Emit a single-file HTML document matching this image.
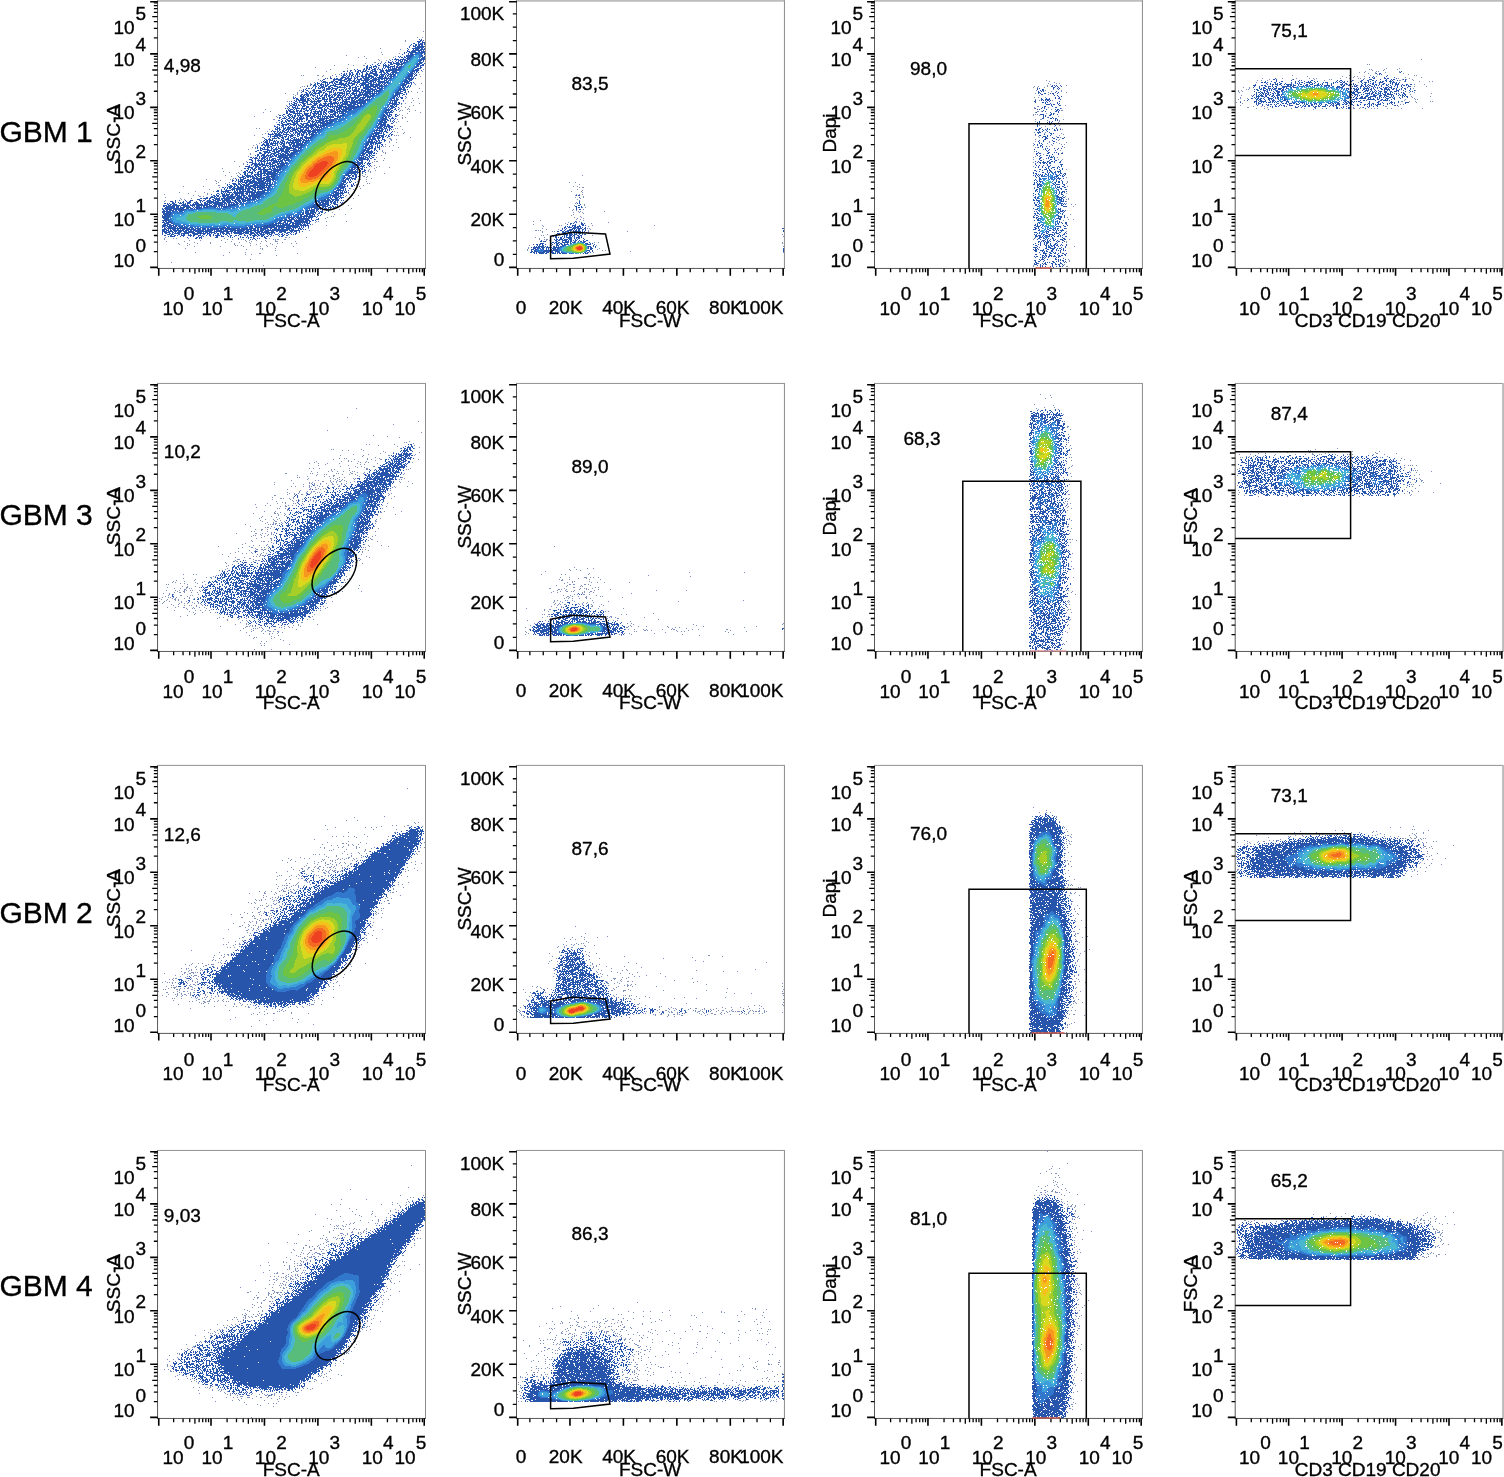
<!DOCTYPE html>
<html lang="en"><head><meta charset="utf-8"><title>GBM flow cytometry gating</title>
<style>html,body{margin:0;padding:0;background:#fff}body{width:1504px;height:1477px;overflow:hidden}svg{display:block}text{font-family:"Liberation Sans",sans-serif;font-size:19px;fill:#000;stroke:#000;stroke-width:0.35px}.row{font-size:30px}.d path{fill:none;stroke-width:1;shape-rendering:crispEdges}</style></head><body>
<svg width="1504" height="1477" viewBox="0 0 1504 1477">
<rect width="1504" height="1477" fill="#fff"/>
<g id="p00">
<g class="d" transform="translate(0 0.5)"><path stroke="#7f90bb" d="M423 31h1M417 37h1m4 0h1M405 40h1M405 41h1M380 48h1M400 49h1M381 52h1M399 53h1M382 54h1M346 55h1M364 56h1m30 0h1M358 57h1m34 0h1M366 58h1M378 59h1m10 0h1M379 60h1m6 0h1M381 61h1M374 62h2m5 0h1M365 63h1M348 64h1M334 65h1m18 0h1m9 0h2M315 67h1M347 68h1M330 69h1m92 0h1M347 70h1M326 71h1m95 0h1M335 74h1m3 0h1m79 0h1M301 75h1m1 0h1m13 0h2m4 0h1m8 0h1M322 76h1m7 0h1m89 0h1M318 79h1M314 82h1M310 83h1m103 0h1m6 0h1M310 84h1m104 0h1M307 85h1M302 86h1m1 0h1M300 87h1M419 88h1M299 90h1m1 0h1M411 91h1m10 0h1M297 92h1m110 0h1m8 0h1M285 93h1m11 0h1M293 94h1m3 0h1M295 95h1M293 96h1M406 97h1M405 98h1m6 0h1m5 0h1M413 100h1M287 101h1m1 0h1m113 0h1M411 102h1M405 103h1m13 0h1M401 104h1M286 105h1m126 0h1M401 106h1m7 0h1M405 107h1M399 108h1m8 0h1M265 109h1m141 0h1m1 0h1M400 110h1m1 0h1m12 0h1M270 111h1m128 0h1m9 0h1M263 112h1m156 0h1M407 113h1M278 114h1m120 0h1M398 115h1m3 0h1M254 116h1m21 0h1M277 117h1m124 0h1m2 0h1M402 118h1M273 119h2m122 0h1M398 121h1m8 0h1M276 122h1m119 0h1M274 125h1m119 0h1M400 126h1M256 128h1m2 0h1m135 0h1m1 0h1M269 129h1m123 0h1m8 0h1M267 131h1m126 0h1M397 132h1m6 0h1M265 133h1m137 0h1M262 134h1M254 135h1m139 0h1m1 0h1m1 0h1M262 137h2m146 0h1M389 138h2M390 139h2m4 0h1M391 140h1M389 141h1M389 142h1m6 0h1M259 143h1M256 144h1m128 0h1M253 145h1m3 0h1m135 0h1M383 146h1m1 0h1m3 0h1M252 147h1m2 0h1m142 0h1M255 148h1M248 149h1M382 150h1m9 0h1M382 151h1M383 152h1m1 0h1M250 153h1m134 0h1M250 154h1M381 155h1M248 156h1M376 157h1M384 158h1M375 159h1M383 160h1M234 161h1m11 0h1m127 0h1m1 0h2M372 162h1M243 163h1M243 164h1M374 165h1M239 166h1m131 0h1m7 0h1M376 167h1m12 0h1M222 168h1m151 0h1M369 169h1M241 170h1m126 0h1m6 0h1M223 171h1m144 0h1m1 0h1M229 172h1m8 0h1m131 0h1M236 173h1m2 0h1m144 0h1M365 174h1M225 175h1m11 0h1m124 0h1M231 176h1m131 0h2m2 0h1M366 177h1M233 178h1m137 0h1M206 179h1m23 0h1m1 0h1m127 0h1m5 0h1M215 180h1m4 0h1M216 181h1m140 0h1m8 0h1M218 182h1m10 0h1M216 183h1m8 0h1m141 0h1m1 0h1M356 184h1M218 185h2m136 0h1m6 0h1M183 186h1m19 0h1m153 0h1m1 0h1M219 187h1M350 188h1m9 0h1M209 189h1m143 0h1M195 191h1m17 0h1M179 192h1m24 0h1M188 193h1m18 0h1m140 0h1M164 194h1m42 0h1m141 0h1M193 195h1m4 0h1m147 0h1m5 0h1m5 0h1M199 196h2m2 0h1m141 0h1m5 0h1M165 197h1M180 198h1m10 0h1m161 0h1M181 199h1m2 0h1M165 200h1M164 201h1M344 202h1M340 205h1m7 0h1M351 208h1M339 209h1M332 212h1M324 213h1M334 214h1m10 0h1M331 216h1m1 0h1M327 217h1M325 218h1M316 221h1m1 0h1m7 0h1m19 0h1M315 222h1M312 224h1M326 225h1M308 228h1M309 230h1M165 237h1m119 0h2m2 0h1m16 0h1M164 238h1m8 0h1m2 0h1m11 0h1m35 0h1m44 0h1M164 239h1m62 0h1m4 0h1m5 0h1m2 0h1m1 0h1m29 0h1m1 0h1m1 0h2m5 0h2M189 240h1m10 0h1m20 0h1m23 0h1m3 0h1m6 0h1m8 0h1m9 0h1M166 241h1m17 0h1m46 0h1m14 0h1m4 0h1m9 0h1m4 0h1m8 0h3m17 0h1M194 242h1m15 0h1m14 0h1m13 0h1m9 0h1m32 0h1M178 243h1m8 0h1m9 0h1m12 0h1m23 0h1m15 0h1m9 0h1m9 0h1m6 0h1m13 0h1m4 0h1M179 244h1m9 0h1m44 0h1m21 0h1m15 0h1M187 245h1m47 0h1m1 0h1m3 0h1m8 0h1m15 0h1M194 246h1m25 0h1m22 0h1m16 0h1m6 0h1m8 0h1m16 0h1M185 248h1m74 0h1m1 0h1m12 0h1M246 249h1m15 0h1M275 250h1M195 252h1m33 0h1m15 0h1M259 253h2m36 0h1M245 254h1m5 0h1M223 255h1m52 0h1M250 259h1M171 262h1M263 265h1"/><path stroke="#2755ab" d="M419 39h1m1 0h1M420 40h2m1 0h1M417 41h4m1 0h1M418 42h2m2 0h3M413 43h2m3 0h1m1 0h3m1 0h1M411 44h1m3 0h2m1 0h5m1 0h1M410 45h1m2 0h1m1 0h2m1 0h2m1 0h2M409 46h1m3 0h3m1 0h8M409 47h1m5 0h9M407 48h1m4 0h8m1 0h2m1 0h1M408 49h1m4 0h1m1 0h4m1 0h5M407 50h1m4 0h10m1 0h1M407 51h3m1 0h5m2 0h2m1 0h4M404 52h1m1 0h1m2 0h16M404 53h1m3 0h1m1 0h3m2 0h8m1 0h1M402 54h1m5 0h1m1 0h12m2 0h1M406 55h17M398 56h1m1 0h1m3 0h1m1 0h17m1 0h1M399 57h1m1 0h2m1 0h2m1 0h14m1 0h3M395 58h1m7 0h1m2 0h14m1 0h4M392 59h1m1 0h5m1 0h6m1 0h18M390 60h1m5 0h1m1 0h3m1 0h1m1 0h18m1 0h1M388 61h1m3 0h1m2 0h1m2 0h1m1 0h3m1 0h1m1 0h15m2 0h1M385 62h1m2 0h4m1 0h1m2 0h3m1 0h2m1 0h15m1 0h4M378 63h1m1 0h1m3 0h1m5 0h2m1 0h7m1 0h21m2 0h1M372 64h1m4 0h1m5 0h1m1 0h1m2 0h1m1 0h3m3 0h7m1 0h16m2 0h2M367 65h1m2 0h1m4 0h1m2 0h2m3 0h4m1 0h2m4 0h1m2 0h2m2 0h1m1 0h16m1 0h4M366 66h2m3 0h1m1 0h4m6 0h1m1 0h4m1 0h5m1 0h2m1 0h20m1 0h1M366 67h2m1 0h3m1 0h1m2 0h1m1 0h1m4 0h1m1 0h1m1 0h4m1 0h1m1 0h1m1 0h21m3 0h2M364 68h1m1 0h2m1 0h1m1 0h1m2 0h2m2 0h1m3 0h1m1 0h1m3 0h1m1 0h1m1 0h5m1 0h17m2 0h4M354 69h1m2 0h1m5 0h2m1 0h1m1 0h2m2 0h4m1 0h1m1 0h2m1 0h1m3 0h1m1 0h26m1 0h4M350 70h2m3 0h1m2 0h3m2 0h1m1 0h2m4 0h2m1 0h2m4 0h4m1 0h34m2 0h1M343 71h2m2 0h1m2 0h1m4 0h1m1 0h2m1 0h1m1 0h4m1 0h2m1 0h1m1 0h5m3 0h4m2 0h4m2 0h5m1 0h17m1 0h2M349 72h1m1 0h2m4 0h2m2 0h2m3 0h1m3 0h3m2 0h2m2 0h3m1 0h2m1 0h2m3 0h22m1 0h1m1 0h1m1 0h1M341 73h1m2 0h1m1 0h1m2 0h2m1 0h1m3 0h2m1 0h1m2 0h1m3 0h2m1 0h8m4 0h1m2 0h2m1 0h2m1 0h1m1 0h2m1 0h19m1 0h1M343 74h2m1 0h1m2 0h2m1 0h2m2 0h2m1 0h1m2 0h1m2 0h5m3 0h5m2 0h5m1 0h1m1 0h25m1 0h1m1 0h1M341 75h1m1 0h3m1 0h1m1 0h1m1 0h2m2 0h1m1 0h1m3 0h2m2 0h2m1 0h4m2 0h4m1 0h1m1 0h3m1 0h1m1 0h2m1 0h2m1 0h20m2 0h2M336 76h1m5 0h2m2 0h1m1 0h2m1 0h1m1 0h1m1 0h1m1 0h3m1 0h6m1 0h6m2 0h1m2 0h5m1 0h1m1 0h1m1 0h24m1 0h1M330 77h1m10 0h5m1 0h2m2 0h1m2 0h1m1 0h2m4 0h2m1 0h5m1 0h3m1 0h1m1 0h6m1 0h3m1 0h1m1 0h20m1 0h1m1 0h1M325 78h1m1 0h1m2 0h2m2 0h1m1 0h2m2 0h3m2 0h7m2 0h2m1 0h1m2 0h2m1 0h6m1 0h2m1 0h4m1 0h36m1 0h1M323 79h2m8 0h9m2 0h3m1 0h3m3 0h1m2 0h5m2 0h6m2 0h8m1 0h2m1 0h1m1 0h2m1 0h18m1 0h5M320 80h1m1 0h1m10 0h2m3 0h7m2 0h5m1 0h2m1 0h1m1 0h2m1 0h8m1 0h7m1 0h2m4 0h3m1 0h20m1 0h3M321 81h1m1 0h3m5 0h3m1 0h3m2 0h2m2 0h4m1 0h1m2 0h4m1 0h3m3 0h1m1 0h3m1 0h5m1 0h1m1 0h8m1 0h24M317 82h1m4 0h6m1 0h4m1 0h1m1 0h2m1 0h3m4 0h1m1 0h2m1 0h1m2 0h6m2 0h7m1 0h2m1 0h3m2 0h25m1 0h5m1 0h2m1 0h1M315 83h1m1 0h3m1 0h1m3 0h1m1 0h1m1 0h1m2 0h1m1 0h2m3 0h5m1 0h2m1 0h7m2 0h1m2 0h6m2 0h4m1 0h1m2 0h1m1 0h3m1 0h1m1 0h2m1 0h18m1 0h4m1 0h1M311 84h1m2 0h2m1 0h1m2 0h4m1 0h1m1 0h2m4 0h1m1 0h11m1 0h2m3 0h3m1 0h1m2 0h1m1 0h8m1 0h10m1 0h1m1 0h2m1 0h21m4 0h1M310 85h1m2 0h3m2 0h1m1 0h2m1 0h1m1 0h3m2 0h6m5 0h1m1 0h4m1 0h2m1 0h2m3 0h1m3 0h4m1 0h4m1 0h4m1 0h8m1 0h22m2 0h1m1 0h1M307 86h1m5 0h1m1 0h2m2 0h1m1 0h3m1 0h2m1 0h3m3 0h4m1 0h2m3 0h1m1 0h2m1 0h2m4 0h1m1 0h2m1 0h1m2 0h1m1 0h13m1 0h22m1 0h2m1 0h1m1 0h2m1 0h1M312 87h1m2 0h1m2 0h1m1 0h5m3 0h2m1 0h2m4 0h9m3 0h2m1 0h5m3 0h1m2 0h8m2 0h3m1 0h3m1 0h20m1 0h3m1 0h2m1 0h1M306 88h1m1 0h2m1 0h1m3 0h1m2 0h3m1 0h1m1 0h1m1 0h5m1 0h6m6 0h1m1 0h1m1 0h3m1 0h1m2 0h2m1 0h2m3 0h6m1 0h3m2 0h1m1 0h25m1 0h2M303 89h1m1 0h1m7 0h2m8 0h2m1 0h4m1 0h2m2 0h2m2 0h1m1 0h3m1 0h2m2 0h1m2 0h1m1 0h3m1 0h2m1 0h2m2 0h12m2 0h27m1 0h1M303 90h1m2 0h2m4 0h3m1 0h5m1 0h3m1 0h1m4 0h1m1 0h2m1 0h1m2 0h3m1 0h1m1 0h1m1 0h2m1 0h1m1 0h7m2 0h5m1 0h4m1 0h3m1 0h25m2 0h3M302 91h2m4 0h1m1 0h1m2 0h2m1 0h1m2 0h3m3 0h1m1 0h5m1 0h1m9 0h2m1 0h5m2 0h7m1 0h1m1 0h10m1 0h25m1 0h3m2 0h1m2 0h1M301 92h1m3 0h2m2 0h2m1 0h1m1 0h2m2 0h4m1 0h2m4 0h3m1 0h1m1 0h1m1 0h6m1 0h1m1 0h1m2 0h1m2 0h2m2 0h1m2 0h5m1 0h6m1 0h1m1 0h1m1 0h1m1 0h23m3 0h2M306 93h2m1 0h1m1 0h1m1 0h7m3 0h1m1 0h2m2 0h1m4 0h2m1 0h1m1 0h6m1 0h4m1 0h6m2 0h2m1 0h1m1 0h39m3 0h1M301 94h2m1 0h5m1 0h3m2 0h1m3 0h1m2 0h1m2 0h3m1 0h1m1 0h1m1 0h4m1 0h2m2 0h1m1 0h1m1 0h2m2 0h1m1 0h3m1 0h1m1 0h10m1 0h2m1 0h22m1 0h5m3 0h2m1 0h1M300 95h2m1 0h2m1 0h3m1 0h1m1 0h3m2 0h1m1 0h1m1 0h2m1 0h3m1 0h3m1 0h1m1 0h2m1 0h5m1 0h2m1 0h1m1 0h1m1 0h2m2 0h8m1 0h6m1 0h28m1 0h1m2 0h1M300 96h4m1 0h1m1 0h2m4 0h1m1 0h1m1 0h1m2 0h2m2 0h1m1 0h1m1 0h2m1 0h2m1 0h1m2 0h2m1 0h1m1 0h2m1 0h1m3 0h2m3 0h2m1 0h3m3 0h1m1 0h31m1 0h1m1 0h1m5 0h1M293 97h1m1 0h1m5 0h4m1 0h1m4 0h1m4 0h2m1 0h1m2 0h3m1 0h1m2 0h5m2 0h7m1 0h2m1 0h12m1 0h6m1 0h4m1 0h23m1 0h1m1 0h1m1 0h3M293 98h2m1 0h2m2 0h4m1 0h1m1 0h3m2 0h2m1 0h1m1 0h4m1 0h3m2 0h1m1 0h2m3 0h3m2 0h1m1 0h2m3 0h1m1 0h2m1 0h3m1 0h3m1 0h2m1 0h3m2 0h1m1 0h1m1 0h24m1 0h2m3 0h2M296 99h3m1 0h6m1 0h2m1 0h1m2 0h1m1 0h2m1 0h1m3 0h6m1 0h3m1 0h5m1 0h2m1 0h1m1 0h6m1 0h2m1 0h2m2 0h6m1 0h27m2 0h1m1 0h3M294 100h1m1 0h1m1 0h8m1 0h3m1 0h1m2 0h1m2 0h5m2 0h1m1 0h1m2 0h2m2 0h3m2 0h2m2 0h2m1 0h2m4 0h4m1 0h42m5 0h1M291 101h1m3 0h2m2 0h1m2 0h6m2 0h11m3 0h4m1 0h3m3 0h1m1 0h1m4 0h8m1 0h7m1 0h7m1 0h24m1 0h1m1 0h3M293 102h2m2 0h1m1 0h5m2 0h2m3 0h2m1 0h1m1 0h1m1 0h2m5 0h1m4 0h2m1 0h4m1 0h1m1 0h3m1 0h4m1 0h42m1 0h1m1 0h3m1 0h2M289 103h1m1 0h1m2 0h3m5 0h4m1 0h1m2 0h1m2 0h5m2 0h1m2 0h4m1 0h11m1 0h1m1 0h6m2 0h6m1 0h40m2 0h1m1 0h1M289 104h1m2 0h3m1 0h1m1 0h1m1 0h1m2 0h2m2 0h5m2 0h3m2 0h3m2 0h2m1 0h2m1 0h3m1 0h1m2 0h1m1 0h1m1 0h11m1 0h5m2 0h2m1 0h27m2 0h7M290 105h2m1 0h4m1 0h2m1 0h1m1 0h3m6 0h4m1 0h1m1 0h10m1 0h1m1 0h1m2 0h1m1 0h6m2 0h1m1 0h8m2 0h2m1 0h29m1 0h3m1 0h1m1 0h1M287 106h1m1 0h1m2 0h1m2 0h1m1 0h1m4 0h3m1 0h3m2 0h3m3 0h1m1 0h1m2 0h3m1 0h1m1 0h10m1 0h8m1 0h41m1 0h4m1 0h2M288 107h1m3 0h4m1 0h1m4 0h1m3 0h3m2 0h5m1 0h6m2 0h1m1 0h1m2 0h1m1 0h1m1 0h1m1 0h6m1 0h45m1 0h1m1 0h4m3 0h1M285 108h1m1 0h1m1 0h1m3 0h1m1 0h5m1 0h6m2 0h2m1 0h1m1 0h1m3 0h4m2 0h1m2 0h2m4 0h2m1 0h1m1 0h4m1 0h1m1 0h42m1 0h1m1 0h3m2 0h1M288 109h1m1 0h3m1 0h1m1 0h1m4 0h1m1 0h2m1 0h1m2 0h1m1 0h4m1 0h1m4 0h2m1 0h3m2 0h4m1 0h1m1 0h4m1 0h11m1 0h38m3 0h2m2 0h1M286 110h1m1 0h3m2 0h1m2 0h3m1 0h2m3 0h4m1 0h2m3 0h1m3 0h1m1 0h2m1 0h3m3 0h5m1 0h2m1 0h2m1 0h5m1 0h42m1 0h2m3 0h1M286 111h2m1 0h6m1 0h2m1 0h3m1 0h2m2 0h1m3 0h1m1 0h9m1 0h2m1 0h1m1 0h8m1 0h50m1 0h1m1 0h2m1 0h1M286 112h2m2 0h5m2 0h1m1 0h1m4 0h1m5 0h2m2 0h2m1 0h2m1 0h2m1 0h3m2 0h1m1 0h3m1 0h4m1 0h1m1 0h3m1 0h48M286 113h2m1 0h1m3 0h9m2 0h5m1 0h1m1 0h7m1 0h2m1 0h1m1 0h2m2 0h1m3 0h3m1 0h1m1 0h45m1 0h3m1 0h1M283 114h2m3 0h4m3 0h1m1 0h1m1 0h1m2 0h1m1 0h4m2 0h1m2 0h2m1 0h1m1 0h4m1 0h2m1 0h1m3 0h6m2 0h1m3 0h43m1 0h2m1 0h3m3 0h2M279 115h2m1 0h1m4 0h2m1 0h1m1 0h1m1 0h2m1 0h4m1 0h2m1 0h6m2 0h3m2 0h1m1 0h1m1 0h1m2 0h1m2 0h1m1 0h1m1 0h1m1 0h2m1 0h2m1 0h46m1 0h3m1 0h1m3 0h1m1 0h1M283 116h1m1 0h1m2 0h2m1 0h2m1 0h2m2 0h1m1 0h3m3 0h4m1 0h4m1 0h5m1 0h12m1 0h52m1 0h3m4 0h2M279 117h2m3 0h1m1 0h1m2 0h2m1 0h3m2 0h1m1 0h3m1 0h1m2 0h2m2 0h3m1 0h2m1 0h2m1 0h1m1 0h1m1 0h1m1 0h2m1 0h5m3 0h47m1 0h2m1 0h1m3 0h1M279 118h1m2 0h4m2 0h2m1 0h1m1 0h2m1 0h2m1 0h6m1 0h2m2 0h3m4 0h12m1 0h1m3 0h53m2 0h1m1 0h3m1 0h1M281 119h1m4 0h2m2 0h1m2 0h1m1 0h1m1 0h6m3 0h2m3 0h1m1 0h1m1 0h1m3 0h6m1 0h1m2 0h59m2 0h1m3 0h1M278 120h2m2 0h1m2 0h1m1 0h6m1 0h1m1 0h2m1 0h1m1 0h1m4 0h1m1 0h3m1 0h1m2 0h9m1 0h61m1 0h2m1 0h1m2 0h1M281 121h2m2 0h2m1 0h2m1 0h2m1 0h6m1 0h2m1 0h1m3 0h2m1 0h4m1 0h1m1 0h3m1 0h6m1 0h54m1 0h3m3 0h1m1 0h1m1 0h1M279 122h1m1 0h1m1 0h2m1 0h1m5 0h3m1 0h2m9 0h3m2 0h2m1 0h10m1 0h61m6 0h1M281 123h2m4 0h4m2 0h5m2 0h2m1 0h5m2 0h1m1 0h1m1 0h2m1 0h1m2 0h62m1 0h3m5 0h2M277 124h3m2 0h7m1 0h6m1 0h2m2 0h3m2 0h3m1 0h7m1 0h1m1 0h1m1 0h64m1 0h2M279 125h1m1 0h3m1 0h2m2 0h1m3 0h2m1 0h1m1 0h3m1 0h2m1 0h12m1 0h61m1 0h6m1 0h3M274 126h2m1 0h1m4 0h2m4 0h1m1 0h1m5 0h1m2 0h4m1 0h3m1 0h6m1 0h4m1 0h5m1 0h52m1 0h4m1 0h9M276 127h2m1 0h1m1 0h1m1 0h1m1 0h1m1 0h6m1 0h1m1 0h1m1 0h1m1 0h9m1 0h3m1 0h1m1 0h6m1 0h59m1 0h2m1 0h1m1 0h2m1 0h2M275 128h1m1 0h3m3 0h3m1 0h4m1 0h3m1 0h5m2 0h1m2 0h3m2 0h3m1 0h1m1 0h1m1 0h1m1 0h55m1 0h6m1 0h3m2 0h2M275 129h3m1 0h2m2 0h2m1 0h4m1 0h7m2 0h4m1 0h2m1 0h1m2 0h1m1 0h65m1 0h1m1 0h3m1 0h1m1 0h1m1 0h1m1 0h1M272 130h1m4 0h1m1 0h1m2 0h2m1 0h2m1 0h1m1 0h1m1 0h4m1 0h2m1 0h3m1 0h7m1 0h71m2 0h1m1 0h1m1 0h1M271 131h1m1 0h3m1 0h2m1 0h1m1 0h3m2 0h2m1 0h3m2 0h2m1 0h8m1 0h9m1 0h58m1 0h1m2 0h4m1 0h3m5 0h1M274 132h1m2 0h1m1 0h4m1 0h4m1 0h1m3 0h1m1 0h3m1 0h2m1 0h5m1 0h3m1 0h68m1 0h1m1 0h1m2 0h2m3 0h1M268 133h1m3 0h1m1 0h3m1 0h2m1 0h1m1 0h1m2 0h1m3 0h1m2 0h1m1 0h1m1 0h3m1 0h1m1 0h2m1 0h1m1 0h2m1 0h3m1 0h67m1 0h1m6 0h1M268 134h6m1 0h6m2 0h6m2 0h2m1 0h1m2 0h3m1 0h3m2 0h2m1 0h65m1 0h4m4 0h2m4 0h1m1 0h2M270 135h1m3 0h9m3 0h1m2 0h5m1 0h1m1 0h1m1 0h1m1 0h3m2 0h1m2 0h1m1 0h61m1 0h4m1 0h6m2 0h1m1 0h1m2 0h1M268 136h1m1 0h1m1 0h6m1 0h2m1 0h1m1 0h3m1 0h1m1 0h3m4 0h2m3 0h1m1 0h3m3 0h70m1 0h3m1 0h1m2 0h2M270 137h1m3 0h1m2 0h2m2 0h3m1 0h1m2 0h1m1 0h1m2 0h3m4 0h3m1 0h67m1 0h3m2 0h4m1 0h2m3 0h1M264 138h1m4 0h1m2 0h5m1 0h2m2 0h2m3 0h2m2 0h2m1 0h1m1 0h1m1 0h1m1 0h3m2 0h66m1 0h4m1 0h3m2 0h1M265 139h2m1 0h3m1 0h1m8 0h1m1 0h1m1 0h4m1 0h1m2 0h8m1 0h3m1 0h1m1 0h1m1 0h66m2 0h1m3 0h3M264 140h1m1 0h2m1 0h4m1 0h1m1 0h1m4 0h3m4 0h14m1 0h67m1 0h2m2 0h2m1 0h2m1 0h1m2 0h2M263 141h1m1 0h3m1 0h1m3 0h3m1 0h2m1 0h1m1 0h3m2 0h1m2 0h1m1 0h2m1 0h6m1 0h2m1 0h68m1 0h1m1 0h2m1 0h1m4 0h1M261 142h1m2 0h4m1 0h1m1 0h1m1 0h1m1 0h1m1 0h2m1 0h3m1 0h1m1 0h13m1 0h1m1 0h75m1 0h4M263 143h1m2 0h3m1 0h8m1 0h1m1 0h4m1 0h1m1 0h2m1 0h4m1 0h7m1 0h65m1 0h4m1 0h6M262 144h3m1 0h3m1 0h3m2 0h1m1 0h1m2 0h2m1 0h2m4 0h3m1 0h2m1 0h73m1 0h2m1 0h1m1 0h1m1 0h1m3 0h2M261 145h2m1 0h6m2 0h4m1 0h1m4 0h3m4 0h2m1 0h76m1 0h1m1 0h2m4 0h1m1 0h1m2 0h1M257 146h1m7 0h1m1 0h2m1 0h2m6 0h1m1 0h1m1 0h6m2 0h1m1 0h7m1 0h67m2 0h4m2 0h1m1 0h1m1 0h1m1 0h1M257 147h1m2 0h1m2 0h2m2 0h3m1 0h1m1 0h1m2 0h1m1 0h1m2 0h1m1 0h9m1 0h1m1 0h72m1 0h2m1 0h2m2 0h1m1 0h3M257 148h1m2 0h3m1 0h1m2 0h1m3 0h2m2 0h2m1 0h7m1 0h10m2 0h66m1 0h8m1 0h2m3 0h1M260 149h1m1 0h7m2 0h1m1 0h5m2 0h4m1 0h5m3 0h4m1 0h1m1 0h66m1 0h3m4 0h2m3 0h1M257 150h2m1 0h2m5 0h5m1 0h2m1 0h1m1 0h6m1 0h4m1 0h79m2 0h1m2 0h1m1 0h1M255 151h2m6 0h5m1 0h1m2 0h3m1 0h4m1 0h9m3 0h72m1 0h7m4 0h1M259 152h2m3 0h7m3 0h5m2 0h1m2 0h4m1 0h1m1 0h73m1 0h8m1 0h1M259 153h3m2 0h2m2 0h1m2 0h5m2 0h3m1 0h2m1 0h4m1 0h76m2 0h4m1 0h2m1 0h1M257 154h2m3 0h3m2 0h1m2 0h2m1 0h2m1 0h3m1 0h6m1 0h74m1 0h3m1 0h2m1 0h1m1 0h1M255 155h1m1 0h2m2 0h4m1 0h5m1 0h1m1 0h3m1 0h86m2 0h2m1 0h2m1 0h3M257 156h1m1 0h1m1 0h1m1 0h4m1 0h1m1 0h4m1 0h2m1 0h10m1 0h71m1 0h1m1 0h3m2 0h2m1 0h1M250 157h2m1 0h1m1 0h2m2 0h1m2 0h4m1 0h1m1 0h3m5 0h87m1 0h3m1 0h1m2 0h2M252 158h1m1 0h4m1 0h1m1 0h4m1 0h2m1 0h1m2 0h4m3 0h3m1 0h6m1 0h76m1 0h2m1 0h2M249 159h3m3 0h1m2 0h1m2 0h2m1 0h2m1 0h1m1 0h1m1 0h3m1 0h1m1 0h4m1 0h3m1 0h83m5 0h1M251 160h2m2 0h1m1 0h5m1 0h2m1 0h11m1 0h1m1 0h3m1 0h74m1 0h4m4 0h1m1 0h1M252 161h1m2 0h1m2 0h1m1 0h6m1 0h1m3 0h1m1 0h10m2 0h1m2 0h71m2 0h2m6 0h1M247 162h1m1 0h4m2 0h1m3 0h1m1 0h1m2 0h1m2 0h1m1 0h2m1 0h6m1 0h1m1 0h3m1 0h78m2 0h1m2 0h1M252 163h5m1 0h2m1 0h2m1 0h1m1 0h5m1 0h3m2 0h78m2 0h6m1 0h1m2 0h4M247 164h1m3 0h2m1 0h11m1 0h1m2 0h4m2 0h1m1 0h2m1 0h5m1 0h75m1 0h1m4 0h1m1 0h1M249 165h1m1 0h1m2 0h4m1 0h2m1 0h7m1 0h1m1 0h5m1 0h82m1 0h1m1 0h2m3 0h1m1 0h1M245 166h5m3 0h1m1 0h4m2 0h2m2 0h1m1 0h1m1 0h6m1 0h80m1 0h2m1 0h4m5 0h1M248 167h5m2 0h2m1 0h3m2 0h3m2 0h1m1 0h1m1 0h1m1 0h1m1 0h84m2 0h1m1 0h1m1 0h1M244 168h2m1 0h2m2 0h2m1 0h2m2 0h3m2 0h2m4 0h2m1 0h4m1 0h1m1 0h74m1 0h2m1 0h1m2 0h3M248 169h1m1 0h1m1 0h3m1 0h1m1 0h14m1 0h82m1 0h2m1 0h1m1 0h2m1 0h1M246 170h2m2 0h1m2 0h3m4 0h2m1 0h5m3 0h82m2 0h1m1 0h1m1 0h2m3 0h2M244 171h2m1 0h1m1 0h1m2 0h1m1 0h1m3 0h4m1 0h9m1 0h85m2 0h1m1 0h3M243 172h3m2 0h5m2 0h1m1 0h2m1 0h2m1 0h3m1 0h9m1 0h82m3 0h1m2 0h1M244 173h2m1 0h1m3 0h2m4 0h2m1 0h96m1 0h1m4 0h1M240 174h1m3 0h2m1 0h1m3 0h1m2 0h8m2 0h1m1 0h83m2 0h1m2 0h3m2 0h1M242 175h1m2 0h6m1 0h1m1 0h2m1 0h2m1 0h2m1 0h3m1 0h2m2 0h80m1 0h2m1 0h2M238 176h1m3 0h3m1 0h8m1 0h2m1 0h4m4 0h79m3 0h2m2 0h2m1 0h2m1 0h1M239 177h5m1 0h1m1 0h2m1 0h1m1 0h3m1 0h2m2 0h2m1 0h7m1 0h75m1 0h1m1 0h3m3 0h2m2 0h1M235 178h1m4 0h1m2 0h3m6 0h13m1 0h5m1 0h73m1 0h4m1 0h5M236 179h1m1 0h1m1 0h4m3 0h2m1 0h2m1 0h2m1 0h6m1 0h81m1 0h4m1 0h1m1 0h1m1 0h2M232 180h2m2 0h1m1 0h1m1 0h3m1 0h7m1 0h3m2 0h8m1 0h5m1 0h74m2 0h1m1 0h1M232 181h1m2 0h1m2 0h5m1 0h1m1 0h11m1 0h6m1 0h6m2 0h73m3 0h1m1 0h1M238 182h1m1 0h1m1 0h6m1 0h17m1 0h1m1 0h2m1 0h1m1 0h68m1 0h3m1 0h1m1 0h2m4 0h1M232 183h4m2 0h2m1 0h1m3 0h2m1 0h5m1 0h17m1 0h72m2 0h1m6 0h1M227 184h1m1 0h1m3 0h4m1 0h3m1 0h3m1 0h4m3 0h5m1 0h6m1 0h2m1 0h77m5 0h1m1 0h1M227 185h1m2 0h2m2 0h1m1 0h2m2 0h2m1 0h6m1 0h93m1 0h1m2 0h1m3 0h2m1 0h1M228 186h5m1 0h2m1 0h2m1 0h4m1 0h11m1 0h8m1 0h1m1 0h78m1 0h1m3 0h2M222 187h2m1 0h1m1 0h1m1 0h3m1 0h2m2 0h7m1 0h2m1 0h3m2 0h92M224 188h1m2 0h1m1 0h2m1 0h12m1 0h8m1 0h2m1 0h1m1 0h6m2 0h72m1 0h4m1 0h1m3 0h1M221 189h1m2 0h1m1 0h1m4 0h4m1 0h10m1 0h3m1 0h3m1 0h1m1 0h6m1 0h2m1 0h69m1 0h4m2 0h1m1 0h1M217 190h2m2 0h1m3 0h6m1 0h1m1 0h1m1 0h2m1 0h2m1 0h2m1 0h1m1 0h3m2 0h4m2 0h1m3 0h73m1 0h8m1 0h1m2 0h1M216 191h3m2 0h8m5 0h2m1 0h1m1 0h14m1 0h2m1 0h8m2 0h70m1 0h1m1 0h1m1 0h1m1 0h1m1 0h1M221 192h1m1 0h1m1 0h1m1 0h5m1 0h11m2 0h93m1 0h3m1 0h3m1 0h1M217 193h2m2 0h2m1 0h1m1 0h1m2 0h1m2 0h1m1 0h10m1 0h3m1 0h1m1 0h4m1 0h78m1 0h9M211 194h1m4 0h1m2 0h1m2 0h3m1 0h4m1 0h3m1 0h3m1 0h1m1 0h3m2 0h2m1 0h1m1 0h81m1 0h6m1 0h1m1 0h1M213 195h2m1 0h3m3 0h7m1 0h3m2 0h5m1 0h5m2 0h91m1 0h2m1 0h1M211 196h2m1 0h2m1 0h2m1 0h1m1 0h4m1 0h9m1 0h5m1 0h2m1 0h1m1 0h81m1 0h1m1 0h5m1 0h3M206 197h2m2 0h5m1 0h1m2 0h1m3 0h2m1 0h9m1 0h6m1 0h5m1 0h2m1 0h79m1 0h1m1 0h5m1 0h4M200 198h2m1 0h5m1 0h2m3 0h6m1 0h14m1 0h8m1 0h6m1 0h4m1 0h72m1 0h2m3 0h3m1 0h1m1 0h1M197 199h3m5 0h1m3 0h1m2 0h2m1 0h5m1 0h2m1 0h6m1 0h2m2 0h5m1 0h5m1 0h79m1 0h3m1 0h8M175 200h1m3 0h1m5 0h1m4 0h3m6 0h3m1 0h2m2 0h4m2 0h3m1 0h4m1 0h9m1 0h4m1 0h4m1 0h89m1 0h2m1 0h4m2 0h1m1 0h1M170 201h3m2 0h1m7 0h1m2 0h1m2 0h2m5 0h1m3 0h1m1 0h1m3 0h8m1 0h4m3 0h3m1 0h5m3 0h3m1 0h3m1 0h4m1 0h73m1 0h8m1 0h3m1 0h2m1 0h1M172 202h2m1 0h1m2 0h1m1 0h1m1 0h2m3 0h4m3 0h4m2 0h1m3 0h2m1 0h19m1 0h7m1 0h3m1 0h3m1 0h74m1 0h6m1 0h4m1 0h2m1 0h3m1 0h1m2 0h1m1 0h1M164 203h2m1 0h1m1 0h1m2 0h3m4 0h3m1 0h1m1 0h1m1 0h3m3 0h1m1 0h4m2 0h1m2 0h4m1 0h3m1 0h10m1 0h3m1 0h2m1 0h1m1 0h2m1 0h3m1 0h78m1 0h2m1 0h7m2 0h1m1 0h3m5 0h1M167 204h2m1 0h2m1 0h4m5 0h4m1 0h1m2 0h1m1 0h11m1 0h6m2 0h1m1 0h11m1 0h1m1 0h10m1 0h90m1 0h1m3 0h4M163 205h4m1 0h3m1 0h8m1 0h8m1 0h5m1 0h12m1 0h3m1 0h4m1 0h5m1 0h1m1 0h1m1 0h98m1 0h3m2 0h1m4 0h1M163 206h2m1 0h9m1 0h3m1 0h1m2 0h7m2 0h1m1 0h1m1 0h4m1 0h1m1 0h2m1 0h11m1 0h2m1 0h99m2 0h6m2 0h1m1 0h2m1 0h1m1 0h2M165 207h10m1 0h3m1 0h5m1 0h5m2 0h1m1 0h7m1 0h13m1 0h1m1 0h1m1 0h1m1 0h95m1 0h2m1 0h2m1 0h1m2 0h4m1 0h2m2 0h1M162 208h1m1 0h20m2 0h3m1 0h3m1 0h1m1 0h114m1 0h1m2 0h7m1 0h1m1 0h3m1 0h1m1 0h1M162 209h2m1 0h7m1 0h135m1 0h1m1 0h4m1 0h3m1 0h1m1 0h1m1 0h4M163 210h2m1 0h2m1 0h5m1 0h2m1 0h137m1 0h2m4 0h1m3 0h1m1 0h1M162 211h9m1 0h6m1 0h125m1 0h4m1 0h5m1 0h1m1 0h1m1 0h3m5 0h1M162 212h3m1 0h138m1 0h4m1 0h6m3 0h1m1 0h2m2 0h1M163 213h138m1 0h2m1 0h9m1 0h1m2 0h2M163 214h141m2 0h5m1 0h3m2 0h1m3 0h1M162 215h1m1 0h135m1 0h2m2 0h4m1 0h4m1 0h1m3 0h1m1 0h1M162 216h128m1 0h1m1 0h6m1 0h16m1 0h1M162 217h133m1 0h6m1 0h2m1 0h1m1 0h5m3 0h1M163 218h124m1 0h2m1 0h3m1 0h1m1 0h13m1 0h1m6 0h1M164 219h123m2 0h6m1 0h1m1 0h11m2 0h1m4 0h3M162 220h130m2 0h10m1 0h5m2 0h2m1 0h1M163 221h1m1 0h2m1 0h114m2 0h2m1 0h5m2 0h14m1 0h2M162 222h3m1 0h111m1 0h3m2 0h3m1 0h1m2 0h4m1 0h13m1 0h1M164 223h5m2 0h103m1 0h9m1 0h3m1 0h2m1 0h9m1 0h1m1 0h1m1 0h4M163 224h3m1 0h4m2 0h104m1 0h1m1 0h1m1 0h8m2 0h2m1 0h7m1 0h3m1 0h1m2 0h1M162 225h6m1 0h5m1 0h124m1 0h9M162 226h4m1 0h5m1 0h4m1 0h5m1 0h69m1 0h21m1 0h9m1 0h14m1 0h1m1 0h1m1 0h1m2 0h1M162 227h1m1 0h1m1 0h1m1 0h8m1 0h1m1 0h47m1 0h3m1 0h17m1 0h4m2 0h7m1 0h14m1 0h13m1 0h6m1 0h1m1 0h1m1 0h1m4 0h1M164 228h2m1 0h23m1 0h3m1 0h6m1 0h4m1 0h2m1 0h30m1 0h7m1 0h7m1 0h2m1 0h8m2 0h2m2 0h3m1 0h2m1 0h3m2 0h6m1 0h1m1 0h1m2 0h3m1 0h1M162 229h5m1 0h1m1 0h1m1 0h4m1 0h2m1 0h1m1 0h3m1 0h10m1 0h4m1 0h4m1 0h12m1 0h4m1 0h11m1 0h15m1 0h3m1 0h2m1 0h6m1 0h2m1 0h1m1 0h18m1 0h3m4 0h1m1 0h2m1 0h1m1 0h1M162 230h3m1 0h3m1 0h2m1 0h11m1 0h4m1 0h2m1 0h11m1 0h8m1 0h1m1 0h6m1 0h5m2 0h15m1 0h3m1 0h9m1 0h4m1 0h23m1 0h11M162 231h5m1 0h5m1 0h3m1 0h4m1 0h4m1 0h6m1 0h17m2 0h19m1 0h2m1 0h7m1 0h7m2 0h2m1 0h6m1 0h5m2 0h3m2 0h2m1 0h7m4 0h3m1 0h3m2 0h1m2 0h1M162 232h1m1 0h6m2 0h2m1 0h1m1 0h4m3 0h11m2 0h5m1 0h1m1 0h3m1 0h6m1 0h1m3 0h4m2 0h3m2 0h1m1 0h9m1 0h6m1 0h4m1 0h5m1 0h14m4 0h3m2 0h2m1 0h3m1 0h1m1 0h1m2 0h1m2 0h1M162 233h1m2 0h2m2 0h2m1 0h1m1 0h6m1 0h8m3 0h14m1 0h3m1 0h1m2 0h2m1 0h2m1 0h1m1 0h3m1 0h4m1 0h1m2 0h10m1 0h4m1 0h5m1 0h2m1 0h3m1 0h1m1 0h5m1 0h2m1 0h1m3 0h1m3 0h1m3 0h2m2 0h1m4 0h2M162 234h1m4 0h3m1 0h3m4 0h2m1 0h1m1 0h2m3 0h1m1 0h1m2 0h5m2 0h1m2 0h2m2 0h1m1 0h2m2 0h1m3 0h2m1 0h1m2 0h1m1 0h2m2 0h1m9 0h3m2 0h1m4 0h3m2 0h2m1 0h2m1 0h5m2 0h1m1 0h3m3 0h3m1 0h1m1 0h2m1 0h1m3 0h1m2 0h1m1 0h1m1 0h1M164 235h2m4 0h2m2 0h2m1 0h1m3 0h4m3 0h4m1 0h2m3 0h3m1 0h1m3 0h1m2 0h2m2 0h1m1 0h5m1 0h1m5 0h1m2 0h2m3 0h2m1 0h1m5 0h2m1 0h1m2 0h1m1 0h5m1 0h2m1 0h3m4 0h1m2 0h1m1 0h1m4 0h1m3 0h2m2 0h2M168 236h1m1 0h5m5 0h1m2 0h1m6 0h1m2 0h1m4 0h1m2 0h1m1 0h1m6 0h1m5 0h2m3 0h3m4 0h1m1 0h1m3 0h1m5 0h1m6 0h1m5 0h2m2 0h1m3 0h2m1 0h1m1 0h2m2 0h1m8 0h1m1 0h2M187 237h1m8 0h2m1 0h3m13 0h3m12 0h1m1 0h1m7 0h1m1 0h2m2 0h1m1 0h1m1 0h2m1 0h1m10 0h2M195 238h2m2 0h1m1 0h1m36 0h1m9 0h1m4 0h2m2 0h1m1 0h1m5 0h2M250 239h1m1 0h1m2 0h1"/><path stroke="#3178cc" d="M417 52h2M415 53h6M414 54h7M413 55h8M412 56h9M411 57h10M410 58h10M409 59h11M408 60h12M407 61h12M406 62h12M404 63h14M404 64h13M403 65h14M402 66h14M401 67h14M401 68h13M400 69h13M399 70h13M398 71h14M397 72h14M396 73h14M395 74h14M395 75h13M394 76h14M392 77h15M391 78h15M389 79h16M389 80h16M388 81h16M388 82h15M388 83h15M387 84h15M386 85h15M384 86h17M383 87h17M382 88h17M382 89h17M381 90h17M380 91h17M379 92h17M377 93h18M375 94h19M374 95h20M373 96h20M372 97h21M371 98h21M370 99h21M368 100h23M367 101h23M366 102h24M365 103h24M364 104h25M362 105h27M361 106h27M359 107h29M356 108h31M354 109h32M351 110h34M348 111h37M346 112h38M345 113h39M344 114h39M344 115h39M342 116h41M341 117h41M338 118h44M335 119h46M334 120h47M333 121h47M332 122h47M331 123h48M328 124h50M327 125h51M326 126h51M323 127h54M322 128h54M321 129h55M320 130h55M318 131h56M317 132h57M316 133h57M315 134h57M314 135h57M313 136h57M312 137h57M311 138h58M310 139h59M309 140h59M307 141h61M306 142h61M305 143h61M304 144h62M303 145h62M302 146h63M302 147h63M301 148h63M301 149h63M300 150h63M298 151h65M296 152h66M295 153h66M294 154h67M293 155h67M292 156h68M291 157h68M290 158h69M289 159h69M289 160h69M288 161h69M287 162h69M287 163h68M286 164h68M285 165h68M283 166h70M282 167h70M281 168h70M281 169h70M280 170h70M279 171h70M278 172h70M277 173h70M276 174h70M276 175h69M275 176h69M275 177h69M275 178h68M275 179h68M274 180h69M274 181h68M274 182h68M273 183h68M272 184h68M271 185h68M270 186h69M270 187h68M269 188h68M269 189h67M268 190h67M267 191h67M265 192h69M264 193h69M262 194h70M261 195h69M260 196h69M260 197h68M258 198h69M255 199h69M250 200h70M247 201h71M244 202h73M241 203h74M239 204h75M235 205h78M231 206h81M208 207h6m13 0h83M201 208h108M186 209h122M184 210h122M174 211h3m5 0h122M172 212h131M171 213h130M171 214h129M170 215h128M170 216h119m4 0h4M169 217h119M169 218h118M169 219h116M169 220h111M171 221h108M172 222h105M173 223h99M174 224h95M177 225h87M180 226h1m4 0h65m7 0h4M187 227h3m3 0h30m8 0h15"/><path stroke="#3c9fdc" d="M415 55h4M414 56h5M413 57h6M412 58h7M411 59h8M410 60h8M409 61h9M408 62h9M406 63h10M405 64h11M404 65h11M404 66h10M403 67h11M402 68h11M402 69h10M401 70h10M400 71h10M399 72h10M398 73h10M397 74h10M397 75h10M396 76h10M395 77h10M394 78h10M392 79h12M391 80h12M391 81h11M390 82h12M390 83h11M389 84h11M388 85h12M387 86h12M386 87h12M385 88h13M384 89h12M383 90h12M382 91h13M381 92h13M380 93h13M379 94h14M377 95h15M375 96h17M374 97h17M373 98h17M372 99h18M371 100h18M370 101h19M368 102h21M367 103h21M366 104h22M365 105h22M364 106h22M363 107h22M361 108h23M360 109h24M358 110h25M357 111h26M356 112h26M355 113h27M351 114h30M349 115h32M348 116h32M347 117h33M346 118h33M345 119h34M343 120h35M341 121h37M337 122h40M335 123h42M334 124h42M333 125h43M330 126h46M328 127h47M326 128h48M324 129h50M323 130h50M322 131h50M321 132h51M320 133h51M318 134h52M317 135h52M316 136h52M315 137h52M314 138h53M313 139h54M312 140h54M311 141h55M309 142h56M308 143h56M307 144h57M306 145h58M305 146h58M304 147h59M303 148h60M303 149h59M302 150h60M301 151h60M300 152h61M299 153h61M298 154h61M296 155h63M295 156h63M294 157h64M293 158h64M292 159h64M292 160h64M291 161h64M290 162h64M289 163h64M289 164h63M288 165h64M288 166h63M287 167h63M286 168h64M285 169h64M284 170h64M283 171h64M282 172h64M281 173h64M280 174h64M280 175h63M279 176h64M279 177h63M279 178h63M278 179h64M277 180h64M276 181h65M276 182h64M276 183h64M275 184h64M275 185h63M274 186h63M273 187h63M273 188h62M272 189h62M271 190h62M271 191h62M270 192h62M269 193h61M267 194h61M266 195h60M265 196h59M264 197h57M262 198h57M261 199h56M259 200h57M256 201h59M253 202h61M250 203h62M247 204h64M244 205h65M241 206h66M238 207h67M235 208h68M202 209h15m9 0h76M187 210h2m5 0h106M185 211h114M184 212h113M183 213h112M175 214h112M173 215h112M173 216h111M172 217h107M172 218h104M172 219h103M173 220h101M173 221h99M175 222h94M179 223h85M186 224h65M194 225h29m8 0h14"/><path stroke="#48b7cf" d="M414 58h3M413 59h4M412 60h4M411 61h5M410 62h5M408 63h7M407 64h7M406 65h8M405 66h8M405 67h7M404 68h7M404 69h6M403 70h6M402 71h6M401 72h6M400 73h6M399 74h7M399 75h6M398 76h6M397 77h6M396 78h7M395 79h7M394 80h7M393 81h7M392 82h8M392 83h7M391 84h8M390 85h8M389 86h8M388 87h8M387 88h8M386 89h8M385 90h8M384 91h8M383 92h9M382 93h9M381 94h10M380 95h11M378 96h12M376 97h14M375 98h14M374 99h15M373 100h15M372 101h16M371 102h16M369 103h18M368 104h18M367 105h18M366 106h18M365 107h18M364 108h19M363 109h19M361 110h21M360 111h21M359 112h22M358 113h22M357 114h23M355 115h24M353 116h26M351 117h27M350 118h28M349 119h28M347 120h30M346 121h30M345 122h31M343 123h32M340 124h35M337 125h37M336 126h38M334 127h39M331 128h41M328 129h44M326 130h45M325 131h45M325 132h44M324 133h45M324 134h44M323 135h44M319 136h47M317 137h49M317 138h48M316 139h49M315 140h49M314 141h49M313 142h50M311 143h51M310 144h52M309 145h53M308 146h54M307 147h54M305 148h56M304 149h57M304 150h56M303 151h57M302 152h57M301 153h57M300 154h58M299 155h58M298 156h59M297 157h59M296 158h59M295 159h59M295 160h59M294 161h59M293 162h59M292 163h60M291 164h60M290 165h60M290 166h60M289 167h60M289 168h59M288 169h59M287 170h59M286 171h59M286 172h58M285 173h58M284 174h59M284 175h58M283 176h58M282 177h59M282 178h59M281 179h60M281 180h59M280 181h60M279 182h60M278 183h60M278 184h59M277 185h60M277 186h59M276 187h59M276 188h58M275 189h58M275 190h57M274 191h57M273 192h56M272 193h54M271 194h52M270 195h51M268 196h51M267 197h51M265 198h51M264 199h51M263 200h51M261 201h51M260 202h51M256 203h53M253 204h54M252 205h52M250 206h52M245 207h56M242 208h58M240 209h58M203 210h12m22 0h60M195 211h35m4 0h60M187 212h101M186 213h99M185 214h96M184 215h94M182 216h94M177 217h97M176 218h97M176 219h96M180 220h90M182 221h85M186 222h67M189 223h34m6 0h5m4 0h7M200 224h9m6 0h4"/><path stroke="#58bd7a" d="M409 65h2M408 66h2M408 67h2M395 83h1M388 90h1M386 91h3M385 92h4M384 93h5M383 94h6M382 95h7M381 96h7M379 97h9M377 98h11M376 99h11M375 100h12M374 101h12M373 102h12M372 103h13M370 104h14M369 105h14M368 106h14M367 107h14M365 108h16M364 109h17M363 110h17M362 111h18M361 112h18M360 113h19M359 114h19M358 115h20M357 116h20M355 117h22M354 118h22M352 119h24M351 120h24M350 121h25M348 122h26M347 123h26M346 124h27M344 125h28M343 126h29M341 127h30M339 128h31M337 129h32M334 130h34M329 131h39M327 132h40M327 133h40M326 134h40M326 135h39M325 136h39M325 137h39M323 138h40M320 139h42M318 140h44M317 141h44M316 142h45M315 143h46M313 144h47M312 145h48M311 146h48M310 147h49M309 148h50M308 149h50M306 150h52M305 151h52M305 152h52M304 153h52M302 154h54M301 155h54M300 156h54M300 157h54M299 158h54M298 159h55M297 160h55M297 161h54M296 162h55M295 163h55M294 164h55M292 165h56M292 166h56M291 167h56M290 168h56M290 169h55M289 170h55M289 171h54M288 172h55M287 173h55M286 174h55M286 175h55M285 176h55M285 177h55M284 178h56M284 179h55M283 180h56M282 181h56M282 182h56M281 183h56M280 184h56M280 185h55M279 186h56M279 187h55M278 188h55M278 189h54M277 190h53M277 191h51M277 192h47M276 193h44M275 194h44M274 195h43M273 196h43M271 197h43M269 198h44M267 199h44M266 200h44M264 201h44M263 202h43M263 203h41M261 204h42M257 205h44M254 206h45M252 207h46M250 208h46M246 209h47M243 210h46M241 211h44M196 212h20m23 0h42M193 213h35m10 0h40M188 214h42m7 0h39M187 215h45m4 0h38M187 216h46m3 0h37M186 217h84M186 218h83M187 219h80M188 220h46m3 0h17M190 221h30m8 0h5m13 0h3M198 222h15m1 0h4"/><path stroke="#6cc344" d="M376 105h1M373 106h4M371 107h6M370 108h7M369 109h8M367 110h10M366 111h10M365 112h11M363 113h13M362 114h13M361 115h14M360 116h15M360 117h14M359 118h14M358 119h15M357 120h15M356 121h15M356 122h15M355 123h15M354 124h16M353 125h16M352 126h16M350 127h17M348 128h18M347 129h19M346 130h19M344 131h20M342 132h22M340 133h23M338 134h24M330 135h31M329 136h31M328 137h31M328 138h31M327 139h31M326 140h32M324 141h33M322 142h35M321 143h36M319 144h37M318 145h38M316 146h39M315 147h40M314 148h40M313 149h41M312 150h41M311 151h42M310 152h43M309 153h43M308 154h44M307 155h44M305 156h46M304 157h46M303 158h47M302 159h47M301 160h47M300 161h47M299 162h48M299 163h47M298 164h47M297 165h47M296 166h48M295 167h48M294 168h48M293 169h48M293 170h48M292 171h48M291 172h49M291 173h48M290 174h48M289 175h49M289 176h49M288 177h50M288 178h49M288 179h49M287 180h50M287 181h49M286 182h49M285 183h49M285 184h49M285 185h48M285 186h47M285 187h46M284 188h45M284 189h41M283 190h34M283 191h32M282 192h32M282 193h31M282 194h30M281 195h29M280 196h29M279 197h28M279 198h25M278 199h25M278 200h24M278 201h22M277 202h19M275 203h20M272 204h21M270 205h18M268 206h6m3 0h9M267 207h7m4 0h5M264 208h9M262 209h10M261 210h11M260 211h12M258 212h13M257 213h9M259 214h6M201 215h8M198 216h14M198 217h14M200 218h11"/><path stroke="#a5cf28" d="M367 114h3M365 115h6M364 116h7M363 117h8M363 118h7M362 119h8M361 120h8M361 121h7M360 122h8M359 123h8M358 124h8M357 125h9M357 126h8M356 127h8M356 128h8M355 129h8M354 130h8M354 131h7M353 132h7M352 133h6M351 134h7M350 135h7M348 136h8M345 137h10M339 138h15M337 139h17M333 140h20M330 141h23M328 142h25M326 143h27M325 144h27M324 145h28M322 146h30M320 147h31M319 148h32M317 149h33M316 150h34M315 151h34M314 152h35M313 153h36M312 154h37M311 155h37M309 156h39M308 157h39M307 158h39M306 159h40M305 160h40M304 161h40M302 162h42M301 163h42M301 164h41M300 165h41M299 166h41M299 167h41M298 168h41M297 169h42M296 170h42M295 171h42M294 172h43M294 173h42M293 174h43M293 175h43M292 176h44M292 177h44M291 178h44M291 179h44M291 180h43M290 181h44M290 182h43M290 183h42M289 184h42M289 185h41M289 186h38M289 187h27M289 188h25M289 189h24M289 190h23M289 191h21M289 192h19M290 193h16M292 194h11M293 195h8M295 196h2"/><path stroke="#d8d81f" d="M343 143h4M332 144h15M329 145h18M327 146h20M326 147h21M325 148h22M324 149h22M322 150h24M319 151h27M318 152h28M317 153h29M316 154h30M314 155h31M313 156h32M312 157h32M310 158h33M309 159h34M308 160h34M307 161h34M306 162h35M305 163h35M304 164h35M303 165h36M302 166h36M301 167h36M301 168h35M300 169h36M299 170h36M298 171h36M297 172h37M297 173h37M296 174h38M296 175h38M296 176h38M295 177h38M295 178h38M294 179h38M294 180h38M294 181h37M294 182h36M293 183h36M293 184h25M293 185h22M293 186h20M293 187h18M294 188h15M295 189h12M299 190h6"/><path stroke="#f6c01c" d="M332 148h8M329 149h13M327 150h15M325 151h17M324 152h18M322 153h20M320 154h22M319 155h22M317 156h24M315 157h26M314 158h26M313 159h27M312 160h27M311 161h28M310 162h28M309 163h29M307 164h30M306 165h30M305 166h30M304 167h30M303 168h31M303 169h30M302 170h30M301 171h31M301 172h30M300 173h31M299 174h32M299 175h32M299 176h32M298 177h33M298 178h32M298 179h31M298 180h30M298 181h21M298 182h18M298 183h16M299 184h13M299 185h9M300 186h6"/><path stroke="#f7981e" d="M333 151h4M330 152h8M327 153h11M325 154h13M323 155h15M322 156h16M319 157h19M317 158h21M316 159h21M315 160h22M313 161h23M312 162h24M312 163h23M311 164h23M309 165h25M308 166h25M307 167h25M306 168h25M305 169h25M305 170h24M304 171h25M304 172h25M303 173h25M302 174h26M302 175h25M301 176h25M301 177h24M300 178h21M300 179h18M300 180h16M301 181h13M301 182h7"/><path stroke="#f46a22" d="M327 156h5M324 157h10M322 158h12M320 159h14M318 160h16M317 161h16M316 162h17M314 163h18M313 164h19M313 165h18M312 166h18M310 167h19M309 168h19M308 169h19M307 170h19M307 171h18M306 172h18M306 173h17M306 174h16M305 175h16M305 176h14M305 177h13M305 178h11M307 179h5"/><path stroke="#ee4122" d="M322 161h5M320 162h8M318 163h10M316 164h11M315 165h12M314 166h12M314 167h11M313 168h11M312 169h11M311 170h11M310 171h11M309 172h11M309 173h10M308 174h10M308 175h9M309 176h5"/><path stroke="#fff" d="M414 55h1M418 58h1M408 60h1M415 65h1M398 71h1m9 0h1M409 72h1M396 74h1M396 75h1M392 77h1M404 78h1M389 81h1m1 0h1M391 82h1M399 83h1M387 84h1M383 87h1M383 89h1M394 93h1M375 94h1M374 97h1M389 101h1M366 102h1M388 103h1M384 106h1m1 0h1M381 109h1M346 113h1M351 115h1M341 117h1m2 0h1M338 118h1m39 0h2M346 119h1M337 120h1M342 121h1M333 122h1m44 0h1M377 124h1M332 126h1M328 127h2M374 128h1M375 129h1M373 132h1M317 133h1m2 0h1M368 138h1M367 139h1M367 140h1M310 141h1M364 142h1M307 144h1M364 145h1M306 146h1M306 147h1M302 148h1M298 152h1M295 155h1M290 159h1m66 0h1M355 160h1M356 161h1M288 162h1M289 164h1M288 165h1M350 168h1M281 170h1M279 171h1m5 0h1M278 173h1M343 174h2M278 175h1M274 180h1M276 181h1M273 183h1M276 184h1M272 185h2M337 186h1M271 187h1m1 0h1M334 190h1M269 191h1M330 193h1M264 195h1M260 198h1M257 199h1m59 0h1M255 200h1M251 201h1m1 0h1M244 202h2m10 0h1M314 203h1M244 204h1M239 205h2m3 0h1M239 206h1M235 207h1M231 208h1m6 0h1m64 0h1M221 209h1m17 0h1m63 0h2M197 210h1m106 0h1M183 211h1m118 0h1M293 212h1M295 213h2M173 214h1m120 0h1M180 215h1m104 0h1m6 0h1M281 216h1m3 0h1M171 217h1m106 0h1M169 218h1m104 0h1M283 219h1M278 221h1M234 223h1m27 0h1M181 224h2m6 0h1m29 0h1m31 0h1m3 0h1M185 225h1m41 0h1m25 0h1M189 226h1m11 0h1m10 0h1m12 0h1m21 0h1M188 227h1m4 0h1m2 0h1m2 0h1m18 0h1"/></g>
<rect x="157.55" y="0" width="268.45" height="1.75" fill="#bdbdbd"/>
<path d="M425.5 0.44V268.44" stroke="#858585" stroke-width="0.95" fill="none"/>
<path d="M157.55 0.44V268.84M157.15 268.44H425.9" stroke="#3a3a3a" stroke-width="0.85" fill="none"/>
<path d="M150.15 267.34H157.85M158.75 268.24V275.64M150.15 214.24H157.85M211 268.24V275.64M150.15 160.79H157.85M264.45 268.24V275.64M150.15 107.34H157.85M317.9 268.24V275.64M150.15 53.89H157.85M371.35 268.24V275.64M150.15 1.74H157.85M424.2 268.24V275.64" stroke="#000" stroke-width="1.6" fill="none"/>
<path d="M152.25 230.33H157.55M194.91 268.44V273.74M152.25 176.88H157.55M248.36 268.44V273.74M152.25 123.43H157.55M301.81 268.44V273.74M152.25 69.98H157.55M355.26 268.44V273.74M152.25 16.53H157.55M408.71 268.44V273.74" stroke="#000" stroke-width="1.3" fill="none"/>
<path d="M153.85 251.6H157.55M173.64 268.44V272.14M153.85 242.19H157.55M183.05 268.44V272.14M153.85 235.51H157.55M189.73 268.44V272.14M153.85 226.1H157.55M199.14 268.44V272.14M153.85 222.52H157.55M202.72 268.44V272.14M153.85 219.42H157.55M205.82 268.44V272.14M153.85 216.69H157.55M208.55 268.44V272.14M153.85 198.15H157.55M227.09 268.44V272.14M153.85 188.74H157.55M236.5 268.44V272.14M153.85 182.06H157.55M243.18 268.44V272.14M153.85 172.65H157.55M252.59 268.44V272.14M153.85 169.07H157.55M256.17 268.44V272.14M153.85 165.97H157.55M259.27 268.44V272.14M153.85 163.24H157.55M262 268.44V272.14M153.85 144.7H157.55M280.54 268.44V272.14M153.85 135.29H157.55M289.95 268.44V272.14M153.85 128.61H157.55M296.63 268.44V272.14M153.85 119.2H157.55M306.04 268.44V272.14M153.85 115.62H157.55M309.62 268.44V272.14M153.85 112.52H157.55M312.72 268.44V272.14M153.85 109.79H157.55M315.45 268.44V272.14M153.85 91.25H157.55M333.99 268.44V272.14M153.85 81.84H157.55M343.4 268.44V272.14M153.85 75.16H157.55M350.08 268.44V272.14M153.85 65.75H157.55M359.49 268.44V272.14M153.85 62.17H157.55M363.07 268.44V272.14M153.85 59.07H157.55M366.17 268.44V272.14M153.85 56.34H157.55M368.9 268.44V272.14M153.85 37.8H157.55M387.44 268.44V272.14M153.85 28.39H157.55M396.85 268.44V272.14M153.85 21.71H157.55M403.53 268.44V272.14M153.85 12.3H157.55M412.94 268.44V272.14M153.85 8.72H157.55M416.52 268.44V272.14M153.85 5.62H157.55M419.62 268.44V272.14M153.85 2.89H157.55M422.35 268.44V272.14" stroke="#000" stroke-width="1.3" fill="none"/>
<g><text x="134.65" y="266.54" text-anchor="end">10</text><text x="135.45" y="252.04">0</text><text x="162.55" y="314.74">10</text><text x="183.85" y="300.14">0</text><text x="134.65" y="226.34" text-anchor="end">10</text><text x="135.45" y="211.74">1</text><text x="201.4" y="314.74">10</text><text x="222.7" y="300.14">1</text><text x="134.65" y="172.89" text-anchor="end">10</text><text x="135.45" y="158.29">2</text><text x="254.85" y="314.74">10</text><text x="276.15" y="300.14">2</text><text x="134.65" y="119.44" text-anchor="end">10</text><text x="135.45" y="104.84">3</text><text x="308.3" y="314.74">10</text><text x="329.6" y="300.14">3</text><text x="134.65" y="65.99" text-anchor="end">10</text><text x="135.45" y="51.39">4</text><text x="361.75" y="314.74">10</text><text x="383.05" y="300.14">4</text><text x="134.65" y="34.44" text-anchor="end">10</text><text x="135.45" y="20.04">5</text><text x="394.55" y="314.74">10</text><text x="415.85" y="300.14">5</text></g>
<text x="291.18" y="326.64" text-anchor="middle">FSC-A</text>
<text transform="translate(119.85 133.14) rotate(-90)" text-anchor="middle">SSC-A</text>
<ellipse cx="0" cy="0" rx="28.1" ry="17.0" transform="translate(337.6 185.8) rotate(-50)" fill="none" stroke="#000" stroke-width="1.5"/>
<text x="163.85" y="71.64">4,98</text>
</g>
<g id="p01">
<g class="d" transform="translate(0 0.5)"><path stroke="#7f90bb" d="M582 175h1M569 182h1m5 0h1M579 184h1M573 186h1m3 0h1M579 187h1m2 0h2M577 189h1M582 190h1M571 191h1m9 0h1M582 192h1M576 194h1m2 0h1m2 0h1M575 195h1M583 196h1M575 197h1m7 0h1M580 198h1M577 199h1M579 200h1M576 202h1M575 203h1M584 204h1M574 205h1m9 0h1M569 207h1m12 0h1m2 0h1M573 209h1m9 0h1M572 210h1m3 0h1M578 211h1m1 0h1m23 0h1M573 212h1m5 0h1m2 0h1M583 213h1M573 214h1M571 215h1M580 216h1M574 217h1m6 0h1M577 218h1m5 0h1M576 219h1m3 0h1M540 220h1m42 0h1M533 221h1m42 0h1m2 0h1M568 222h1m39 0h1M565 223h1m25 0h1M533 224h1M542 225h1m16 0h1m1 0h1m30 0h1m61 0h1M543 226h1m44 0h1M542 228h1m44 0h1m1 0h1M546 229h1m11 0h1m31 0h1M535 230h2m1 0h1m1 0h1m47 0h1M542 231h1m9 0h1m1 0h1m33 0h1m38 0h1M542 232h1m45 0h1M588 233h1M547 234h1m234 0h1M541 235h1m1 0h1m8 0h1m39 0h1M783 236h1M535 237h1m8 0h1M539 238h1M539 239h1m4 0h1m1 0h2M546 240h1m2 0h1M594 242h1m3 0h1m183 0h1M782 243h1M529 245h1m66 0h1M783 246h1M528 247h1M528 248h1m70 0h1M527 249h1m69 0h1M527 250h1m74 0h1m2 0h1M630 251h1M593 252h1m189 0h1"/><path stroke="#2755ab" d="M576 195h1m1 0h2M579 197h1M579 201h1M579 202h1M577 203h1m1 0h1M580 204h1M578 205h2M575 206h2m4 0h1M576 207h1m1 0h2m1 0h1M576 208h1M576 209h1m2 0h2M575 221h1M574 222h1m1 0h1m4 0h1M570 223h2m1 0h1m7 0h2m1 0h1M567 224h1m2 0h1m4 0h1m5 0h3M572 225h4m3 0h1m2 0h2m1 0h1M565 226h1m1 0h1m1 0h1m2 0h1m1 0h2m1 0h4M564 227h2m2 0h4m1 0h6m1 0h1m1 0h1m2 0h1M562 228h1m1 0h1m1 0h1m5 0h4m1 0h5m2 0h2m196 0h2M562 229h1m2 0h1m3 0h4m1 0h1m1 0h1m1 0h2m2 0h2m1 0h1M560 230h2m2 0h1m2 0h5m1 0h1m1 0h2m1 0h2m2 0h1m2 0h1m197 0h1M557 231h2m3 0h2m1 0h4m1 0h1m2 0h8m1 0h1m1 0h1m198 0h1M562 232h4m2 0h7m2 0h2m2 0h2m3 0h1M557 233h3m3 0h1m2 0h1m2 0h3m2 0h1m1 0h1m1 0h3m1 0h1M556 234h1m4 0h7m1 0h4m1 0h3m2 0h1m2 0h1m1 0h2M554 235h1m9 0h1m1 0h2m1 0h3m1 0h2m2 0h2m1 0h2M553 236h1m1 0h2m5 0h1m1 0h1m1 0h1m2 0h2m1 0h1m1 0h1m3 0h2m1 0h1M555 237h2m1 0h1m1 0h2m2 0h1m1 0h6m2 0h1m1 0h4m1 0h1M556 238h1m3 0h2m1 0h1m4 0h4m2 0h1m1 0h1m1 0h2m3 0h1M554 239h1m1 0h2m1 0h4m1 0h4m1 0h3m3 0h1m1 0h1m6 0h1M541 240h1m8 0h1m4 0h2m1 0h2m2 0h5m1 0h1m1 0h2m1 0h1m1 0h2m2 0h1m3 0h1m2 0h2M540 241h2m1 0h3m10 0h2m4 0h1m2 0h4m1 0h2m2 0h2m2 0h1m1 0h2m1 0h3M552 242h2m1 0h2m1 0h2m2 0h7m1 0h1m1 0h13m4 0h1M540 243h4m7 0h1m2 0h1m1 0h3m1 0h2m2 0h1m2 0h1m2 0h18m2 0h1m1 0h1M533 244h1m2 0h2m1 0h2m1 0h1m2 0h1m6 0h1m3 0h2m1 0h1m1 0h2m1 0h27m3 0h1M537 245h1m1 0h1m2 0h2m7 0h1m4 0h3m3 0h26m5 0h1M534 246h1m1 0h1m1 0h6m1 0h1m1 0h1m2 0h1m2 0h2m1 0h1m1 0h1m1 0h31m2 0h1m1 0h1M531 247h1m1 0h7m1 0h4m1 0h6m1 0h36m1 0h2m3 0h1M533 248h3m1 0h4m1 0h2m2 0h1m1 0h1m3 0h4m1 0h32m1 0h3m190 0h1M531 249h3m1 0h9m2 0h1m1 0h1m2 0h1m1 0h35m2 0h2m191 0h1M531 250h1m2 0h56m2 0h1m190 0h1M531 251h2m1 0h16m1 0h2m2 0h32m2 0h1m2 0h1m190 0h1M530 252h2m1 0h2m1 0h1m1 0h7m1 0h3m1 0h4m1 0h1m1 0h3m1 0h25m1 0h2m1 0h1M534 253h1m1 0h1m2 0h5m1 0h2m5 0h4m1 0h1m1 0h2m1 0h5m2 0h13m1 0h1m1 0h3"/><path stroke="#3178cc" d="M575 242h8M571 243h14M568 244h19M565 245h23M562 246h26M560 247h28M538 248h3m18 0h29M537 249h6m15 0h30M536 250h8m14 0h29M537 251h6m16 0h27M562 252h23M570 253h12"/><path stroke="#3c9fdc" d="M577 242h5M573 243h11M570 244h16M567 245h20M564 246h24M562 247h26M561 248h27M560 249h27M561 250h26M562 251h24M565 252h19M574 253h8"/><path stroke="#48b7cf" d="M578 242h3M575 243h9M571 244h14M568 245h18M566 246h21M563 247h24M562 248h25M562 249h25M562 250h24M564 251h21M569 252h14M577 253h3"/><path stroke="#58bd7a" d="M576 243h7M573 244h12M570 245h16M567 246h20M565 247h22M564 248h23M563 249h23M564 250h22M566 251h19M572 252h11"/><path stroke="#6cc344" d="M578 243h3M575 244h9M573 245h12M571 246h15M568 247h18M567 248h19M567 249h19M568 250h17M572 251h12M576 252h5"/><path stroke="#a5cf28" d="M577 244h6M574 245h10M573 246h12M572 247h13M571 248h14M571 249h14M572 250h12M574 251h9"/><path stroke="#d8d81f" d="M578 244h3M576 245h7M574 246h10M573 247h11M573 248h11M573 249h11M574 250h9M577 251h4"/><path stroke="#f6c01c" d="M577 245h5M575 246h8M574 247h10M574 248h10M574 249h9M576 250h6"/><path stroke="#f7981e" d="M579 245h2M576 246h7M575 247h8M575 248h8M576 249h7M577 250h4"/><path stroke="#f46a22" d="M578 246h4M576 247h6M576 248h7M577 249h5"/><path stroke="#ee4122" d="M579 246h1M577 247h5M577 248h5M578 249h3"/><path stroke="#fff" d="M576 242h1M572 243h1m11 0h1M569 244h1M566 245h2m19 0h1M539 249h1m47 0h1M560 251h1M583 252h1M574 253h1m4 0h1m1 0h1"/></g>
<rect x="516.5" y="0" width="268.45" height="1.75" fill="#bdbdbd"/>
<path d="M784.45 0.44V268.44" stroke="#858585" stroke-width="0.95" fill="none"/>
<path d="M516.5 0.44V268.84M516.1 268.44H784.85" stroke="#3a3a3a" stroke-width="0.85" fill="none"/>
<path d="M509.1 267.34H516.8M517.7 268.24V275.64M509.1 214.24H516.8M569.95 268.24V275.64M509.1 160.79H516.8M623.4 268.24V275.64M509.1 107.34H516.8M676.85 268.24V275.64M509.1 53.89H516.8M730.3 268.24V275.64M509.1 1.74H516.8M783.15 268.24V275.64" stroke="#000" stroke-width="1.6" fill="none"/>
<path d="M512.8 254.33H516.5M529.86 268.44V272.14M512.8 240.97H516.5M543.23 268.44V272.14M512.8 227.6H516.5M556.59 268.44V272.14M512.8 200.88H516.5M583.31 268.44V272.14M512.8 187.51H516.5M596.67 268.44V272.14M512.8 174.15H516.5M610.04 268.44V272.14M512.8 147.43H516.5M636.76 268.44V272.14M512.8 134.06H516.5M650.12 268.44V272.14M512.8 120.7H516.5M663.49 268.44V272.14M512.8 93.98H516.5M690.21 268.44V272.14M512.8 80.61H516.5M703.58 268.44V272.14M512.8 67.25H516.5M716.94 268.44V272.14M512.8 40.53H516.5M743.66 268.44V272.14M512.8 27.16H516.5M757.02 268.44V272.14M512.8 13.8H516.5M770.39 268.44V272.14" stroke="#000" stroke-width="1.3" fill="none"/>
<g><text x="504.3" y="266.44" text-anchor="end">0</text><text x="515.7" y="314.34">0</text><text x="504.3" y="226.24" text-anchor="end">20K</text><text x="548.75" y="314.34">20K</text><text x="504.3" y="172.79" text-anchor="end">40K</text><text x="602.2" y="314.34">40K</text><text x="504.3" y="119.34" text-anchor="end">60K</text><text x="655.65" y="314.34">60K</text><text x="504.3" y="65.89" text-anchor="end">80K</text><text x="709.1" y="314.34">80K</text><text x="504.3" y="19.64" text-anchor="end">100K</text><text x="783.55" y="314.34" text-anchor="end">100K</text></g>
<text x="650.12" y="326.64" text-anchor="middle">FSC-W</text>
<text transform="translate(470.8 133.94) rotate(-90)" text-anchor="middle">SSC-W</text>
<path d="M550.6 236.14L572.4 232.24L605.5 234.04L610 254.04L573.3 258.34L550.6 258.64Z" fill="none" stroke="#000" stroke-width="1.5"/>
<text x="571.5" y="89.84">83,5</text>
</g>
<g id="p02">
<g class="d" transform="translate(0 0.5)"><path stroke="#7f90bb" d="M1046 80h1M1049 81h1M1054 82h1M1048 83h1m7 0h1m2 0h1M1050 84h1M1047 85h1m18 0h1M1034 86h1m3 0h1m8 0h1M1033 87h1m3 0h1m6 0h1M1053 89h1M1036 90h1m8 0h1m15 0h1M1051 91h1m9 0h1M1048 92h1m17 0h1M1035 93h1M1048 94h1M1039 95h1M1034 97h1m3 0h1m6 0h1M1035 99h1M1039 100h1m12 0h1M1065 105h1M1037 106h2M1034 107h1m13 0h1M1034 108h1m26 0h1M1051 109h1M1061 110h2M1037 111h2m2 0h1M1035 112h1M1046 113h1m7 0h1M1033 114h1m1 0h1m1 0h1M1033 115h1m5 0h1M1058 116h1M1047 117h1M1035 119h1m4 0h2m21 0h1M1047 120h1m11 0h1M1035 121h1m23 0h1M1058 122h1M1043 123h1m14 0h1M1039 125h1m19 0h1M1045 126h1m8 0h1M1041 127h1m14 0h1M1052 128h1m7 0h1M1062 129h1M1034 132h1m10 0h1M1044 133h1m16 0h1M1063 134h1M1035 135h1m23 0h1M1038 136h1m17 0h1M1039 137h1m20 0h1M1035 139h1m23 0h1M1058 140h1M1035 141h1m13 0h1M1049 142h1m6 0h1m9 0h1M1033 143h1m13 0h1m11 0h1M1051 144h1m9 0h1m2 0h1M1033 145h1m18 0h1M1049 146h1M1035 147h1m1 0h1m26 0h1M1043 149h1M1060 150h1M1034 151h1M1062 152h1M1043 154h1M1035 156h1M1033 157h1m23 0h1M1033 159h1m9 0h1m14 0h1m3 0h1M1061 160h1M1033 162h1M1033 166h1M1066 169h1M1066 177h1M1067 181h1M1067 182h1M1066 183h1M1067 186h1M1034 187h1M1066 193h1M1065 196h1M1068 198h1M1066 199h1m1 0h1M1066 201h1M1066 203h1M1071 204h1m3 0h1M1073 206h1M1070 214h1M1067 217h1M1068 219h1m4 0h1M1063 220h1M1066 228h1M1066 231h1M1033 239h1m35 0h1M1066 241h1M1066 242h1M1074 246h1M1068 259h1M1069 260h1M1069 261h1M1066 262h1M1064 264h1M1033 265h1M1033 266h1m32 0h2M1036 267h1"/><path stroke="#2755ab" d="M1052 85h1m1 0h1m1 0h1m3 0h1M1051 86h2m2 0h1m1 0h1m3 0h1M1053 87h2m3 0h1M1037 88h1m1 0h1m13 0h1m3 0h1m1 0h1M1037 89h1m4 0h2m14 0h1M1040 90h1m1 0h2M1038 91h1m2 0h1m1 0h1m12 0h1M1038 92h2m15 0h1m2 0h1M1038 93h1m1 0h1m3 0h2m4 0h1m1 0h2m3 0h1M1041 94h2m10 0h1M1054 95h1m2 0h1M1058 96h1m2 0h1M1055 97h1m3 0h1M1041 98h1m4 0h1m2 0h1m5 0h1m2 0h2M1041 99h2m2 0h5m10 0h1M1035 100h1m5 0h1m1 0h1m1 0h1m1 0h2m1 0h1M1034 101h2m10 0h1m2 0h1m9 0h1M1035 102h1m6 0h2m1 0h1m1 0h1m9 0h1M1045 103h1m4 0h1m6 0h1m1 0h1M1046 104h4m1 0h1m1 0h2m3 0h1M1051 105h1m7 0h2M1044 106h2m6 0h1M1042 107h1m1 0h1m10 0h2M1035 108h1m5 0h1m2 0h1m15 0h1M1037 109h1m1 0h1m6 0h1m8 0h1m1 0h2M1043 110h1m12 0h2m1 0h1M1042 111h1m2 0h1m9 0h2m1 0h1M1036 112h1m13 0h1m7 0h1M1051 113h1m1 0h1M1040 114h4m6 0h2m1 0h1m3 0h1M1043 115h1m1 0h1m3 0h2M1043 116h1m1 0h1M1043 117h1m4 0h1m3 0h1M1042 118h2m6 0h2m1 0h1m1 0h2M1055 119h1m1 0h1M1055 120h1m1 0h1M1039 121h1m9 0h1m2 0h1M1037 122h1m1 0h1m7 0h1m1 0h1m1 0h1M1047 123h2m4 0h2M1037 124h1m11 0h2m3 0h1M1037 125h1m17 0h1M1037 126h1M1039 128h2m6 0h1m8 0h1M1035 129h2m1 0h2m2 0h1m2 0h1m1 0h1m1 0h1m4 0h1m2 0h1m2 0h1M1036 130h1m1 0h1m4 0h1m2 0h1m7 0h2m1 0h1M1039 131h1m2 0h1m4 0h1M1037 132h4m8 0h1M1038 133h1m11 0h2m1 0h1M1035 134h1m8 0h1m6 0h1M1039 135h2m6 0h1m2 0h1M1043 136h3m1 0h1M1042 137h1m2 0h2m5 0h1m4 0h2m5 0h1M1045 138h3m5 0h2m7 0h2M1044 139h2m10 0h1M1039 140h1m3 0h1m8 0h1M1038 141h1m4 0h1m9 0h2M1039 142h1M1039 143h1m1 0h1m11 0h1M1034 144h1m2 0h1m4 0h1M1037 145h1m2 0h2M1040 146h1m1 0h1m3 0h1m15 0h1M1038 147h1m3 0h1M1045 148h1m1 0h1m6 0h1m3 0h1m2 0h1M1034 149h1m10 0h1m3 0h1m7 0h1M1046 150h1m1 0h1m6 0h1M1036 151h1m10 0h1M1038 152h1m9 0h2m4 0h1m1 0h1M1036 153h2m1 0h2m6 0h2m9 0h1m2 0h2M1036 154h1m15 0h1m5 0h1M1037 155h1m2 0h1m5 0h2m1 0h1M1039 156h1m9 0h1m1 0h1m1 0h1M1040 157h2m6 0h1m1 0h3m1 0h1M1039 158h2m5 0h1m1 0h1m5 0h1M1039 159h1m10 0h2m2 0h1M1040 160h2m7 0h1m5 0h2M1035 161h1m2 0h1m4 0h1m3 0h2m2 0h2m1 0h1m5 0h1M1037 162h1m1 0h2m1 0h4m1 0h1m1 0h2m3 0h1m4 0h2M1035 163h1m4 0h1m2 0h2m1 0h1m2 0h2M1035 164h1m11 0h1m12 0h3M1036 165h1m2 0h1m3 0h1m3 0h1m2 0h1m10 0h1M1038 166h1m3 0h1m5 0h2m8 0h1m2 0h1M1035 167h1m2 0h1m3 0h1m2 0h1m2 0h1m3 0h3m2 0h1m1 0h1M1046 168h1m1 0h1m2 0h1m5 0h1m4 0h1M1039 169h2m3 0h3m2 0h1m4 0h1m4 0h1m2 0h1M1034 170h2m6 0h1m4 0h1m1 0h2m9 0h1M1036 171h1m2 0h1m7 0h1m2 0h2m3 0h1m1 0h4M1033 172h1m8 0h2m3 0h1m1 0h1m1 0h2m1 0h2m2 0h1m1 0h1M1033 173h1m1 0h2m8 0h1m2 0h1m1 0h6m4 0h2m2 0h2M1036 174h1m1 0h1m1 0h1m1 0h1m2 0h2m1 0h9m2 0h1m3 0h1m1 0h1M1033 175h1m1 0h1m1 0h1m1 0h1m1 0h18m1 0h1m1 0h1m1 0h1M1035 176h1m2 0h1m2 0h17m4 0h2M1036 177h1m2 0h1m1 0h16m1 0h1M1039 178h17m1 0h4m2 0h1M1035 179h1m3 0h18m2 0h1M1034 180h1m1 0h1m2 0h1m1 0h14m1 0h1m4 0h1M1037 181h1m1 0h16m1 0h1m1 0h2m2 0h1M1034 182h1m1 0h1m3 0h1m1 0h14m2 0h2m2 0h1M1034 183h1m2 0h1m1 0h1m2 0h14m6 0h1M1033 184h2m2 0h18m1 0h4m3 0h2M1037 185h2m1 0h13m2 0h1m8 0h1M1037 186h1m1 0h15m1 0h1m1 0h1m1 0h1m2 0h2M1037 187h2m2 0h15m1 0h3m4 0h2M1034 188h1m4 0h18m3 0h2M1036 189h20m1 0h2m2 0h1m3 0h2M1035 190h2m1 0h19m1 0h1M1035 191h1m1 0h1m1 0h18m2 0h1m2 0h3m1 0h1M1039 192h18m2 0h1m1 0h2m1 0h1M1033 193h1m4 0h19m2 0h1m1 0h1M1035 194h1m2 0h18m2 0h1m2 0h2M1033 195h1m4 0h20m5 0h1M1035 196h1m2 0h21m3 0h1M1034 197h2m1 0h25m1 0h2M1035 198h1m1 0h21m1 0h1m1 0h2M1033 199h1m2 0h1m1 0h24m1 0h1M1033 200h2m1 0h22m1 0h3m1 0h1M1038 201h26m1 0h1M1034 202h1m2 0h1m1 0h22M1034 203h1m4 0h24m1 0h1M1035 204h2m1 0h21m2 0h1m1 0h1m1 0h1M1035 205h2m2 0h18m4 0h2M1037 206h20m6 0h4M1038 207h19M1033 208h1m3 0h22m1 0h1M1035 209h26M1038 210h20m2 0h1m1 0h2m1 0h1M1034 211h1m1 0h1m2 0h20m1 0h3m1 0h1M1037 212h1m1 0h21m3 0h1M1034 213h2m1 0h22m1 0h1m1 0h1M1035 214h1m3 0h19m4 0h1M1034 215h1m1 0h2m2 0h19m5 0h1M1033 216h1m4 0h1m1 0h22m2 0h1M1033 217h2m1 0h2m2 0h17m1 0h1m1 0h2m2 0h1M1036 218h1m1 0h23M1037 219h20m2 0h2M1034 220h1m2 0h21M1039 221h21M1038 222h22m1 0h1m3 0h2M1037 223h1m1 0h20m3 0h1m2 0h2M1035 224h1m1 0h1m3 0h18m7 0h1M1034 225h2m1 0h1m2 0h18m5 0h1m3 0h1M1036 226h4m2 0h19m3 0h2M1034 227h2m2 0h1m2 0h15m4 0h1M1035 228h2m1 0h1m2 0h15m1 0h2m5 0h2M1033 229h3m3 0h10m2 0h3m1 0h1m1 0h1m4 0h1M1038 230h10m1 0h2m2 0h2m1 0h1m1 0h1m1 0h4M1040 231h9m7 0h1m4 0h1M1034 232h3m2 0h6m1 0h1m1 0h1m3 0h2m1 0h2m2 0h2m4 0h1M1037 233h1m1 0h1m1 0h3m2 0h2m6 0h1m1 0h3m5 0h1m1 0h1M1034 234h1m1 0h1m4 0h1m1 0h2m3 0h5m1 0h1m4 0h1m3 0h2M1035 235h2m1 0h3m2 0h1m1 0h3m1 0h1m2 0h2m4 0h1m1 0h1m1 0h1M1035 236h3m1 0h2m1 0h1m1 0h6m1 0h1m2 0h1m2 0h2m1 0h1m4 0h2M1035 237h1m3 0h3m1 0h5m4 0h1m9 0h1M1034 238h1m3 0h2m3 0h4m1 0h1m3 0h2m9 0h2M1037 239h1m2 0h1m4 0h1m1 0h1m2 0h1m2 0h1m1 0h1m4 0h3m1 0h2M1042 240h3m2 0h1m1 0h1m3 0h2m2 0h1m4 0h2M1038 241h2m1 0h1m1 0h1m1 0h1m1 0h2m1 0h1m5 0h1m1 0h2m4 0h1M1038 242h1m1 0h1m3 0h1m1 0h3m8 0h1m4 0h1M1035 243h1m4 0h1m3 0h1m1 0h2m2 0h1m4 0h2M1033 244h1m4 0h1m1 0h1m3 0h1m1 0h1m3 0h1m3 0h2m1 0h1m3 0h1m4 0h1M1035 245h2m3 0h1m4 0h2m1 0h1m1 0h2m1 0h2m1 0h2m2 0h1m1 0h1m3 0h1M1037 246h1m8 0h1m1 0h5m1 0h1m3 0h1m6 0h1M1033 247h4m2 0h1m6 0h1m1 0h3m3 0h2m5 0h1m3 0h1M1035 248h1m1 0h1m7 0h2m3 0h5m2 0h1m1 0h2m2 0h1M1033 249h1m1 0h2m1 0h1m4 0h1m3 0h2m3 0h2m2 0h1m4 0h1m1 0h1M1034 250h3m3 0h4m2 0h1m4 0h2m3 0h1m1 0h1m1 0h1m2 0h1m1 0h1M1035 251h2m5 0h1m1 0h1m1 0h2m3 0h2m7 0h1M1039 252h1m3 0h2m4 0h2m2 0h1m1 0h1m4 0h1M1043 253h4m3 0h2m2 0h2m2 0h1m3 0h2m2 0h1M1035 254h2m3 0h1m4 0h1m3 0h1m7 0h1m6 0h2M1042 255h2m1 0h2m2 0h3m2 0h1m3 0h2m1 0h2m2 0h1M1034 256h1m1 0h2m4 0h1m1 0h1m1 0h1m1 0h2m1 0h1m1 0h3m2 0h3M1035 257h1m4 0h1m1 0h2m1 0h1m2 0h1m7 0h1m1 0h1M1042 258h1m1 0h1m10 0h1m7 0h1M1039 259h1m1 0h3m3 0h1m7 0h2m1 0h1m1 0h1m4 0h1M1034 260h2m4 0h1m3 0h1m13 0h1m1 0h1m1 0h2M1035 261h1m2 0h2m3 0h1m8 0h2m2 0h1m1 0h1m4 0h1m1 0h1M1035 262h2m8 0h1m1 0h1m1 0h1m3 0h2m5 0h1m3 0h1M1034 263h1m1 0h3m3 0h1m1 0h2m5 0h2m2 0h1m4 0h2M1034 264h3m3 0h1m2 0h1m1 0h2m5 0h1m2 0h2m1 0h2m2 0h1M1037 265h1m2 0h1m1 0h1m9 0h1m6 0h1m3 0h1M1040 266h1m1 0h1m2 0h1m4 0h1m1 0h1m3 0h1m2 0h2m1 0h1M1040 267h1m12 0h1"/><path stroke="#3178cc" d="M1051 172h2M1050 173h6M1045 174h1m3 0h8M1043 175h14M1042 176h14M1041 177h15M1040 178h16M1041 179h15M1041 180h14M1041 181h14M1042 182h13M1042 183h13M1041 184h13M1041 185h12M1041 186h13m1 0h1M1041 187h15M1040 188h16M1038 189h18M1038 190h19M1039 191h18M1039 192h18M1039 193h17M1038 194h18M1038 195h19M1038 196h19M1038 197h20M1038 198h20M1038 199h20M1039 200h19m1 0h2M1039 201h22M1039 202h22M1040 203h21M1039 204h19M1039 205h18M1039 206h18M1038 207h19M1038 208h20M1038 209h20M1039 210h19M1039 211h20M1039 212h20M1039 213h19M1039 214h19M1040 215h18M1041 216h17M1040 217h17M1039 218h18M1039 219h18M1039 220h19M1039 221h20M1039 222h20M1040 223h18M1041 224h17M1041 225h17M1042 226h15M1042 227h14M1041 228h14M1040 229h8m3 0h3M1040 230h8M1040 231h7M1040 232h5M1041 233h3M1044 236h4M1044 237h4M1045 238h2M1050 245h1M1048 246h4"/><path stroke="#3c9fdc" d="M1050 175h2M1049 176h3M1044 179h5M1043 180h7M1043 181h8M1043 182h9M1043 183h9M1043 184h9M1042 185h10M1042 186h11M1042 187h12M1041 188h14M1040 189h15M1039 190h17M1040 191h16M1040 192h16M1040 193h16M1039 194h17M1038 195h18M1039 196h17M1039 197h18M1039 198h18M1039 199h18M1040 200h17M1040 201h17M1040 202h17M1040 203h17M1040 204h17M1040 205h17M1039 206h17M1039 207h17M1039 208h18M1039 209h18M1040 210h17M1040 211h18M1040 212h18M1040 213h17M1041 214h16M1042 215h14M1042 216h14M1042 217h14M1041 218h14M1040 219h14M1040 220h14M1040 221h15M1040 222h2m1 0h12M1043 223h12M1043 224h12M1044 225h11M1045 226h10M1045 227h2m3 0h3M1043 228h4M1042 229h4M1041 230h4M1041 231h3M1042 232h1"/><path stroke="#48b7cf" d="M1045 180h4M1045 181h5M1045 182h6M1044 183h7M1044 184h7M1043 185h9M1042 186h10M1042 187h10M1042 188h12M1041 189h13M1041 190h14M1041 191h14M1041 192h14M1041 193h14M1040 194h15M1039 195h16M1040 196h16M1040 197h16M1040 198h16M1040 199h16M1040 200h16M1040 201h16M1040 202h16M1041 203h16M1041 204h15M1041 205h15M1040 206h16M1040 207h16M1039 208h17M1040 209h16M1040 210h17M1040 211h17M1041 212h16M1041 213h15M1042 214h14M1042 215h13M1043 216h12M1043 217h12M1043 218h11M1044 219h9M1044 220h9M1044 221h9M1044 222h10M1044 223h10M1044 224h10M1046 225h8M1049 226h4"/><path stroke="#58bd7a" d="M1046 180h1M1046 181h3M1046 182h4M1045 183h5M1045 184h6M1044 185h7M1043 186h8M1043 187h8M1043 188h9M1042 189h11M1042 190h12M1042 191h12M1042 192h12M1042 193h11M1042 194h12M1041 195h13M1041 196h14M1041 197h14M1041 198h14M1041 199h14M1041 200h14M1041 201h14M1041 202h14M1041 203h15M1041 204h15M1041 205h14M1041 206h14M1041 207h14M1040 208h15M1041 209h15M1041 210h15M1041 211h15M1041 212h15M1042 213h14M1042 214h13M1043 215h11M1044 216h10M1044 217h10M1045 218h7M1045 219h7M1045 220h7M1045 221h7M1045 222h7M1045 223h7M1046 224h7M1049 225h3"/><path stroke="#6cc344" d="M1047 182h1M1047 183h2M1047 184h2M1046 185h4M1045 186h5M1044 187h6M1044 188h7M1043 189h8M1043 190h9M1043 191h9M1043 192h9M1043 193h9M1043 194h9M1042 195h11M1042 196h12M1042 197h12M1042 198h12M1042 199h12M1042 200h11M1042 201h11M1042 202h11M1042 203h12M1042 204h12M1043 205h11M1042 206h12M1042 207h12M1042 208h12M1042 209h12M1043 210h11M1042 211h12M1042 212h13M1043 213h11M1043 214h10M1044 215h9M1045 216h7M1046 217h5M1047 218h2M1047 219h3M1047 220h3M1046 221h5M1046 222h5M1048 223h2"/><path stroke="#a5cf28" d="M1047 188h2M1046 189h4M1046 190h4M1046 191h5M1045 192h6M1044 193h7M1044 194h7M1043 195h9M1043 196h9M1043 197h10M1043 198h10M1043 199h9M1043 200h9M1043 201h8M1043 202h9M1043 203h10M1043 204h10M1043 205h10M1043 206h10M1043 207h9M1044 208h8M1044 209h8M1044 210h8M1044 211h8M1043 212h7M1044 213h4"/><path stroke="#d8d81f" d="M1048 191h1M1047 192h2M1047 193h3M1046 194h4M1045 195h6M1044 196h7M1044 197h8M1044 198h7M1044 199h7M1044 200h6M1044 201h6M1044 202h7M1044 203h7M1044 204h8M1044 205h8M1044 206h7M1044 207h7M1045 208h6M1045 209h6M1045 210h5M1045 211h4"/><path stroke="#f6c01c" d="M1048 196h2M1045 197h5M1045 198h5M1045 199h4M1045 200h4M1045 201h5M1045 202h5M1045 203h5M1045 204h6M1045 205h5M1045 206h5M1045 207h5M1046 208h4M1046 209h3M1047 210h1"/><path stroke="#f7981e" d="M1046 198h1M1046 199h2M1046 200h2M1046 201h3M1046 202h3M1046 203h3M1045 204h4M1045 205h4M1046 206h3"/><path stroke="#fff" d="M1050 173h2m2 0h1M1049 174h1m1 0h2m1 0h1M1043 175h1m1 0h2m2 0h1m3 0h3M1047 176h1m5 0h1M1041 177h7m1 0h1m5 0h1M1041 178h1m5 0h1m1 0h1m3 0h1M1042 179h1m3 0h2m2 0h1m4 0h1M1041 180h2m2 0h1m3 0h4m1 0h1M1043 181h2m1 0h2m3 0h1m1 0h2M1044 182h2m6 0h2M1050 183h2m2 0h1M1042 184h1m5 0h1m1 0h3M1043 185h1m1 0h1m1 0h2m1 0h1M1042 186h1m1 0h1m5 0h1m1 0h2M1041 187h1m10 0h1m1 0h1M1041 188h1m5 0h1m2 0h1m4 0h1M1038 189h1m3 0h1m11 0h2M1038 190h1m1 0h1m10 0h1M1040 191h1m4 0h2m5 0h1m2 0h1M1040 192h1m4 0h1m3 0h1M1039 193h2m1 0h1m2 0h1m6 0h1m2 0h1M1040 194h1m1 0h1m4 0h1m2 0h1m3 0h1M1038 195h1m3 0h1m6 0h1M1051 196h1M1039 197h3m13 0h1M1040 198h1m9 0h1M1038 199h2m7 0h1m7 0h1M1040 200h2m7 0h1m7 0h1M1040 201h2m17 0h1M1040 202h1m1 0h1m9 0h2m2 0h1M1042 203h2m10 0h1m3 0h1M1039 204h2m15 0h1M1042 205h1m7 0h1m4 0h1M1043 206h1M1038 207h1m1 0h1m2 0h1m7 0h1m4 0h1M1049 208h1m7 0h1M1038 209h1m3 0h2m10 0h1m2 0h1M1043 210h1m6 0h1m3 0h1M1040 211h1m4 0h1m5 0h1m1 0h2M1039 212h2m4 0h1M1039 213h1m7 0h1m8 0h2M1040 214h1m3 0h1m4 0h1m2 0h1m1 0h2M1040 215h3m3 0h2M1042 216h1m4 0h2m7 0h2M1040 217h1m2 0h1m5 0h1m5 0h2M1045 218h1m2 0h2m3 0h1m1 0h1M1039 219h1m5 0h2m5 0h1m1 0h1m1 0h1M1041 220h1m2 0h1m1 0h1m2 0h2m3 0h3M1039 221h1m2 0h3m2 0h1m6 0h1m3 0h1M1048 222h1m2 0h1m2 0h1m1 0h1m1 0h1M1040 223h3m8 0h2m1 0h1m1 0h1M1044 224h2m3 0h1m1 0h4m2 0h1M1041 225h1m2 0h1m2 0h1m6 0h1m1 0h2M1043 226h1m5 0h1m5 0h1M1042 227h3m1 0h1m2 0h1m1 0h1m2 0h1M1041 228h1m2 0h1m1 0h1m1 0h1m3 0h1M1040 229h4m2 0h1m4 0h1M1040 230h1m4 0h1m1 0h1M1044 231h1M1040 232h2M1043 233h1M1044 237h1M1045 238h1M1050 246h1"/></g>
<rect x="874.5" y="0" width="268.45" height="1.75" fill="#bdbdbd"/>
<path d="M1142.45 0.44V268.44" stroke="#858585" stroke-width="0.95" fill="none"/>
<path d="M874.5 0.44V268.84M874.1 268.44H1142.85" stroke="#3a3a3a" stroke-width="0.85" fill="none"/>
<path d="M867.1 267.34H874.8M875.7 268.24V275.64M867.1 214.24H874.8M927.95 268.24V275.64M867.1 160.79H874.8M981.4 268.24V275.64M867.1 107.34H874.8M1034.85 268.24V275.64M867.1 53.89H874.8M1088.3 268.24V275.64M867.1 1.74H874.8M1141.15 268.24V275.64" stroke="#000" stroke-width="1.6" fill="none"/>
<path d="M869.2 230.33H874.5M911.86 268.44V273.74M869.2 176.88H874.5M965.31 268.44V273.74M869.2 123.43H874.5M1018.76 268.44V273.74M869.2 69.98H874.5M1072.21 268.44V273.74M869.2 16.53H874.5M1125.66 268.44V273.74" stroke="#000" stroke-width="1.3" fill="none"/>
<path d="M870.8 251.6H874.5M890.59 268.44V272.14M870.8 242.19H874.5M900 268.44V272.14M870.8 235.51H874.5M906.68 268.44V272.14M870.8 226.1H874.5M916.09 268.44V272.14M870.8 222.52H874.5M919.67 268.44V272.14M870.8 219.42H874.5M922.77 268.44V272.14M870.8 216.69H874.5M925.5 268.44V272.14M870.8 198.15H874.5M944.04 268.44V272.14M870.8 188.74H874.5M953.45 268.44V272.14M870.8 182.06H874.5M960.13 268.44V272.14M870.8 172.65H874.5M969.54 268.44V272.14M870.8 169.07H874.5M973.12 268.44V272.14M870.8 165.97H874.5M976.22 268.44V272.14M870.8 163.24H874.5M978.95 268.44V272.14M870.8 144.7H874.5M997.49 268.44V272.14M870.8 135.29H874.5M1006.9 268.44V272.14M870.8 128.61H874.5M1013.58 268.44V272.14M870.8 119.2H874.5M1022.99 268.44V272.14M870.8 115.62H874.5M1026.57 268.44V272.14M870.8 112.52H874.5M1029.67 268.44V272.14M870.8 109.79H874.5M1032.4 268.44V272.14M870.8 91.25H874.5M1050.94 268.44V272.14M870.8 81.84H874.5M1060.35 268.44V272.14M870.8 75.16H874.5M1067.03 268.44V272.14M870.8 65.75H874.5M1076.44 268.44V272.14M870.8 62.17H874.5M1080.02 268.44V272.14M870.8 59.07H874.5M1083.12 268.44V272.14M870.8 56.34H874.5M1085.85 268.44V272.14M870.8 37.8H874.5M1104.39 268.44V272.14M870.8 28.39H874.5M1113.8 268.44V272.14M870.8 21.71H874.5M1120.48 268.44V272.14M870.8 12.3H874.5M1129.89 268.44V272.14M870.8 8.72H874.5M1133.47 268.44V272.14M870.8 5.62H874.5M1136.57 268.44V272.14M870.8 2.89H874.5M1139.3 268.44V272.14" stroke="#000" stroke-width="1.3" fill="none"/>
<g><text x="851.6" y="266.54" text-anchor="end">10</text><text x="852.4" y="252.04">0</text><text x="879.5" y="314.74">10</text><text x="900.8" y="300.14">0</text><text x="851.6" y="226.34" text-anchor="end">10</text><text x="852.4" y="211.74">1</text><text x="918.35" y="314.74">10</text><text x="939.65" y="300.14">1</text><text x="851.6" y="172.89" text-anchor="end">10</text><text x="852.4" y="158.29">2</text><text x="971.8" y="314.74">10</text><text x="993.1" y="300.14">2</text><text x="851.6" y="119.44" text-anchor="end">10</text><text x="852.4" y="104.84">3</text><text x="1025.25" y="314.74">10</text><text x="1046.55" y="300.14">3</text><text x="851.6" y="65.99" text-anchor="end">10</text><text x="852.4" y="51.39">4</text><text x="1078.7" y="314.74">10</text><text x="1100" y="300.14">4</text><text x="851.6" y="34.44" text-anchor="end">10</text><text x="852.4" y="20.04">5</text><text x="1111.5" y="314.74">10</text><text x="1132.8" y="300.14">5</text></g>
<text x="1008.12" y="326.64" text-anchor="middle">FSC-A</text>
<text transform="translate(836 133.04) rotate(-90)" text-anchor="middle">Dapi</text>
<path d="M969 268.44V123.84H1086.3V268.44" fill="none" stroke="#000" stroke-width="1.5"/>
<path d="M1035.5 267.94H1051.5" stroke="#d8564a" stroke-width="1.3" fill="none"/>
<text x="910" y="75.44">98,0</text>
</g>
<g id="p03">
<g class="d" transform="translate(0 0.5)"><path stroke="#7f90bb" d="M1421 59h1M1367 64h1m1 0h1M1341 68h1m44 0h1m12 0h1M1369 69h1m1 0h1m12 0h1m12 0h1M1372 70h1m10 0h1M1365 71h1m10 0h1m1 0h1m20 0h1M1359 72h1m4 0h1m10 0h1m9 0h1m13 0h1M1368 73h1m6 0h1m27 0h1M1377 74h1m30 0h1M1292 75h1m56 0h1m20 0h1m43 0h1m1 0h1M1307 76h1m34 0h1m11 0h1m2 0h1m6 0h1m11 0h1M1346 77h1m6 0h1m51 0h1m15 0h1M1262 78h1m19 0h1m13 0h1m12 0h1m3 0h1m2 0h1m23 0h1m8 0h1m8 0h1m1 0h1m3 0h1m33 0h1m10 0h1M1269 79h1m22 0h1m21 0h1m14 0h1m1 0h1m70 0h1m3 0h1m5 0h1M1257 80h1m3 0h1m5 0h1m56 0h1m28 0h1m45 0h2m12 0h1M1404 81h1m14 0h1m9 0h1m2 0h1M1256 82h1m101 0h1M1414 84h1m9 0h1M1414 86h1m11 0h1M1243 87h1m5 0h1M1249 88h1m163 0h1M1246 89h1m1 0h1M1238 90h1m2 0h1m173 0h1M1238 91h1m3 0h1M1239 92h1m169 0h1m4 0h1M1431 93h1M1410 94h1M1241 95h1m9 0h1M1411 96h1m18 0h1M1240 97h1m171 0h1M1240 98h1m6 0h1m166 0h1M1238 99h1m166 0h1m9 0h1m1 0h1M1244 100h1m159 0h1M1240 101h1m160 0h2m6 0h1m5 0h1m14 0h1m1 0h1M1236 102h1m179 0h1M1242 103h1M1400 104h1m2 0h1M1240 105h1M1253 106h1m7 0h1m2 0h1m120 0h2m11 0h1M1247 107h2m18 0h1m85 0h1m6 0h1m1 0h1M1256 108h1m7 0h1m26 0h1m12 0h1m17 0h1m16 0h1m2 0h1m10 0h2m4 0h1m11 0h1m2 0h1m2 0h1m9 0h1m3 0h1m9 0h1m20 0h1M1268 109h1m44 0h1"/><path stroke="#2755ab" d="M1401 71h1M1400 72h1M1376 73h1m2 0h2M1379 74h1m1 0h1M1387 75h1M1373 76h1m12 0h1M1369 77h1m2 0h1m1 0h1m9 0h1m9 0h1M1275 78h1m97 0h2m9 0h2m1 0h2m7 0h1M1273 79h2m1 0h1m16 0h1m69 0h1m5 0h3m8 0h1m5 0h1m4 0h1m1 0h2m8 0h1m1 0h1M1276 80h1m14 0h1m7 0h1m1 0h1m9 0h2m24 0h1m2 0h2m10 0h1m8 0h2m4 0h2m3 0h2m2 0h1m8 0h2m3 0h1m1 0h1m4 0h1m7 0h1M1265 81h1m5 0h1m4 0h1m4 0h2m12 0h1m2 0h1m5 0h1m3 0h1m1 0h1m3 0h1m2 0h1m18 0h1m2 0h1m2 0h1m1 0h1m2 0h1m3 0h1m8 0h2m6 0h1m1 0h1m4 0h1m4 0h1m1 0h2m2 0h1m2 0h3m1 0h1m11 0h1M1261 82h2m1 0h2m1 0h1m6 0h2m3 0h1m11 0h1m3 0h1m3 0h1m1 0h2m3 0h6m3 0h1m7 0h1m1 0h3m5 0h1m1 0h1m1 0h1m2 0h2m1 0h2m16 0h1m2 0h3m1 0h1m4 0h1m1 0h1m3 0h4m7 0h1m1 0h3m1 0h1m2 0h1M1266 83h1m3 0h1m4 0h1m1 0h1m2 0h2m3 0h1m5 0h1m3 0h1m1 0h1m1 0h1m4 0h1m4 0h1m2 0h1m1 0h1m3 0h1m3 0h1m4 0h1m3 0h1m1 0h1m8 0h1m2 0h2m6 0h1m8 0h1m2 0h1m4 0h1m1 0h2m5 0h1m3 0h2m5 0h1m1 0h1m2 0h2m1 0h1M1255 84h1m11 0h1m2 0h1m1 0h2m1 0h3m1 0h2m3 0h1m1 0h6m1 0h1m4 0h1m1 0h2m4 0h2m2 0h3m4 0h2m1 0h1m1 0h1m4 0h1m3 0h1m8 0h3m1 0h1m1 0h2m1 0h3m1 0h1m1 0h1m5 0h1m2 0h2m2 0h1m3 0h2m1 0h2m2 0h1m2 0h2m2 0h1m1 0h1m3 0h1m2 0h4m3 0h1m3 0h2m2 0h2M1253 85h3m5 0h2m1 0h2m6 0h1m4 0h1m3 0h1m5 0h2m1 0h2m1 0h3m2 0h1m4 0h1m1 0h3m1 0h1m4 0h8m2 0h6m1 0h1m9 0h1m1 0h2m3 0h3m3 0h1m1 0h2m3 0h2m2 0h1m1 0h1m1 0h2m3 0h1m1 0h1m1 0h1m2 0h1m4 0h2m2 0h1m4 0h1m1 0h1m3 0h1m1 0h2m1 0h1m1 0h1M1254 86h1m4 0h1m5 0h2m1 0h3m1 0h1m2 0h2m5 0h9m1 0h2m3 0h16m1 0h16m1 0h3m3 0h3m2 0h2m8 0h1m1 0h3m3 0h2m1 0h1m1 0h2m1 0h1m2 0h2m1 0h1m6 0h1m6 0h1m2 0h1m2 0h1m2 0h1m3 0h1m6 0h3M1253 87h1m5 0h1m3 0h2m3 0h1m4 0h1m2 0h1m5 0h3m1 0h1m1 0h4m1 0h42m1 0h7m7 0h1m6 0h1m2 0h1m3 0h1m2 0h1m1 0h1m3 0h1m1 0h1m1 0h1m1 0h1m3 0h1m1 0h3m1 0h3m5 0h1m4 0h1m4 0h1M1259 88h1m1 0h1m1 0h3m2 0h3m1 0h1m1 0h3m1 0h4m1 0h1m2 0h6m3 0h54m2 0h1m1 0h2m1 0h1m1 0h1m1 0h1m2 0h6m2 0h1m1 0h1m3 0h1m2 0h2m2 0h3m1 0h1m2 0h1m1 0h2m1 0h1m4 0h1m2 0h2m4 0h1M1254 89h1m1 0h2m2 0h2m1 0h1m2 0h2m1 0h1m1 0h1m1 0h3m2 0h3m1 0h2m1 0h1m1 0h60m1 0h1m5 0h5m4 0h2m1 0h1m1 0h1m1 0h2m2 0h1m6 0h2m1 0h6m2 0h2m2 0h1m2 0h1m1 0h1m3 0h1m4 0h1M1257 90h2m4 0h3m1 0h1m1 0h1m1 0h1m3 0h3m3 0h3m2 0h63m5 0h1m1 0h2m4 0h1m2 0h4m2 0h1m3 0h1m2 0h1m5 0h1m2 0h1m1 0h1m6 0h3m4 0h1m5 0h1m4 0h1M1254 91h1m5 0h1m3 0h1m1 0h2m5 0h1m1 0h5m1 0h71m1 0h1m1 0h3m6 0h2m1 0h1m2 0h1m1 0h1m1 0h1m1 0h1m2 0h3m2 0h3m3 0h2m2 0h3m1 0h1m6 0h1m4 0h1m1 0h1M1256 92h1m1 0h2m1 0h2m1 0h1m2 0h2m1 0h1m3 0h1m2 0h3m2 0h68m1 0h4m2 0h4m2 0h1m5 0h1m2 0h2m1 0h1m1 0h2m1 0h1m3 0h3m3 0h1m1 0h1m8 0h1m1 0h1M1256 93h1m3 0h1m1 0h2m1 0h2m1 0h1m3 0h2m1 0h1m1 0h2m3 0h69m1 0h3m3 0h1m6 0h5m1 0h2m2 0h6m1 0h1m2 0h1m1 0h2m1 0h1m3 0h1m1 0h1m1 0h1m4 0h2M1254 94h1m1 0h1m2 0h1m1 0h1m1 0h1m1 0h1m1 0h2m1 0h1m2 0h1m3 0h3m1 0h67m1 0h3m2 0h4m3 0h1m1 0h1m3 0h3m1 0h1m1 0h2m2 0h4m2 0h3m1 0h6m3 0h1m2 0h1m2 0h1m1 0h2M1253 95h1m2 0h1m1 0h1m1 0h3m2 0h2m2 0h1m2 0h2m2 0h4m1 0h67m1 0h1m2 0h1m2 0h1m1 0h1m1 0h1m6 0h4m3 0h4m2 0h3m2 0h3m4 0h1m1 0h1m4 0h1m1 0h1m1 0h2m1 0h1M1252 96h1m3 0h4m1 0h3m1 0h2m4 0h2m1 0h1m2 0h1m2 0h71m3 0h1m2 0h1m3 0h2m2 0h11m3 0h2m3 0h1m1 0h3m2 0h1m1 0h1m8 0h1m1 0h1m1 0h2M1254 97h1m1 0h1m1 0h1m5 0h1m2 0h2m4 0h1m1 0h1m1 0h2m1 0h70m1 0h1m1 0h1m2 0h1m3 0h3m1 0h2m2 0h3m4 0h1m1 0h1m1 0h1m1 0h1m1 0h1m1 0h1m3 0h2m1 0h1m1 0h1m4 0h1m2 0h1m4 0h1M1251 98h2m2 0h1m1 0h2m1 0h2m1 0h1m4 0h5m2 0h1m1 0h72m1 0h1m4 0h3m1 0h7m2 0h1m1 0h1m2 0h1m3 0h1m1 0h1m6 0h3m4 0h2m5 0h1M1248 99h1m7 0h2m1 0h2m3 0h1m3 0h2m1 0h1m1 0h1m4 0h5m1 0h63m3 0h1m1 0h3m1 0h1m10 0h8m2 0h2m2 0h2m2 0h1m1 0h1m3 0h1m2 0h1M1247 100h1m8 0h1m1 0h1m1 0h2m3 0h1m3 0h1m2 0h3m4 0h7m1 0h4m1 0h55m4 0h1m8 0h1m2 0h2m1 0h1m8 0h1m4 0h2m1 0h5m1 0h1M1254 101h3m2 0h7m4 0h1m1 0h2m1 0h1m1 0h2m1 0h3m3 0h3m3 0h48m3 0h3m1 0h2m2 0h2m1 0h1m1 0h1m1 0h2m9 0h1m8 0h2m11 0h1m6 0h1M1240 102h1m13 0h1m1 0h1m1 0h1m2 0h1m1 0h1m2 0h1m1 0h3m1 0h1m1 0h1m1 0h1m4 0h1m4 0h1m1 0h1m3 0h4m2 0h41m4 0h1m1 0h2m1 0h4m1 0h1m6 0h2m7 0h1m7 0h2m3 0h1m7 0h3m1 0h1m3 0h1m6 0h4M1256 103h1m1 0h3m16 0h2m3 0h2m1 0h2m2 0h3m1 0h2m1 0h1m2 0h1m2 0h1m1 0h8m2 0h3m2 0h3m6 0h3m1 0h2m1 0h1m1 0h3m4 0h1m1 0h2m1 0h1m1 0h1m16 0h2m2 0h2m4 0h1m1 0h1m2 0h1m3 0h1m1 0h1m1 0h1m2 0h1m10 0h1M1256 104h1m1 0h1m3 0h1m3 0h1m1 0h1m1 0h2m2 0h1m1 0h1m3 0h1m6 0h1m1 0h1m6 0h3m5 0h1m1 0h2m3 0h2m1 0h1m1 0h1m2 0h1m1 0h1m3 0h2m4 0h1m1 0h1m2 0h4m2 0h2m1 0h2m3 0h3m4 0h1m2 0h1m3 0h2m1 0h1m1 0h1m1 0h1m1 0h1m1 0h1m1 0h4m6 0h1m4 0h1M1257 105h1m4 0h1m4 0h2m6 0h1m3 0h1m1 0h1m1 0h2m4 0h4m7 0h1m2 0h1m1 0h1m2 0h2m1 0h2m5 0h1m1 0h1m4 0h1m1 0h1m2 0h1m1 0h2m1 0h2m2 0h1m8 0h1m1 0h1m2 0h1m3 0h2m5 0h1m4 0h1m1 0h1m4 0h2m5 0h1m10 0h2m1 0h1M1270 106h1m1 0h1m2 0h2m1 0h1m5 0h1m1 0h1m8 0h1m2 0h1m3 0h1m1 0h2m2 0h2m3 0h1m1 0h2m1 0h2m2 0h4m3 0h1m3 0h1m2 0h1m6 0h1m2 0h1m20 0h1m1 0h1m3 0h1m3 0h1M1272 107h1m22 0h3m3 0h1m12 0h2m20 0h2m3 0h1m1 0h1m4 0h2m13 0h1m4 0h1M1315 108h1m10 0h1m9 0h2m8 0h1m1 0h2m15 0h1"/><path stroke="#3178cc" d="M1298 85h1m20 0h2M1289 86h1m7 0h15m3 0h14m2 0h2M1288 87h3m5 0h39m3 0h2M1287 88h5m3 0h51m18 0h1M1275 89h1m11 0h60M1275 90h1m10 0h63M1275 91h1m6 0h68M1282 92h68m27 0h2M1282 93h67m28 0h3M1282 94h66m19 0h2m8 0h3M1282 95h66m19 0h3M1281 96h68m19 0h2M1280 97h69M1278 98h6m1 0h64M1279 99h4m3 0h61M1279 100h4m5 0h3m1 0h54M1280 101h2m10 0h47m4 0h2M1293 102h3m2 0h3m3 0h33M1305 103h7m7 0h3"/><path stroke="#3c9fdc" d="M1309 86h1m6 0h8M1297 87h3m1 0h24m2 0h1m4 0h2M1289 88h2m5 0h34m1 0h4M1288 89h50m6 0h2M1287 90h53m3 0h4M1285 91h56m2 0h5M1283 92h59m1 0h5M1283 93h59m1 0h4M1283 94h59m1 0h3M1284 95h58m1 0h3M1285 96h57m1 0h4M1286 97h61M1286 98h60M1280 99h2m6 0h3m2 0h51M1280 100h2m11 0h4m1 0h41M1294 101h2m3 0h38M1306 102h7m1 0h13"/><path stroke="#48b7cf" d="M1305 87h7m3 0h9M1297 88h2m2 0h25m6 0h2M1289 89h2m5 0h40M1288 90h50M1287 91h53M1285 92h56M1284 93h57M1284 94h57M1285 95h56M1286 96h55M1287 97h54M1287 98h4m3 0h47M1295 99h43M1299 100h37M1306 101h22"/><path stroke="#58bd7a" d="M1321 87h1M1305 88h20M1301 89h26M1294 90h41M1289 91h49M1288 92h51M1289 93h51M1288 94h52M1288 95h52M1287 96h53M1288 97h2m4 0h41m2 0h2M1296 98h39M1300 99h34M1301 100h2m2 0h22M1308 101h4m3 0h5m3 0h2"/><path stroke="#6cc344" d="M1316 88h1M1309 89h16M1302 90h25M1299 91h35M1293 92h43M1292 93h47M1292 94h44m1 0h2M1293 95h42m2 0h2M1296 96h38M1300 97h32M1300 98h31M1301 99h3m1 0h20M1308 100h4m4 0h4"/><path stroke="#a5cf28" d="M1315 89h3M1310 90h15M1302 91h3m3 0h18M1301 92h32M1298 93h36M1298 94h36M1298 95h34M1300 96h31M1301 97h26m1 0h2M1302 98h1m2 0h18M1308 99h4m4 0h4"/><path stroke="#d8d81f" d="M1313 90h4M1310 91h14M1309 92h17M1302 93h3m3 0h19M1302 94h25M1302 95h25M1302 96h23M1306 97h17M1310 98h1m6 0h3"/><path stroke="#f6c01c" d="M1312 91h5M1310 92h9M1309 93h10M1309 94h11m3 0h2M1309 95h11M1312 96h8"/><path stroke="#f7981e" d="M1313 93h5M1313 94h5"/><path stroke="#fff" d="M1320 85h1M1298 86h1m6 0h1m5 0h1m3 0h2m1 0h2m3 0h1m3 0h1m3 0h1M1288 87h2m9 0h2m2 0h1m3 0h1m1 0h1m5 0h1m1 0h1m1 0h1m2 0h1m2 0h1m3 0h1m4 0h1M1289 88h1m5 0h1m3 0h1m2 0h4m7 0h1m14 0h1m1 0h1m4 0h1m2 0h1m1 0h1m2 0h1m1 0h1M1287 89h1m5 0h3m12 0h1m19 0h4m7 0h2m1 0h1m2 0h1M1287 90h1m8 0h1m3 0h1m35 0h1m2 0h1m1 0h2m1 0h1m3 0h1M1275 91h1m7 0h1m9 0h1m4 0h1m44 0h2m1 0h1M1285 92h1m10 0h1m1 0h2m1 0h1m11 0h1m3 0h1m9 0h1m3 0h2m1 0h1m6 0h1m4 0h1m30 0h1M1284 93h1m1 0h2m1 0h1m1 0h1m5 0h1m31 0h1m4 0h1m1 0h2m1 0h1m1 0h1m5 0h2m28 0h1M1286 94h1m2 0h2m48 0h1m1 0h1m5 0h1m20 0h1m10 0h1M1282 95h2m1 0h1m1 0h1m13 0h1m27 0h1m11 0h2m1 0h1m24 0h1M1281 96h1m5 0h1m1 0h1m2 0h1m13 0h1m8 0h1m12 0h1m4 0h1m4 0h2m1 0h1m4 0h1m21 0h2M1289 97h2m8 0h1m37 0h1m3 0h3M1279 98h1m1 0h1m1 0h1m8 0h3m33 0h1m7 0h1m2 0h1m3 0h1M1279 99h1m10 0h1m1 0h1m1 0h1m2 0h3m2 0h1m10 0h1m6 0h1m3 0h1m1 0h1m1 0h1m11 0h2m1 0h1m2 0h1M1281 100h2m5 0h3m1 0h2m1 0h1m1 0h2m1 0h1m4 0h1m27 0h1m1 0h2m2 0h2m1 0h1M1293 101h1m13 0h1m5 0h1m2 0h2m6 0h1m6 0h1m5 0h2m4 0h1M1299 102h1m5 0h1m1 0h1m1 0h1m2 0h1m3 0h1m8 0h1m3 0h1m3 0h1M1305 103h1m1 0h1m1 0h1"/></g>
<rect x="1235.2" y="0" width="268.05" height="1.75" fill="#bdbdbd"/>
<rect x="1502.1" y="0.04" width="1.9" height="268.8" fill="#bbbbbb"/>
<path d="M1235.2 0.44V268.84M1234.8 268.44H1503.15" stroke="#3a3a3a" stroke-width="0.85" fill="none"/>
<path d="M1227.8 267.34H1235.5M1236.4 268.24V275.64M1227.8 214.24H1235.5M1288.65 268.24V275.64M1227.8 160.79H1235.5M1342.1 268.24V275.64M1227.8 107.34H1235.5M1395.55 268.24V275.64M1227.8 53.89H1235.5M1449 268.24V275.64M1227.8 1.74H1235.5M1501.85 268.24V275.64" stroke="#000" stroke-width="1.6" fill="none"/>
<path d="M1229.9 230.33H1235.2M1272.56 268.44V273.74M1229.9 176.88H1235.2M1326.01 268.44V273.74M1229.9 123.43H1235.2M1379.46 268.44V273.74M1229.9 69.98H1235.2M1432.91 268.44V273.74M1229.9 16.53H1235.2M1486.36 268.44V273.74" stroke="#000" stroke-width="1.3" fill="none"/>
<path d="M1231.5 251.6H1235.2M1251.29 268.44V272.14M1231.5 242.19H1235.2M1260.7 268.44V272.14M1231.5 235.51H1235.2M1267.38 268.44V272.14M1231.5 226.1H1235.2M1276.79 268.44V272.14M1231.5 222.52H1235.2M1280.37 268.44V272.14M1231.5 219.42H1235.2M1283.47 268.44V272.14M1231.5 216.69H1235.2M1286.2 268.44V272.14M1231.5 198.15H1235.2M1304.74 268.44V272.14M1231.5 188.74H1235.2M1314.15 268.44V272.14M1231.5 182.06H1235.2M1320.83 268.44V272.14M1231.5 172.65H1235.2M1330.24 268.44V272.14M1231.5 169.07H1235.2M1333.82 268.44V272.14M1231.5 165.97H1235.2M1336.92 268.44V272.14M1231.5 163.24H1235.2M1339.65 268.44V272.14M1231.5 144.7H1235.2M1358.19 268.44V272.14M1231.5 135.29H1235.2M1367.6 268.44V272.14M1231.5 128.61H1235.2M1374.28 268.44V272.14M1231.5 119.2H1235.2M1383.69 268.44V272.14M1231.5 115.62H1235.2M1387.27 268.44V272.14M1231.5 112.52H1235.2M1390.37 268.44V272.14M1231.5 109.79H1235.2M1393.1 268.44V272.14M1231.5 91.25H1235.2M1411.64 268.44V272.14M1231.5 81.84H1235.2M1421.05 268.44V272.14M1231.5 75.16H1235.2M1427.73 268.44V272.14M1231.5 65.75H1235.2M1437.14 268.44V272.14M1231.5 62.17H1235.2M1440.72 268.44V272.14M1231.5 59.07H1235.2M1443.82 268.44V272.14M1231.5 56.34H1235.2M1446.55 268.44V272.14M1231.5 37.8H1235.2M1465.09 268.44V272.14M1231.5 28.39H1235.2M1474.5 268.44V272.14M1231.5 21.71H1235.2M1481.18 268.44V272.14M1231.5 12.3H1235.2M1490.59 268.44V272.14M1231.5 8.72H1235.2M1494.17 268.44V272.14M1231.5 5.62H1235.2M1497.27 268.44V272.14M1231.5 2.89H1235.2M1500 268.44V272.14" stroke="#000" stroke-width="1.3" fill="none"/>
<g><text x="1212.3" y="266.54" text-anchor="end">10</text><text x="1213.1" y="252.04">0</text><text x="1239" y="314.74">10</text><text x="1260.3" y="300.14">0</text><text x="1212.3" y="226.34" text-anchor="end">10</text><text x="1213.1" y="211.74">1</text><text x="1277.85" y="314.74">10</text><text x="1299.15" y="300.14">1</text><text x="1212.3" y="172.89" text-anchor="end">10</text><text x="1213.1" y="158.29">2</text><text x="1331.3" y="314.74">10</text><text x="1352.6" y="300.14">2</text><text x="1212.3" y="119.44" text-anchor="end">10</text><text x="1213.1" y="104.84">3</text><text x="1384.75" y="314.74">10</text><text x="1406.05" y="300.14">3</text><text x="1212.3" y="65.99" text-anchor="end">10</text><text x="1213.1" y="51.39">4</text><text x="1438.2" y="314.74">10</text><text x="1459.5" y="300.14">4</text><text x="1212.3" y="34.44" text-anchor="end">10</text><text x="1213.1" y="20.04">5</text><text x="1471" y="314.74">10</text><text x="1492.3" y="300.14">5</text></g>
<text x="1367.62" y="326.64" text-anchor="middle">CD3 CD19 CD20</text>
<path d="M1235.2 68.84H1350.6V155.44H1235.2" fill="none" stroke="#000" stroke-width="1.5"/>
<text x="1270.8" y="36.84">75,1</text>
</g>
<text class="row" x="-0.6" y="142">GBM 1</text>
<g id="p10">
<g class="d" transform="translate(0 0.5)"><path stroke="#7f90bb" d="M356 408h1M347 417h1M418 421h1M393 424h1M327 430h1M421 432h1M373 435h1M387 436h1M399 437h1M409 441h1M404 442h1m1 0h1M413 443h1M366 444h1m2 0h1m24 0h1M378 445h1m35 0h1M397 446h1M419 447h1M400 448h1m13 0h1M331 449h1m1 0h1m27 0h1M342 450h1m5 0h1m14 0h1M383 451h1M385 452h1m7 0h1m25 0h1M380 453h1M353 454h1m14 0h1m46 0h1M340 455h1m22 0h1m24 0h2m24 0h1M362 456h1M375 457h1M339 458h1m4 0h1m1 0h1m20 0h1m11 0h1M333 459h1m20 0h1m12 0h1m3 0h1m8 0h2m36 0h1M348 460h1m26 0h1M316 461h1m24 0h1m6 0h1m2 0h1m6 0h1m7 0h1M314 462h1m45 0h1m4 0h1m2 0h1m43 0h1M309 463h1m8 0h1m8 0h1m11 0h1m17 0h1m19 0h1M325 464h1m34 0h1m3 0h1M318 465h1m29 0h1M340 466h1m14 0h1m5 0h1m11 0h2M357 467h1m6 0h1M309 468h1m3 0h1m5 0h1m29 0h1m16 0h2m42 0h1M331 469h1m2 0h1m31 0h2m38 0h1m1 0h1M331 470h1m17 0h1M311 471h1m16 0h1m3 0h1m4 0h1m5 0h1m8 0h1m1 0h1M317 472h1m32 0h1m6 0h1m6 0h1M285 473h2m23 0h1m1 0h1m23 0h1m1 0h1m12 0h2m10 0h1m40 0h1M317 474h1m6 0h1m1 0h1m15 0h1m6 0h1m5 0h1m47 0h1M297 475h1m18 0h1m16 0h2m22 0h1M307 476h1m16 0h1m4 0h1m3 0h1m25 0h1M297 477h1m1 0h1m39 0h1m4 0h1m56 0h2M308 478h1m21 0h1m2 0h1m3 0h1m15 0h1m1 0h1m48 0h1M307 479h1m27 0h1m3 0h1m2 0h1m11 0h1m44 0h1m1 0h1M291 480h1m23 0h1m2 0h1m11 0h1m6 0h1m3 0h1m2 0h1M322 481h2m6 0h1m2 0h1m2 0h1m2 0h2m5 0h1m7 0h1m44 0h1m8 0h1M274 482h1m34 0h1m2 0h1m18 0h1m4 0h1m13 0h1m49 0h1M293 483h1m15 0h1m1 0h1m2 0h1m5 0h1m5 0h1m5 0h1m8 0h1m4 0h1m65 0h1M274 484h1m28 0h1m10 0h1m5 0h1m11 0h2m3 0h1m3 0h1m2 0h1M309 485h1m4 0h1m2 0h1m10 0h1m10 0h1M291 486h1m3 0h1m7 0h1m5 0h1m1 0h1m7 0h1m2 0h1m4 0h1m6 0h1m3 0h2m54 0h1m12 0h1M309 487h1m5 0h1m76 0h1m2 0h1M310 488h1m7 0h1m4 0h1m1 0h1m12 0h1m1 0h1M287 489h1m21 0h2m4 0h2m3 0h1M300 490h1m89 0h1M299 491h1m7 0h1m3 0h1m1 0h2m9 0h1M287 492h1m11 0h1m6 0h1m4 0h1m5 0h1m1 0h1M289 493h1m4 0h1m3 0h1m7 0h1m3 0h1m4 0h1m5 0h1m66 0h1m2 0h1M287 494h1m6 0h1m6 0h2m86 0h1M274 495h2m112 0h1M313 496h1m80 0h1M272 497h1m20 0h1m16 0h1m1 0h1M280 498h2m1 0h1m5 0h1m3 0h1m97 0h1M272 499h1m17 0h1m7 0h1m3 0h1m7 0h1M292 500h1m3 0h1m2 0h1m10 0h1m2 0h1M276 501h1m16 0h1m8 0h1m10 0h1m2 0h1M282 502h1m2 0h1M267 503h1m9 0h1m7 0h1m7 0h1m1 0h1m6 0h1m84 0h1M255 504h1m47 0h1M265 505h1m4 0h1m14 0h1m2 0h1m3 0h1m3 0h1m85 0h1M280 506h1m4 0h2m99 0h1M256 507h1m32 0h1m103 0h1M277 508h1m1 0h1m5 0h1m96 0h1M287 509h1M287 510h1M264 511h1m10 0h1m108 0h1m16 0h1M274 512h1m5 0h1m99 0h2M253 513h1m20 0h2m1 0h1m6 0h1M278 514h1m6 0h1m109 0h1M278 515h1m5 0h1m92 0h1M262 516h1m8 0h1m14 0h1M261 517h1m14 0h1M259 518h1m19 0h1m100 0h1M265 519h1m7 0h1m3 0h1m98 0h1M260 520h1m13 0h1m5 0h1m94 0h1M262 521h1m12 0h2m7 0h1m90 0h2M267 522h1m5 0h1m7 0h1M265 523h1m7 0h1m1 0h2m2 0h1m2 0h1m92 0h1M245 524h1m22 0h1m1 0h1m1 0h2m1 0h1M277 525h1M250 526h1m20 0h1m102 0h1M265 527h1m1 0h2m5 0h1M270 528h1m107 0h1M255 529h1m5 0h2m4 0h1M261 530h1M251 531h1m2 0h1m12 0h1m107 0h1M271 532h1M236 533h1m18 0h2m5 0h1m2 0h1m5 0h1M260 534h1m7 0h1m2 0h1m1 0h1M253 535h1m1 0h1m5 0h1m5 0h1m107 0h1M251 536h1m12 0h1m107 0h1M261 537h1m106 0h1M256 538h1m13 0h2m98 0h1M271 539h1m99 0h2M251 540h1m19 0h1m96 0h1M252 541h1m8 0h1m1 0h2m3 0h1m108 0h1M271 542h1M245 543h1m27 0h1M242 544h1m24 0h1m96 0h1M253 545h1m5 0h1m6 0h1m101 0h1m12 0h1M218 546h1m30 0h1m18 0h1m100 0h1m18 0h1M242 547h1m8 0h2m8 0h1m2 0h1m98 0h1m1 0h1M238 548h1m16 0h1m12 0h1M256 549h2m3 0h2m1 0h2m96 0h1m2 0h1M249 550h1m5 0h1m7 0h1m104 0h1M238 551h1m15 0h1m2 0h1m104 0h1M235 552h1m15 0h1m11 0h1m98 0h1M230 553h1m11 0h1m3 0h1m5 0h1m8 0h1m4 0h1M222 554h1m34 0h1m2 0h1m100 0h1M260 555h1m1 0h2M228 556h1m24 0h1m2 0h1m2 0h1m106 0h1M235 557h1m8 0h1m124 0h1M249 558h2m11 0h1m95 0h2M237 559h3m13 0h1m106 0h1M235 560h1m9 0h1m9 0h2m1 0h2m97 0h1m1 0h1M233 561h2m1 0h2m15 0h1M225 562h1m25 0h1m103 0h1M226 563h1m135 0h1M232 564h1M228 565h1m126 0h1M226 566h1m125 0h1M227 568h1M225 569h1M219 570h1m2 0h1m5 0h1m120 0h1M183 574h1m9 0h1m2 0h1M216 575h1M213 576h1m1 0h1m130 0h1M206 577h1m3 0h2M183 578h1m27 0h1m137 0h1M195 579h1m148 0h1m2 0h1M176 580h1m17 0h1m149 0h1M173 581h1m10 0h1m19 0h1M172 582h1m2 0h1m19 0h1m6 0h1m140 0h1m1 0h1M180 583h1m3 0h1m12 0h1m149 0h1M166 584h1m1 0h1m18 0h1m17 0h1m139 0h1M202 585h1m136 0h1m19 0h1M182 586h1m4 0h1m7 0h1m145 0h1m1 0h1M167 587h1m18 0h2m11 0h1M174 588h1m5 0h1m5 0h1m2 0h1m1 0h1m166 0h1M184 589h2M166 590h1m8 0h1m3 0h1m4 0h1m1 0h1m3 0h1m1 0h1m6 0h1M177 591h1m5 0h2m15 0h1m141 0h1m18 0h1M174 592h1m4 0h2m3 0h1m6 0h1m5 0h1m137 0h1m2 0h1M163 593h1m5 0h1m163 0h1m2 0h1M169 594h1m3 0h1m24 0h1m132 0h1m4 0h1M168 595h1m11 0h2m8 0h1m1 0h1M165 596h1m21 0h1m141 0h1M162 597h1m5 0h1m1 0h1m2 0h1m2 0h1m12 0h1m7 0h1m133 0h1M159 598h1m12 0h1m2 0h1m8 0h1m4 0h1m4 0h1M161 599h1m5 0h1m6 0h2m2 0h1m14 0h1M166 600h1m8 0h1m2 0h1M159 601h1m4 0h1m4 0h1m11 0h1m4 0h1m145 0h1M163 602h1m17 0h1m10 0h1m5 0h1M162 603h1m16 0h1m4 0h1m2 0h1m6 0h1m3 0h1m1 0h1m125 0h1M171 604h1m6 0h1m22 0h1M173 605h1m10 0h1m4 0h1m1 0h1m4 0h1m5 0h1M178 606h1m17 0h1m126 0h1M167 607h1m7 0h1m7 0h2m8 0h1m5 0h1m4 0h1m122 0h1M186 608h1m5 0h1m1 0h1m11 0h1m113 0h1m4 0h1M187 609h1m23 0h1M174 610h1m20 0h1m4 0h1m4 0h1m3 0h1m110 0h1M189 611h1M193 612h1m8 0h1m7 0h1m4 0h1M195 613h1M194 614h1m25 0h1m93 0h1M187 615h1M180 616h1m131 0h1M219 617h1m3 0h1m85 0h2M217 618h1m21 0h1m6 0h1M227 619h1m10 0h1m68 0h1m5 0h1M227 620h1m14 0h1m3 0h1M247 621h1M240 622h1m60 0h2M246 623h1M235 624h1m10 0h1m1 0h1m49 0h1m18 0h1M250 625h1m1 0h1m40 0h1m4 0h1M220 626h1m25 0h2m1 0h1m2 0h1m2 0h1m28 0h1m3 0h1m11 0h1M245 627h1m13 0h1m1 0h1m17 0h1m1 0h1m7 0h1m2 0h1M243 628h1m9 0h1m1 0h1m1 0h1m4 0h1m6 0h1m14 0h1M251 629h1m11 0h1m10 0h2m20 0h1M240 630h1m12 0h1m8 0h1m4 0h2M251 631h1m9 0h1m3 0h1m3 0h2m2 0h1m3 0h2M246 632h1m31 0h1m3 0h1M263 633h1m5 0h1m2 0h1m4 0h1M269 634h1M249 635h1m28 0h1M271 636h1M254 637h1m1 0h1m17 0h1M253 638h1m17 0h1M280 639h1M283 640h1M261 641h1m4 0h1M260 643h1m3 0h1M289 644h1M261 645h1m2 0h1M254 649h1m16 0h1"/><path stroke="#2755ab" d="M408 444h1m1 0h2M411 445h1M405 446h1m2 0h1m2 0h2M403 447h1m3 0h4m1 0h1M401 448h1m2 0h2m1 0h1m1 0h2m2 0h1M404 449h1m1 0h2m1 0h2M401 450h1m1 0h5m2 0h2M400 451h1m2 0h3m1 0h2m3 0h1M402 452h1m1 0h1m1 0h1M393 453h1m2 0h1m1 0h1m2 0h1m1 0h5m1 0h3M396 454h1m1 0h4m1 0h8M391 455h1m1 0h1m1 0h1m3 0h5m1 0h5m1 0h2M392 456h2m1 0h2m1 0h4m2 0h4m1 0h1M389 457h1m4 0h2m1 0h2m2 0h3m1 0h2m1 0h1m1 0h2M390 458h1m2 0h1m1 0h3m1 0h3m1 0h3m1 0h4m2 0h1M385 459h2m1 0h1m2 0h1m1 0h9m1 0h3m4 0h1M385 460h1m5 0h2m1 0h1m1 0h1m1 0h2m1 0h3m1 0h2M385 461h1m2 0h2m2 0h1m1 0h7m2 0h3m2 0h2M386 462h2m1 0h2m1 0h1m1 0h1m1 0h1m1 0h2m1 0h3m4 0h2M385 463h2m1 0h1m1 0h4m1 0h7m3 0h1m1 0h1M383 464h2m3 0h5m1 0h2m1 0h5m1 0h2m1 0h1M380 465h1m1 0h1m3 0h2m1 0h2m1 0h7m2 0h2m1 0h2M381 466h7m1 0h3m1 0h5m1 0h6m1 0h1M378 467h3m3 0h1m2 0h3m1 0h4m1 0h9M379 468h3m1 0h8m1 0h2m1 0h5m3 0h1M369 469h1m5 0h1m3 0h9m1 0h2m1 0h2m3 0h4M370 470h1m3 0h1m1 0h1m1 0h1m1 0h4m1 0h6m1 0h3m1 0h1m1 0h1m1 0h1m2 0h1M369 471h1m6 0h2m1 0h1m2 0h2m1 0h6m1 0h2m1 0h4M369 472h1m3 0h4m1 0h2m1 0h7m2 0h2m1 0h7m1 0h1M367 473h1m4 0h3m1 0h13m1 0h3m1 0h2m5 0h1M364 474h2m2 0h2m1 0h1m1 0h3m1 0h14m1 0h2m2 0h1m3 0h1M365 475h2m1 0h2m1 0h1m2 0h1m1 0h2m2 0h15m1 0h1m1 0h1M367 476h3m1 0h3m1 0h8m2 0h14M365 477h1m1 0h1m1 0h2m1 0h1m1 0h6m1 0h2m1 0h4m1 0h1m2 0h2m1 0h1m4 0h1M357 478h3m4 0h1m1 0h6m1 0h12m1 0h1m2 0h4m2 0h1M359 479h1m6 0h2m1 0h7m1 0h8m1 0h8m1 0h2M364 480h5m4 0h5m1 0h12M357 481h4m2 0h4m1 0h7m1 0h7m1 0h2m1 0h5m1 0h1M357 482h1m2 0h3m1 0h22m3 0h3m1 0h1M358 483h1m1 0h1m1 0h3m1 0h6m1 0h5m1 0h3m1 0h4m1 0h3m1 0h1M312 484h1m38 0h2m4 0h3m1 0h8m1 0h3m1 0h17M313 485h1m31 0h1m5 0h1m3 0h1m1 0h6m1 0h1m1 0h11m1 0h1m1 0h1m1 0h2m1 0h2m2 0h2M343 486h2m1 0h1m3 0h2m4 0h14m1 0h6m1 0h2m1 0h4m1 0h3m1 0h1M327 487h2m3 0h2m13 0h1m2 0h1m1 0h1m1 0h3m3 0h5m2 0h4m1 0h2m1 0h1m1 0h1m1 0h2m1 0h5M328 488h2m3 0h1m2 0h1m9 0h4m1 0h4m4 0h7m1 0h6m2 0h6m1 0h1m1 0h1m1 0h3m1 0h1M312 489h1m13 0h1m8 0h1m6 0h2m2 0h1m2 0h1m3 0h1m1 0h4m1 0h9m1 0h4m1 0h10m1 0h2M327 490h1m5 0h1m5 0h1m7 0h1m3 0h1m1 0h4m1 0h5m1 0h1m1 0h15m2 0h1m1 0h1m1 0h1M327 491h1m5 0h1m3 0h1m2 0h1m5 0h1m3 0h1m3 0h7m1 0h13m1 0h10M326 492h3m1 0h1m1 0h1m1 0h2m3 0h1m4 0h5m1 0h1m3 0h6m1 0h14m2 0h4m1 0h1m2 0h1M307 493h1m27 0h1m6 0h1m5 0h4m1 0h8m1 0h11m1 0h4m1 0h3m1 0h1M296 494h1m10 0h3m10 0h1m4 0h2m4 0h2m2 0h1m1 0h2m2 0h1m2 0h7m1 0h4m1 0h19m1 0h2m1 0h2M295 495h1m1 0h1m8 0h1m13 0h1m1 0h1m9 0h2m1 0h2m1 0h1m3 0h2m1 0h1m2 0h5m2 0h15m1 0h2m1 0h9M294 496h1m2 0h1m17 0h1m1 0h3m1 0h1m2 0h1m3 0h1m2 0h1m1 0h2m2 0h1m1 0h2m1 0h3m2 0h1m1 0h7m2 0h18m1 0h7m1 0h1M297 497h1m7 0h1m2 0h1m4 0h1m3 0h2m2 0h1m9 0h4m5 0h1m1 0h7m1 0h25m1 0h4m2 0h3M304 498h1m1 0h1m7 0h2m12 0h1m4 0h1m2 0h2m1 0h1m4 0h11m1 0h13m1 0h2m1 0h7m3 0h2M305 499h1m13 0h1m3 0h1m2 0h1m2 0h2m2 0h1m2 0h10m1 0h1m1 0h1m1 0h18m1 0h2m1 0h7m1 0h3M298 500h1m6 0h2m9 0h1m1 0h1m7 0h2m2 0h2m2 0h2m1 0h1m1 0h2m1 0h6m1 0h25m2 0h3m1 0h1m2 0h1M298 501h1m5 0h1m3 0h1m11 0h1m3 0h2m1 0h1m1 0h1m1 0h1m4 0h2m1 0h4m2 0h1m1 0h1m1 0h29m1 0h1m3 0h1M297 502h1m17 0h1m4 0h1m1 0h2m3 0h2m1 0h2m2 0h3m2 0h3m1 0h30m1 0h2m1 0h1m1 0h1m2 0h1M298 503h1m23 0h1m1 0h2m3 0h4m1 0h1m1 0h3m1 0h28m1 0h1m1 0h1m1 0h4M299 504h1m9 0h1m2 0h2m1 0h2m4 0h1m1 0h2m1 0h3m2 0h1m1 0h1m1 0h4m1 0h1m1 0h2m1 0h28m1 0h2m1 0h3m1 0h1M301 505h1m10 0h1m2 0h2m2 0h1m4 0h7m1 0h37m1 0h6m1 0h2M298 506h1m9 0h3m1 0h2m6 0h3m1 0h2m2 0h2m1 0h11m1 0h23m1 0h10m2 0h1M302 507h1m1 0h1m1 0h1m5 0h1m7 0h5m2 0h1m1 0h1m1 0h7m1 0h27m1 0h1m2 0h1m1 0h3m1 0h2M288 508h2m3 0h2m1 0h1m3 0h2m1 0h1m8 0h2m3 0h5m2 0h1m1 0h8m1 0h1m2 0h29m1 0h3m1 0h2m3 0h1m2 0h1M288 509h1m13 0h1m1 0h5m1 0h1m1 0h3m1 0h1m4 0h5m1 0h1m1 0h3m1 0h4m2 0h28m1 0h2m2 0h3m1 0h2M289 510h1m1 0h1m11 0h2m1 0h1m1 0h1m1 0h2m4 0h1m1 0h2m1 0h15m1 0h27m1 0h3m1 0h2m1 0h2M296 511h1m1 0h1m4 0h1m4 0h4m1 0h1m1 0h3m3 0h1m1 0h6m1 0h46m2 0h1m1 0h1M290 512h1m4 0h3m1 0h3m9 0h2m1 0h1m2 0h6m2 0h2m1 0h1m2 0h31m1 0h7m1 0h1m2 0h2m2 0h1M290 513h1m3 0h1m3 0h1m1 0h1m6 0h2m2 0h1m2 0h1m1 0h2m1 0h4m2 0h5m2 0h31m1 0h8m2 0h1M289 514h1m2 0h1m3 0h1m6 0h2m1 0h1m2 0h2m3 0h1m1 0h1m1 0h1m1 0h3m1 0h37m1 0h2m2 0h3m1 0h3m2 0h3M293 515h3m7 0h1m3 0h1m3 0h1m1 0h3m1 0h12m1 0h32m1 0h5m1 0h5M291 516h1m6 0h2m1 0h1m5 0h5m1 0h1m1 0h3m1 0h8m1 0h35m1 0h1m1 0h4m2 0h1M287 517h2m3 0h1m4 0h1m1 0h1m6 0h2m1 0h56m1 0h4m2 0h1M287 518h1m1 0h1m5 0h1m6 0h1m7 0h5m1 0h8m1 0h34m1 0h2m1 0h3m1 0h1m1 0h2M289 519h1m1 0h5m2 0h1m3 0h4m1 0h1m1 0h2m2 0h5m1 0h41m1 0h7m1 0h1M286 520h1m2 0h1m1 0h1m1 0h1m3 0h2m3 0h1m4 0h1m1 0h1m1 0h3m1 0h45m1 0h2m1 0h2m1 0h3M288 521h1m4 0h2m1 0h3m3 0h1m2 0h1m1 0h3m2 0h1m3 0h41m1 0h1m1 0h4m1 0h6M285 522h1m1 0h1m4 0h2m2 0h1m1 0h2m1 0h3m3 0h5m2 0h1m1 0h2m1 0h50m1 0h1M286 523h1m1 0h1m8 0h1m1 0h1m2 0h1m3 0h10m1 0h51m1 0h1m2 0h1M281 524h1m6 0h1m1 0h1m4 0h1m1 0h1m5 0h2m2 0h1m2 0h3m1 0h5m1 0h41m1 0h6m1 0h1m1 0h2M279 525h1m2 0h1m3 0h4m2 0h1m2 0h1m4 0h2m2 0h2m1 0h1m1 0h3m2 0h3m1 0h42m1 0h3m1 0h1m2 0h3m2 0h1M280 526h1m1 0h1m4 0h2m2 0h1m7 0h10m1 0h5m1 0h49m1 0h1m1 0h1m4 0h1M289 527h1m5 0h1m1 0h1m2 0h1m2 0h2m1 0h56m1 0h1m1 0h3m1 0h2m1 0h1M276 528h1m1 0h1m3 0h2m1 0h2m2 0h1m5 0h1m1 0h5m2 0h6m1 0h2m1 0h45m1 0h1m1 0h7m1 0h1m1 0h1M275 529h3m4 0h1m1 0h1m1 0h1m1 0h1m1 0h3m1 0h2m1 0h1m2 0h5m2 0h4m1 0h47m1 0h4m2 0h2m1 0h1M277 530h1m7 0h4m3 0h2m3 0h2m1 0h2m1 0h2m1 0h58m1 0h3M281 531h2m2 0h2m12 0h1m2 0h3m1 0h57m1 0h1M274 532h1m11 0h1m1 0h3m1 0h2m2 0h2m2 0h8m1 0h47m1 0h7m1 0h3M276 533h1m8 0h3m1 0h1m4 0h1m2 0h2m1 0h60m2 0h3m1 0h1M279 534h3m4 0h1m1 0h1m1 0h3m1 0h3m1 0h1m1 0h2m1 0h3m1 0h2m1 0h46m1 0h1m1 0h1m1 0h1m1 0h1m3 0h1M275 535h1m4 0h1m3 0h1m1 0h2m1 0h1m2 0h5m2 0h3m2 0h1m3 0h47m1 0h4m1 0h1M276 536h1m3 0h1m3 0h2m1 0h1m3 0h1m2 0h2m4 0h4m1 0h55m1 0h1m1 0h1m1 0h2M274 537h1m1 0h1m3 0h1m8 0h1m4 0h7m1 0h3m1 0h47m1 0h7m2 0h2M276 538h1m4 0h1m4 0h2m5 0h4m3 0h57m1 0h4M277 539h1m1 0h1m1 0h1m3 0h2m5 0h3m1 0h5m1 0h1m1 0h57m2 0h1m2 0h1M274 540h1m1 0h1m1 0h2m1 0h3m7 0h1m1 0h1m1 0h5m1 0h51m1 0h10m2 0h1M276 541h3m4 0h1m1 0h3m2 0h3m1 0h1m1 0h62m1 0h2m4 0h1M276 542h1m3 0h1m3 0h1m2 0h3m1 0h2m1 0h1m1 0h7m1 0h49m1 0h7m2 0h1M276 543h1m3 0h1m2 0h1m2 0h2m3 0h62m1 0h7M278 544h1m1 0h1m3 0h3m1 0h3m1 0h1m1 0h6m1 0h58m4 0h1M272 545h1m7 0h1m1 0h1m1 0h2m1 0h62m1 0h8m1 0h2M272 546h2m5 0h1m2 0h1m3 0h1m1 0h1m1 0h1m1 0h1m1 0h57m1 0h7m1 0h1M269 547h1m2 0h2m3 0h2m1 0h2m1 0h1m4 0h72m1 0h1M270 548h1m5 0h1m3 0h3m2 0h67m1 0h4m1 0h1M270 549h1m3 0h1m4 0h6m1 0h3m1 0h2m1 0h59m1 0h3m1 0h1m2 0h1M268 550h1m2 0h3m6 0h3m1 0h2m1 0h66m1 0h1m1 0h2M255 551h2m12 0h1m3 0h1m2 0h4m3 0h4m1 0h61m1 0h2m1 0h1m5 0h1M255 552h1m14 0h1m4 0h1m1 0h2m4 0h1m1 0h4m1 0h65m3 0h1M273 553h1m3 0h75m1 0h1M268 554h3m1 0h1m5 0h1m1 0h71m1 0h2m1 0h2M265 555h1m1 0h1m6 0h13m1 0h1m1 0h64m2 0h1M264 556h1m3 0h3m1 0h2m1 0h2m1 0h6m2 0h62m1 0h5M268 557h1m2 0h2m1 0h3m1 0h1m1 0h3m1 0h6m1 0h58m1 0h2m3 0h1M264 558h1m3 0h7m1 0h9m1 0h2m1 0h59m1 0h1M262 559h1m2 0h1m2 0h3m1 0h6m1 0h4m2 0h2m1 0h1m2 0h59m1 0h1m3 0h1M243 560h1m19 0h1m2 0h1m1 0h4m1 0h4m1 0h1m3 0h1m1 0h1m1 0h1m1 0h3m1 0h57m2 0h2M240 561h1m20 0h2m1 0h1m1 0h1m1 0h2m1 0h4m1 0h10m1 0h59m1 0h3m1 0h1m1 0h1M242 562h1m1 0h3m7 0h2m11 0h1m1 0h10m1 0h5m1 0h63m1 0h1m1 0h1M238 563h1m4 0h1m13 0h1m4 0h2m1 0h1m1 0h1m3 0h5m1 0h1m3 0h70M240 564h3m2 0h1m3 0h1m1 0h2m7 0h2m2 0h1m1 0h3m1 0h76m3 0h1M234 565h1m3 0h2m1 0h2m1 0h2m4 0h1m9 0h2m2 0h2m2 0h7m1 0h1m2 0h1m1 0h2m2 0h59m1 0h2m3 0h1m1 0h1M233 566h2m2 0h2m1 0h1m2 0h1m2 0h2m2 0h4m3 0h1m2 0h1m2 0h1m1 0h6m1 0h5m1 0h3m1 0h2m1 0h61m1 0h2M232 567h2m1 0h2m1 0h1m2 0h5m3 0h1m4 0h2m3 0h3m1 0h1m1 0h7m1 0h74m1 0h3M232 568h1m2 0h2m2 0h1m1 0h1m2 0h2m1 0h3m1 0h1m2 0h1m1 0h1m2 0h7m2 0h1m1 0h74m1 0h1m1 0h1m1 0h1M232 569h1m4 0h1m1 0h1m1 0h1m1 0h1m1 0h1m1 0h1m5 0h1m4 0h3m1 0h1m1 0h3m1 0h2m2 0h1m1 0h1m1 0h2m1 0h63m1 0h2m1 0h1M229 570h1m2 0h2m1 0h1m5 0h2m2 0h1m1 0h3m1 0h1m3 0h1m1 0h2m1 0h3m1 0h2m1 0h13m1 0h67M222 571h1m1 0h1m2 0h1m3 0h2m1 0h1m1 0h1m4 0h2m1 0h1m3 0h1m4 0h1m1 0h1m2 0h1m2 0h2m1 0h1m1 0h2m1 0h3m1 0h68m1 0h2M223 572h2m6 0h1m2 0h1m1 0h2m1 0h1m1 0h3m1 0h1m1 0h3m1 0h2m2 0h14m1 0h10m1 0h63M221 573h1m1 0h2m1 0h1m1 0h1m2 0h3m2 0h3m2 0h5m1 0h6m2 0h4m1 0h2m2 0h75m1 0h2m1 0h2M220 574h1m1 0h1m1 0h2m1 0h1m2 0h1m1 0h1m2 0h1m1 0h2m1 0h1m1 0h1m1 0h1m1 0h1m4 0h1m4 0h2m1 0h80m1 0h2m2 0h1M218 575h1m1 0h1m1 0h1m1 0h2m3 0h2m1 0h1m2 0h1m2 0h10m1 0h1m1 0h1m1 0h2m1 0h10m1 0h2m1 0h70m1 0h2m1 0h1M221 576h1m2 0h3m1 0h2m3 0h3m3 0h2m1 0h7m1 0h1m2 0h4m1 0h4m1 0h1m1 0h1m1 0h2m2 0h1m1 0h69M215 577h1m1 0h1m2 0h1m1 0h3m3 0h1m2 0h2m1 0h5m5 0h1m1 0h1m3 0h1m1 0h2m1 0h5m2 0h18m1 0h55m1 0h1m1 0h2M217 578h4m1 0h1m4 0h2m1 0h2m4 0h4m1 0h2m4 0h2m2 0h1m2 0h1m1 0h7m2 0h7m1 0h5m1 0h56m1 0h1m2 0h2M217 579h1m3 0h1m4 0h2m1 0h2m1 0h2m1 0h1m1 0h1m1 0h1m4 0h1m1 0h2m3 0h3m1 0h8m1 0h3m1 0h4m1 0h3m4 0h59M215 580h1m2 0h2m3 0h2m1 0h2m1 0h1m4 0h1m3 0h6m5 0h2m3 0h2m1 0h1m1 0h5m1 0h9m2 0h1m1 0h54m1 0h4m3 0h1M209 581h1m2 0h1m1 0h3m4 0h1m1 0h1m1 0h1m1 0h1m3 0h1m4 0h1m1 0h1m1 0h2m1 0h1m1 0h1m4 0h6m1 0h2m1 0h1m1 0h3m1 0h4m1 0h2m2 0h63M208 582h3m2 0h1m2 0h2m3 0h1m2 0h1m1 0h3m1 0h2m1 0h5m1 0h4m3 0h2m1 0h1m1 0h1m2 0h2m1 0h4m1 0h1m1 0h1m2 0h5m1 0h63m1 0h2m2 0h2M208 583h1m2 0h1m7 0h1m5 0h4m3 0h2m1 0h2m1 0h2m2 0h4m1 0h6m1 0h3m2 0h11m1 0h2m1 0h2m1 0h59M210 584h3m1 0h1m2 0h1m1 0h1m2 0h1m2 0h1m2 0h1m1 0h1m2 0h1m1 0h2m4 0h3m1 0h1m1 0h1m1 0h11m2 0h70m1 0h1M208 585h3m2 0h1m8 0h1m6 0h2m1 0h2m1 0h3m2 0h1m5 0h3m1 0h1m1 0h12m2 0h3m1 0h2m1 0h56m1 0h1m1 0h1M202 586h1m4 0h1m1 0h2m1 0h3m4 0h2m3 0h1m1 0h1m2 0h1m4 0h7m2 0h1m3 0h1m1 0h12m1 0h1m1 0h69m1 0h3M201 587h1m1 0h1m1 0h3m7 0h1m1 0h1m1 0h1m5 0h2m3 0h1m1 0h1m2 0h2m2 0h6m1 0h4m3 0h1m1 0h9m1 0h1m1 0h2m1 0h2m2 0h55m1 0h1m1 0h1M204 588h1m5 0h1m2 0h1m1 0h1m1 0h3m1 0h2m2 0h1m2 0h2m2 0h1m1 0h1m2 0h5m2 0h1m2 0h6m1 0h9m1 0h5m1 0h2m1 0h52m1 0h2m2 0h2m2 0h2M203 589h1m1 0h3m7 0h1m3 0h4m4 0h6m1 0h5m7 0h3m1 0h4m1 0h1m1 0h5m1 0h2m1 0h62m1 0h1m1 0h2m2 0h1M202 590h1m1 0h3m6 0h3m1 0h1m1 0h1m1 0h1m1 0h1m1 0h1m1 0h1m1 0h2m5 0h4m1 0h6m3 0h2m1 0h3m1 0h3m1 0h67m1 0h2M205 591h1m3 0h1m2 0h1m1 0h1m1 0h2m1 0h2m3 0h7m1 0h1m3 0h1m3 0h2m1 0h10m1 0h5m2 0h60m1 0h6m4 0h1m1 0h1M203 592h3m1 0h3m2 0h1m1 0h1m2 0h4m1 0h1m1 0h1m1 0h2m1 0h2m1 0h2m1 0h1m1 0h2m1 0h2m1 0h1m1 0h1m3 0h7m1 0h65m1 0h5m4 0h1m1 0h1M205 593h5m1 0h1m1 0h1m1 0h4m1 0h1m1 0h3m2 0h1m3 0h1m5 0h3m1 0h1m1 0h4m1 0h1m1 0h5m1 0h1m2 0h8m1 0h50m1 0h1m2 0h4m2 0h1M172 594h1m32 0h1m3 0h1m1 0h2m3 0h1m1 0h3m1 0h1m3 0h2m2 0h2m1 0h2m1 0h3m1 0h3m1 0h2m2 0h1m1 0h8m1 0h2m1 0h58m1 0h2m1 0h3M172 595h1m29 0h1m2 0h2m1 0h3m2 0h2m2 0h2m3 0h1m1 0h2m2 0h1m2 0h1m1 0h2m5 0h2m1 0h1m1 0h1m1 0h1m1 0h4m1 0h10m1 0h52m1 0h1m1 0h5m1 0h2M172 596h2m28 0h3m1 0h1m8 0h3m3 0h1m3 0h4m2 0h1m2 0h1m3 0h1m2 0h1m1 0h4m1 0h3m2 0h3m1 0h2m1 0h2m1 0h53m1 0h4m1 0h1M200 597h1m2 0h1m1 0h1m4 0h2m3 0h2m6 0h1m2 0h1m1 0h4m1 0h1m3 0h1m1 0h1m7 0h2m1 0h3m1 0h60m1 0h10m1 0h1M198 598h1m1 0h1m6 0h6m2 0h4m1 0h1m1 0h2m1 0h3m2 0h6m6 0h1m1 0h1m1 0h2m2 0h1m1 0h3m1 0h60m1 0h6m1 0h2M194 599h1m2 0h2m3 0h2m1 0h1m1 0h5m2 0h1m3 0h1m1 0h1m1 0h1m1 0h6m1 0h1m4 0h2m2 0h3m1 0h1m2 0h1m1 0h1m2 0h1m1 0h58m1 0h7m1 0h1M188 600h2m13 0h1m1 0h1m1 0h1m1 0h1m1 0h2m2 0h2m1 0h1m1 0h1m1 0h1m1 0h1m1 0h1m1 0h1m3 0h2m2 0h1m3 0h2m1 0h4m1 0h3m2 0h2m1 0h4m1 0h52m1 0h6m1 0h2m1 0h2M189 601h1m7 0h1m4 0h1m1 0h1m1 0h1m6 0h5m1 0h6m1 0h1m1 0h7m2 0h4m1 0h1m1 0h1m3 0h1m1 0h70m4 0h1M188 602h1m12 0h1m2 0h1m2 0h4m3 0h2m1 0h1m1 0h3m3 0h2m4 0h4m3 0h4m1 0h3m1 0h2m1 0h3m1 0h4m2 0h2m1 0h55m3 0h2m1 0h1M205 603h1m2 0h2m1 0h1m1 0h1m5 0h3m2 0h3m5 0h2m3 0h1m1 0h2m1 0h4m2 0h1m1 0h1m1 0h2m1 0h56m1 0h2m1 0h4m1 0h1m1 0h2M204 604h1m5 0h4m1 0h3m4 0h2m1 0h3m1 0h1m1 0h1m5 0h3m1 0h4m1 0h2m1 0h1m2 0h2m1 0h61m4 0h3M205 605h1m1 0h1m2 0h1m2 0h1m3 0h3m2 0h1m1 0h1m2 0h1m1 0h3m1 0h1m1 0h1m1 0h1m3 0h2m1 0h1m1 0h3m2 0h4m1 0h50m2 0h1m1 0h6M210 606h1m1 0h2m1 0h2m2 0h4m2 0h1m5 0h1m1 0h1m2 0h2m1 0h1m1 0h1m1 0h1m1 0h4m1 0h1m1 0h2m1 0h2m1 0h2m2 0h40m2 0h3m2 0h5m1 0h2m3 0h1M210 607h1m2 0h1m1 0h1m1 0h1m4 0h1m2 0h1m2 0h3m2 0h3m1 0h2m1 0h2m1 0h1m2 0h3m1 0h2m1 0h53m1 0h1m1 0h3m1 0h1m1 0h1m1 0h1M217 608h1m3 0h1m1 0h1m1 0h2m5 0h1m1 0h3m1 0h2m2 0h2m2 0h1m1 0h4m1 0h1m1 0h5m2 0h46m1 0h1m1 0h3m1 0h2m1 0h1M213 609h1m2 0h1m1 0h1m2 0h1m1 0h1m1 0h2m1 0h1m2 0h1m1 0h2m1 0h1m2 0h1m5 0h1m1 0h1m1 0h7m1 0h2m1 0h1m1 0h34m1 0h2m1 0h1m1 0h5m2 0h2m1 0h2M220 610h1m2 0h1m1 0h1m1 0h1m1 0h1m1 0h1m1 0h1m3 0h2m4 0h6m1 0h4m6 0h41m1 0h1m1 0h6m1 0h1m1 0h2m1 0h1M220 611h1m1 0h3m5 0h1m2 0h1m2 0h2m1 0h2m2 0h2m3 0h2m1 0h1m1 0h8m1 0h1m1 0h1m2 0h2m1 0h28m1 0h2m2 0h7M217 612h1m2 0h3m1 0h2m1 0h1m1 0h5m1 0h1m1 0h2m3 0h1m2 0h1m1 0h6m1 0h2m1 0h6m1 0h2m1 0h22m1 0h3m1 0h4m1 0h10m1 0h1m1 0h1M219 613h1m1 0h1m2 0h1m2 0h1m3 0h2m2 0h1m2 0h2m8 0h2m2 0h1m5 0h5m1 0h25m1 0h13m1 0h4m1 0h2M224 614h1m1 0h2m1 0h2m3 0h1m1 0h1m6 0h1m1 0h1m1 0h1m1 0h1m1 0h2m2 0h1m1 0h3m1 0h2m1 0h1m1 0h1m1 0h1m1 0h7m1 0h28M230 615h3m5 0h1m4 0h2m1 0h2m2 0h1m1 0h2m1 0h7m1 0h1m2 0h1m1 0h1m1 0h5m1 0h5m1 0h19m1 0h4M228 616h1m1 0h1m1 0h1m5 0h4m4 0h1m1 0h1m2 0h1m2 0h1m1 0h2m1 0h1m1 0h2m1 0h4m1 0h6m1 0h1m1 0h1m1 0h3m1 0h14m2 0h3m1 0h2m2 0h2M231 617h2m4 0h2m2 0h1m2 0h1m3 0h1m3 0h2m2 0h2m1 0h3m1 0h2m2 0h7m1 0h1m1 0h4m1 0h8m1 0h2m2 0h2m1 0h1m2 0h2M254 618h1m4 0h2m1 0h1m2 0h1m2 0h1m1 0h21m1 0h2m1 0h1m1 0h1m2 0h1m1 0h2M258 619h1m1 0h3m3 0h3m3 0h1m1 0h1m2 0h2m1 0h4m2 0h4m1 0h2m1 0h2m6 0h1M249 620h1m4 0h1m4 0h1m6 0h3m2 0h1m1 0h1m2 0h8m1 0h1m2 0h3m2 0h1m3 0h1m1 0h1m2 0h1M250 621h1m2 0h1m1 0h1m2 0h1m1 0h1m1 0h1m1 0h1m2 0h7m2 0h1m1 0h1m2 0h1m4 0h1m2 0h6m1 0h1M248 622h1m2 0h1m3 0h1m3 0h2m5 0h1m1 0h1m4 0h4m3 0h1m2 0h4m3 0h2m1 0h1m3 0h1M249 623h2m5 0h1m7 0h4m1 0h3m2 0h1m7 0h1m5 0h1m3 0h1M258 624h2m4 0h1m1 0h1m4 0h1m1 0h1m4 0h1m3 0h1m1 0h2m1 0h1M255 625h1m4 0h2m2 0h1m7 0h1m8 0h1M265 626h1m1 0h1m3 0h1m1 0h3M269 627h1"/><path stroke="#3178cc" d="M362 493h4M360 494h7M359 495h9M358 496h10M357 497h11M356 498h12M356 499h12M353 500h15M350 501h17M348 502h19M347 503h19M346 504h20M345 505h21M344 506h21M343 507h22M341 508h24M340 509h24M338 510h26M336 511h27M334 512h28M332 513h30M331 514h30M330 515h30M328 516h32M326 517h33M325 518h33M324 519h34M323 520h34M322 521h35M321 522h36M321 523h36M320 524h37M319 525h38M317 526h40M315 527h42M314 528h43M313 529h43M312 530h44M311 531h44M311 532h44M310 533h44M310 534h44M309 535h45M308 536h46M307 537h46M306 538h46M305 539h46M305 540h46M304 541h46M304 542h46M303 543h47M303 544h47M302 545h47M301 546h48M300 547h49M299 548h49M298 549h50M298 550h50M297 551h51M296 552h51M295 553h52M294 554h53M294 555h53M294 556h53M294 557h53M293 558h53M293 559h53M292 560h54M291 561h55M290 562h56M290 563h55M290 564h55M289 565h55M288 566h55M288 567h55M287 568h55M286 569h55M285 570h55M284 571h56M283 572h56M282 573h56M282 574h56M282 575h55M282 576h54M282 577h53M281 578h53M281 579h52M280 580h52M280 581h51M279 582h51M279 583h50M278 584h50M277 585h51M276 586h51M275 587h51M273 588h51M272 589h50M271 590h50M270 591h49M269 592h49M268 593h49M267 594h49M267 595h48M266 596h48M266 597h48M266 598h47M265 599h47M265 600h46M265 601h44M264 602h44M263 603h44M263 604h43M263 605h41M263 606h39M264 607h36M265 608h33M266 609h30M268 610h25M270 611h20M271 612h16M273 613h6"/><path stroke="#3c9fdc" d="M360 497h3M359 498h5M358 499h6M358 500h6M357 501h7M353 502h10M350 503h13M348 504h15M348 505h14M347 506h15M346 507h16M345 508h17M343 509h19M342 510h19M341 511h20M340 512h20M338 513h22M336 514h23M334 515h24M332 516h26M331 517h26M329 518h27M327 519h28M326 520h29M325 521h30M324 522h31M323 523h31M323 524h31M322 525h32M321 526h33M320 527h34M318 528h36M317 529h37M316 530h37M315 531h38M314 532h38M313 533h39M312 534h40M312 535h39M311 536h40M310 537h40M309 538h40M308 539h41M307 540h41M306 541h42M306 542h42M306 543h41M305 544h42M304 545h42M304 546h42M303 547h42M302 548h43M301 549h44M300 550h45M300 551h45M299 552h45M298 553h46M297 554h47M296 555h48M296 556h49M296 557h49M295 558h50M295 559h50M294 560h51M294 561h51M293 562h52M292 563h52M292 564h52M292 565h51M291 566h51M291 567h50M290 568h51M289 569h51M289 570h50M288 571h50M287 572h51M286 573h51M285 574h51M285 575h50M285 576h49M284 577h49M284 578h49M283 579h49M283 580h48M282 581h47M282 582h46M281 583h46M281 584h45M280 585h45M279 586h45M278 587h44M277 588h42M276 589h42M275 590h41M274 591h41M273 592h42M272 593h42M271 594h43M270 595h43M269 596h43M269 597h42M268 598h42M268 599h40M268 600h38M268 601h37M267 602h38M267 603h36M267 604h35M267 605h32M268 606h29M270 607h25M272 608h20M273 609h16M275 610h11"/><path stroke="#48b7cf" d="M357 503h2M352 504h8M350 505h10M349 506h11M348 507h12M347 508h13M346 509h14M344 510h15M343 511h16M342 512h17M341 513h17M340 514h17M338 515h18M337 516h18M335 517h19M334 518h20M332 519h21M330 520h23M329 521h24M328 522h25M326 523h26M325 524h27M324 525h28M323 526h28M323 527h28M321 528h30M319 529h32M318 530h33M317 531h33M316 532h33M315 533h34M314 534h35M314 535h35M313 536h36M313 537h35M312 538h35M310 539h37M309 540h37M308 541h38M308 542h38M307 543h38M307 544h38M306 545h38M306 546h38M305 547h38M304 548h39M304 549h39M303 550h39M302 551h40M301 552h41M300 553h41M299 554h42M298 555h44M298 556h44M297 557h46M297 558h46M296 559h47M296 560h47M295 561h48M295 562h48M294 563h49M294 564h48M293 565h48M293 566h48M293 567h47M292 568h47M291 569h47M291 570h47M290 571h47M290 572h47M289 573h47M288 574h47M288 575h46M287 576h46M287 577h45M286 578h45M286 579h44M285 580h43M284 581h43M284 582h42M283 583h42M283 584h40M282 585h39M282 586h37M281 587h36M280 588h36M279 589h36M278 590h36M277 591h36M275 592h38M274 593h38M273 594h39M273 595h38M272 596h38M271 597h37M271 598h35M270 599h35M270 600h34M270 601h33M270 602h32M271 603h28M271 604h26M272 605h23M273 606h20M275 607h14M277 608h10M281 609h2"/><path stroke="#58bd7a" d="M353 506h4M351 507h6M350 508h7M349 509h8M347 510h10M346 511h11M345 512h11M344 513h11M343 514h12M341 515h12M340 516h12M339 517h13M337 518h14M336 519h15M335 520h15M333 521h17M331 522h19M330 523h19M329 524h20M327 525h21M326 526h22M325 527h23M324 528h24M322 529h26M321 530h26M320 531h27M319 532h27M318 533h28M317 534h29M316 535h30M315 536h31M314 537h32M314 538h31M313 539h32M311 540h34M310 541h34M309 542h35M309 543h35M308 544h35M308 545h34M307 546h35M307 547h35M306 548h35M305 549h36M305 550h35M304 551h35M303 552h36M302 553h37M301 554h38M300 555h39M300 556h39M299 557h40M298 558h41M298 559h42M297 560h43M297 561h42M296 562h43M296 563h42M295 564h43M295 565h43M295 566h43M294 567h44M294 568h43M293 569h44M293 570h43M292 571h44M292 572h43M291 573h43M291 574h42M290 575h42M289 576h42M289 577h41M288 578h39M288 579h36M287 580h35M287 581h34M286 582h34M285 583h34M285 584h33M284 585h33M284 586h31M283 587h31M283 588h31M282 589h31M280 590h32M279 591h32M278 592h33M277 593h33M276 594h33M275 595h32M274 596h32M274 597h31M273 598h31M273 599h30M273 600h29M273 601h27M274 602h23M275 603h21M275 604h19M276 605h15M278 606h9M281 607h2"/><path stroke="#6cc344" d="M333 525h9M332 526h11M330 527h13M329 528h14M328 529h15M326 530h17M324 531h19M323 532h19M322 533h20M321 534h21M320 535h22M319 536h23M318 537h24M317 538h25M316 539h26M315 540h26M314 541h27M313 542h28M312 543h28M311 544h29M310 545h29M310 546h29M309 547h29M308 548h30M308 549h29M307 550h29M306 551h30M306 552h29M305 553h30M304 554h30M303 555h31M303 556h30M302 557h31M302 558h30M301 559h31M300 560h31M299 561h32M299 562h31M298 563h32M298 564h31M298 565h30M297 566h30M297 567h30M297 568h29M296 569h29M296 570h28M295 571h28M295 572h28M294 573h28M294 574h28M293 575h28M293 576h27M292 577h27M292 578h26M291 579h26M291 580h26M291 581h25M290 582h25M290 583h24M289 584h24M288 585h24M288 586h23M287 587h24M287 588h23M287 589h22M286 590h21M285 591h21M283 592h22M282 593h22M281 594h22M280 595h22M280 596h21M280 597h21M280 598h19M280 599h17M281 600h12M282 601h10M283 602h7"/><path stroke="#a5cf28" d="M330 531h4M328 532h7M327 533h9M325 534h12M324 535h13M322 536h16M321 537h17M320 538h18M319 539h19M318 540h20M317 541h21M316 542h21M315 543h22M314 544h23M313 545h23M312 546h24M311 547h24M310 548h25M310 549h24M309 550h25M308 551h25M308 552h25M307 553h25M306 554h26M306 555h25M305 556h26M304 557h26M304 558h26M303 559h26M303 560h26M302 561h26M301 562h26M301 563h25M300 564h26M300 565h25M300 566h24M299 567h25M299 568h24M298 569h24M298 570h23M298 571h23M297 572h23M297 573h22M297 574h21M296 575h22M296 576h21M296 577h20M295 578h20M294 579h20M294 580h19M294 581h18M294 582h17M293 583h17M293 584h16M293 585h15M293 586h14M292 587h14M292 588h13M292 589h12M291 590h12M291 591h11M291 592h10M289 593h11M288 594h10M287 595h10"/><path stroke="#d8d81f" d="M328 536h5M325 537h8M323 538h11M322 539h12M321 540h13M319 541h15M318 542h16M317 543h17M316 544h18M315 545h19M314 546h19M313 547h20M312 548h21M312 549h20M311 550h21M310 551h21M309 552h22M309 553h21M308 554h22M307 555h22M307 556h22M306 557h22M306 558h22M305 559h22M305 560h22M304 561h22M303 562h22M303 563h21M302 564h21M302 565h21M301 566h21M301 567h21M301 568h20M300 569h20M300 570h19M299 571h20M299 572h19M299 573h18M299 574h17M299 575h16M299 576h15M299 577h14M299 578h13M298 579h13M298 580h12M298 581h11M298 582h10M298 583h8M298 584h7M298 585h5M298 586h4"/><path stroke="#f6c01c" d="M324 540h5M322 541h8M321 542h10M320 543h11M319 544h12M318 545h13M316 546h15M315 547h16M314 548h16M314 549h16M313 550h17M312 551h17M311 552h18M311 553h17M310 554h18M309 555h18M309 556h18M308 557h18M308 558h18M307 559h18M306 560h19M306 561h18M305 562h18M305 563h17M304 564h18M304 565h17M303 566h17M303 567h17M303 568h16M302 569h16M302 570h15M302 571h14M301 572h14M301 573h13M301 574h12M301 575h11M301 576h10M301 577h9M301 578h8M302 579h6M303 580h3"/><path stroke="#f7981e" d="M325 543h1M322 544h5M321 545h7M319 546h9M317 547h11M316 548h12M315 549h12M315 550h12M314 551h13M313 552h14M312 553h14M312 554h14M311 555h14M310 556h15M310 557h15M309 558h15M309 559h15M308 560h15M308 561h14M307 562h14M306 563h15M306 564h14M305 565h14M305 566h14M305 567h13M304 568h13M304 569h12M304 570h11M304 571h10M304 572h9M304 573h8M304 574h7M304 575h5M304 576h4"/><path stroke="#f46a22" d="M321 547h2M319 548h5M318 549h7M317 550h8M316 551h9M315 552h9M314 553h10M314 554h10M313 555h10M312 556h11M312 557h11M311 558h11M310 559h12M310 560h11M309 561h11M309 562h11M308 563h11M308 564h10M308 565h10M307 566h10M307 567h9M307 568h8M307 569h7M307 570h6M307 571h4"/><path stroke="#ee4122" d="M319 551h2M318 552h3M317 553h4M316 554h5M315 555h6M314 556h7M314 557h7M313 558h7M312 559h8M312 560h7M311 561h7M311 562h7M311 563h6M310 564h6M310 565h5M310 566h4M311 567h2"/><path stroke="#fff" d="M367 497h1M356 499h1M366 500h1M364 503h1M338 510h1m1 0h1M334 512h1m4 0h1M337 513h1M336 514h1M333 518h1M330 519h1M323 522h1M354 523h1M320 524h1M319 525h1m1 0h1m31 0h1M355 526h1M315 527h1M315 529h1M354 531h1M352 534h2M312 535h1M310 538h1M349 539h1M349 544h1M347 548h1M297 551h1M291 562h1M342 566h1M288 567h1m1 0h1M288 568h2m51 0h1M287 569h1M336 574h1M279 582h1M281 584h1M277 586h2M320 589h1M274 590h1M273 591h1M316 592h1M269 593h1M315 594h1M270 595h1M311 596h1M266 601h1m41 0h1M265 604h1M263 605h1m33 0h1M300 606h1M267 609h1m7 0h1m10 0h1m6 0h1M278 610h1m9 0h1M271 611h1m6 0h1M279 612h1m3 0h1"/></g>
<path d="M157.55 383.44H425.9" stroke="#858585" stroke-width="0.9" fill="none"/>
<path d="M425.5 383.44V651.44" stroke="#858585" stroke-width="0.95" fill="none"/>
<path d="M157.55 383.44V651.84M157.15 651.44H425.9" stroke="#3a3a3a" stroke-width="0.85" fill="none"/>
<path d="M150.15 650.34H157.85M158.75 651.24V658.64M150.15 597.24H157.85M211 651.24V658.64M150.15 543.79H157.85M264.45 651.24V658.64M150.15 490.34H157.85M317.9 651.24V658.64M150.15 436.89H157.85M371.35 651.24V658.64M150.15 384.74H157.85M424.2 651.24V658.64" stroke="#000" stroke-width="1.6" fill="none"/>
<path d="M152.25 613.33H157.55M194.91 651.44V656.74M152.25 559.88H157.55M248.36 651.44V656.74M152.25 506.43H157.55M301.81 651.44V656.74M152.25 452.98H157.55M355.26 651.44V656.74M152.25 399.53H157.55M408.71 651.44V656.74" stroke="#000" stroke-width="1.3" fill="none"/>
<path d="M153.85 634.6H157.55M173.64 651.44V655.14M153.85 625.19H157.55M183.05 651.44V655.14M153.85 618.51H157.55M189.73 651.44V655.14M153.85 609.1H157.55M199.14 651.44V655.14M153.85 605.52H157.55M202.72 651.44V655.14M153.85 602.42H157.55M205.82 651.44V655.14M153.85 599.69H157.55M208.55 651.44V655.14M153.85 581.15H157.55M227.09 651.44V655.14M153.85 571.74H157.55M236.5 651.44V655.14M153.85 565.06H157.55M243.18 651.44V655.14M153.85 555.65H157.55M252.59 651.44V655.14M153.85 552.07H157.55M256.17 651.44V655.14M153.85 548.97H157.55M259.27 651.44V655.14M153.85 546.24H157.55M262 651.44V655.14M153.85 527.7H157.55M280.54 651.44V655.14M153.85 518.29H157.55M289.95 651.44V655.14M153.85 511.61H157.55M296.63 651.44V655.14M153.85 502.2H157.55M306.04 651.44V655.14M153.85 498.62H157.55M309.62 651.44V655.14M153.85 495.52H157.55M312.72 651.44V655.14M153.85 492.79H157.55M315.45 651.44V655.14M153.85 474.25H157.55M333.99 651.44V655.14M153.85 464.84H157.55M343.4 651.44V655.14M153.85 458.16H157.55M350.08 651.44V655.14M153.85 448.75H157.55M359.49 651.44V655.14M153.85 445.17H157.55M363.07 651.44V655.14M153.85 442.07H157.55M366.17 651.44V655.14M153.85 439.34H157.55M368.9 651.44V655.14M153.85 420.8H157.55M387.44 651.44V655.14M153.85 411.39H157.55M396.85 651.44V655.14M153.85 404.71H157.55M403.53 651.44V655.14M153.85 395.3H157.55M412.94 651.44V655.14M153.85 391.72H157.55M416.52 651.44V655.14M153.85 388.62H157.55M419.62 651.44V655.14M153.85 385.89H157.55M422.35 651.44V655.14" stroke="#000" stroke-width="1.3" fill="none"/>
<g><text x="134.65" y="649.54" text-anchor="end">10</text><text x="135.45" y="635.04">0</text><text x="162.55" y="697.74">10</text><text x="183.85" y="683.14">0</text><text x="134.65" y="609.34" text-anchor="end">10</text><text x="135.45" y="594.74">1</text><text x="201.4" y="697.74">10</text><text x="222.7" y="683.14">1</text><text x="134.65" y="555.89" text-anchor="end">10</text><text x="135.45" y="541.29">2</text><text x="254.85" y="697.74">10</text><text x="276.15" y="683.14">2</text><text x="134.65" y="502.44" text-anchor="end">10</text><text x="135.45" y="487.84">3</text><text x="308.3" y="697.74">10</text><text x="329.6" y="683.14">3</text><text x="134.65" y="448.99" text-anchor="end">10</text><text x="135.45" y="434.39">4</text><text x="361.75" y="697.74">10</text><text x="383.05" y="683.14">4</text><text x="134.65" y="417.44" text-anchor="end">10</text><text x="135.45" y="403.04">5</text><text x="394.55" y="697.74">10</text><text x="415.85" y="683.14">5</text></g>
<text x="291.18" y="708.84" text-anchor="middle">FSC-A</text>
<text transform="translate(119.85 516.14) rotate(-90)" text-anchor="middle">SSC-A</text>
<ellipse cx="0" cy="0" rx="28.1" ry="17.0" transform="translate(334.3 572.5) rotate(-50)" fill="none" stroke="#000" stroke-width="1.5"/>
<text x="163.85" y="458.04">10,2</text>
</g>
<g id="p11">
<g class="d" transform="translate(0 0.5)"><path stroke="#7f90bb" d="M554 546h1M574 567h1M587 568h1m5 0h1M569 569h1m6 0h1M570 570h1m9 0h1M545 571h1M689 572h1m54 0h1M589 573h1M541 574h1m19 0h1m3 0h1m22 0h1M648 575h1M690 576h1M560 577h1m8 0h1m14 0h3m3 0h1m2 0h1m4 0h1M578 578h1m7 0h1M559 579h1m2 0h1m6 0h1m19 0h1m10 0h1M561 580h2M572 581h1m1 0h1m14 0h1M567 582h1m4 0h1m18 0h1m5 0h1m6 0h1m24 0h1M564 583h1M569 584h2m2 0h2m9 0h2m2 0h1M556 585h1m10 0h1m13 0h1m8 0h1M566 586h1m13 0h1m1 0h1M573 587h2m20 0h1m2 0h1M549 588h2m13 0h1m15 0h1m3 0h1m1 0h1m5 0h1M558 589h2m1 0h1m4 0h1m12 0h1m6 0h1m1 0h1m9 0h1m11 0h1M557 590h1m7 0h1m8 0h1m19 0h1m61 0h1m29 0h1M553 591h1m6 0h1m5 0h2m3 0h1m1 0h1m10 0h1m5 0h2M551 592h1m5 0h1m24 0h1m1 0h1m4 0h1m3 0h1M582 593h1m48 0h1M574 594h1m2 0h1m5 0h2m4 0h1M563 595h1m6 0h1m25 0h1M567 596h2m3 0h1m5 0h1m7 0h1m13 0h1m1 0h1M566 597h1m2 0h1m15 0h2m35 0h1M564 598h1m3 0h1m3 0h1m6 0h1m6 0h1m3 0h1M554 600h1m2 0h1m7 0h1m1 0h1m4 0h1m19 0h1m150 0h1M554 601h1m5 0h1m13 0h1m33 0h1m69 0h1M553 602h1m8 0h1m20 0h1m3 0h1m5 0h1M555 603h1m3 0h1m18 0h1m3 0h1m3 0h1M554 604h1m3 0h1m1 0h1m3 0h2m13 0h1m2 0h1m8 0h1m9 0h1M557 605h1m34 0h1m10 0h1M551 606h1m9 0h1m29 0h2m6 0h1M556 607h1m4 0h1M526 608h1m71 0h1m24 0h1M544 609h1m4 0h2M544 610h1m57 0h1M548 611h1m56 0h1m2 0h1M653 613h1M542 614h1m1 0h1m3 0h2m71 0h1m4 0h1M547 616h1m1 0h1m57 0h1m2 0h2M542 617h1m66 0h1m1 0h1m3 0h1m28 0h1M607 618h1m9 0h2M549 619h1m108 0h1M527 620h1m17 0h1m67 0h1m3 0h1M630 621h1M534 623h1m92 0h1m3 0h1m151 0h1M633 624h1m59 0h1m88 0h1M530 625h1m99 0h1m65 0h1M628 626h1m2 0h1m6 0h1m7 0h1m20 0h1m35 0h1m52 0h1M525 627h1m100 0h2m40 0h1m6 0h1m3 0h1m64 0h1M672 628h1m13 0h1M529 629h1m95 0h1m2 0h1m5 0h1m8 0h1m2 0h1m15 0h1m8 0h1m1 0h2m17 0h1m5 0h1m27 0h2M644 630h2m1 0h1m3 0h1m24 0h1m11 0h1m41 0h1M525 631h1m108 0h1m1 0h1m40 0h1m3 0h1m2 0h1m40 0h1m20 0h1M526 632h1m138 0h1m62 0h1M528 633h1m95 0h1m4 0h1m24 0h1M525 634h1m93 0h1m11 0h1m50 0h1m50 0h1M621 635h1m77 0h1"/><path stroke="#2755ab" d="M578 593h1M579 594h1m1 0h1M567 602h3M569 603h1M572 604h1m2 0h2m11 0h1M566 605h1m1 0h1m6 0h1m7 0h1m3 0h2M565 606h2m11 0h1m1 0h1m5 0h1m1 0h1M563 607h1m3 0h2m2 0h7m4 0h2m4 0h1M566 608h2m2 0h2m2 0h1m5 0h1m2 0h2m3 0h1m1 0h1M558 609h1m1 0h1m3 0h1m3 0h1m1 0h1m4 0h1m1 0h1m1 0h4m2 0h2M553 610h4m3 0h1m3 0h8m2 0h4m1 0h4m1 0h1m1 0h1m2 0h1m5 0h1m5 0h1M554 611h1m5 0h1m2 0h4m3 0h3m2 0h2m1 0h5m2 0h4m1 0h1m2 0h3m4 0h1m2 0h1M556 612h4m3 0h1m1 0h3m1 0h4m2 0h1m1 0h5m2 0h4m5 0h1m4 0h1m1 0h2m1 0h1M553 613h1m3 0h2m1 0h1m8 0h1m1 0h1m1 0h3m2 0h1m1 0h1m1 0h2m3 0h1m1 0h1m2 0h1m1 0h1m7 0h1M551 614h2m1 0h4m2 0h2m1 0h1m1 0h2m1 0h4m1 0h2m1 0h2m1 0h3m1 0h1m1 0h2m2 0h1m1 0h1m4 0h2m1 0h3m1 0h1M554 615h2m1 0h2m3 0h3m1 0h1m1 0h7m2 0h1m1 0h4m2 0h1m1 0h1m1 0h1m4 0h1m2 0h2m1 0h1m2 0h1M551 616h2m2 0h2m2 0h2m1 0h5m1 0h4m2 0h1m1 0h2m1 0h1m1 0h2m1 0h2m1 0h4m2 0h2m3 0h1m1 0h1M557 617h1m3 0h1m1 0h2m1 0h4m3 0h2m1 0h2m1 0h2m2 0h1m1 0h4m1 0h2m1 0h1m3 0h1M555 618h1m2 0h3m1 0h2m1 0h3m3 0h8m2 0h4m3 0h1m1 0h1m1 0h2m1 0h2m1 0h2m3 0h1M552 619h1m2 0h1m2 0h2m3 0h3m4 0h1m1 0h6m1 0h5m2 0h1m1 0h1m2 0h2m1 0h1m5 0h2m1 0h1M551 620h1m1 0h1m2 0h1m4 0h2m2 0h3m1 0h1m2 0h1m1 0h1m1 0h2m1 0h1m3 0h1m2 0h1m1 0h4m2 0h2m10 0h1m1 0h1M539 621h2m1 0h1m5 0h1m1 0h1m2 0h1m2 0h3m2 0h4m3 0h2m1 0h2m1 0h1m2 0h4m1 0h4m3 0h1m1 0h1m1 0h3m1 0h3m2 0h3m10 0h1M538 622h1m11 0h1m2 0h1m2 0h7m1 0h5m1 0h1m1 0h1m3 0h11m1 0h2m1 0h8m1 0h1m6 0h2m3 0h1m1 0h1m6 0h1M537 623h1m1 0h1m1 0h1m1 0h2m2 0h3m3 0h2m1 0h1m1 0h2m1 0h2m1 0h4m1 0h27m3 0h6m1 0h1m1 0h4m2 0h1m1 0h2m2 0h1M535 624h3m2 0h4m2 0h2m1 0h3m3 0h4m1 0h1m1 0h40m1 0h6m2 0h8M536 625h5m1 0h3m1 0h8m1 0h1m1 0h46m1 0h3m2 0h1m2 0h1m1 0h1m2 0h2m3 0h1M533 626h2m2 0h4m2 0h6m1 0h4m1 0h50m1 0h4m1 0h1m1 0h1m2 0h1m1 0h1m4 0h2M532 627h1m1 0h5m1 0h7m1 0h60m1 0h2m2 0h1m1 0h3m2 0h2m2 0h1M533 628h1m2 0h1m1 0h5m1 0h1m1 0h4m1 0h1m1 0h3m1 0h50m1 0h1m1 0h1m1 0h4m1 0h1m1 0h4m159 0h2M530 629h1m2 0h2m2 0h3m2 0h11m1 0h56m2 0h5m2 0h1m4 0h1m157 0h1M530 630h1m1 0h2m1 0h14m2 0h2m1 0h51m1 0h2m1 0h3m1 0h3m1 0h1m2 0h2M533 631h6m1 0h7m1 0h58m1 0h2m1 0h4m1 0h1m1 0h3m2 0h2M534 632h1m1 0h1m3 0h4m2 0h3m1 0h1m1 0h5m1 0h42m2 0h1m1 0h1m1 0h8m4 0h1m2 0h2M534 633h1m2 0h3m1 0h1m1 0h6m1 0h3m1 0h39m2 0h1m1 0h13m1 0h1m2 0h3m5 0h1M533 634h1m1 0h1m3 0h2m1 0h3m1 0h1m1 0h3m1 0h3m1 0h6m1 0h23m1 0h3m1 0h3m1 0h8m2 0h2m1 0h1m2 0h2m1 0h1m6 0h1m1 0h1M539 635h4m1 0h1m1 0h3m4 0h4m1 0h1m1 0h2m1 0h1m2 0h12m1 0h5m1 0h2m1 0h1m1 0h2m5 0h3m1 0h1m3 0h1m3 0h1"/><path stroke="#3178cc" d="M577 622h5M570 623h17M564 624h35M562 625h40M560 626h43M559 627h44M558 628h45M557 629h46M557 630h46M557 631h45M558 632h42M560 633h32M564 634h21M567 635h11"/><path stroke="#3c9fdc" d="M571 623h14M566 624h23M563 625h37M562 626h39M560 627h42M559 628h43M559 629h43M559 630h42M559 631h41M560 632h38M562 633h26M565 634h18M570 635h4"/><path stroke="#48b7cf" d="M573 623h9M568 624h18M564 625h26M563 626h37M561 627h40M560 628h41M560 629h41M560 630h40M560 631h39M561 632h28M564 633h21M566 634h15"/><path stroke="#58bd7a" d="M570 624h14M566 625h21M564 626h26m5 0h1M562 627h37M562 628h38M561 629h39M561 630h38M562 631h28M563 632h23M565 633h18M568 634h10"/><path stroke="#6cc344" d="M572 624h7M569 625h15M566 626h20M564 627h23M563 628h25M563 629h25M563 630h24M564 631h21M565 632h18M567 633h13"/><path stroke="#a5cf28" d="M571 625h10M568 626h15M566 627h18M565 628h20M565 629h20M565 630h19M565 631h17M567 632h13M569 633h8"/><path stroke="#d8d81f" d="M573 625h3M570 626h11M568 627h14M566 628h17M566 629h16M566 630h16M567 631h13M568 632h10"/><path stroke="#f6c01c" d="M571 626h7M569 627h11M568 628h13M567 629h14M567 630h13M568 631h11M570 632h6"/><path stroke="#f7981e" d="M573 626h3M570 627h9M569 628h11M568 629h12M569 630h10M570 631h7"/><path stroke="#f46a22" d="M572 627h5M570 628h8M570 629h8M570 630h8M571 631h4"/><path stroke="#ee4122" d="M572 628h5M571 629h6M571 630h5"/><path stroke="#fff" d="M596 625h1m2 0h1M557 631h1M589 632h1m6 0h1m1 0h2M584 634h1"/></g>
<path d="M516.5 383.44H784.85" stroke="#858585" stroke-width="0.9" fill="none"/>
<path d="M784.45 383.44V651.44" stroke="#858585" stroke-width="0.95" fill="none"/>
<path d="M516.5 383.44V651.84M516.1 651.44H784.85" stroke="#3a3a3a" stroke-width="0.85" fill="none"/>
<path d="M509.1 650.34H516.8M517.7 651.24V658.64M509.1 597.24H516.8M569.95 651.24V658.64M509.1 543.79H516.8M623.4 651.24V658.64M509.1 490.34H516.8M676.85 651.24V658.64M509.1 436.89H516.8M730.3 651.24V658.64M509.1 384.74H516.8M783.15 651.24V658.64" stroke="#000" stroke-width="1.6" fill="none"/>
<path d="M512.8 637.33H516.5M529.86 651.44V655.14M512.8 623.97H516.5M543.23 651.44V655.14M512.8 610.6H516.5M556.59 651.44V655.14M512.8 583.88H516.5M583.31 651.44V655.14M512.8 570.52H516.5M596.67 651.44V655.14M512.8 557.15H516.5M610.04 651.44V655.14M512.8 530.43H516.5M636.76 651.44V655.14M512.8 517.07H516.5M650.12 651.44V655.14M512.8 503.7H516.5M663.49 651.44V655.14M512.8 476.98H516.5M690.21 651.44V655.14M512.8 463.62H516.5M703.58 651.44V655.14M512.8 450.25H516.5M716.94 651.44V655.14M512.8 423.53H516.5M743.66 651.44V655.14M512.8 410.17H516.5M757.02 651.44V655.14M512.8 396.8H516.5M770.39 651.44V655.14" stroke="#000" stroke-width="1.3" fill="none"/>
<g><text x="504.3" y="649.44" text-anchor="end">0</text><text x="515.7" y="697.34">0</text><text x="504.3" y="609.24" text-anchor="end">20K</text><text x="548.75" y="697.34">20K</text><text x="504.3" y="555.79" text-anchor="end">40K</text><text x="602.2" y="697.34">40K</text><text x="504.3" y="502.34" text-anchor="end">60K</text><text x="655.65" y="697.34">60K</text><text x="504.3" y="448.89" text-anchor="end">80K</text><text x="709.1" y="697.34">80K</text><text x="504.3" y="402.64" text-anchor="end">100K</text><text x="783.55" y="697.34" text-anchor="end">100K</text></g>
<text x="650.12" y="708.84" text-anchor="middle">FSC-W</text>
<text transform="translate(470.8 516.94) rotate(-90)" text-anchor="middle">SSC-W</text>
<path d="M550.6 619.14L572.4 615.24L605.5 617.04L610 637.04L573.3 641.34L550.6 641.64Z" fill="none" stroke="#000" stroke-width="1.5"/>
<text x="571.5" y="472.84">89,0</text>
</g>
<g id="p12">
<g class="d" transform="translate(0 0.5)"><path stroke="#7f90bb" d="M1040 394h1M1050 395h1M1051 397h1M1045 398h1M1034 404h1M1053 405h1M1044 407h1m9 0h1M1036 408h1M1038 409h1m19 0h1M1063 414h1M1064 421h1M1067 426h2M1067 427h1M1070 429h1M1068 434h1M1069 436h1M1066 442h1m1 0h1M1070 445h1M1071 448h1M1070 454h1M1069 457h1m1 0h1M1071 460h1M1066 463h1M1072 465h1M1071 466h1M1069 467h1M1068 468h1M1070 473h1M1071 476h1M1063 477h1M1068 479h1M1069 484h1M1067 486h1M1068 490h1M1068 494h2M1069 498h1M1068 499h1M1065 501h1m1 0h1M1064 503h1m2 0h1m2 0h1M1067 504h1M1065 506h1m2 0h1M1067 507h1M1071 508h1M1067 510h1M1069 518h1M1069 519h1M1071 520h1M1068 526h1M1067 527h1M1071 528h1M1070 531h1M1069 533h1M1069 539h2m1 0h1M1076 540h1M1070 542h1M1072 553h1M1070 557h1M1071 561h1M1071 566h1M1073 568h1M1073 577h1M1068 590h1M1072 591h1M1071 592h1M1075 594h1M1068 600h1M1067 601h1m1 0h1M1068 602h1M1069 604h1M1067 607h1M1068 609h1m1 0h1M1067 610h1M1066 612h1m4 0h1M1066 616h1m1 0h1M1070 619h1M1069 620h1M1067 621h1M1068 624h1M1069 628h1M1065 631h1M1067 632h1M1066 641h1M1063 643h1M1064 644h1"/><path stroke="#2755ab" d="M1045 409h1m9 0h1M1037 410h1m3 0h2m2 0h1m3 0h2m4 0h1m3 0h1M1030 411h2m8 0h1m6 0h1m3 0h1m7 0h1M1033 412h2m2 0h1m5 0h1m3 0h1m2 0h1m1 0h1m4 0h1M1031 413h2m2 0h4m2 0h2m6 0h1m3 0h1m2 0h2m1 0h1m1 0h1M1033 414h2m1 0h1m1 0h1m1 0h5m1 0h4m1 0h1m1 0h4m1 0h2M1031 415h6m1 0h1m1 0h3m1 0h2m1 0h1m5 0h1m1 0h8M1031 416h8m1 0h3m2 0h1m1 0h1m2 0h1m1 0h1m1 0h1m1 0h1m3 0h1M1030 417h1m1 0h2m4 0h2m1 0h2m1 0h2m1 0h1m1 0h2m1 0h4m1 0h1M1031 418h6m1 0h8m5 0h3m1 0h1m3 0h3M1031 419h2m1 0h1m3 0h5m1 0h1m1 0h2m2 0h4m2 0h3M1030 420h1m1 0h3m1 0h7m1 0h3m2 0h2m2 0h1m1 0h6M1033 421h3m1 0h9m1 0h2m4 0h3m1 0h3m2 0h1M1030 422h1m1 0h1m3 0h12m2 0h1m1 0h4m1 0h3M1030 423h3m2 0h1m1 0h9m3 0h1m1 0h9m3 0h2M1029 424h3m1 0h4m1 0h11m1 0h9m4 0h2M1031 425h1m1 0h1m4 0h24m1 0h1M1029 426h1m1 0h1m1 0h2m2 0h21m2 0h3M1030 427h2m1 0h3m1 0h23m2 0h3M1031 428h1m1 0h27m2 0h2M1032 429h27m2 0h2M1031 430h27m4 0h1M1031 431h1m1 0h25m6 0h2M1030 432h28m1 0h1m1 0h2M1029 433h3m1 0h26m4 0h1M1029 434h1m1 0h1m1 0h25m1 0h1m1 0h1M1029 435h2m2 0h28m1 0h3M1033 436h25m5 0h2M1030 437h1m1 0h27m2 0h1m6 0h1M1030 438h32m1 0h1m1 0h1m2 0h1M1029 439h2m1 0h24m2 0h1m1 0h2m2 0h3M1031 440h25m3 0h2m5 0h1m1 0h1M1030 441h30m1 0h1m1 0h1M1031 442h28M1029 443h2m1 0h26m2 0h2M1031 444h28m1 0h2m4 0h1M1029 445h1m1 0h30M1029 446h31m1 0h2m2 0h1M1031 447h29m3 0h1M1030 448h32m1 0h1m2 0h1M1031 449h27m1 0h1m1 0h1m7 0h1M1030 450h30m1 0h1m5 0h3M1029 451h29m2 0h2m4 0h2M1030 452h31m2 0h1m3 0h1M1030 453h29m1 0h2m1 0h2m1 0h1M1031 454h27m2 0h2m1 0h1m1 0h1m1 0h1M1032 455h25m1 0h2m5 0h2M1030 456h27m2 0h1M1029 457h1m1 0h28m1 0h2m1 0h1M1031 458h26m1 0h2m6 0h1M1029 459h1m1 0h27M1031 460h27m5 0h1m1 0h1M1030 461h29m2 0h1m4 0h1M1031 462h27m1 0h1m1 0h1m1 0h1M1033 463h22m1 0h1m2 0h2M1030 464h26m1 0h4m1 0h1m1 0h1M1032 465h23m2 0h2m1 0h2m1 0h2M1030 466h1m1 0h24m5 0h1M1031 467h1m1 0h26m1 0h2m1 0h1M1031 468h26m5 0h1m2 0h1M1030 469h1m2 0h24m1 0h1m1 0h2m1 0h1m1 0h1M1030 470h1m1 0h23m3 0h1m4 0h1m1 0h1M1030 471h2m1 0h21m2 0h1m1 0h1m4 0h2M1031 472h25m1 0h1m1 0h1m1 0h1m1 0h1m1 0h3M1030 473h1m2 0h1m1 0h18m3 0h1m1 0h1m1 0h1m1 0h2m2 0h1M1030 474h4m1 0h15m1 0h3m1 0h1m1 0h1m2 0h1m6 0h1M1030 475h2m1 0h1m1 0h14m1 0h1m4 0h2m1 0h1m2 0h1m5 0h1M1029 476h1m4 0h14m2 0h1m2 0h1m1 0h4M1032 477h16m1 0h1m1 0h1m1 0h3m1 0h3M1031 478h15m1 0h1m3 0h4m1 0h3M1029 479h2m3 0h9m1 0h1m1 0h3m3 0h2m1 0h1m1 0h3m4 0h1m1 0h1M1030 480h9m1 0h8m1 0h1m1 0h2m2 0h1m2 0h1m1 0h3m1 0h1M1032 481h8m1 0h3m1 0h2m1 0h2m3 0h2m7 0h2M1031 482h7m1 0h1m1 0h3m1 0h4m2 0h4m1 0h5m2 0h1M1029 483h1m2 0h6m3 0h4m1 0h7m2 0h1m1 0h2m1 0h2m2 0h1M1029 484h1m1 0h1m1 0h2m2 0h2m1 0h14m1 0h3m1 0h1m1 0h2m1 0h1M1030 485h1m1 0h2m4 0h7m3 0h14m5 0h1M1030 486h1m1 0h1m2 0h3m1 0h6m2 0h1m1 0h1m1 0h3m1 0h1m1 0h2m2 0h2m2 0h1M1033 487h6m3 0h7m1 0h1m3 0h2m2 0h4m1 0h1M1030 488h2m1 0h5m3 0h3m3 0h1m1 0h1m1 0h2m3 0h2m1 0h1m1 0h1m1 0h1M1032 489h1m5 0h1m1 0h3m1 0h1m4 0h2m1 0h3m1 0h2m1 0h1m1 0h2m2 0h1M1029 490h7m1 0h1m1 0h3m3 0h1m1 0h5m2 0h1m2 0h2m1 0h3M1033 491h2m4 0h1m1 0h2m1 0h2m3 0h1m1 0h1m3 0h1m2 0h1m1 0h1m4 0h1m1 0h1M1030 492h1m4 0h2m2 0h1m1 0h3m4 0h3m2 0h1m1 0h2m2 0h1m1 0h1m1 0h1m2 0h1M1030 493h1m1 0h1m3 0h2m1 0h1m1 0h6m1 0h2m1 0h2m1 0h5m3 0h2m1 0h1M1034 494h3m1 0h2m1 0h3m1 0h1m2 0h6m2 0h1m2 0h1m2 0h1m1 0h2M1030 495h1m1 0h1m1 0h2m1 0h1m2 0h4m1 0h3m1 0h6m1 0h5M1030 496h1m1 0h5m2 0h2m1 0h2m1 0h1m1 0h7m2 0h2m3 0h1M1031 497h5m1 0h8m3 0h5m1 0h1m1 0h1m1 0h1m2 0h1M1030 498h12m6 0h1m2 0h1m1 0h2m2 0h1m5 0h1m2 0h1M1030 499h1m1 0h3m3 0h3m1 0h1m1 0h4m1 0h1m1 0h1m1 0h2m6 0h2m2 0h1M1029 500h1m2 0h3m2 0h6m1 0h2m1 0h3m1 0h1m2 0h1m2 0h1m1 0h1m1 0h2M1032 501h2m4 0h3m2 0h9m2 0h2M1030 502h2m5 0h7m1 0h1m1 0h1m3 0h1m1 0h2m2 0h1m1 0h2m2 0h1M1030 503h2m4 0h7m2 0h2m3 0h6m2 0h1m2 0h1M1030 504h1m1 0h1m2 0h6m1 0h2m3 0h1m2 0h1m1 0h2m1 0h2m1 0h1m2 0h2M1032 505h2m2 0h6m2 0h1m1 0h2m1 0h2m1 0h1m2 0h1m1 0h2m1 0h3m3 0h1M1030 506h2m1 0h1m3 0h4m4 0h2m2 0h4m1 0h1m1 0h3m1 0h1M1031 507h3m1 0h6m5 0h8m3 0h2m4 0h1M1030 508h1m1 0h3m1 0h5m1 0h1m4 0h11m1 0h2m2 0h1M1029 509h4m1 0h1m1 0h2m1 0h4m2 0h1m1 0h12m3 0h1m1 0h1M1030 510h1m9 0h1m2 0h1m1 0h3m2 0h6m3 0h3m1 0h2M1031 511h1m2 0h2m2 0h1m1 0h6m2 0h3m1 0h2m1 0h4m1 0h1m2 0h1m1 0h1M1034 512h1m2 0h1m1 0h2m1 0h4m2 0h1m3 0h2m1 0h4m1 0h1m1 0h1m2 0h1M1039 513h5m2 0h2m2 0h2m1 0h3m1 0h1m1 0h1m1 0h1M1030 514h3m1 0h4m1 0h1m2 0h2m3 0h1m3 0h1m3 0h2m3 0h1M1031 515h2m2 0h1m2 0h1m5 0h1m1 0h1m1 0h1m2 0h2m1 0h1m1 0h3m1 0h1m1 0h4M1030 516h10m1 0h6m1 0h1m7 0h3m3 0h2M1032 517h2m2 0h1m2 0h3m1 0h1m1 0h3m2 0h2m2 0h1m1 0h1m1 0h2m2 0h1m1 0h1M1030 518h3m2 0h3m1 0h4m1 0h4m4 0h1m2 0h1m4 0h1m1 0h1m1 0h1M1031 519h1m1 0h1m1 0h1m2 0h1m1 0h1m1 0h1m1 0h3m3 0h2m1 0h3m1 0h1m2 0h5m2 0h1M1032 520h2m2 0h1m1 0h3m1 0h7m2 0h7m1 0h2m1 0h3M1030 521h5m1 0h1m2 0h7m2 0h4m2 0h5m1 0h1m5 0h1M1030 522h1m1 0h2m1 0h4m1 0h12m1 0h5m1 0h1m2 0h3m1 0h1M1031 523h1m10 0h5m2 0h8m2 0h2m1 0h5M1036 524h4m2 0h2m1 0h6m1 0h5m1 0h2m2 0h2m2 0h1m1 0h1M1029 525h1m2 0h2m3 0h1m1 0h1m2 0h8m2 0h5m1 0h1m1 0h1m2 0h1M1031 526h2m1 0h1m3 0h1m1 0h4m1 0h6m1 0h5m4 0h3m3 0h1M1032 527h1m1 0h1m3 0h13m1 0h6m2 0h1M1029 528h2m1 0h1m1 0h3m1 0h1m1 0h18m2 0h1m1 0h2M1032 529h26m1 0h2m1 0h1M1030 530h1m3 0h25m1 0h2m5 0h2M1030 531h3m1 0h2m1 0h1m1 0h20m1 0h4m1 0h1M1029 532h2m3 0h1m1 0h1m1 0h1m1 0h17m2 0h1m3 0h2M1031 533h2m2 0h2m2 0h2m1 0h16m1 0h4m3 0h1M1032 534h1m1 0h1m2 0h3m2 0h20m1 0h6M1032 535h3m1 0h3m2 0h19m1 0h2m1 0h1M1030 536h7m3 0h22m1 0h1m1 0h1M1030 537h1m1 0h5m2 0h22m1 0h2m1 0h1M1032 538h5m1 0h1m1 0h20m4 0h1M1029 539h2m1 0h29m1 0h3m2 0h1M1031 540h27m1 0h1m2 0h1m1 0h1m1 0h1M1031 541h30m4 0h2M1030 542h2m1 0h27m1 0h1m2 0h1m2 0h1M1031 543h1m1 0h28m1 0h3m1 0h1M1030 544h1m1 0h30m3 0h1M1031 545h33m2 0h1m1 0h1M1033 546h28m1 0h4M1031 547h34M1032 548h31M1031 549h30m1 0h1m1 0h1m1 0h1M1030 550h32m1 0h2m1 0h1m1 0h1M1032 551h32m1 0h3m1 0h1M1030 552h1m2 0h33m2 0h1M1029 553h34m6 0h1M1030 554h2m1 0h29m1 0h2m4 0h2M1030 555h2m1 0h29m6 0h1M1030 556h2m2 0h28m1 0h1m2 0h1m1 0h1M1030 557h1m1 0h34m1 0h2M1033 558h30m2 0h1M1029 559h4m1 0h27m1 0h1m1 0h3M1029 560h1m1 0h30m2 0h1m2 0h1M1030 561h1m2 0h28m1 0h3M1030 562h33m1 0h1m1 0h1M1029 563h1m3 0h29m1 0h2m3 0h1M1031 564h1m1 0h29m1 0h1m2 0h1m1 0h1M1031 565h1m1 0h31m2 0h1m1 0h1M1032 566h30m1 0h3m2 0h1M1032 567h29m2 0h1M1031 568h31m1 0h1m1 0h1m1 0h2M1030 569h2m3 0h27m6 0h3M1029 570h1m2 0h2m1 0h26m2 0h1m1 0h1M1030 571h2m1 0h1m1 0h26m6 0h1M1029 572h1m1 0h30m2 0h3M1030 573h2m1 0h28m1 0h1m3 0h1M1030 574h3m1 0h27m1 0h3M1030 575h2m1 0h29m1 0h1M1031 576h2m3 0h25m4 0h1M1029 577h1m1 0h2m2 0h32m1 0h1M1032 578h1m1 0h28m3 0h1m1 0h1M1030 579h1m1 0h29m2 0h1m3 0h1M1030 580h1m1 0h29m1 0h2M1030 581h1m1 0h29m3 0h1m1 0h1M1032 582h28m2 0h1m1 0h2M1033 583h26m1 0h1m1 0h1m1 0h1m5 0h1M1031 584h30m9 0h1M1032 585h29m6 0h1M1030 586h1m1 0h1m1 0h26m6 0h1M1030 587h2m1 0h30M1034 588h26m1 0h2m2 0h1m1 0h2M1030 589h1m1 0h28m1 0h1m5 0h1M1031 590h2m1 0h25m1 0h2m4 0h1M1030 591h4m3 0h22m4 0h2M1029 592h2m1 0h1m1 0h1m2 0h22m4 0h1M1031 593h2m1 0h23m1 0h4m5 0h1M1030 594h1m3 0h2m1 0h21m2 0h2m3 0h1M1029 595h1m2 0h1m1 0h4m1 0h16m2 0h2m1 0h1m2 0h2M1031 596h1m1 0h1m2 0h3m1 0h16m4 0h8M1032 597h1m2 0h1m3 0h1m1 0h1m1 0h3m1 0h1m1 0h13m1 0h1M1030 598h1m1 0h7m1 0h1m2 0h3m1 0h10m1 0h4M1032 599h1m1 0h1m1 0h5m2 0h2m1 0h12m3 0h2M1030 600h5m1 0h7m4 0h9m1 0h6M1029 601h2m1 0h1m1 0h1m1 0h8m1 0h1m1 0h7m3 0h2m2 0h1m1 0h1m1 0h1M1030 602h3m1 0h1m2 0h12m1 0h3m2 0h4m1 0h1m2 0h2M1029 603h2m2 0h1m1 0h10m2 0h3m3 0h3m2 0h2m5 0h1M1029 604h1m2 0h4m1 0h7m1 0h1m2 0h2m2 0h1m1 0h3m1 0h1m1 0h1m2 0h1m2 0h1M1031 605h2m1 0h3m1 0h6m1 0h2m3 0h2m2 0h2m3 0h1m5 0h1M1030 606h2m2 0h2m3 0h6m2 0h1m3 0h2m1 0h3m2 0h1m1 0h1m4 0h1M1029 607h2m2 0h1m3 0h2m3 0h3m1 0h2m2 0h3m1 0h1m3 0h3m1 0h1M1033 608h1m2 0h5m1 0h2m2 0h1m1 0h3m2 0h2m1 0h1m1 0h2m3 0h2M1033 609h7m3 0h5m1 0h1m1 0h4m2 0h3m1 0h2M1030 610h2m1 0h10m1 0h1m3 0h2m1 0h5m1 0h2m1 0h2m1 0h2M1031 611h1m2 0h9m2 0h2m2 0h7m2 0h1m2 0h2M1032 612h4m2 0h4m1 0h1m1 0h1m1 0h1m1 0h9m1 0h3M1033 613h1m1 0h10m1 0h2m1 0h7m1 0h1m1 0h3m1 0h3M1033 614h2m1 0h1m3 0h2m1 0h4m1 0h2m1 0h7m1 0h1m2 0h1M1031 615h2m3 0h1m2 0h1m1 0h5m1 0h3m2 0h3m1 0h2m1 0h1m4 0h1M1033 616h1m2 0h5m1 0h1m1 0h1m1 0h1m1 0h2m1 0h1m1 0h3m4 0h2m1 0h2M1029 617h1m1 0h1m4 0h2m1 0h3m2 0h1m1 0h6m1 0h1m1 0h2m1 0h1m2 0h1m6 0h2M1030 618h1m2 0h2m2 0h1m2 0h2m1 0h2m2 0h3m2 0h1m1 0h1m1 0h4m8 0h1M1031 619h1m1 0h2m1 0h1m3 0h1m1 0h4m2 0h1m2 0h5m1 0h1m4 0h1m3 0h3M1029 620h3m1 0h1m2 0h4m1 0h4m1 0h1m1 0h1m3 0h4m1 0h2m1 0h1m1 0h3M1033 621h2m2 0h2m1 0h7m2 0h1m1 0h5m3 0h1m4 0h1M1029 622h1m1 0h2m1 0h2m1 0h2m1 0h1m1 0h2m2 0h1m1 0h2m1 0h1m3 0h2m1 0h2m2 0h1m2 0h2M1031 623h1m3 0h4m1 0h1m3 0h5m1 0h6m3 0h2m1 0h1M1029 624h1m3 0h1m1 0h1m1 0h4m2 0h2m1 0h1m2 0h2m6 0h1m1 0h2m4 0h1M1031 625h3m2 0h3m3 0h2m2 0h3m2 0h2m2 0h1m1 0h2m4 0h2m2 0h1M1031 626h1m1 0h1m1 0h1m1 0h2m1 0h3m1 0h3m2 0h1m2 0h1m1 0h1m2 0h2m1 0h2m1 0h2M1030 627h1m3 0h2m2 0h2m1 0h1m1 0h8m1 0h5m1 0h1m1 0h1m2 0h2M1029 628h1m1 0h1m1 0h2m1 0h1m1 0h4m1 0h2m2 0h2m1 0h1m1 0h2m1 0h1m2 0h1m2 0h1m1 0h1M1035 629h1m3 0h1m1 0h1m1 0h1m1 0h4m1 0h2m2 0h6m2 0h1M1034 630h2m1 0h1m5 0h1m1 0h3m2 0h5m5 0h3M1031 631h2m1 0h2m6 0h2m1 0h2m1 0h1m1 0h1m1 0h1m3 0h1m1 0h2m1 0h1M1033 632h2m1 0h1m4 0h3m1 0h2m7 0h3m3 0h1m1 0h1M1029 633h1m1 0h1m1 0h2m1 0h1m1 0h5m2 0h3m2 0h5m1 0h4M1031 634h4m5 0h3m2 0h1m1 0h4m1 0h1m1 0h2m1 0h1m1 0h2m1 0h1M1031 635h5m5 0h2m2 0h1m1 0h4m6 0h3M1029 636h2m4 0h2m1 0h1m4 0h1m2 0h5m2 0h1m1 0h1M1029 637h3m3 0h2m3 0h2m2 0h1m2 0h3m1 0h1m2 0h1m3 0h1m2 0h1M1031 638h1m1 0h2m1 0h3m6 0h1m2 0h2m3 0h1m1 0h1m4 0h1M1030 639h2m1 0h3m3 0h1m1 0h1m1 0h1m1 0h8m3 0h5M1032 640h2m1 0h1m1 0h7m1 0h1m1 0h1m3 0h3m1 0h2m2 0h1m1 0h1M1030 641h1m1 0h1m1 0h5m1 0h5m2 0h2m1 0h1m5 0h1M1029 642h1m1 0h2m1 0h1m1 0h1m5 0h2m1 0h5m1 0h2m4 0h3M1030 643h1m3 0h1m1 0h3m3 0h1m2 0h1m5 0h4m1 0h1m2 0h1M1034 644h2m3 0h2m1 0h1m2 0h2m5 0h1m1 0h1m4 0h2m1 0h1M1029 645h2m2 0h1m3 0h5m1 0h3m2 0h1m2 0h1m1 0h1m1 0h1m2 0h3M1029 646h2m1 0h1m2 0h1m1 0h1m1 0h2m1 0h1m4 0h1m1 0h1m2 0h1m3 0h3M1032 647h1m2 0h2m1 0h1m2 0h4m2 0h4m1 0h1m1 0h2m1 0h3M1030 648h1m1 0h2m1 0h2m5 0h1m1 0h5m5 0h1m6 0h1M1035 649h2m9 0h2m1 0h2m5 0h2m2 0h1M1030 650h1m4 0h1m2 0h1m5 0h2m1 0h1m3 0h2"/><path stroke="#3178cc" d="M1041 417h1M1038 418h4M1038 419h4M1038 420h5M1037 421h7m9 0h2M1036 422h8m8 0h4M1037 423h8m6 0h6M1038 424h10m3 0h6M1038 425h19M1038 426h20M1038 427h21M1034 428h2m1 0h22M1033 429h26M1033 430h25M1033 431h25M1033 432h25M1033 433h25M1033 434h25M1033 435h25M1033 436h25M1033 437h25M1032 438h25M1032 439h24M1031 440h25M1031 441h27M1031 442h27M1032 443h26M1031 444h27M1031 445h29M1031 446h29M1031 447h29M1031 448h28M1032 449h26M1031 450h27M1032 451h26M1032 452h27M1032 453h27M1032 454h26M1032 455h25M1031 456h26M1031 457h25M1031 458h26M1031 459h27M1031 460h27M1032 461h26M1032 462h25M1033 463h22M1033 464h22M1033 465h22M1033 466h22M1033 467h22M1033 468h23M1033 469h23M1033 470h22M1033 471h21M1034 472h20M1035 473h18M1035 474h15M1035 475h14M1034 476h14M1034 477h13m10 0h1M1034 478h11m7 0h2m3 0h2M1034 479h9m9 0h1M1034 480h4m3 0h2M1033 481h4M1032 482h5M1032 483h4m6 0h3m5 0h3M1040 484h5m5 0h4m1 0h3M1040 485h5m5 0h8M1036 486h1m4 0h4m6 0h2M1035 487h3m4 0h3M1035 488h2m6 0h1M1041 493h3M1041 494h3m6 0h2M1042 495h2m5 0h4M1049 496h4M1039 497h3m8 0h3M1039 498h2M1039 499h2m3 0h2M1038 500h2m4 0h2M1038 501h2m4 0h3M1038 502h2M1037 503h3M1037 504h3M1037 505h3M1037 506h3m10 0h2M1038 507h2m9 0h5M1049 508h9M1050 509h8M1050 510h2M1050 511h1M1039 517h2M1039 518h2m3 0h2M1044 519h2M1043 520h3M1039 521h7m8 0h3M1042 522h4m5 0h1m1 0h4M1043 523h2m7 0h5M1046 524h3m3 0h5M1042 525h1m2 0h5m2 0h5M1041 526h3m1 0h5m2 0h5M1041 527h10m1 0h5M1034 528h3m3 0h17M1034 529h3m3 0h17M1034 530h3m3 0h17M1040 531h17M1041 532h16M1042 533h16M1043 534h16M1037 535h1m5 0h17M1032 536h5m5 0h18M1032 537h5m4 0h19M1033 538h4m3 0h20M1033 539h26M1034 540h24M1033 541h25M1033 542h27M1033 543h27M1033 544h28M1033 545h28M1033 546h28M1033 547h28M1033 548h28M1033 549h28M1034 550h28M1033 551h29M1033 552h29M1033 553h29M1033 554h29M1033 555h29M1034 556h28M1034 557h28M1034 558h28M1034 559h27M1034 560h27M1033 561h28M1032 562h30M1033 563h29M1033 564h29M1033 565h29M1033 566h29M1033 567h28M1033 568h28M1035 569h27M1035 570h26M1035 571h26M1034 572h26M1034 573h27M1034 574h27M1035 575h26M1036 576h24M1036 577h24M1034 578h26M1033 579h28M1032 580h29M1032 581h28M1032 582h28M1033 583h26M1033 584h26M1033 585h26M1034 586h25M1035 587h24M1036 588h23M1037 589h22M1037 590h22M1037 591h22M1037 592h21M1037 593h20M1037 594h18M1039 595h16M1041 596h15M1043 597h3m3 0h7M1036 598h3m9 0h9M1036 599h4m8 0h9M1036 600h5m7 0h7m2 0h1M1037 601h7m4 0h6M1037 602h7m6 0h3M1037 603h7M1037 604h7M1038 605h6M1041 606h4M1042 607h2M1036 608h3m14 0h2M1035 609h5m13 0h2M1035 610h5m12 0h3M1037 611h4m4 0h2m2 0h7M1038 612h3m4 0h1m4 0h6M1039 613h2m10 0h5M1040 614h2m10 0h4M1049 615h1m3 0h1M1038 620h1m2 0h3M1037 621h2m2 0h3M1038 626h1m5 0h2M1038 627h1m4 0h2M1044 628h1M1045 629h1M1045 630h2M1045 631h2M1034 633h1m6 0h2M1034 634h1m6 0h2m5 0h3M1041 635h2m5 0h3M1048 636h3M1042 642h2"/><path stroke="#3c9fdc" d="M1053 423h2M1053 424h2M1045 425h3M1044 426h4M1043 427h6M1043 428h6M1043 429h6M1042 430h8M1035 431h2m4 0h10M1034 432h4m1 0h13M1034 433h19M1035 434h18M1035 435h18M1034 436h19M1034 437h19M1033 438h21M1033 439h21M1032 440h23M1033 441h22M1034 442h21M1034 443h21M1033 444h22M1032 445h23M1032 446h24M1033 447h24M1033 448h24M1033 449h23M1033 450h22M1033 451h22M1033 452h22M1033 453h23M1033 454h23M1033 455h22M1032 456h22M1032 457h21M1031 458h22M1031 459h22M1032 460h21M1033 461h21M1034 462h20M1034 463h20M1033 464h21M1033 465h21M1034 466h20M1034 467h16M1034 468h15M1034 469h16M1034 470h16M1035 471h15M1036 472h7m2 0h4M1036 473h6m4 0h2M1037 474h5m5 0h1M1038 475h5M1040 476h4M1041 477h2M1042 529h4M1042 530h4m4 0h3M1042 531h4m4 0h4M1043 532h4m2 0h5M1044 533h11M1045 534h11M1045 535h12M1045 536h13M1044 537h15M1043 538h15M1043 539h14M1044 540h12M1036 541h2m6 0h12M1035 542h6m2 0h14M1035 543h23M1035 544h24M1036 545h24M1039 546h21M1039 547h21M1039 548h21M1039 549h21M1039 550h21M1035 551h1m2 0h23M1035 552h26M1035 553h26M1035 554h26M1035 555h26M1035 556h26M1035 557h26M1035 558h26M1035 559h25M1035 560h25M1035 561h25M1035 562h26M1034 563h27M1034 564h27M1034 565h27M1034 566h27M1034 567h26M1036 568h24M1037 569h23M1037 570h23M1037 571h22M1037 572h22M1036 573h23M1036 574h23M1037 575h22M1038 576h21M1039 577h19M1039 578h19M1038 579h19M1038 580h17M1037 581h18M1037 582h18M1037 583h19M1038 584h19M1039 585h19M1039 586h16M1040 587h13M1041 588h12M1041 589h11M1039 590h13m4 0h1M1038 591h15M1038 592h15M1038 593h9m1 0h5M1039 594h8m2 0h4M1042 595h4m3 0h4M1050 596h4M1050 597h4M1051 598h3M1051 599h2M1051 600h2M1039 602h3M1039 603h3M1040 604h1"/><path stroke="#48b7cf" d="M1045 427h2M1045 428h2M1046 429h1M1044 430h4M1042 431h6M1041 432h9M1040 433h11M1039 434h12M1037 435h14M1037 436h14M1037 437h14M1038 438h15M1038 439h16M1037 440h17M1036 441h18M1036 442h18M1035 443h19M1035 444h19M1035 445h19M1035 446h19M1035 447h20M1034 448h21M1034 449h21M1034 450h20M1034 451h20M1034 452h20M1034 453h20M1034 454h20M1034 455h19M1033 456h20M1033 457h19M1032 458h20M1032 459h20M1033 460h19M1034 461h19M1035 462h18M1035 463h18M1034 464h19M1034 465h19M1034 466h15M1035 467h13M1036 468h2m2 0h7M1041 469h6M1043 470h3M1051 533h1M1050 534h2M1046 535h8M1046 536h8M1046 537h9M1045 538h10M1045 539h10M1045 540h9M1045 541h9M1044 542h11M1043 543h14M1042 544h15M1041 545h17M1041 546h17M1040 547h19M1040 548h18M1040 549h18M1040 550h19M1039 551h21M1039 552h21M1039 553h21M1039 554h21M1037 555h1m1 0h21M1037 556h1m1 0h21M1039 557h21M1038 558h22M1037 559h22M1036 560h23M1036 561h23M1036 562h24M1036 563h24M1037 564h23M1037 565h23M1037 566h23M1037 567h22M1038 568h21M1038 569h21M1039 570h19M1039 571h19M1039 572h19M1039 573h19M1039 574h19M1039 575h19M1039 576h19M1040 577h17M1043 578h13M1043 579h10M1042 580h10M1039 581h15M1039 582h15M1039 583h16M1040 584h6m2 0h7M1041 585h4m4 0h5M1041 586h4m5 0h3M1041 587h3M1042 588h2m3 0h3M1043 589h1m2 0h4M1042 590h8M1041 591h4M1039 592h6m5 0h1M1040 593h5"/><path stroke="#58bd7a" d="M1045 431h1M1043 432h4M1042 433h8M1041 434h9M1040 435h10M1039 436h10M1039 437h11M1039 438h12M1039 439h14M1038 440h15M1038 441h15M1037 442h16M1036 443h17M1036 444h17M1036 445h17M1037 446h16M1037 447h16M1035 448h18M1035 449h18M1035 450h18M1035 451h18M1035 452h18M1035 453h18M1035 454h17M1035 455h17M1035 456h17M1035 457h17M1036 458h15M1033 459h1m3 0h14M1037 460h14M1037 461h12m1 0h1M1036 462h13m1 0h2M1036 463h16M1035 464h14M1035 465h13M1035 466h12M1041 467h5M1042 468h4M1044 469h1M1047 537h1M1048 541h3M1046 542h7M1044 543h11M1043 544h12M1042 545h14M1042 546h14M1042 547h14M1041 548h14M1041 549h15M1040 550h16M1040 551h17M1040 552h19M1040 553h19M1040 554h19M1040 555h19M1040 556h19M1040 557h19M1040 558h18M1039 559h18M1038 560h20M1037 561h22M1037 562h22M1038 563h21M1042 564h15M1042 565h14M1039 566h16M1039 567h16M1039 568h17M1040 569h16M1040 570h17M1040 571h17M1040 572h16M1041 573h14M1041 574h13M1041 575h3m2 0h9M1041 576h1m5 0h9M1049 577h7M1045 580h2M1045 581h2M1045 582h2m3 0h3M1043 583h1m5 0h5M1042 584h2m6 0h4M1042 585h2m7 0h2"/><path stroke="#6cc344" d="M1041 437h6M1040 438h9M1040 439h11M1039 440h13M1039 441h14M1038 442h14M1038 443h14M1038 444h14M1038 445h13M1038 446h13M1038 447h13M1038 448h13M1036 449h16M1036 450h16M1037 451h15M1037 452h15M1036 453h15M1036 454h15M1036 455h15M1036 456h15M1037 457h14M1038 458h13M1038 459h10M1039 460h8M1039 461h8M1038 462h7M1038 463h6M1037 464h7M1041 465h3M1049 543h4M1046 544h8M1045 545h9M1044 546h10M1044 547h10M1044 548h10M1045 549h9M1046 550h9M1041 551h2m3 0h9M1041 552h2m3 0h9M1041 553h15M1041 554h16M1041 555h16M1041 556h16M1041 557h15M1041 558h11M1040 559h14M1039 560h16M1038 561h18M1043 562h13M1044 563h12M1044 564h11M1044 565h11M1043 566h11M1042 567h12M1042 568h12M1042 569h13M1041 570h14M1041 571h14M1041 572h13M1042 573h11M1047 574h6M1049 575h4M1051 576h2M1051 583h2M1051 584h2"/><path stroke="#a5cf28" d="M1041 439h3M1040 440h9M1040 441h11M1040 442h11M1039 443h11M1039 444h11M1039 445h11M1039 446h10M1039 447h10M1039 448h11M1038 449h12M1038 450h13M1039 451h12M1039 452h11M1038 453h12M1037 454h13M1037 455h13M1037 456h13M1038 457h12M1039 458h8M1040 459h6M1041 460h4M1041 461h3M1041 462h2M1051 544h2M1050 545h3M1049 546h4M1049 547h4M1049 548h3M1048 551h2m1 0h3M1047 552h7M1047 553h7M1043 554h2m1 0h8M1043 555h10M1042 556h3m1 0h5M1042 557h3m1 0h4M1042 558h8M1042 559h8M1042 560h10M1044 561h1m3 0h5M1049 562h5M1049 563h5M1046 564h2m2 0h4M1045 565h9M1045 566h8M1044 567h6M1043 568h6M1043 569h10M1043 570h11M1042 571h12M1043 572h10M1049 573h3M1050 574h2"/><path stroke="#d8d81f" d="M1042 441h1M1041 442h3M1042 443h3M1041 447h3m1 0h1M1040 448h7M1040 449h8M1039 450h9M1040 451h9M1041 452h8M1043 453h6M1044 454h4M1039 455h9M1039 456h8M1040 457h6M1041 458h4M1051 546h1M1048 553h2M1047 554h3M1048 555h2M1048 556h1M1046 567h1M1045 568h2M1045 569h1M1049 571h2M1050 572h1"/><path stroke="#f6c01c" d="M1041 448h2M1040 449h4M1040 450h4M1041 451h3"/><path stroke="#fff" d="M1039 418h1M1038 419h2M1042 420h1M1040 421h1m12 0h1M1039 422h1m2 0h1M1039 423h1m3 0h1m11 0h2M1038 424h2m3 0h4m9 0h1M1039 425h1m2 0h1m4 0h1m4 0h1m1 0h1M1038 426h1m2 0h1m1 0h1m3 0h1m1 0h1m2 0h5M1038 427h1m1 0h1M1035 428h1m4 0h2m1 0h2m5 0h1M1033 429h2m1 0h1m2 0h2m2 0h1m5 0h1m4 0h2m1 0h1M1034 430h4m4 0h3m4 0h1m1 0h1m3 0h1M1033 431h2m5 0h1m7 0h3m6 0h1M1034 432h1m2 0h2m1 0h1m2 0h1m9 0h1m1 0h1m1 0h1M1034 433h1m5 0h1m11 0h2m1 0h1M1033 434h2m1 0h2m1 0h1m8 0h1m5 0h1M1034 435h3m2 0h1m8 0h1m2 0h1m1 0h2m2 0h1M1034 436h1m14 0h1m1 0h1M1035 437h1m1 0h1m2 0h1m3 0h1m4 0h1m4 0h1M1032 438h1m2 0h1m1 0h3m10 0h1M1032 439h1m14 0h1m3 0h1M1031 440h1m3 0h1m18 0h2M1041 441h1m1 0h1m8 0h1M1036 442h1m14 0h1m3 0h2M1034 443h1m18 0h1m3 0h1M1032 444h1m11 0h1m1 0h1m4 0h1m2 0h1M1031 445h1m2 0h1m6 0h1m11 0h1m2 0h1M1031 446h4m5 0h1m3 0h1m2 0h1m9 0h2M1031 447h1m3 0h1m2 0h1m4 0h1m15 0h1M1032 448h2m13 0h2m8 0h1M1032 449h1m1 0h1m14 0h1m7 0h1M1033 450h1m3 0h1m11 0h3m2 0h1m2 0h1M1032 451h1m1 0h1m8 0h1m3 0h3m4 0h1M1032 452h1m3 0h1m7 0h1m1 0h1m3 0h2m4 0h1M1034 453h1m16 0h3M1033 454h2m2 0h2m13 0h1m1 0h1m1 0h2M1032 455h2m15 0h1m4 0h1M1047 456h1m7 0h2M1031 457h1m1 0h1m15 0h1m1 0h1m1 0h1m1 0h1M1034 458h1m7 0h1m9 0h2M1033 459h1m2 0h1m2 0h1m8 0h1m3 0h2m2 0h1M1040 460h2m7 0h1m2 0h1M1040 461h1m5 0h4m2 0h2m3 0h1M1033 462h1m3 0h1m6 0h1m3 0h2m3 0h2M1033 463h1m2 0h1m2 0h1m6 0h1m1 0h1m3 0h1M1033 464h1m13 0h1m3 0h2M1033 465h1m6 0h1m1 0h1m4 0h1m1 0h2m3 0h1M1038 466h1m1 0h1m6 0h1m2 0h1m2 0h1M1034 467h1m2 0h1m4 0h1m3 0h1m3 0h1m3 0h1M1033 468h1m3 0h1m8 0h1m2 0h1m1 0h4M1043 469h1m9 0h1m1 0h1M1033 470h1m3 0h3m1 0h5m3 0h3m2 0h1M1035 471h2m5 0h1m3 0h1m4 0h1m1 0h1M1038 472h1m5 0h1m3 0h1m1 0h2M1035 473h1m1 0h1m3 0h1m1 0h1m2 0h1m2 0h1M1039 474h2m3 0h3m2 0h1M1036 475h1m1 0h2m2 0h1m4 0h2M1035 476h1m2 0h1m2 0h1m1 0h1M1035 477h1m2 0h1m4 0h1m1 0h1M1034 478h1m7 0h2M1035 479h1m3 0h4M1037 480h1M1033 481h1m1 0h1M1032 482h1m2 0h2M1035 483h1m7 0h1m8 0h1M1044 484h1m8 0h1m3 0h1M1042 485h1m1 0h1m5 0h1m3 0h1m2 0h1M1052 486h1M1035 487h1m8 0h1M1036 488h1M1042 495h1m7 0h1M1049 496h1M1052 497h1M1039 500h1M1038 503h1M1037 505h1m1 0h1M1037 506h1M1049 507h1M1057 508h1M1050 509h3m1 0h1m2 0h1M1050 511h1M1044 518h1M1044 519h1M1042 521h1m13 0h1M1042 522h1m10 0h2M1043 523h2m8 0h1M1046 524h1m6 0h1M1045 525h5M1043 526h1m1 0h1m8 0h2M1043 527h3m1 0h1m1 0h1m6 0h1M1045 528h2m3 0h1m3 0h1m1 0h1M1034 529h2m5 0h1m2 0h1m1 0h2m5 0h1m2 0h1M1034 530h1m7 0h2m2 0h1m4 0h1m3 0h1M1042 531h1m3 0h1m1 0h2m1 0h1m2 0h1m1 0h1M1041 532h1m7 0h1M1042 533h1m1 0h1m1 0h1m4 0h1m1 0h2m1 0h1M1046 534h1m3 0h1m3 0h2m2 0h1M1043 535h1m1 0h2m2 0h2m2 0h6M1032 536h1m2 0h1m6 0h1m1 0h1m4 0h1m1 0h1m2 0h2m1 0h1m1 0h1M1034 537h1m14 0h2m5 0h2m1 0h1M1040 538h1m16 0h1M1037 539h1m17 0h1m2 0h1M1035 540h1m4 0h1m1 0h1m1 0h1M1033 541h1m2 0h1m9 0h1m5 0h1m2 0h1m1 0h1M1042 542h1m2 0h1m6 0h1m3 0h1m1 0h2M1036 543h1m5 0h1m5 0h1m5 0h1m3 0h1M1034 544h1m6 0h1m4 0h1m3 0h2m4 0h1M1038 545h2m2 0h2m16 0h1M1037 546h2m2 0h1m3 0h1m10 0h2M1034 547h3m10 0h2m3 0h1m2 0h2m3 0h1M1034 548h2m2 0h1m1 0h1m2 0h1m11 0h1m2 0h1m1 0h1M1034 549h4m1 0h1m5 0h1m7 0h1m5 0h2M1034 550h1m2 0h2m3 0h1m2 0h1m4 0h1m3 0h2M1055 551h1m5 0h1M1035 552h1m1 0h2m4 0h1m1 0h1m4 0h1m7 0h1M1036 553h1m8 0h1m6 0h1m2 0h1M1035 554h1m1 0h1m6 0h1m2 0h1m4 0h1m3 0h1M1034 555h1m2 0h1m4 0h1m1 0h1m13 0h1m1 0h1M1050 556h1m8 0h2M1034 557h1m1 0h1m4 0h1m5 0h1M1035 558h1m16 0h1m8 0h1M1038 559h1m15 0h1M1039 560h3m3 0h1m1 0h1m11 0h2M1034 561h1m4 0h1m2 0h1m2 0h1m2 0h1m2 0h1m8 0h1M1034 562h1m3 0h1m18 0h2m2 0h1M1033 563h1m3 0h1m1 0h2m1 0h1m1 0h1m1 0h1m14 0h1M1037 564h1m1 0h1m2 0h2m7 0h1m5 0h2m2 0h1M1034 565h2m7 0h1m11 0h2M1036 566h1m11 0h1M1038 567h2m9 0h1m4 0h1m4 0h1M1033 568h2m24 0h1M1035 569h3m8 0h1m5 0h1m2 0h1m1 0h1m3 0h1M1035 570h3m13 0h1m2 0h1m1 0h1m1 0h2M1037 571h1m19 0h2M1039 572h2m5 0h1m2 0h1m4 0h1m4 0h1M1034 573h3m2 0h1m4 0h1m1 0h1m6 0h1m5 0h1M1035 574h1m1 0h2m4 0h1m6 0h2m4 0h1m1 0h1M1045 575h1m3 0h2m2 0h1m6 0h1M1042 576h1m1 0h2m1 0h1m2 0h1m3 0h1m2 0h1M1036 577h2m2 0h1m14 0h1m1 0h1M1037 578h1m2 0h4m8 0h1m1 0h1m3 0h1M1034 579h1m2 0h2m1 0h1m5 0h1m1 0h1m4 0h6M1032 580h2m5 0h1m1 0h1m7 0h1m1 0h3m3 0h1M1041 581h2m3 0h3m5 0h3M1040 582h1m10 0h1m4 0h1m2 0h1M1036 583h3m17 0h1M1035 584h3m3 0h2m9 0h1m1 0h1M1033 585h3m4 0h2m3 0h3m5 0h1M1034 586h1m2 0h1m10 0h2m1 0h1m3 0h2M1036 587h1m2 0h1m6 0h1m1 0h1m2 0h2M1038 588h2m2 0h4m7 0h1m1 0h1M1039 589h2m1 0h1m3 0h1m2 0h1m2 0h1m2 0h1m1 0h2M1038 590h1m1 0h3m1 0h1m2 0h2m1 0h1M1037 591h1m2 0h3m1 0h1m4 0h1m2 0h1m1 0h3M1046 592h1m7 0h1M1038 593h2m2 0h1m6 0h1m3 0h1M1037 594h1m2 0h1m2 0h1m3 0h1m2 0h1m1 0h1M1039 595h1m5 0h2m6 0h1M1044 596h1m10 0h1M1049 597h1m2 0h1M1038 598h1m9 0h1m1 0h1m1 0h1m2 0h1M1036 599h1m1 0h1m9 0h1m2 0h2m1 0h1M1039 600h2m8 0h1M1041 601h1m9 0h1M1039 602h1m3 0h1m7 0h1M1039 603h1m1 0h2M1038 604h1m1 0h1m2 0h1M1038 605h2m1 0h1m1 0h1M1053 608h1M1036 609h1M1039 610h1m12 0h1m1 0h1M1037 611h2m11 0h1m1 0h2M1039 612h1m11 0h1m2 0h1M1054 613h1M1041 614h1m10 0h1m1 0h1M1042 620h2M1037 621h1m4 0h1M1038 626h1M1044 628h1M1045 629h1M1045 630h1M1045 631h1M1042 633h1M1042 634h1M1041 635h1m6 0h2M1050 636h1M1042 642h1"/></g>
<path d="M874.5 383.44H1142.85" stroke="#858585" stroke-width="0.9" fill="none"/>
<path d="M1142.45 383.44V651.44" stroke="#858585" stroke-width="0.95" fill="none"/>
<path d="M874.5 383.44V651.84M874.1 651.44H1142.85" stroke="#3a3a3a" stroke-width="0.85" fill="none"/>
<path d="M867.1 650.34H874.8M875.7 651.24V658.64M867.1 597.24H874.8M927.95 651.24V658.64M867.1 543.79H874.8M981.4 651.24V658.64M867.1 490.34H874.8M1034.85 651.24V658.64M867.1 436.89H874.8M1088.3 651.24V658.64M867.1 384.74H874.8M1141.15 651.24V658.64" stroke="#000" stroke-width="1.6" fill="none"/>
<path d="M869.2 613.33H874.5M911.86 651.44V656.74M869.2 559.88H874.5M965.31 651.44V656.74M869.2 506.43H874.5M1018.76 651.44V656.74M869.2 452.98H874.5M1072.21 651.44V656.74M869.2 399.53H874.5M1125.66 651.44V656.74" stroke="#000" stroke-width="1.3" fill="none"/>
<path d="M870.8 634.6H874.5M890.59 651.44V655.14M870.8 625.19H874.5M900 651.44V655.14M870.8 618.51H874.5M906.68 651.44V655.14M870.8 609.1H874.5M916.09 651.44V655.14M870.8 605.52H874.5M919.67 651.44V655.14M870.8 602.42H874.5M922.77 651.44V655.14M870.8 599.69H874.5M925.5 651.44V655.14M870.8 581.15H874.5M944.04 651.44V655.14M870.8 571.74H874.5M953.45 651.44V655.14M870.8 565.06H874.5M960.13 651.44V655.14M870.8 555.65H874.5M969.54 651.44V655.14M870.8 552.07H874.5M973.12 651.44V655.14M870.8 548.97H874.5M976.22 651.44V655.14M870.8 546.24H874.5M978.95 651.44V655.14M870.8 527.7H874.5M997.49 651.44V655.14M870.8 518.29H874.5M1006.9 651.44V655.14M870.8 511.61H874.5M1013.58 651.44V655.14M870.8 502.2H874.5M1022.99 651.44V655.14M870.8 498.62H874.5M1026.57 651.44V655.14M870.8 495.52H874.5M1029.67 651.44V655.14M870.8 492.79H874.5M1032.4 651.44V655.14M870.8 474.25H874.5M1050.94 651.44V655.14M870.8 464.84H874.5M1060.35 651.44V655.14M870.8 458.16H874.5M1067.03 651.44V655.14M870.8 448.75H874.5M1076.44 651.44V655.14M870.8 445.17H874.5M1080.02 651.44V655.14M870.8 442.07H874.5M1083.12 651.44V655.14M870.8 439.34H874.5M1085.85 651.44V655.14M870.8 420.8H874.5M1104.39 651.44V655.14M870.8 411.39H874.5M1113.8 651.44V655.14M870.8 404.71H874.5M1120.48 651.44V655.14M870.8 395.3H874.5M1129.89 651.44V655.14M870.8 391.72H874.5M1133.47 651.44V655.14M870.8 388.62H874.5M1136.57 651.44V655.14M870.8 385.89H874.5M1139.3 651.44V655.14" stroke="#000" stroke-width="1.3" fill="none"/>
<g><text x="851.6" y="649.54" text-anchor="end">10</text><text x="852.4" y="635.04">0</text><text x="879.5" y="697.74">10</text><text x="900.8" y="683.14">0</text><text x="851.6" y="609.34" text-anchor="end">10</text><text x="852.4" y="594.74">1</text><text x="918.35" y="697.74">10</text><text x="939.65" y="683.14">1</text><text x="851.6" y="555.89" text-anchor="end">10</text><text x="852.4" y="541.29">2</text><text x="971.8" y="697.74">10</text><text x="993.1" y="683.14">2</text><text x="851.6" y="502.44" text-anchor="end">10</text><text x="852.4" y="487.84">3</text><text x="1025.25" y="697.74">10</text><text x="1046.55" y="683.14">3</text><text x="851.6" y="448.99" text-anchor="end">10</text><text x="852.4" y="434.39">4</text><text x="1078.7" y="697.74">10</text><text x="1100" y="683.14">4</text><text x="851.6" y="417.44" text-anchor="end">10</text><text x="852.4" y="403.04">5</text><text x="1111.5" y="697.74">10</text><text x="1132.8" y="683.14">5</text></g>
<text x="1008.12" y="708.84" text-anchor="middle">FSC-A</text>
<text transform="translate(836 516.04) rotate(-90)" text-anchor="middle">Dapi</text>
<path d="M962.8 651.44V481.34H1080.9V651.44" fill="none" stroke="#000" stroke-width="1.5"/>
<path d="M1029.5 650.94H1066.5" stroke="#e59aa0" stroke-width="1.3" fill="none"/>
<text x="903.5" y="445.44">68,3</text>
</g>
<g id="p13">
<g class="d" transform="translate(0 0.5)"><path stroke="#7f90bb" d="M1337 448h1M1315 449h1M1308 450h1m1 0h1M1253 451h1m52 0h1m18 0h1m11 0h1m7 0h1m6 0h1m26 0h1M1287 452h1m21 0h1m18 0h1m46 0h1M1258 453h1m6 0h1m46 0h1m12 0h1m50 0h2m18 0h1M1239 454h1m10 0h1m24 0h1m19 0h1m9 0h1m6 0h2m5 0h1m1 0h1m13 0h1m7 0h1m3 0h1m1 0h1m2 0h1m20 0h1m10 0h1M1274 455h1m62 0h1M1246 456h1m2 0h1m3 0h1m9 0h1m20 0h1m69 0h1m32 0h1M1240 457h1m1 0h1m137 0h1M1401 458h1M1240 459h1m163 0h1M1400 460h1m9 0h1M1404 465h1m3 0h1m1 0h1m1 0h1m3 0h1M1404 467h1M1239 468h1m174 0h1M1237 469h1M1413 470h1m1 0h1m1 0h1M1409 471h1m21 0h1M1410 472h1m5 0h1M1419 474h1M1237 475h1m176 0h1M1416 478h1m2 0h1M1412 479h1m7 0h1M1421 480h2M1421 481h1M1410 482h1m4 0h1m7 0h1M1440 483h1M1403 484h2m6 0h1m1 0h1M1237 485h1m181 0h1M1412 486h1M1406 487h1M1415 488h1M1404 489h1M1238 490h1m172 0h1M1407 491h1m4 0h1m5 0h1M1239 492h1m193 0h1M1404 493h1m4 0h1M1238 494h1m172 0h1M1244 495h1m165 0h1M1258 496h1m28 0h1m71 0h1m34 0h1"/><path stroke="#2755ab" d="M1329 454h1m2 0h1M1255 455h1m9 0h1m23 0h2m23 0h1m2 0h1m10 0h1m1 0h2m11 0h1m24 0h1m3 0h1M1257 456h1m8 0h1m2 0h1m10 0h1m6 0h2m7 0h1m2 0h2m2 0h1m12 0h1m5 0h5m4 0h2m1 0h1m6 0h1m3 0h1m2 0h1m8 0h1m3 0h2m3 0h1m9 0h1M1246 457h1m1 0h1m2 0h1m4 0h1m1 0h3m1 0h1m2 0h2m2 0h1m3 0h1m6 0h1m1 0h2m4 0h1m3 0h1m2 0h2m11 0h1m3 0h1m1 0h1m5 0h2m2 0h1m1 0h1m4 0h1m2 0h2m4 0h1m3 0h1m2 0h1m3 0h3m2 0h1m1 0h1m2 0h1m4 0h1m6 0h3m1 0h1m4 0h1m6 0h1M1246 458h1m3 0h2m3 0h1m1 0h1m2 0h1m1 0h1m3 0h1m8 0h1m2 0h1m2 0h1m1 0h1m2 0h1m3 0h1m1 0h2m1 0h1m1 0h1m1 0h3m2 0h3m1 0h1m8 0h2m1 0h1m6 0h8m6 0h1m1 0h1m1 0h1m3 0h1m2 0h1m2 0h1m1 0h1m4 0h1m1 0h1m2 0h2m3 0h1m21 0h1M1241 459h1m3 0h1m2 0h1m3 0h1m2 0h1m1 0h2m1 0h3m10 0h4m8 0h2m4 0h1m7 0h2m5 0h2m3 0h2m1 0h1m3 0h1m2 0h1m1 0h2m3 0h2m2 0h2m6 0h1m3 0h2m2 0h1m1 0h1m4 0h1m2 0h1m7 0h1m2 0h1m1 0h1m4 0h2m6 0h3m3 0h1m2 0h1M1241 460h1m3 0h1m2 0h2m1 0h2m4 0h2m1 0h5m1 0h3m4 0h2m2 0h2m6 0h1m2 0h3m3 0h1m1 0h1m1 0h2m3 0h2m1 0h1m1 0h3m5 0h1m2 0h2m2 0h1m2 0h1m1 0h1m1 0h1m1 0h2m3 0h2m1 0h1m1 0h4m1 0h1m3 0h1m4 0h2m1 0h1m2 0h1m1 0h2m1 0h4m5 0h2m1 0h3m1 0h3m3 0h1m1 0h1m1 0h1m2 0h1M1242 461h1m3 0h1m1 0h1m3 0h1m1 0h2m2 0h1m5 0h1m3 0h3m1 0h2m1 0h4m1 0h4m2 0h1m1 0h3m3 0h4m1 0h1m1 0h5m2 0h1m1 0h1m2 0h2m1 0h1m3 0h1m1 0h2m2 0h3m6 0h2m5 0h1m1 0h4m2 0h1m1 0h1m2 0h2m3 0h3m3 0h3m1 0h1m1 0h2m1 0h1m2 0h3m1 0h4m1 0h1m1 0h2m1 0h4M1241 462h4m3 0h1m1 0h1m2 0h2m2 0h6m3 0h1m1 0h1m3 0h1m1 0h3m1 0h1m2 0h1m4 0h2m1 0h1m2 0h1m1 0h1m1 0h2m1 0h1m1 0h1m4 0h1m1 0h1m2 0h1m3 0h1m1 0h1m1 0h1m6 0h1m1 0h4m4 0h1m1 0h2m1 0h1m1 0h1m1 0h1m1 0h1m1 0h2m2 0h2m2 0h1m1 0h1m1 0h1m1 0h1m2 0h2m2 0h1m1 0h2m1 0h3m6 0h1m4 0h3m4 0h1M1245 463h2m1 0h1m2 0h1m1 0h1m3 0h1m2 0h3m1 0h2m2 0h1m2 0h1m2 0h1m4 0h1m1 0h1m2 0h1m1 0h1m1 0h7m1 0h1m1 0h1m2 0h2m5 0h1m2 0h3m1 0h2m1 0h11m1 0h4m1 0h4m1 0h5m1 0h3m2 0h1m3 0h1m2 0h1m2 0h3m2 0h6m2 0h1m1 0h1m3 0h1m1 0h4m5 0h1m4 0h1m1 0h2M1238 464h1m9 0h1m1 0h1m2 0h1m1 0h1m1 0h1m2 0h2m1 0h2m1 0h1m1 0h2m2 0h1m1 0h2m1 0h1m6 0h2m4 0h1m2 0h1m5 0h1m3 0h5m4 0h3m1 0h15m1 0h1m1 0h1m1 0h2m1 0h1m1 0h2m1 0h1m1 0h3m1 0h1m1 0h1m4 0h2m2 0h1m2 0h2m1 0h1m2 0h1m1 0h1m3 0h1m1 0h6m1 0h1m2 0h1m1 0h1m1 0h2M1240 465h2m4 0h1m1 0h9m2 0h2m6 0h5m4 0h1m5 0h2m4 0h2m2 0h2m2 0h2m1 0h7m1 0h2m2 0h32m1 0h7m1 0h1m11 0h1m2 0h1m1 0h1m1 0h2m1 0h2m1 0h1m1 0h3m1 0h3m3 0h1m1 0h1m1 0h1m2 0h1M1248 466h1m1 0h1m1 0h3m1 0h1m1 0h1m1 0h1m1 0h2m2 0h2m1 0h2m2 0h4m2 0h1m1 0h1m1 0h2m6 0h1m3 0h4m1 0h9m1 0h34m2 0h5m1 0h1m1 0h1m2 0h4m3 0h2m1 0h1m2 0h2m1 0h1m2 0h1m1 0h3m8 0h3m1 0h3m1 0h1m2 0h1M1242 467h2m1 0h9m5 0h2m1 0h2m3 0h1m1 0h7m2 0h1m1 0h1m1 0h1m2 0h4m4 0h53m1 0h3m1 0h1m1 0h1m3 0h1m2 0h7m1 0h1m2 0h5m2 0h1m2 0h1m1 0h1m2 0h2m3 0h1m1 0h1m1 0h2m3 0h1M1242 468h1m4 0h2m1 0h1m2 0h1m1 0h4m2 0h1m8 0h3m1 0h2m5 0h1m2 0h2m2 0h1m1 0h61m1 0h5m1 0h1m2 0h1m1 0h2m1 0h1m1 0h2m1 0h1m1 0h2m1 0h2m2 0h1m1 0h1m3 0h1m1 0h1m2 0h3m3 0h1m3 0h1m9 0h1M1242 469h3m3 0h2m2 0h2m2 0h2m1 0h1m1 0h3m3 0h3m1 0h5m2 0h2m2 0h2m1 0h71m1 0h1m3 0h1m1 0h1m1 0h2m2 0h1m1 0h1m1 0h2m1 0h1m1 0h1m4 0h2m1 0h1m2 0h2m3 0h1m5 0h1m10 0h1M1239 470h1m4 0h1m2 0h2m1 0h4m2 0h1m4 0h1m1 0h3m1 0h1m2 0h2m1 0h3m1 0h1m1 0h1m1 0h4m2 0h76m3 0h1m2 0h3m1 0h1m5 0h1m1 0h2m1 0h2m2 0h5m1 0h2m1 0h1m1 0h1m3 0h1m7 0h1M1238 471h2m1 0h1m3 0h1m1 0h1m3 0h3m1 0h1m1 0h2m1 0h1m1 0h2m6 0h2m2 0h1m1 0h1m2 0h1m1 0h5m2 0h64m1 0h8m2 0h3m1 0h3m3 0h1m1 0h3m3 0h1m6 0h5m1 0h2m1 0h1m2 0h1M1240 472h1m1 0h6m1 0h2m1 0h3m1 0h1m1 0h3m3 0h2m1 0h1m1 0h7m1 0h2m1 0h3m3 0h75m1 0h1m1 0h2m2 0h8m2 0h1m3 0h4m2 0h3m3 0h1m1 0h1m10 0h2M1238 473h3m2 0h1m2 0h3m2 0h2m1 0h1m1 0h3m2 0h1m1 0h1m1 0h3m3 0h2m1 0h2m1 0h1m1 0h2m1 0h1m1 0h77m1 0h3m1 0h2m2 0h4m1 0h3m3 0h2m3 0h6m2 0h1m6 0h2m2 0h1M1242 474h2m1 0h1m8 0h1m1 0h2m4 0h1m1 0h1m3 0h3m1 0h2m3 0h2m3 0h75m3 0h3m2 0h2m2 0h2m1 0h5m3 0h1m2 0h1m1 0h2m1 0h3m1 0h3m2 0h2m7 0h1m1 0h1M1243 475h2m3 0h7m1 0h5m3 0h2m1 0h1m2 0h2m2 0h1m1 0h6m1 0h73m1 0h2m3 0h1m1 0h3m3 0h5m1 0h7m1 0h2m1 0h1m2 0h1m1 0h1m3 0h1m1 0h1m1 0h1m1 0h1m7 0h1M1246 476h1m2 0h1m1 0h3m1 0h1m1 0h3m1 0h1m2 0h1m5 0h2m2 0h2m1 0h78m1 0h1m1 0h4m1 0h2m2 0h1m1 0h8m1 0h3m3 0h3m3 0h1m1 0h1m4 0h2m1 0h4m1 0h3m1 0h1M1243 477h2m3 0h1m1 0h2m3 0h2m1 0h1m2 0h2m1 0h2m1 0h3m2 0h1m4 0h5m1 0h72m1 0h6m1 0h2m2 0h1m1 0h2m2 0h1m1 0h1m3 0h3m1 0h6m1 0h6m1 0h2M1243 478h3m2 0h1m3 0h10m3 0h1m2 0h1m3 0h1m2 0h1m1 0h83m1 0h1m1 0h1m1 0h1m5 0h2m1 0h9m1 0h1m5 0h5m1 0h1m2 0h1m2 0h1m6 0h2M1244 479h1m4 0h4m3 0h3m1 0h1m1 0h3m1 0h1m1 0h2m1 0h2m1 0h2m1 0h2m1 0h82m3 0h5m1 0h12m2 0h1m3 0h3m4 0h2m3 0h1m2 0h1m9 0h1M1243 480h1m1 0h2m1 0h1m1 0h2m1 0h1m1 0h4m1 0h2m2 0h2m1 0h2m1 0h1m3 0h2m1 0h1m2 0h82m2 0h2m1 0h1m2 0h11m2 0h6m2 0h1m1 0h1m1 0h2m1 0h3m1 0h2m12 0h1M1242 481h6m1 0h1m1 0h1m1 0h2m1 0h1m1 0h1m1 0h3m2 0h1m1 0h2m1 0h1m1 0h1m6 0h71m2 0h8m2 0h1m2 0h3m1 0h2m1 0h4m1 0h15m1 0h1m1 0h1m1 0h4m2 0h1m4 0h1m7 0h1M1238 482h2m1 0h1m2 0h3m1 0h6m1 0h1m3 0h4m3 0h1m4 0h1m3 0h71m4 0h8m2 0h1m1 0h1m3 0h1m1 0h2m1 0h5m2 0h7m1 0h3m2 0h1m1 0h1m2 0h1m10 0h2M1238 483h1m3 0h1m1 0h1m1 0h2m1 0h2m5 0h1m1 0h1m6 0h3m1 0h3m1 0h3m2 0h68m3 0h1m5 0h3m3 0h2m1 0h20m2 0h1m1 0h2m1 0h1m1 0h3m1 0h1m2 0h1m6 0h1M1242 484h1m4 0h3m6 0h1m2 0h2m2 0h3m5 0h5m2 0h11m1 0h2m1 0h56m1 0h1m1 0h6m2 0h1m3 0h6m2 0h8m1 0h8m1 0h2m4 0h2m11 0h1M1240 485h1m5 0h1m1 0h3m1 0h6m3 0h2m1 0h1m3 0h1m2 0h3m1 0h2m2 0h11m2 0h1m1 0h56m3 0h3m2 0h2m1 0h2m1 0h1m1 0h1m1 0h5m1 0h1m1 0h4m2 0h2m2 0h1m2 0h1m1 0h2m1 0h1m1 0h1m1 0h1m8 0h1M1239 486h1m1 0h2m5 0h4m3 0h3m1 0h1m1 0h1m1 0h1m1 0h3m3 0h1m2 0h3m2 0h1m1 0h3m1 0h1m3 0h2m3 0h54m2 0h1m1 0h4m1 0h4m3 0h1m1 0h1m1 0h5m1 0h1m1 0h3m1 0h2m5 0h1m2 0h3m1 0h1m1 0h3m10 0h1M1239 487h3m1 0h1m1 0h3m1 0h1m4 0h2m3 0h4m1 0h3m7 0h5m2 0h1m2 0h1m2 0h1m2 0h64m3 0h1m6 0h1m1 0h4m3 0h1m2 0h1m1 0h1m1 0h1m1 0h1m4 0h1m2 0h4m2 0h1m3 0h1M1243 488h1m1 0h1m3 0h1m1 0h1m6 0h1m1 0h8m2 0h1m1 0h1m1 0h4m1 0h5m1 0h1m1 0h1m1 0h1m2 0h60m2 0h4m2 0h3m1 0h1m4 0h2m1 0h1m3 0h1m1 0h1m2 0h3m1 0h1m2 0h3m1 0h2m1 0h4M1247 489h1m1 0h1m4 0h3m2 0h3m4 0h3m6 0h1m4 0h1m2 0h1m4 0h1m1 0h1m2 0h1m1 0h37m1 0h5m4 0h3m1 0h2m1 0h1m1 0h1m1 0h2m1 0h1m1 0h3m1 0h2m3 0h1m1 0h1m1 0h2m2 0h2m1 0h3m7 0h2m1 0h1m2 0h4m1 0h1M1244 490h1m1 0h2m2 0h5m1 0h3m1 0h2m3 0h2m1 0h2m2 0h2m2 0h8m2 0h3m2 0h1m1 0h1m2 0h8m1 0h15m2 0h5m2 0h6m2 0h1m1 0h5m2 0h2m3 0h2m1 0h5m3 0h1m7 0h2m6 0h1m2 0h2m3 0h1m2 0h1m3 0h3m2 0h2m2 0h1M1244 491h1m1 0h2m1 0h2m1 0h2m1 0h2m1 0h2m1 0h3m2 0h2m3 0h1m6 0h2m2 0h3m3 0h1m1 0h1m2 0h8m1 0h2m2 0h4m1 0h1m2 0h5m2 0h4m4 0h1m2 0h2m1 0h1m5 0h1m1 0h1m2 0h2m1 0h3m2 0h1m1 0h3m3 0h4m2 0h1m1 0h2m1 0h2m2 0h1m1 0h5m2 0h1m1 0h3m2 0h1m3 0h1m4 0h1M1246 492h1m2 0h2m1 0h1m1 0h1m1 0h1m1 0h1m1 0h2m1 0h1m2 0h1m2 0h3m1 0h2m2 0h3m6 0h1m1 0h4m1 0h4m1 0h2m3 0h1m2 0h5m3 0h3m1 0h1m4 0h2m3 0h1m1 0h2m1 0h1m4 0h2m1 0h1m1 0h3m2 0h3m3 0h1m4 0h1m3 0h3m3 0h1m1 0h2m1 0h1m1 0h2m2 0h1m4 0h3m1 0h2m6 0h1m11 0h1M1245 493h2m3 0h1m2 0h1m4 0h1m2 0h2m4 0h1m2 0h1m3 0h2m3 0h1m2 0h1m6 0h1m1 0h4m5 0h1m2 0h2m1 0h6m1 0h1m2 0h2m1 0h1m1 0h1m2 0h1m1 0h1m2 0h1m4 0h1m7 0h1m1 0h1m1 0h1m1 0h1m7 0h2m1 0h1m1 0h2m1 0h3m1 0h1m1 0h1m1 0h2m1 0h1m1 0h1m1 0h1m5 0h1m7 0h2m1 0h1m1 0h1M1254 494h2m7 0h2m1 0h3m4 0h1m1 0h1m1 0h1m1 0h1m5 0h2m3 0h1m2 0h1m3 0h1m3 0h2m9 0h1m2 0h1m4 0h1m4 0h4m1 0h1m5 0h1m1 0h3m1 0h1m1 0h1m9 0h1m7 0h1m4 0h2m1 0h1m7 0h1m3 0h3m2 0h2m4 0h3M1249 495h4m12 0h3m1 0h1m7 0h2m2 0h2m4 0h1m6 0h1m3 0h1m3 0h3m1 0h3m2 0h1m3 0h1m5 0h1m1 0h1m3 0h1m1 0h1m1 0h1m1 0h2m5 0h1m2 0h2m3 0h2m2 0h2m9 0h1m5 0h1m1 0h2m3 0h1m1 0h1m1 0h1m4 0h1m1 0h2m5 0h1M1302 496h1"/><path stroke="#3178cc" d="M1320 463h4m3 0h2M1312 464h3m4 0h6m1 0h5m5 0h1m4 0h2m4 0h2M1301 465h3m7 0h6m1 0h25m3 0h4M1295 466h2m3 0h7m3 0h34m3 0h3M1293 467h52m2 0h3M1292 468h54m1 0h4m1 0h1M1274 469h1m14 0h64M1274 470h2m12 0h64m3 0h6M1288 471h64m2 0h7m27 0h2M1286 472h75m27 0h3M1285 473h73m30 0h3M1277 474h2m5 0h72m16 0h3m13 0h2M1277 475h3m3 0h73m16 0h3M1277 476h4m2 0h72m18 0h1m6 0h1m3 0h1M1278 477h3m2 0h72m24 0h3M1279 478h76m1 0h1m21 0h4M1280 479h78m13 0h5m1 0h4M1261 480h1m18 0h79m12 0h10m6 0h1M1261 481h2m16 0h67m7 0h5m14 0h4m1 0h3m6 0h2M1262 482h1m16 0h67m8 0h4m14 0h4m2 0h5M1279 483h67m26 0h12M1274 484h1m4 0h9m5 0h54m25 0h8m2 0h2M1280 485h4m10 0h54m29 0h3M1281 486h2m11 0h54M1294 487h54M1294 488h53M1295 489h7m2 0h28m1 0h4M1296 490h5m5 0h14m2 0h4M1297 491h3m15 0h3"/><path stroke="#3c9fdc" d="M1321 465h3M1301 466h2m8 0h4m6 0h7m2 0h3M1301 467h3m6 0h28M1294 468h3m4 0h38m4 0h1M1294 469h3m4 0h38m3 0h3m3 0h1M1291 470h2m8 0h49M1290 471h3m8 0h49M1289 472h4m7 0h50M1288 473h9m3 0h50M1287 474h62m4 0h1M1286 475h62m5 0h1M1286 476h60M1287 477h58M1287 478h60M1284 479h66M1282 480h7m3 0h54M1281 481h7m4 0h53M1283 482h5m4 0h53M1285 483h2m6 0h51M1295 484h5m2 0h39M1296 485h45M1297 486h43m4 0h3M1296 487h36m1 0h3m8 0h2M1297 488h3m4 0h16m1 0h10M1297 489h2m9 0h1m4 0h6m4 0h3M1298 490h1m17 0h2"/><path stroke="#48b7cf" d="M1323 467h4M1311 468h5m6 0h6m3 0h3M1302 469h2m3 0h31M1302 470h36M1302 471h38m5 0h4M1305 472h44M1303 473h42M1289 474h4m2 0h1m6 0h42M1289 475h8m4 0h43M1291 476h3m6 0h43M1291 477h3m6 0h43M1292 478h3m4 0h44M1293 479h1m3 0h47M1294 480h1m1 0h3m2 0h43M1293 481h6m2 0h35m3 0h4M1294 482h4m4 0h34M1303 483h33M1303 484h33M1304 485h19m1 0h3m2 0h3M1304 486h14m1 0h1m5 0h2M1305 487h6m2 0h2m10 0h2"/><path stroke="#58bd7a" d="M1324 468h2M1313 469h2m7 0h5M1308 470h9m3 0h9M1307 471h27m2 0h2M1306 472h34M1306 473h35M1304 474h38M1302 475h40M1302 476h40M1301 477h40M1301 478h40M1302 479h39M1303 480h33m3 0h2M1303 481h32M1304 482h31M1304 483h21m3 0h6M1305 484h17m8 0h1M1305 485h6M1308 486h2"/><path stroke="#6cc344" d="M1313 470h2m6 0h6M1308 471h8m5 0h7M1307 472h9m4 0h9M1307 473h8m4 0h14M1306 474h9m3 0h15m3 0h2M1306 475h26m1 0h6M1306 476h25m1 0h8M1305 477h3m1 0h30M1304 478h4m2 0h28M1304 479h4m2 0h20m1 0h6M1304 480h4m2 0h19m2 0h4M1305 481h3m3 0h3m5 0h5m8 0h1M1312 482h2m5 0h5"/><path stroke="#a5cf28" d="M1322 471h4M1310 472h1m11 0h5M1320 473h7M1319 474h8M1319 475h8M1312 476h5m1 0h10m6 0h4M1312 477h6m1 0h9m5 0h5M1312 478h5m6 0h5m5 0h4M1312 479h3m9 0h3m6 0h2"/><path stroke="#d8d81f" d="M1324 472h2M1322 473h4M1320 474h3M1320 475h3M1320 476h2M1335 477h2"/><path stroke="#fff" d="M1321 463h1m5 0h2M1314 464h1m5 0h1m1 0h1m3 0h1m3 0h1m11 0h1m4 0h1M1301 465h1m1 0h1m8 0h1m3 0h1m8 0h1m2 0h1m1 0h1m2 0h1m3 0h1m1 0h3m4 0h1m2 0h1M1295 466h1m4 0h2m2 0h1m1 0h1m10 0h1m1 0h1m3 0h1m3 0h2m4 0h2m6 0h3M1293 467h1m8 0h1m2 0h1m4 0h1m3 0h1m1 0h1m9 0h2m2 0h4m3 0h1m3 0h1m1 0h1m3 0h1M1292 468h2m4 0h1m5 0h3m2 0h1m1 0h1m2 0h2m5 0h1m1 0h1m2 0h2m6 0h2m4 0h1m4 0h1m1 0h2M1293 469h1m3 0h2m1 0h1m14 0h1m11 0h1m2 0h2m7 0h1m1 0h1m8 0h3M1275 470h1m13 0h2m4 0h1m4 0h2m10 0h1m3 0h1m13 0h3m6 0h1m2 0h2m6 0h2m5 0h2M1288 471h1m2 0h1m5 0h1m26 0h1m7 0h1m1 0h4m1 0h2m2 0h1m2 0h1m2 0h2m4 0h1M1287 472h3m1 0h1m1 0h2m2 0h1m3 0h3m17 0h1m4 0h1m3 0h1m6 0h1m2 0h1m10 0h1m2 0h1m1 0h1m1 0h2M1286 473h1m2 0h2m9 0h1m1 0h1m1 0h3m10 0h1m5 0h1m11 0h2m4 0h1m1 0h1m2 0h4m7 0h1M1277 474h1m18 0h1m4 0h1m7 0h1m24 0h2m3 0h1m6 0h1m1 0h1m5 0h2M1286 475h1m6 0h1m7 0h1m1 0h1m11 0h1m1 0h1m2 0h2m4 0h1m5 0h1m3 0h1m3 0h1m5 0h2m3 0h1M1279 476h1m5 0h2m3 0h1m15 0h1m3 0h1m4 0h1m3 0h1m6 0h2m1 0h1m14 0h1m6 0h1M1286 477h1m1 0h1m4 0h2m5 0h1m1 0h1m26 0h1m10 0h2m8 0h1m2 0h1M1292 478h1m40 0h1m6 0h1m3 0h1m5 0h1m2 0h2M1280 479h3m1 0h4m1 0h1m1 0h2m2 0h1m10 0h1m1 0h1m7 0h1m15 0h1m1 0h1m1 0h2m2 0h1m3 0h1m1 0h1m8 0h1m16 0h2m1 0h1m1 0h1m2 0h1M1283 480h3m2 0h1m2 0h2m2 0h1m1 0h1m1 0h1m9 0h2m4 0h2m4 0h1m5 0h2m4 0h1m1 0h1m5 0h1m4 0h2m4 0h1m5 0h1m12 0h1m5 0h4M1279 481h3m1 0h1m1 0h1m3 0h1m5 0h3m3 0h1m1 0h1m27 0h1m4 0h2m17 0h1m1 0h1m14 0h3m2 0h1M1283 482h1m1 0h1m1 0h3m10 0h1m8 0h2m3 0h1m3 0h1m3 0h1m3 0h1m1 0h1m2 0h2m4 0h1m2 0h1m1 0h2m1 0h1m10 0h1m15 0h1m1 0h1m3 0h1m3 0h1M1282 483h2m1 0h1m2 0h1m1 0h1m14 0h3m8 0h1m7 0h1m7 0h1m10 0h1m28 0h1m3 0h1m1 0h1m2 0h1M1282 484h2m10 0h1m5 0h1m1 0h1m6 0h1m6 0h1m7 0h1m11 0h2m2 0h2m1 0h1m2 0h1m26 0h1m3 0h1m5 0h1M1283 485h1m11 0h1m3 0h1m2 0h1m5 0h1m3 0h1m1 0h1m1 0h2m1 0h1m4 0h1m10 0h1m4 0h2m35 0h1m1 0h1M1281 486h2m13 0h1m3 0h1m1 0h1m3 0h3m1 0h1m3 0h2m3 0h2m10 0h2m9 0h1m1 0h1m1 0h2M1295 487h1m6 0h1m8 0h1m5 0h4m2 0h1m1 0h1m3 0h2m5 0h2m7 0h1m1 0h1M1294 488h1m5 0h2m2 0h3m3 0h1m4 0h2m6 0h1m6 0h1m1 0h1m3 0h1m2 0h1m1 0h1m1 0h1M1297 489h2m13 0h1m6 0h4m3 0h1m3 0h1m5 0h1M1309 490h1m13 0h1M1299 491h1m16 0h1"/></g>
<path d="M1235.2 383.44H1503.15" stroke="#858585" stroke-width="0.9" fill="none"/>
<rect x="1502.1" y="383.04" width="1.9" height="268.8" fill="#bbbbbb"/>
<path d="M1235.2 383.44V651.84M1234.8 651.44H1503.15" stroke="#3a3a3a" stroke-width="0.85" fill="none"/>
<path d="M1227.8 650.34H1235.5M1236.4 651.24V658.64M1227.8 597.24H1235.5M1288.65 651.24V658.64M1227.8 543.79H1235.5M1342.1 651.24V658.64M1227.8 490.34H1235.5M1395.55 651.24V658.64M1227.8 436.89H1235.5M1449 651.24V658.64M1227.8 384.74H1235.5M1501.85 651.24V658.64" stroke="#000" stroke-width="1.6" fill="none"/>
<path d="M1229.9 613.33H1235.2M1272.56 651.44V656.74M1229.9 559.88H1235.2M1326.01 651.44V656.74M1229.9 506.43H1235.2M1379.46 651.44V656.74M1229.9 452.98H1235.2M1432.91 651.44V656.74M1229.9 399.53H1235.2M1486.36 651.44V656.74" stroke="#000" stroke-width="1.3" fill="none"/>
<path d="M1231.5 634.6H1235.2M1251.29 651.44V655.14M1231.5 625.19H1235.2M1260.7 651.44V655.14M1231.5 618.51H1235.2M1267.38 651.44V655.14M1231.5 609.1H1235.2M1276.79 651.44V655.14M1231.5 605.52H1235.2M1280.37 651.44V655.14M1231.5 602.42H1235.2M1283.47 651.44V655.14M1231.5 599.69H1235.2M1286.2 651.44V655.14M1231.5 581.15H1235.2M1304.74 651.44V655.14M1231.5 571.74H1235.2M1314.15 651.44V655.14M1231.5 565.06H1235.2M1320.83 651.44V655.14M1231.5 555.65H1235.2M1330.24 651.44V655.14M1231.5 552.07H1235.2M1333.82 651.44V655.14M1231.5 548.97H1235.2M1336.92 651.44V655.14M1231.5 546.24H1235.2M1339.65 651.44V655.14M1231.5 527.7H1235.2M1358.19 651.44V655.14M1231.5 518.29H1235.2M1367.6 651.44V655.14M1231.5 511.61H1235.2M1374.28 651.44V655.14M1231.5 502.2H1235.2M1383.69 651.44V655.14M1231.5 498.62H1235.2M1387.27 651.44V655.14M1231.5 495.52H1235.2M1390.37 651.44V655.14M1231.5 492.79H1235.2M1393.1 651.44V655.14M1231.5 474.25H1235.2M1411.64 651.44V655.14M1231.5 464.84H1235.2M1421.05 651.44V655.14M1231.5 458.16H1235.2M1427.73 651.44V655.14M1231.5 448.75H1235.2M1437.14 651.44V655.14M1231.5 445.17H1235.2M1440.72 651.44V655.14M1231.5 442.07H1235.2M1443.82 651.44V655.14M1231.5 439.34H1235.2M1446.55 651.44V655.14M1231.5 420.8H1235.2M1465.09 651.44V655.14M1231.5 411.39H1235.2M1474.5 651.44V655.14M1231.5 404.71H1235.2M1481.18 651.44V655.14M1231.5 395.3H1235.2M1490.59 651.44V655.14M1231.5 391.72H1235.2M1494.17 651.44V655.14M1231.5 388.62H1235.2M1497.27 651.44V655.14M1231.5 385.89H1235.2M1500 651.44V655.14" stroke="#000" stroke-width="1.3" fill="none"/>
<g><text x="1212.3" y="649.54" text-anchor="end">10</text><text x="1213.1" y="635.04">0</text><text x="1239" y="697.74">10</text><text x="1260.3" y="683.14">0</text><text x="1212.3" y="609.34" text-anchor="end">10</text><text x="1213.1" y="594.74">1</text><text x="1277.85" y="697.74">10</text><text x="1299.15" y="683.14">1</text><text x="1212.3" y="555.89" text-anchor="end">10</text><text x="1213.1" y="541.29">2</text><text x="1331.3" y="697.74">10</text><text x="1352.6" y="683.14">2</text><text x="1212.3" y="502.44" text-anchor="end">10</text><text x="1213.1" y="487.84">3</text><text x="1384.75" y="697.74">10</text><text x="1406.05" y="683.14">3</text><text x="1212.3" y="448.99" text-anchor="end">10</text><text x="1213.1" y="434.39">4</text><text x="1438.2" y="697.74">10</text><text x="1459.5" y="683.14">4</text><text x="1212.3" y="417.44" text-anchor="end">10</text><text x="1213.1" y="403.04">5</text><text x="1471" y="697.74">10</text><text x="1492.3" y="683.14">5</text></g>
<text x="1367.62" y="708.84" text-anchor="middle">CD3 CD19 CD20</text>
<text transform="translate(1196.5 516.64) rotate(-90)" text-anchor="middle">FSC-A</text>
<path d="M1235.2 451.84H1350.6V538.44H1235.2" fill="none" stroke="#000" stroke-width="1.5"/>
<text x="1270.8" y="419.84">87,4</text>
</g>
<text class="row" x="-0.6" y="524.5">GBM 3</text>
<g id="p20">
<g class="d" transform="translate(0 0.5)"><path stroke="#7f90bb" d="M407 788h1M384 816h1M354 817h1M346 820h1m10 0h1M414 822h1m3 0h1M415 823h1M325 825h1m66 0h1m3 0h1m10 0h2M381 826h1m22 0h1m17 0h1M335 827h1m29 0h1m5 0h1m4 0h1M327 829h1m45 0h1m22 0h1M348 832h1m45 0h2M364 834h1M332 836h1m3 0h1m6 0h1m4 0h1m5 0h1m12 0h1m20 0h1M356 837h1M314 839h1m72 0h1M348 841h1M327 842h1m32 0h1m63 0h1M342 843h2m2 0h1m19 0h1M322 844h1m25 0h1m3 0h1m5 0h1M331 845h1m5 0h1m10 0h1m4 0h1M343 846h1m12 0h1M320 847h1m3 0h1m13 0h1m3 0h1m13 0h1m2 0h1m14 0h1m45 0h1m3 0h1M324 848h1m31 0h1m14 0h1M333 849h1m12 0h1m18 0h1M329 850h1m1 0h1m33 0h1M344 851h1m19 0h1m4 0h1m48 0h2M358 852h1M342 853h1m8 0h1m7 0h1m6 0h1m49 0h1M313 854h1m1 0h1m3 0h1m4 0h1m22 0h1m69 0h1M336 855h1m14 0h1m9 0h1M326 856h1m9 0h1m14 0h1m11 0h1M300 857h1m27 0h1m19 0h2m11 0h1M288 858h1m15 0h1m4 0h1m28 0h1m3 0h1m3 0h1m1 0h1m4 0h1m2 0h1M291 859h1m30 0h1m1 0h1m12 0h1m2 0h1m3 0h1m9 0h1M282 860h1m7 0h1m32 0h1m6 0h1m1 0h1m2 0h1m16 0h1m4 0h1M295 861h1m18 0h1m6 0h1m10 0h1m82 0h1M287 862h1m30 0h1m6 0h1m9 0h1m4 0h1m3 0h1m66 0h1M307 863h1m6 0h1m10 0h1m4 0h1m8 0h1m5 0h1m4 0h2m69 0h1M317 864h1m9 0h2m3 0h1m3 0h1m13 0h1m64 0h1M306 865h1m18 0h1m10 0h1m4 0h1m6 0h1M304 866h1m10 0h1m3 0h2m10 0h1m2 0h1m12 0h1M291 867h1m16 0h2m4 0h1m3 0h1m4 0h1m3 0h1m1 0h2m2 0h1m8 0h1m1 0h1m62 0h1M301 868h2m5 0h1m8 0h2m16 0h1m6 0h1m71 0h1M293 869h1m8 0h1m4 0h1m5 0h1m5 0h1m3 0h1m6 0h1m74 0h1M299 870h1m4 0h1m6 0h1m10 0h1m2 0h1m3 0h1m2 0h1m1 0h2m5 0h1m66 0h1m8 0h1M287 871h1m16 0h1m7 0h2m4 0h1m7 0h1m1 0h1m4 0h2m2 0h2m1 0h1m64 0h1M276 872h1m23 0h1m22 0h2m3 0h1M324 873h2m3 0h1M298 874h1m7 0h1m7 0h1M279 875h1m1 0h1m9 0h1m7 0h1m16 0h1m1 0h1m6 0h1m2 0h1m72 0h1M277 876h1m11 0h1m6 0h1m4 0h1m19 0h2m5 0h1m78 0h1M319 877h1M298 878h1m2 0h2M276 879h1m9 0h1m3 0h1M285 880h1m18 0h2M306 881h1m2 0h1M298 882h1m8 0h1m1 0h1m88 0h1m9 0h1M286 883h1m2 0h1m7 0h1M276 884h1m19 0h1m13 0h1m87 0h1m3 0h1M282 885h1m1 0h1m1 0h2m5 0h1m1 0h1m2 0h1m5 0h1M278 886h1m12 0h1m6 0h1m4 0h1M286 887h1m2 0h1m8 0h1m104 0h1M277 888h1m6 0h1m1 0h1m106 0h1M282 889h1m7 0h1m2 0h1m3 0h1m95 0h1M281 890h1m1 0h1m4 0h1m5 0h1M259 891h1m5 0h1m5 0h1m7 0h1m3 0h3m4 0h2m104 0h1M264 892h1m10 0h1m15 0h2m97 0h1m1 0h2M249 893h1m14 0h2m10 0h1m16 0h2M274 894h1M263 895h1m16 0h1m1 0h1m117 0h1M266 896h1m11 0h1m13 0h2M263 897h1m8 0h1m2 0h1m2 0h1m108 0h1M270 898h1m6 0h1m107 0h1m5 0h1M255 899h1m5 0h1m3 0h1m6 0h1M256 900h1m2 0h1m1 0h1m12 0h1m1 0h1m110 0h2M273 901h1m110 0h1M248 902h1m5 0h1m23 0h2M251 903h1m3 0h1m10 0h1m6 0h1m2 0h1m5 0h1m98 0h1m6 0h2M274 904h2m6 0h1M260 905h1m1 0h1m5 0h1m2 0h1m7 0h1M266 906h2m12 0h2M254 907h1m3 0h1m12 0h1m7 0h1M257 908h1m6 0h1m8 0h1m2 0h2m103 0h1m1 0h1M257 909h1m120 0h1M270 910h1m110 0h1M260 911h1m3 0h1M244 912h1m7 0h1m5 0h2m4 0h1m3 0h1m107 0h1M247 913h1m15 0h1m6 0h1m104 0h1m2 0h1m3 0h1M231 914h1m8 0h1m18 0h1m116 0h1M253 915h1m7 0h1m9 0h1M252 916h1m1 0h1m14 0h1M241 917h2m28 0h1m109 0h1M254 918h2m4 0h1m7 0h1m1 0h1m102 0h1M257 919h1m5 0h1m1 0h2m1 0h1m1 0h1M259 920h1m2 0h2M249 921h1m2 0h1m3 0h1m6 0h1m106 0h1M244 922h1m5 0h1m5 0h1m4 0h1m111 0h1M233 923h1m22 0h1m9 0h1M248 924h1m11 0h1m4 0h1M242 925h1m6 0h1m3 0h1m1 0h1m116 0h1M239 926h2m7 0h1m9 0h1m1 0h2M245 927h1m5 0h1m6 0h1m111 0h2M253 928h1m3 0h1M228 929h1m19 0h1m4 0h1m4 0h1m123 0h1M246 930h2m4 0h1m3 0h1m116 0h1M247 932h1M250 933h1m117 0h1M365 934h1M249 935h1m1 0h1m114 0h1m5 0h1M244 936h1M242 937h2m120 0h1M223 938h1m15 0h1m126 0h1m9 0h1M242 940h1m1 0h1m118 0h2M235 941h1M228 942h1m138 0h1M239 943h1M223 944h1m2 0h1m8 0h1m3 0h2m120 0h1M233 945h1m125 0h1M239 946h1M227 947h1m2 0h1m3 0h1m123 0h2M357 949h1M191 950h1m43 0h1m120 0h1M219 952h1M231 953h1M224 954h1m2 0h2m126 0h1M214 955h1m6 0h1m6 0h1M224 956h1m128 0h2M213 957h1m9 0h1M219 958h1m133 0h1M213 959h1M212 960h1m2 0h1m5 0h1m128 0h1M218 962h1m1 0h1M192 963h1m5 0h1m3 0h1m18 0h1m143 0h1M185 964h1m5 0h1m16 0h1m2 0h3m136 0h1M189 965h1m15 0h2M196 966h1m6 0h1m9 0h1m132 0h1m4 0h1M195 967h1m18 0h1m2 0h1M181 968h1m4 0h1m1 0h1m11 0h1m145 0h1M186 969h1m4 0h1m4 0h1m4 0h1m2 0h1m137 0h1M189 970h1m1 0h1m8 0h1m1 0h1m147 0h1M181 971h1m6 0h1m152 0h2M184 972h2m5 0h3m1 0h1m1 0h1m2 0h1m139 0h1M164 973h1m19 0h1m4 0h2m2 0h1M182 974h1m4 0h1m150 0h1m5 0h1M175 975h1m15 0h1m2 0h3M180 976h1m6 0h1m5 0h1m4 0h1m138 0h1M185 977h1m150 0h1m6 0h1M173 978h1m1 0h2m9 0h1m4 0h1m4 0h1M169 979h1m2 0h1m24 0h1m135 0h1m1 0h1M173 980h1m14 0h1m3 0h1M165 981h1m26 0h1m4 0h1m139 0h1M162 982h1m4 0h1m1 0h1m2 0h1m2 0h1m19 0h1m1 0h1m132 0h1m5 0h1M172 983h1m14 0h1m145 0h1M190 984h1m2 0h2m2 0h1M171 985h1m1 0h1m15 0h1m5 0h1m132 0h1m10 0h1M166 986h1m9 0h1m13 0h2m137 0h1m3 0h1M171 987h1m1 0h3m12 0h1m3 0h1M168 988h1m5 0h1m5 0h1m3 0h1m2 0h2m5 0h1m12 0h1M163 989h1m1 0h1m10 0h2m1 0h1m11 0h2m140 0h1M179 990h1m14 0h1m129 0h1M158 991h1m18 0h1m5 0h2m2 0h1M166 992h2m5 0h1m5 0h1m10 0h1m2 0h2m12 0h1M177 993h1m3 0h1m6 0h1m1 0h1m26 0h1m103 0h1M168 994h1m6 0h1m1 0h1m3 0h1m2 0h2m4 0h1m9 0h1m4 0h1m11 0h1M162 995h1m14 0h1m4 0h1m3 0h1m3 0h1m8 0h1m5 0h1m5 0h1m6 0h1M166 996h1m9 0h1m4 0h1m11 0h1m5 0h1m7 0h1m7 0h1m2 0h1m3 0h1M191 997h1m3 0h1m1 0h1m6 0h1m1 0h1m4 0h1m121 0h1M172 998h1m1 0h1m6 0h1m14 0h1m5 0h1m10 0h1m13 0h1m90 0h1M198 999h2m5 0h1m4 0h1m12 0h1M173 1000h1m22 0h1m12 0h1m8 0h1m3 0h1m91 0h1m7 0h1M189 1001h1m2 0h1m10 0h2m2 0h3m4 0h1m2 0h1m5 0h1m2 0h1m1 0h1M199 1002h1m4 0h2m33 0h1m74 0h1M201 1003h1m1 0h1m4 0h1m25 0h1m5 0h1M178 1004h1m55 0h1m7 0h1m4 0h1m2 0h1m60 0h3m7 0h1M225 1005h1m15 0h1m11 0h1m55 0h1M204 1006h1m9 0h1m18 0h1m2 0h1m8 0h1m2 0h1m47 0h1m5 0h1M248 1007h2m6 0h1m31 0h1m8 0h1m5 0h1M190 1008h1m64 0h1m3 0h1m12 0h1m2 0h1M266 1009h1m12 0h1m2 0h1M229 1010h1m51 0h1m3 0h1M264 1011h1m12 0h1m1 0h1m3 0h1M259 1012h1m31 0h1M253 1013h1m13 0h1m5 0h2m16 0h1m16 0h1M251 1014h1m5 0h1m6 0h1M235 1017h1M292 1018h1M230 1019h1m67 0h1M259 1020h1m13 0h1M297 1022h1M266 1024h1m46 0h1M251 1026h1"/><path stroke="#2755ab" d="M411 826h1m5 0h2M409 827h2m3 0h2m2 0h2m1 0h1M409 828h1m1 0h1m4 0h4M410 829h8m2 0h1m1 0h1M406 830h2m1 0h7m1 0h2m1 0h3M401 831h1m6 0h16M397 832h1m8 0h2m1 0h9m1 0h1m1 0h1M395 833h1m3 0h1m2 0h17m1 0h2m1 0h1M397 834h1m1 0h2m1 0h1m2 0h13m1 0h3M392 835h3m5 0h8m1 0h10m2 0h1M392 836h2m1 0h1m2 0h3m1 0h17m1 0h1M395 837h3m1 0h5m1 0h11m1 0h1m1 0h2M392 838h3m1 0h10m1 0h12m1 0h1m1 0h1M391 839h1m2 0h24m2 0h1m1 0h1M390 840h2m1 0h28M387 841h1m1 0h2m1 0h6m1 0h10m1 0h10M388 842h1m1 0h27m1 0h1m1 0h1M382 843h2m2 0h2m2 0h7m1 0h21m2 0h1M383 844h1m1 0h28m1 0h5M383 845h1m3 0h30m3 0h1M381 846h1m1 0h21m1 0h10m1 0h2M377 847h1m3 0h26m1 0h6m3 0h1M376 848h3m1 0h33m2 0h1m1 0h1M380 849h9m1 0h19m1 0h5m2 0h1M377 850h32m1 0h2m1 0h1M370 851h1m3 0h1m2 0h37m1 0h1M372 852h1m1 0h4m1 0h1m1 0h31M372 853h12m2 0h25m1 0h2M370 854h41m1 0h1m1 0h1M367 855h1m3 0h39m1 0h1M365 856h1m1 0h1m1 0h37m1 0h4M366 857h1m1 0h2m1 0h16m1 0h20m1 0h1m1 0h1M368 858h42M366 859h38m1 0h2m1 0h1M360 860h1m1 0h1m1 0h9m1 0h34M356 861h1m6 0h2m1 0h24m1 0h15M358 862h1m2 0h1m1 0h1m1 0h41M356 863h1m1 0h1m3 0h43m1 0h2M354 864h4m3 0h36m1 0h7M354 865h1m1 0h2m1 0h46M351 866h1m1 0h4m1 0h45M355 867h47M345 868h1m1 0h1m1 0h1m4 0h3m1 0h43m1 0h2M344 869h1m1 0h2m5 0h4m1 0h42m1 0h3M342 870h1m1 0h1m4 0h1m2 0h1m1 0h1m1 0h33m1 0h11M302 871h2m38 0h1m2 0h2m2 0h4m1 0h46m1 0h1M301 872h1m33 0h1m1 0h1m8 0h1m1 0h36m1 0h3m1 0h6m1 0h6M301 873h2m1 0h1m6 0h1m30 0h1m2 0h2m1 0h4m1 0h36m1 0h9m1 0h1M331 874h1m3 0h1m3 0h1m1 0h1m2 0h4m1 0h10m1 0h24m1 0h13m1 0h1M302 875h1m5 0h1m1 0h2m1 0h1m16 0h1m2 0h1m1 0h1m2 0h2m2 0h56M303 876h5m2 0h1m2 0h1m18 0h1m4 0h1m2 0h4m1 0h2m1 0h22m1 0h26M304 877h1m7 0h2m17 0h1m1 0h1m1 0h2m3 0h1m2 0h51m1 0h2m1 0h1M306 878h1m1 0h1m4 0h1m10 0h1m7 0h1m4 0h1m2 0h1m1 0h2m1 0h49m1 0h1M305 879h1m1 0h1m5 0h1m7 0h3m2 0h1m4 0h1m1 0h1m1 0h1m1 0h1m1 0h2m2 0h52M306 880h1m3 0h2m1 0h1m5 0h1m1 0h3m1 0h1m1 0h1m1 0h1m5 0h1m1 0h1m2 0h46m1 0h9M314 881h1m1 0h3m2 0h1m2 0h1m1 0h1m1 0h1m1 0h1m2 0h1m2 0h25m1 0h29m1 0h1m1 0h1M312 882h2m3 0h2m1 0h1m1 0h1m4 0h2m1 0h3m1 0h2m1 0h34m1 0h17m1 0h1m1 0h2M312 883h3m3 0h1m1 0h1m9 0h26m1 0h33m2 0h1M316 884h1m9 0h2m6 0h57m1 0h1M315 885h2m1 0h2m1 0h1m2 0h2m1 0h3m1 0h18m1 0h42m1 0h2M306 886h1m6 0h2m2 0h2m3 0h1m2 0h2m1 0h60m1 0h2m1 0h1M303 887h1m1 0h2m2 0h1m1 0h1m2 0h3m2 0h1m2 0h6m1 0h60m1 0h1M300 888h1m1 0h1m1 0h2m3 0h2m3 0h1m2 0h1m1 0h1m1 0h2m1 0h59m1 0h5M304 889h2m1 0h2m1 0h1m4 0h2m1 0h1m1 0h1m1 0h1m1 0h19m1 0h40m1 0h1m1 0h2M299 890h2m2 0h1m4 0h2m6 0h1m1 0h2m1 0h64m2 0h1m1 0h2M296 891h1m1 0h1m1 0h1m2 0h1m3 0h1m2 0h1m2 0h3m2 0h1m1 0h65m3 0h1M288 892h1m6 0h1m2 0h1m2 0h1m2 0h2m2 0h2m2 0h1m1 0h1m2 0h67M288 893h1m6 0h1m2 0h1m1 0h1m3 0h1m5 0h1m2 0h7m1 0h53m1 0h7m1 0h2M286 894h1m14 0h2m1 0h1m2 0h1m2 0h1m1 0h71m1 0h3M288 895h1m2 0h1m6 0h2m2 0h1m1 0h2m2 0h3m3 0h68m4 0h1M286 896h3m1 0h1m5 0h1m1 0h2m1 0h2m3 0h1m4 0h2m1 0h65m2 0h1m1 0h1m2 0h1M280 897h1m2 0h2m4 0h1m8 0h1m1 0h1m3 0h1m2 0h3m1 0h2m1 0h69M280 898h2m1 0h1m2 0h1m2 0h2m3 0h1m2 0h1m1 0h2m5 0h2m2 0h71M279 899h2m2 0h2m1 0h2m7 0h1m3 0h2m1 0h3m1 0h1m1 0h68m1 0h2M278 900h1m4 0h2m3 0h2m1 0h1m1 0h2m1 0h1m1 0h1m2 0h7m1 0h54m1 0h12m2 0h1m1 0h1M279 901h1m2 0h1m5 0h1m1 0h1m2 0h1m1 0h2m2 0h1m3 0h1m1 0h2m2 0h4m1 0h59m1 0h4M284 902h1m1 0h1m2 0h1m4 0h1m2 0h3m2 0h4m1 0h3m1 0h67m1 0h1M285 903h1m4 0h1m9 0h10m1 0h67m1 0h1M285 904h1m1 0h4m1 0h1m4 0h1m1 0h3m1 0h2m1 0h53m1 0h17M284 905h1m7 0h2m2 0h5m2 0h1m1 0h70M286 906h2m1 0h1m1 0h1m1 0h1m2 0h1m1 0h1m1 0h1m1 0h1m1 0h1m1 0h68m1 0h2M281 907h1m4 0h1m2 0h2m1 0h2m1 0h2m2 0h76m1 0h2M283 908h4m2 0h1m1 0h2m3 0h1m3 0h70m1 0h1m1 0h1M280 909h1m2 0h1m1 0h2m3 0h2m1 0h4m1 0h74M271 910h3m2 0h2m4 0h2m4 0h7m2 0h5m1 0h1m1 0h66m1 0h1M274 911h1m1 0h2m2 0h1m3 0h1m2 0h1m2 0h1m1 0h1m1 0h1m1 0h2m1 0h71m1 0h1m1 0h1m1 0h1M265 912h2m5 0h1m3 0h1m4 0h2m1 0h1m1 0h1m7 0h7m1 0h69M266 913h1m6 0h2m3 0h1m1 0h1m3 0h1m3 0h1m1 0h82m1 0h1M265 914h2m7 0h1m2 0h1m2 0h1m3 0h2m3 0h3m2 0h78m1 0h1M266 915h2m8 0h1m4 0h1m1 0h1m2 0h1m2 0h1m2 0h79m2 0h1M273 916h1m5 0h2m1 0h6m3 0h79M275 917h1m1 0h1m1 0h1m2 0h1m3 0h1m2 0h1m1 0h8m1 0h69m2 0h1M274 918h1m3 0h2m2 0h7m1 0h78M277 919h3m1 0h1m3 0h1m1 0h79M271 920h1m3 0h1m1 0h2m2 0h6m1 0h75m1 0h4M271 921h1m2 0h1m1 0h1m2 0h13m1 0h72m2 0h1M271 922h1m1 0h1m1 0h2m1 0h12m1 0h69m1 0h5M267 923h1m5 0h3m3 0h87m1 0h2m1 0h1M269 924h2m3 0h8m2 0h81m4 0h1M265 925h2m3 0h1m1 0h5m1 0h87m3 0h2M269 926h2m2 0h92m2 0h1m2 0h1M265 927h2m1 0h1m1 0h92m1 0h1m2 0h1M264 928h1m2 0h2m1 0h93m1 0h2M262 929h2m1 0h2m1 0h17m1 0h75m1 0h2m1 0h1M261 930h1m1 0h2m1 0h2m1 0h91m1 0h1m1 0h2M259 931h1m3 0h6m1 0h91m1 0h1M254 932h4m5 0h97m1 0h5M254 933h1m3 0h26m1 0h75m4 0h1M253 934h1m6 0h101m3 0h1M253 935h3m2 0h1m1 0h101M255 936h3m1 0h100m1 0h1M254 937h12m1 0h90m1 0h3M250 938h1m3 0h5m1 0h99m1 0h1m1 0h2M249 939h1m1 0h1m2 0h12m1 0h89m1 0h3m1 0h1M245 940h1m4 0h2m1 0h106m1 0h1M243 941h1m4 0h2m1 0h103m1 0h1m3 0h1M244 942h2m1 0h1m2 0h106m2 0h1M244 943h1m1 0h1m2 0h4m2 0h100m1 0h1m1 0h1M242 944h2m3 0h1m1 0h104m1 0h1M245 945h1m1 0h107M241 946h2m1 0h3m1 0h9m1 0h96m1 0h2M241 947h1m1 0h1m1 0h106m1 0h1m3 0h1M243 948h1m1 0h107M237 949h1m3 0h2m1 0h108m1 0h3M236 950h1m1 0h1m1 0h26m1 0h85M240 951h111M233 952h1m6 0h1m1 0h9m1 0h99M234 953h1m1 0h30m1 0h82m3 0h1M231 954h2m1 0h1m1 0h1m1 0h108m5 0h1M231 955h1m1 0h1m1 0h12m1 0h25m1 0h73m2 0h2M236 956h111m2 0h2M232 957h1m1 0h113m3 0h1M232 958h109m1 0h2m1 0h2m1 0h2M232 959h32m1 0h76m1 0h2m1 0h1m1 0h1M226 960h1m3 0h111m1 0h6M225 961h1m4 0h3m1 0h18m1 0h2m1 0h86m1 0h2M227 962h1m1 0h114m2 0h1M224 963h2m1 0h114m1 0h1m3 0h1M226 964h32m1 0h82m4 0h1M222 965h1m1 0h1m1 0h11m1 0h1m1 0h6m1 0h94m3 0h1M212 966h1m8 0h1m2 0h4m1 0h105m1 0h4m3 0h1M209 967h2m2 0h1m7 0h119m1 0h3M207 968h1m3 0h1m5 0h1m3 0h5m1 0h113m1 0h1M205 969h4m2 0h1m8 0h1m1 0h116M207 970h1m4 0h1m1 0h2m3 0h24m1 0h93M204 971h1m2 0h2m2 0h2m3 0h3m2 0h23m1 0h14m1 0h6m1 0h68m1 0h2M203 972h2m2 0h1m2 0h2m4 0h1m2 0h116M200 973h1m2 0h1m5 0h1m3 0h1m1 0h4m1 0h112m1 0h1M201 974h2m1 0h1m5 0h1m1 0h123M201 975h1m5 0h4m5 0h12m1 0h1m1 0h101M189 976h1m12 0h2m5 0h1m2 0h1m3 0h12m1 0h103M190 977h1m10 0h1m2 0h3m3 0h1m1 0h1m1 0h116m1 0h2M187 978h3m12 0h2m1 0h1m8 0h36m1 0h78m1 0h2M178 979h4m8 0h1m11 0h2m1 0h1m2 0h1m4 0h40m1 0h71m3 0h3M179 980h1m1 0h2m20 0h1m3 0h1m1 0h1m2 0h1m1 0h111m1 0h1m3 0h2M181 981h1m1 0h1m1 0h1m23 0h1m1 0h2m1 0h109m1 0h2m1 0h1M179 982h5m2 0h1m14 0h6m1 0h2m2 0h2m1 0h104m1 0h3m1 0h3M178 983h1m1 0h2m1 0h2m14 0h2m1 0h1m1 0h1m4 0h2m3 0h4m1 0h12m1 0h91m2 0h3M179 984h2m2 0h2m13 0h1m2 0h3m1 0h1m8 0h1m1 0h5m1 0h30m1 0h69m2 0h2m2 0h1M186 985h1m14 0h1m2 0h1m2 0h1m3 0h2m3 0h1m1 0h2m1 0h38m1 0h61m2 0h2M178 986h3m3 0h2m23 0h1m2 0h1m1 0h3m1 0h104m1 0h2M198 987h1m2 0h1m5 0h2m2 0h1m2 0h1m4 0h2m1 0h44m1 0h53m1 0h1m1 0h3M198 988h2m9 0h4m1 0h1m3 0h3m1 0h4m1 0h4m1 0h17m1 0h57m1 0h8m1 0h2m2 0h3M199 989h1m11 0h2m4 0h1m1 0h1m1 0h1m2 0h48m1 0h33m1 0h12M197 990h2m3 0h2m7 0h2m2 0h1m2 0h1m3 0h1m1 0h3m1 0h21m1 0h11m1 0h44m1 0h12m3 0h1M200 991h1m2 0h2m7 0h1m1 0h1m4 0h19m1 0h80M197 992h3m4 0h1m4 0h2m6 0h1m1 0h1m1 0h3m1 0h92M203 993h2m5 0h2m1 0h1m7 0h2m4 0h3m1 0h2m1 0h7m1 0h69m1 0h6M194 994h1m2 0h2m25 0h1m2 0h7m1 0h75m1 0h4M192 995h2m2 0h1m1 0h1m27 0h1m1 0h1m1 0h6m1 0h2m1 0h71m1 0h2m3 0h2M195 996h1m33 0h2m1 0h8m1 0h68m1 0h2m1 0h1m2 0h1M231 997h1m1 0h1m2 0h2m1 0h25m1 0h42m1 0h5M231 998h2m2 0h2m1 0h5m1 0h2m1 0h21m1 0h41m3 0h1M230 999h1m2 0h1m2 0h2m1 0h2m1 0h1m2 0h11m1 0h2m1 0h5m1 0h26m1 0h16m1 0h2M235 1000h1m3 0h1m3 0h1m2 0h1m2 0h1m1 0h1m1 0h1m1 0h2m1 0h32m1 0h18m3 0h1M243 1001h3m2 0h1m1 0h1m3 0h3m1 0h24m1 0h10m1 0h7m1 0h1m1 0h1m1 0h4M251 1002h1m1 0h9m1 0h10m1 0h1m1 0h3m1 0h6m1 0h9m3 0h2m1 0h4M254 1003h1m3 0h3m3 0h2m1 0h2m1 0h2m1 0h3m1 0h6m1 0h3m2 0h1m2 0h1m1 0h1m3 0h2m2 0h1m2 0h1m3 0h1M256 1004h1m2 0h1m1 0h1m1 0h2m1 0h1m1 0h1m1 0h2m1 0h3m2 0h4m1 0h3m1 0h2m1 0h1m1 0h3m4 0h2m6 0h1M255 1005h1m13 0h3m3 0h1m2 0h1m2 0h1m1 0h2m1 0h2M258 1006h1m5 0h1m1 0h2m2 0h2m1 0h1m1 0h2m3 0h2m2 0h2m4 0h1M267 1007h1m7 0h1m6 0h2"/><path stroke="#3178cc" d="M350 887h1M348 888h6M348 889h7M347 890h8M346 891h9M336 892h6m2 0h10M334 893h21M333 894h22M331 895h25M328 896h28M326 897h30M324 898h32M323 899h33M321 900h35M320 901h36M318 902h39M317 903h42M315 904h44M314 905h46M313 906h47M311 907h49M310 908h50M308 909h51M307 910h52M306 911h53M306 912h53M305 913h55M304 914h56M303 915h57M301 916h59M300 917h60M299 918h60M298 919h60M297 920h59M296 921h59M295 922h60M294 923h61M293 924h63M293 925h63M292 926h64M291 927h65M290 928h65M290 929h65M290 930h65M289 931h65M289 932h65M287 933h66M286 934h67M285 935h67M285 936h67M284 937h68M284 938h67M284 939h66M283 940h67M283 941h66M282 942h67M282 943h66M282 944h66M281 945h66M281 946h66M281 947h65M280 948h66M279 949h66M278 950h67M278 951h66M277 952h67M277 953h66M276 954h66M275 955h66M274 956h67M274 957h66M274 958h65M274 959h65M274 960h64M274 961h63M273 962h64M272 963h64M271 964h64M271 965h63M270 966h62M269 967h62M269 968h61M268 969h61M267 970h61M267 971h59M267 972h58M267 973h57M266 974h57M266 975h56M266 976h55M266 977h53M266 978h50M266 979h48M266 980h47M266 981h46M266 982h44M267 983h40M268 984h38M268 985h37M269 986h35M271 987h31M272 988h28M274 989h25M275 990h14m7 0h1M277 991h9"/><path stroke="#3c9fdc" d="M336 897h4M333 898h16M332 899h18M327 900h24M325 901h26M324 902h28M323 903h29M322 904h31M319 905h36M317 906h39M316 907h40M315 908h41M313 909h43M310 910h45M309 911h46M308 912h46M307 913h47M306 914h47M305 915h48M305 916h47M303 917h49M301 918h51M300 919h52M300 920h52M299 921h53M298 922h54M297 923h55M296 924h56M295 925h57M294 926h58M294 927h58M293 928h59M293 929h59M293 930h59M292 931h60M292 932h59M291 933h60M290 934h61M289 935h62M288 936h62M288 937h62M288 938h61M287 939h62M287 940h61M286 941h62M286 942h61M286 943h61M285 944h62M285 945h61M284 946h62M284 947h61M283 948h62M283 949h61M282 950h62M282 951h61M281 952h61M281 953h61M281 954h60M280 955h60M280 956h59M280 957h59M279 958h59M279 959h58M278 960h59M277 961h59M276 962h59M275 963h59M275 964h58M274 965h57M273 966h57M273 967h56M272 968h56M272 969h55M271 970h54M271 971h52M271 972h51M271 973h49M271 974h48M272 975h45M272 976h43M271 977h42M271 978h40M271 979h39M270 980h38M270 981h36M270 982h35M271 983h33M272 984h28M274 985h24M276 986h20M277 987h13M278 988h5"/><path stroke="#48b7cf" d="M327 903h6m2 0h8M326 904h21M325 905h22M324 906h24M321 907h27M319 908h30M317 909h33M316 910h35M314 911h37M310 912h41M309 913h42M308 914h42M307 915h43M306 916h44M306 917h44M304 918h46M303 919h47M302 920h48M301 921h49M300 922h49M299 923h50M298 924h51M297 925h52M297 926h52M296 927h53M295 928h54M295 929h54M295 930h54M294 931h55M294 932h55M294 933h55M293 934h56M292 935h57M291 936h57M291 937h57M290 938h58M290 939h57M289 940h58M289 941h58M288 942h58M288 943h58M288 944h57M288 945h57M288 946h56M287 947h57M286 948h58M285 949h58M285 950h58M285 951h57M284 952h57M284 953h57M283 954h57M283 955h56M283 956h55M283 957h55M282 958h55M282 959h54M281 960h55M280 961h55M279 962h55M278 963h55M278 964h53M277 965h53M277 966h51M277 967h50M276 968h50M276 969h48M275 970h46M275 971h44M275 972h42M274 973h41M275 974h39M275 975h37M275 976h35M275 977h34M275 978h32M275 979h31M276 980h29M276 981h27M277 982h22M278 983h19M278 984h15M279 985h3m5 0h3"/><path stroke="#58bd7a" d="M327 906h13M326 907h16M325 908h19M322 909h23M319 910h26M318 911h28M316 912h31M314 913h33M311 914h36M309 915h38M308 916h39M307 917h40M306 918h41M305 919h42M304 920h43M303 921h44M302 922h45M302 923h45M301 924h46M300 925h47M299 926h48M298 927h49M298 928h48M297 929h48M297 930h48M296 931h49M296 932h49M295 933h50M295 934h51M294 935h52M294 936h52M293 937h53M293 938h53M292 939h54M292 940h54M291 941h54M291 942h54M290 943h55M290 944h54M290 945h54M290 946h53M290 947h53M290 948h52M289 949h53M288 950h53M288 951h53M287 952h53M287 953h52M287 954h52M287 955h51M287 956h50M286 957h50M286 958h50M285 959h50M284 960h50M283 961h50M282 962h50M281 963h49M281 964h48M280 965h47M279 966h47M279 967h42M279 968h41M279 969h39M278 970h38M278 971h36M278 972h34M278 973h33M278 974h31M278 975h30M278 976h28M278 977h27M278 978h26M279 979h23M280 980h19M282 981h15M286 982h6"/><path stroke="#6cc344" d="M329 911h2M327 912h6M324 913h14M319 914h20M317 915h23M315 916h25M313 917h28M310 918h31M309 919h33M308 920h34M307 921h35M306 922h35M306 923h35M305 924h37M304 925h38M303 926h39M302 927h39M301 928h40M301 929h40M300 930h41M299 931h42M299 932h42M298 933h42M298 934h42M297 935h43M297 936h43M297 937h43M296 938h44M296 939h44M296 940h45M296 941h45M295 942h46M295 943h46M295 944h46M294 945h47M294 946h46M294 947h46M294 948h46M293 949h46M293 950h46M293 951h45M293 952h45M293 953h44M292 954h44M292 955h43M291 956h44M290 957h44M290 958h42M290 959h34m1 0h6M289 960h33m5 0h3M288 961h31M288 962h29M287 963h29M286 964h29M286 965h28M285 966h27M285 967h26M284 968h26M284 969h25M283 970h25M283 971h24M283 972h22M283 973h21M283 974h19M284 975h17M286 976h13M288 977h8"/><path stroke="#a5cf28" d="M320 917h11M317 918h17M315 919h20M313 920h23M311 921h26M310 922h27M309 923h28M308 924h30M307 925h31M306 926h32M305 927h33M304 928h34M303 929h35M303 930h34M302 931h35M302 932h35M301 933h36M301 934h36M300 935h36M300 936h36M299 937h37M299 938h37M299 939h37M298 940h38M298 941h37M298 942h37M298 943h36M298 944h36M297 945h37M297 946h38M297 947h38M297 948h38M297 949h38M297 950h38M297 951h37M297 952h37M298 953h28m4 0h3M298 954h25M297 955h24M297 956h23M297 957h21M296 958h21M296 959h19M295 960h19M295 961h17M295 962h16M294 963h15M294 964h13M294 965h12M294 966h10M293 967h9M292 968h8M291 969h7M290 970h7M290 971h6M290 972h5"/><path stroke="#d8d81f" d="M322 919h2M318 920h12M316 921h15M314 922h19M312 923h21M311 924h23M310 925h24M309 926h26M308 927h27M307 928h28M306 929h28M305 930h29M304 931h30M304 932h30M303 933h31M303 934h31M302 935h31M302 936h31M302 937h31M301 938h32M301 939h32M301 940h31M300 941h32M300 942h31M300 943h30M300 944h30M300 945h29M301 946h28M301 947h27M301 948h26M301 949h25M301 950h23M302 951h21M302 952h19M302 953h18M302 954h16M303 955h14M303 956h11M303 957h6M304 958h2"/><path stroke="#f6c01c" d="M319 922h6M316 923h12M314 924h15M313 925h17M312 926h19M311 927h20M310 928h21M309 929h23M308 930h24M307 931h25M306 932h25M306 933h25M305 934h26M305 935h26M304 936h27M304 937h27M304 938h26M303 939h27M303 940h26M303 941h26M303 942h25M303 943h25M303 944h24M303 945h23M304 946h21M304 947h20M305 948h18M305 949h16M306 950h14M306 951h12M307 952h10M309 953h2"/><path stroke="#f7981e" d="M317 925h8M315 926h11M314 927h13M313 928h15M312 929h16M311 930h18M310 931h19M309 932h20M308 933h21M307 934h22M307 935h22M306 936h23M306 937h22M306 938h22M305 939h23M305 940h22M305 941h21M305 942h21M305 943h20M306 944h18M306 945h17M307 946h15M308 947h12M309 948h10M310 949h7"/><path stroke="#f46a22" d="M317 928h6M315 929h9M314 930h11M313 931h13M312 932h14M311 933h15M310 934h17M309 935h17M309 936h17M308 937h18M308 938h18M308 939h17M308 940h17M308 941h16M308 942h15M309 943h13M309 944h11M310 945h9M312 946h4"/><path stroke="#ee4122" d="M317 931h4M315 932h7M314 933h8M314 934h8M313 935h9M312 936h10M312 937h10M311 938h11M311 939h11M312 940h9M312 941h8M313 942h5"/><path stroke="#fff" d="M272 963h1"/></g>
<path d="M157.55 765.4H425.9" stroke="#858585" stroke-width="0.9" fill="none"/>
<path d="M425.5 765.4V1033.4" stroke="#858585" stroke-width="0.95" fill="none"/>
<path d="M157.55 765.4V1033.8M157.15 1033.4H425.9" stroke="#3a3a3a" stroke-width="0.85" fill="none"/>
<path d="M150.15 1032.3H157.85M158.75 1033.2V1040.6M150.15 979.2H157.85M211 1033.2V1040.6M150.15 925.75H157.85M264.45 1033.2V1040.6M150.15 872.3H157.85M317.9 1033.2V1040.6M150.15 818.85H157.85M371.35 1033.2V1040.6M150.15 766.7H157.85M424.2 1033.2V1040.6" stroke="#000" stroke-width="1.6" fill="none"/>
<path d="M152.25 995.29H157.55M194.91 1033.4V1038.7M152.25 941.84H157.55M248.36 1033.4V1038.7M152.25 888.39H157.55M301.81 1033.4V1038.7M152.25 834.94H157.55M355.26 1033.4V1038.7M152.25 781.49H157.55M408.71 1033.4V1038.7" stroke="#000" stroke-width="1.3" fill="none"/>
<path d="M153.85 1016.56H157.55M173.64 1033.4V1037.1M153.85 1007.15H157.55M183.05 1033.4V1037.1M153.85 1000.47H157.55M189.73 1033.4V1037.1M153.85 991.06H157.55M199.14 1033.4V1037.1M153.85 987.48H157.55M202.72 1033.4V1037.1M153.85 984.38H157.55M205.82 1033.4V1037.1M153.85 981.65H157.55M208.55 1033.4V1037.1M153.85 963.11H157.55M227.09 1033.4V1037.1M153.85 953.7H157.55M236.5 1033.4V1037.1M153.85 947.02H157.55M243.18 1033.4V1037.1M153.85 937.61H157.55M252.59 1033.4V1037.1M153.85 934.03H157.55M256.17 1033.4V1037.1M153.85 930.93H157.55M259.27 1033.4V1037.1M153.85 928.2H157.55M262 1033.4V1037.1M153.85 909.66H157.55M280.54 1033.4V1037.1M153.85 900.25H157.55M289.95 1033.4V1037.1M153.85 893.57H157.55M296.63 1033.4V1037.1M153.85 884.16H157.55M306.04 1033.4V1037.1M153.85 880.58H157.55M309.62 1033.4V1037.1M153.85 877.48H157.55M312.72 1033.4V1037.1M153.85 874.75H157.55M315.45 1033.4V1037.1M153.85 856.21H157.55M333.99 1033.4V1037.1M153.85 846.8H157.55M343.4 1033.4V1037.1M153.85 840.12H157.55M350.08 1033.4V1037.1M153.85 830.71H157.55M359.49 1033.4V1037.1M153.85 827.13H157.55M363.07 1033.4V1037.1M153.85 824.03H157.55M366.17 1033.4V1037.1M153.85 821.3H157.55M368.9 1033.4V1037.1M153.85 802.76H157.55M387.44 1033.4V1037.1M153.85 793.35H157.55M396.85 1033.4V1037.1M153.85 786.67H157.55M403.53 1033.4V1037.1M153.85 777.26H157.55M412.94 1033.4V1037.1M153.85 773.68H157.55M416.52 1033.4V1037.1M153.85 770.58H157.55M419.62 1033.4V1037.1M153.85 767.85H157.55M422.35 1033.4V1037.1" stroke="#000" stroke-width="1.3" fill="none"/>
<g><text x="134.65" y="1031.5" text-anchor="end">10</text><text x="135.45" y="1017">0</text><text x="162.55" y="1080.45">10</text><text x="183.85" y="1065.85">0</text><text x="134.65" y="991.3" text-anchor="end">10</text><text x="135.45" y="976.7">1</text><text x="201.4" y="1080.45">10</text><text x="222.7" y="1065.85">1</text><text x="134.65" y="937.85" text-anchor="end">10</text><text x="135.45" y="923.25">2</text><text x="254.85" y="1080.45">10</text><text x="276.15" y="1065.85">2</text><text x="134.65" y="884.4" text-anchor="end">10</text><text x="135.45" y="869.8">3</text><text x="308.3" y="1080.45">10</text><text x="329.6" y="1065.85">3</text><text x="134.65" y="830.95" text-anchor="end">10</text><text x="135.45" y="816.35">4</text><text x="361.75" y="1080.45">10</text><text x="383.05" y="1065.85">4</text><text x="134.65" y="799.4" text-anchor="end">10</text><text x="135.45" y="785">5</text><text x="394.55" y="1080.45">10</text><text x="415.85" y="1065.85">5</text></g>
<text x="291.18" y="1091.2" text-anchor="middle">FSC-A</text>
<text transform="translate(119.85 898.1) rotate(-90)" text-anchor="middle">SSC-A</text>
<ellipse cx="0" cy="0" rx="28.1" ry="17.0" transform="translate(334.5 955.1) rotate(-50)" fill="none" stroke="#000" stroke-width="1.5"/>
<text x="163.85" y="841.4">12,6</text>
</g>
<g id="p21">
<g class="d" transform="translate(0 0.5)"><path stroke="#7f90bb" d="M575 926h1M585 933h1M581 936h1m25 0h1M572 937h1m11 0h1m12 0h1M564 938h1M570 939h1m4 0h1m8 0h1M566 941h1m19 0h1M588 942h1M576 943h1m4 0h1m1 0h1M563 944h1m7 0h1m2 0h1m3 0h1M566 945h1m6 0h1m10 0h1m9 0h1M558 946h1m5 0h1m20 0h1M557 947h1m6 0h1m6 0h2M583 948h1M559 951h1m25 0h1M559 952h1m29 0h1M549 953h1m46 0h1M586 954h1M560 955h1m27 0h1m119 0h2M552 956h1m36 0h1m34 0h1m97 0h1M692 957h1M556 958h1m42 0h1m63 0h1M589 959h1M551 960h1m34 0h1m108 0h1M549 961h1m7 0h1m145 0h1M590 962h1m37 0h1m137 0h1M548 963h1m43 0h1m43 0h1M557 964h1m34 0h1m6 0h1M590 965h1m5 0h1M593 966h1m2 0h1m9 0h1m17 0h1M593 967h1m47 0h1M553 968h2m37 0h1m18 0h1M598 969h1m27 0h1m128 0h1M554 970h1m46 0h1m20 0h1m4 0h1m68 0h1M596 971h1m14 0h1m111 0h1m13 0h1M597 972h1m19 0h1m19 0h1M554 973h1m45 0h1m19 0h1m8 0h1m30 0h1M598 974h1m3 0h1m29 0h1M607 975h1m38 0h1M553 976h1m47 0h1m32 0h1m4 0h1m25 0h1M622 977h1m5 0h1M613 978h3m10 0h1m65 0h1M614 979h1m6 0h1M611 980h1m8 0h1m53 0h1M605 981h2m14 0h1m5 0h2m3 0h1m64 0h1M607 982h1m9 0h1m75 0h1M607 983h2m5 0h1m4 0h1m162 0h1M627 984h1m3 0h1m3 0h1m70 0h1M608 985h1m15 0h1m2 0h2m1 0h1M532 986h1m4 0h1m80 0h1m8 0h1m4 0h1m23 0h1m125 0h1M536 987h1m3 0h1m75 0h1M541 988h1m5 0h1m65 0h1m113 0h1M523 989h1m20 0h1m6 0h1m62 0h1m13 0h1m154 0h1M537 990h1m73 0h2m10 0h3m4 0h1m32 0h1m42 0h1M623 991h1m158 0h1M525 992h1m4 0h1m14 0h1m180 0h1M734 993h1m16 0h1m30 0h2M616 994h1M531 995h1m81 0h1m9 0h1m1 0h1m3 0h1m1 0h1m151 0h1M529 996h1m84 0h1m14 0h1m6 0h1m8 0h1M616 997h1m1 0h1m4 0h1m25 0h1m34 0h1m40 0h1M628 998h1m1 0h1m8 0h1m34 0h1m21 0h1M526 999h1m104 0h1m2 0h1m148 0h1M527 1000h2M528 1001h1M783 1002h1M639 1003h1m46 0h1M637 1004h2m143 0h1M523 1005h1m121 0h1m108 0h1m4 0h1m23 0h1M659 1006h1m1 0h1m86 0h1m12 0h1M520 1007h1m117 0h1m2 0h1m17 0h1m11 0h1m50 0h1m8 0h1m8 0h1M668 1008h1m4 0h1m1 0h1m5 0h2m7 0h1m4 0h2m7 0h1m11 0h1m8 0h1m17 0h1m5 0h1m9 0h1m3 0h1M518 1009h1m140 0h1m9 0h1m6 0h1m11 0h1m13 0h1m1 0h1m5 0h1m2 0h1m18 0h1m14 0h1M519 1010h1m137 0h1m7 0h2m7 0h1m10 0h1m7 0h1m1 0h1m4 0h1m10 0h1m6 0h1m3 0h2m7 0h1m18 0h1m1 0h1m6 0h1m4 0h1M517 1011h1m2 0h1m1 0h1m123 0h1m16 0h1m4 0h1m2 0h1m23 0h1m2 0h2m2 0h1m7 0h1m5 0h1m9 0h1m2 0h1m2 0h2m1 0h1m1 0h3m9 0h1m3 0h1m1 0h2m1 0h2m4 0h1m1 0h1M519 1012h1m139 0h1m9 0h1m1 0h2m4 0h1m8 0h1m10 0h1m5 0h1m17 0h1m5 0h1m20 0h1m15 0h1m17 0h1M520 1013h1m122 0h1m1 0h1m17 0h1m13 0h1m6 0h1m14 0h1m4 0h1m6 0h2m7 0h1m3 0h1m16 0h1m2 0h1m3 0h1m4 0h1m5 0h1m2 0h1M521 1014h1m111 0h1m19 0h1m1 0h1m4 0h2m6 0h1m4 0h2m2 0h1m1 0h1m21 0h1m5 0h1m6 0h2m5 0h1m8 0h1m8 0h1m6 0h1M521 1015h1m1 0h1m131 0h1m12 0h1m12 0h2m22 0h1M524 1016h1m142 0h1m6 0h1M523 1017h1m3 0h2m100 0h1"/><path stroke="#2755ab" d="M567 948h2m9 0h1m1 0h3M563 949h1m3 0h1m3 0h1m5 0h1m1 0h1M562 950h3m3 0h2m2 0h1m1 0h1m2 0h1m2 0h1m1 0h1M562 951h1m1 0h3m2 0h2m3 0h1m2 0h1m3 0h1M561 952h3m3 0h1m1 0h1m1 0h1m1 0h3m1 0h4M565 953h4m1 0h7m3 0h1m1 0h1M567 954h1m3 0h1m1 0h4m1 0h2m2 0h1M561 955h1m3 0h1m1 0h1m1 0h5m1 0h2m6 0h1M563 956h1m2 0h4m2 0h1m2 0h1m1 0h1m1 0h1m2 0h2M559 957h1m2 0h2m1 0h4m1 0h2m1 0h2m1 0h4m2 0h1M558 958h2m1 0h2m1 0h1m1 0h3m1 0h1m1 0h1m1 0h8m1 0h1M560 959h2m4 0h14m2 0h2M561 960h1m1 0h5m1 0h1m1 0h2m1 0h3m2 0h1m1 0h1M560 961h3m3 0h1m1 0h6m1 0h1m3 0h2m1 0h3M560 962h2m1 0h2m2 0h2m1 0h1m1 0h3m2 0h1m2 0h1m1 0h3M559 963h1m2 0h1m3 0h2m1 0h2m1 0h1m1 0h1m1 0h3m1 0h6M560 964h3m1 0h3m2 0h7m1 0h6m1 0h1M558 965h5m2 0h9m1 0h2m1 0h2m1 0h1m1 0h2m2 0h1M558 966h2m3 0h6m1 0h2m1 0h1m1 0h1m1 0h4m1 0h1m1 0h3M556 967h2m1 0h1m2 0h1m2 0h8m1 0h6m2 0h3m1 0h2m1 0h1M558 968h2m2 0h1m1 0h1m2 0h3m2 0h1m1 0h5m3 0h3m3 0h3M555 969h2m5 0h4m2 0h1m2 0h8m1 0h3m3 0h1m3 0h1M557 970h1m1 0h2m1 0h1m1 0h1m1 0h2m1 0h7m2 0h7m1 0h2m2 0h2M557 971h1m1 0h15m4 0h1m1 0h1m1 0h1m1 0h3m2 0h1M557 972h2m2 0h1m1 0h1m1 0h2m1 0h1m1 0h3m2 0h3m1 0h5m1 0h2m2 0h1M560 973h1m1 0h2m1 0h5m1 0h5m1 0h2m1 0h4m1 0h5m3 0h2M556 974h1m2 0h6m1 0h1m1 0h1m1 0h7m2 0h7m1 0h5m1 0h2M557 975h1m1 0h2m2 0h1m1 0h1m1 0h1m1 0h1m2 0h1m3 0h2m1 0h8m1 0h6m2 0h1M557 976h3m1 0h2m1 0h1m1 0h1m1 0h1m3 0h5m2 0h2m1 0h1m1 0h2m1 0h3m1 0h1m1 0h2m1 0h2M558 977h3m1 0h4m1 0h1m2 0h1m2 0h5m1 0h5m2 0h1m2 0h2m1 0h3m1 0h2m1 0h1M556 978h1m1 0h3m1 0h4m1 0h4m1 0h2m2 0h2m1 0h1m1 0h2m1 0h2m1 0h2m2 0h1m1 0h2M558 979h2m1 0h9m1 0h3m2 0h1m3 0h8m1 0h1m2 0h1m1 0h2M556 980h3m1 0h1m2 0h3m1 0h7m1 0h1m1 0h8m2 0h1m1 0h1m1 0h2m3 0h8M559 981h1m2 0h2m1 0h5m2 0h2m1 0h4m1 0h4m1 0h1m1 0h6m1 0h1m1 0h2m3 0h2M558 982h1m3 0h5m3 0h11m2 0h2m2 0h4m3 0h4m2 0h1m5 0h1M556 983h4m1 0h1m1 0h1m1 0h2m1 0h3m1 0h2m1 0h1m1 0h1m1 0h2m1 0h1m2 0h4m2 0h2m2 0h2m1 0h1m2 0h1m2 0h1M556 984h1m3 0h5m1 0h1m1 0h13m2 0h14m3 0h2M556 985h5m1 0h4m1 0h4m2 0h2m2 0h1m1 0h1m1 0h5m1 0h2m1 0h1m1 0h1m1 0h2m1 0h1m1 0h1m2 0h2m1 0h1M556 986h1m1 0h1m1 0h1m2 0h4m1 0h2m2 0h4m1 0h1m1 0h2m1 0h1m1 0h4m2 0h2m1 0h5m4 0h2M555 987h1m2 0h3m1 0h2m2 0h3m4 0h2m2 0h2m1 0h1m1 0h7m3 0h1m2 0h4m1 0h2m2 0h1m1 0h1M556 988h3m1 0h7m1 0h6m2 0h2m1 0h1m3 0h1m1 0h1m2 0h3m7 0h5m2 0h3M543 989h1m11 0h1m1 0h2m3 0h1m1 0h7m2 0h3m1 0h2m2 0h1m2 0h8m3 0h4m1 0h1m1 0h2m1 0h1M544 990h1m8 0h1m1 0h1m1 0h3m1 0h6m1 0h1m3 0h1m2 0h1m1 0h1m1 0h3m2 0h2m1 0h2m1 0h1m1 0h2m1 0h4m4 0h2m1 0h1M536 991h2m5 0h1m11 0h1m2 0h3m4 0h3m1 0h2m1 0h5m1 0h1m1 0h3m2 0h1m1 0h3m1 0h3m1 0h3m1 0h5m2 0h1m1 0h1M533 992h2m5 0h1m1 0h2m8 0h1m1 0h1m1 0h3m1 0h1m2 0h8m1 0h1m1 0h3m1 0h8m3 0h1m1 0h1m3 0h1m1 0h5m1 0h1m1 0h1M532 993h4m1 0h2m1 0h3m12 0h1m5 0h2m1 0h8m1 0h3m1 0h5m2 0h1m1 0h1m1 0h4m2 0h2m1 0h4m1 0h1m1 0h1m1 0h3M535 994h1m2 0h1m1 0h1m8 0h1m1 0h1m2 0h1m1 0h1m1 0h7m1 0h2m1 0h4m1 0h6m1 0h1m1 0h6m7 0h4m1 0h3m1 0h2m3 0h1M535 995h6m10 0h1m1 0h1m2 0h1m1 0h1m3 0h1m4 0h2m1 0h2m1 0h3m1 0h5m1 0h4m2 0h6m2 0h3m2 0h2m2 0h1m1 0h1M534 996h1m2 0h2m2 0h1m1 0h1m1 0h1m1 0h1m3 0h2m2 0h1m1 0h5m5 0h2m1 0h10m1 0h2m1 0h4m2 0h2m1 0h3m2 0h1m1 0h1m2 0h1m3 0h1m1 0h1M532 997h1m3 0h3m1 0h3m3 0h1m3 0h1m2 0h1m1 0h1m1 0h5m3 0h4m3 0h3m1 0h2m1 0h3m2 0h1m3 0h3m1 0h5m1 0h3m2 0h1m1 0h3m3 0h1M533 998h1m3 0h8m1 0h1m2 0h2m1 0h3m1 0h1m3 0h2m4 0h1m1 0h1m1 0h3m1 0h1m4 0h4m3 0h7m1 0h3m2 0h5m1 0h3m2 0h3m3 0h1m6 0h1m2 0h1M532 999h2m2 0h1m1 0h2m1 0h1m1 0h2m7 0h2m2 0h5m2 0h1m1 0h2m1 0h4m2 0h7m1 0h15m1 0h2m2 0h4m1 0h2m1 0h2m4 0h1m3 0h2m1 0h1m1 0h1M531 1000h3m7 0h2m1 0h3m1 0h2m3 0h2m1 0h2m2 0h1m2 0h4m1 0h3m1 0h14m1 0h15m1 0h1m1 0h4m1 0h2m1 0h1m1 0h2m4 0h1m1 0h1M531 1001h1m2 0h1m4 0h6m1 0h4m3 0h2m1 0h1m2 0h3m1 0h2m2 0h1m2 0h6m1 0h9m1 0h4m2 0h1m1 0h1m1 0h12m1 0h3m1 0h2m4 0h2m3 0h1m1 0h1m1 0h2M531 1002h7m3 0h2m1 0h5m2 0h1m1 0h1m1 0h9m1 0h4m2 0h43m1 0h6m1 0h1m2 0h1M529 1003h1m4 0h3m1 0h1m1 0h7m1 0h5m3 0h9m1 0h34m1 0h5m1 0h2m1 0h7m1 0h1m1 0h4m5 0h1m1 0h2M528 1004h3m1 0h1m1 0h7m1 0h7m1 0h52m1 0h5m1 0h1m1 0h2m1 0h7m1 0h4m1 0h2m2 0h1m2 0h1M527 1005h1m1 0h1m2 0h1m1 0h1m1 0h3m1 0h1m1 0h19m1 0h44m1 0h11m1 0h1m1 0h2m1 0h1m1 0h3m2 0h1m1 0h1M524 1006h2m1 0h1m1 0h3m1 0h1m1 0h5m1 0h5m2 0h4m1 0h50m2 0h12m1 0h2m3 0h3m3 0h1m3 0h3M525 1007h1m2 0h1m1 0h1m1 0h5m1 0h66m1 0h11m1 0h2m1 0h1m1 0h2m1 0h1m3 0h1m2 0h1M525 1008h1m1 0h1m2 0h21m1 0h56m3 0h6m1 0h8m1 0h2m2 0h3m1 0h1m1 0h1m6 0h2m3 0h1m2 0h1M529 1009h1m1 0h1m1 0h2m1 0h17m1 0h50m2 0h8m1 0h1m1 0h4m1 0h6m1 0h1m5 0h1m6 0h1m1 0h1m5 0h3m1 0h2m25 0h1M527 1010h1m3 0h1m1 0h77m1 0h9m1 0h3m3 0h1m1 0h3m3 0h2m1 0h3m1 0h1m7 0h4m25 0h1m1 0h1m2 0h1m21 0h1m1 0h1m34 0h1M523 1011h2m2 0h3m1 0h2m2 0h2m1 0h64m1 0h7m1 0h2m1 0h10m4 0h1m5 0h1m2 0h1m3 0h1m2 0h1m5 0h1m1 0h2m8 0h1m17 0h2m3 0h1m20 0h1m1 0h1m32 0h1m2 0h1M524 1012h1m1 0h1m2 0h2m2 0h20m1 0h46m1 0h5m1 0h1m1 0h1m1 0h4m1 0h5m1 0h8m3 0h2m1 0h1m3 0h1m1 0h1m7 0h1m1 0h1m9 0h2m15 0h1m5 0h1m20 0h1m35 0h1M526 1013h3m1 0h2m2 0h13m1 0h69m2 0h2m1 0h3m2 0h1m2 0h1m1 0h1m3 0h1m1 0h2m10 0h1m10 0h1m20 0h1M527 1014h2m2 0h16m1 0h1m1 0h43m1 0h3m1 0h7m3 0h2m2 0h3m1 0h2m1 0h2m2 0h1m2 0h1m1 0h2M532 1015h1m1 0h7m1 0h8m2 0h4m1 0h35m3 0h5m1 0h8m1 0h1m4 0h3m1 0h1m6 0h1M527 1016h1m2 0h1m3 0h20m1 0h3m1 0h27m1 0h4m1 0h8m2 0h8m1 0h1m4 0h1m4 0h1M530 1017h13m1 0h7m1 0h2m1 0h9m1 0h10m1 0h9m1 0h3m1 0h5m1 0h2m1 0h1m2 0h1m1 0h3m1 0h1m2 0h1m2 0h1"/><path stroke="#3178cc" d="M579 1001h7M573 1002h20M567 1003h30M564 1004h35M562 1005h39M541 1006h3m15 0h43M539 1007h7m11 0h46M538 1008h11m6 0h48M537 1009h14m3 0h49M537 1010h66M538 1011h63M538 1012h12m4 0h45M540 1013h6m9 0h41M556 1014h37M557 1015h31M560 1016h24M568 1017h7"/><path stroke="#3c9fdc" d="M576 1002h13M570 1003h23M566 1004h31M563 1005h36M561 1006h39M542 1007h1m16 0h42M539 1008h6m12 0h44M539 1009h7m10 0h45M539 1010h7m10 0h44M539 1011h6m11 0h43M540 1012h3m13 0h41M557 1013h37M558 1014h33M560 1015h26M563 1016h16"/><path stroke="#48b7cf" d="M578 1002h9M573 1003h18M568 1004h26M565 1005h32M563 1006h35M561 1007h38M559 1008h40M540 1009h3m15 0h41M540 1010h3m14 0h41M557 1011h40M557 1012h37M558 1013h34M559 1014h29M561 1015h23M566 1016h10"/><path stroke="#58bd7a" d="M580 1002h5M575 1003h14M570 1004h22M566 1005h28M564 1006h32M562 1007h35M561 1008h37M559 1009h38M559 1010h37M559 1011h36M559 1012h34M560 1013h29M561 1014h25M563 1015h18M568 1016h7"/><path stroke="#6cc344" d="M578 1003h8M574 1004h15M569 1005h21M566 1006h26M565 1007h28M563 1008h30M562 1009h31M562 1010h30M562 1011h29M562 1012h26M562 1013h24M564 1014h18M567 1015h9"/><path stroke="#a5cf28" d="M577 1004h9M573 1005h15M569 1006h20M566 1007h24M565 1008h25M564 1009h26M564 1010h25M563 1011h24M564 1012h22M564 1013h19M566 1014h12M570 1015h4"/><path stroke="#d8d81f" d="M579 1004h5M576 1005h10M571 1006h16M568 1007h20M567 1008h21M566 1009h22M565 1010h22M565 1011h21M565 1012h19M566 1013h13M568 1014h7"/><path stroke="#f6c01c" d="M578 1005h7M575 1006h11M570 1007h17M568 1008h19M567 1009h19M566 1010h20M566 1011h18M567 1012h13M568 1013h8M570 1014h3"/><path stroke="#f7981e" d="M580 1005h3M577 1006h8M573 1007h13M569 1008h17M568 1009h17M567 1010h17M567 1011h15M568 1012h9M569 1013h5"/><path stroke="#f46a22" d="M578 1006h5M576 1007h8M571 1008h14M569 1009h15M568 1010h15M568 1011h10M569 1012h6M571 1013h1"/><path stroke="#ee4122" d="M578 1007h5M576 1008h8M571 1009h12M569 1010h9M569 1011h6M570 1012h4"/><path stroke="#fff" d="M584 1001h1M567 1003h1m27 0h1M541 1006h1M601 1007h1M553 1011h1M547 1012h1"/></g>
<path d="M516.5 765.4H784.85" stroke="#858585" stroke-width="0.9" fill="none"/>
<path d="M784.45 765.4V1033.4" stroke="#858585" stroke-width="0.95" fill="none"/>
<path d="M516.5 765.4V1033.8M516.1 1033.4H784.85" stroke="#3a3a3a" stroke-width="0.85" fill="none"/>
<path d="M509.1 1032.3H516.8M517.7 1033.2V1040.6M509.1 979.2H516.8M569.95 1033.2V1040.6M509.1 925.75H516.8M623.4 1033.2V1040.6M509.1 872.3H516.8M676.85 1033.2V1040.6M509.1 818.85H516.8M730.3 1033.2V1040.6M509.1 766.7H516.8M783.15 1033.2V1040.6" stroke="#000" stroke-width="1.6" fill="none"/>
<path d="M512.8 1019.29H516.5M529.86 1033.4V1037.1M512.8 1005.93H516.5M543.23 1033.4V1037.1M512.8 992.56H516.5M556.59 1033.4V1037.1M512.8 965.84H516.5M583.31 1033.4V1037.1M512.8 952.48H516.5M596.67 1033.4V1037.1M512.8 939.11H516.5M610.04 1033.4V1037.1M512.8 912.39H516.5M636.76 1033.4V1037.1M512.8 899.03H516.5M650.12 1033.4V1037.1M512.8 885.66H516.5M663.49 1033.4V1037.1M512.8 858.94H516.5M690.21 1033.4V1037.1M512.8 845.58H516.5M703.58 1033.4V1037.1M512.8 832.21H516.5M716.94 1033.4V1037.1M512.8 805.49H516.5M743.66 1033.4V1037.1M512.8 792.13H516.5M757.02 1033.4V1037.1M512.8 778.76H516.5M770.39 1033.4V1037.1" stroke="#000" stroke-width="1.3" fill="none"/>
<g><text x="504.3" y="1031.4" text-anchor="end">0</text><text x="515.7" y="1080.05">0</text><text x="504.3" y="991.2" text-anchor="end">20K</text><text x="548.75" y="1080.05">20K</text><text x="504.3" y="937.75" text-anchor="end">40K</text><text x="602.2" y="1080.05">40K</text><text x="504.3" y="884.3" text-anchor="end">60K</text><text x="655.65" y="1080.05">60K</text><text x="504.3" y="830.85" text-anchor="end">80K</text><text x="709.1" y="1080.05">80K</text><text x="504.3" y="784.6" text-anchor="end">100K</text><text x="783.55" y="1080.05" text-anchor="end">100K</text></g>
<text x="650.12" y="1091.2" text-anchor="middle">FSC-W</text>
<text transform="translate(470.8 898.9) rotate(-90)" text-anchor="middle">SSC-W</text>
<path d="M550.6 1001.1L572.4 997.2L605.5 999L610 1019L573.3 1023.3L550.6 1023.6Z" fill="none" stroke="#000" stroke-width="1.5"/>
<text x="571.5" y="854.8">87,6</text>
</g>
<g id="p22">
<g class="d" transform="translate(0 0.5)"><path stroke="#7f90bb" d="M1033 807h1M1046 810h1M1039 812h1m6 0h1m3 0h1M1032 816h1m23 0h1M1056 817h1M1059 821h1M1063 826h1M1064 827h1M1066 829h1M1067 831h1M1071 834h1M1065 835h1m1 0h2M1070 836h1M1071 837h1M1068 840h1M1066 841h1m2 0h1m1 0h1M1066 843h1m2 0h1M1070 844h1M1067 845h1M1067 847h1M1065 849h1M1068 852h1M1065 853h1M1071 856h1M1064 857h1M1065 860h1m1 0h1M1065 861h1m4 0h1M1068 863h1M1068 864h1M1065 866h1m5 0h1M1068 870h1M1065 873h1M1069 876h1M1074 879h1M1067 880h2M1068 884h1m2 0h1M1068 885h1m1 0h1m1 0h1M1067 887h1m10 0h1m1 0h1M1070 888h1M1070 892h1m4 0h1M1070 893h2m2 0h1M1069 895h1m9 0h1M1070 899h1M1072 901h1M1071 903h1M1071 904h1M1077 905h1M1074 908h1m4 0h1M1071 909h1m2 0h1M1075 911h1M1077 913h1M1078 914h1M1073 915h1M1075 918h1M1081 920h1M1075 921h1M1085 927h1M1079 929h1M1073 931h2M1075 933h1m1 0h2M1075 934h1M1075 936h1m11 0h1M1082 937h1M1075 939h1M1076 940h1M1076 941h2M1079 942h1M1073 943h1M1077 944h1M1077 949h1m11 0h1M1084 951h1M1076 952h1M1080 953h1M1079 955h1M1078 959h1M1077 960h1M1077 961h1M1075 962h1M1075 963h1M1076 965h1M1079 966h1M1084 969h1M1078 974h1M1074 975h1m3 0h1M1074 976h1M1076 978h1M1072 979h1m5 0h1M1074 981h2m3 0h1M1085 982h1M1075 983h1M1075 984h1M1076 987h1M1075 988h1M1080 991h1M1076 992h1M1075 994h1M1076 996h1M1073 997h1M1073 998h1M1078 999h1M1074 1000h1M1074 1001h1M1075 1002h1m6 0h1M1073 1003h1m2 0h1M1071 1004h1M1070 1005h1M1072 1007h1M1068 1010h1m2 0h1m3 0h1M1069 1014h1m3 0h2M1084 1015h1M1068 1018h1M1074 1022h1M1071 1023h1M1067 1024h1m1 0h1M1067 1025h1M1065 1027h1m1 0h1M1066 1032h1"/><path stroke="#2755ab" d="M1045 813h1M1045 814h2M1040 815h1m4 0h1m1 0h2m3 0h1M1035 816h3m1 0h1m2 0h1m2 0h2m1 0h2m4 0h1M1036 817h1m1 0h1m1 0h2m2 0h1m2 0h1m1 0h2m2 0h1M1034 818h2m2 0h4m1 0h6m1 0h4m1 0h1M1035 819h13m1 0h3m1 0h1m2 0h1M1032 820h4m2 0h3m1 0h6m1 0h5m1 0h1M1031 821h1m2 0h3m1 0h1m1 0h3m1 0h4m1 0h2m1 0h4M1031 822h3m1 0h4m1 0h1m1 0h4m1 0h9m3 0h1M1032 823h1m1 0h7m1 0h1m1 0h13M1029 824h5m1 0h7m1 0h12m1 0h2M1033 825h5m1 0h17m1 0h1m1 0h1M1032 826h7m1 0h16m1 0h1m1 0h2M1030 827h3m2 0h4m1 0h5m1 0h5m1 0h9m1 0h1M1031 828h15m1 0h2m1 0h1m1 0h9m1 0h1M1030 829h16m1 0h12m1 0h1M1031 830h22m1 0h3m1 0h4M1029 831h1m2 0h3m1 0h17m2 0h7M1030 832h3m1 0h5m1 0h18m1 0h4m1 0h1M1029 833h5m1 0h26m1 0h2M1030 834h27m1 0h2m1 0h1M1029 835h3m1 0h22m1 0h3M1030 836h2m1 0h2m1 0h19m1 0h5m2 0h1M1029 837h5m1 0h25m1 0h1m1 0h1m1 0h1M1030 838h1m1 0h1m1 0h1m1 0h19m1 0h3m1 0h1m2 0h2M1030 839h4m1 0h18m1 0h7m1 0h1m3 0h1M1029 840h33m1 0h1M1031 841h22m1 0h4m1 0h3M1030 842h31m1 0h2M1029 843h33m2 0h1M1030 844h1m1 0h23m2 0h1m1 0h4M1029 845h3m1 0h24m3 0h2m1 0h1M1030 846h31m1 0h1M1030 847h2m1 0h28m1 0h1m1 0h1M1029 848h2m2 0h28m2 0h1M1031 849h30m1 0h1m1 0h1M1029 850h31m1 0h2M1029 851h1m1 0h28m1 0h3M1029 852h33M1029 853h31m1 0h1m2 0h1M1029 854h33M1030 855h28m1 0h4m1 0h1M1029 856h1m1 0h30m1 0h1M1029 857h33M1030 858h31M1030 859h29m1 0h1M1030 860h1m1 0h29m3 0h1M1030 861h33M1030 862h28m1 0h1m1 0h2m1 0h1M1031 863h30m1 0h1M1029 864h28m1 0h4m1 0h1M1029 865h27m1 0h5m3 0h1M1030 866h31m3 0h1M1031 867h30m1 0h1M1029 868h1m1 0h27M1030 869h2m1 0h26m2 0h2m1 0h1M1029 870h2m1 0h24m1 0h6M1030 871h27m1 0h1m1 0h1m1 0h1M1031 872h27m2 0h3M1030 873h29m3 0h1M1029 874h31m3 0h1M1029 875h30m2 0h1M1030 876h23m1 0h1m1 0h2m2 0h3M1030 877h24m1 0h9M1029 878h1m1 0h21m1 0h10m2 0h1M1030 879h2m1 0h28m2 0h1M1030 880h30m2 0h4M1030 881h33m1 0h1m1 0h1M1030 882h19m1 0h6m2 0h6M1029 883h4m1 0h1m1 0h2m1 0h18m1 0h4m2 0h1m1 0h1M1029 884h1m1 0h16m1 0h4m2 0h6m1 0h2m1 0h1M1030 885h1m1 0h3m1 0h10m1 0h4m1 0h2m1 0h1m1 0h9M1029 886h19m1 0h15M1030 887h7m1 0h2m1 0h7m1 0h11m1 0h4M1030 888h4m1 0h27m1 0h1M1031 889h11m1 0h4m1 0h13m1 0h2M1029 890h15m1 0h2m1 0h7m1 0h1m1 0h5m1 0h1M1030 891h2m1 0h4m1 0h17m1 0h1m1 0h4m1 0h1m2 0h1M1030 892h3m1 0h15m3 0h4m1 0h3m1 0h2m2 0h2M1031 893h8m1 0h1m2 0h18m1 0h1M1031 894h5m1 0h9m1 0h5m2 0h5m1 0h3m1 0h2M1030 895h8m1 0h7m2 0h5m1 0h4m1 0h2m3 0h2M1030 896h8m1 0h1m1 0h7m1 0h9m1 0h1m2 0h2m1 0h1M1029 897h3m1 0h2m1 0h27m2 0h1m1 0h1M1029 898h1m2 0h2m1 0h15m2 0h7m1 0h1m2 0h4m1 0h1M1030 899h1m1 0h1m1 0h9m1 0h13m1 0h8M1030 900h4m1 0h26m1 0h1m1 0h1m3 0h1m1 0h1M1030 901h2m1 0h1m1 0h3m1 0h2m1 0h3m1 0h1m2 0h8m1 0h1m2 0h3m1 0h2m1 0h1m2 0h1M1030 902h5m1 0h23m1 0h2m4 0h1M1030 903h16m1 0h3m1 0h6m1 0h2m1 0h5m2 0h1M1032 904h13m1 0h1m1 0h9m1 0h3m3 0h3M1030 905h9m1 0h2m1 0h21m1 0h2m1 0h2M1030 906h1m1 0h4m2 0h10m1 0h7m2 0h3m4 0h1m1 0h1m1 0h2M1032 907h12m2 0h11m1 0h6m2 0h1m2 0h2M1029 908h32m1 0h3m2 0h1m1 0h1M1030 909h5m1 0h4m1 0h21m1 0h3m3 0h1M1031 910h7m2 0h3m1 0h2m1 0h16m7 0h1M1029 911h3m1 0h7m1 0h3m1 0h11m1 0h5m1 0h2m1 0h4M1030 912h5m2 0h2m1 0h1m1 0h16m1 0h6m1 0h1M1032 913h9m1 0h14m1 0h5m3 0h1m1 0h2m2 0h1M1030 914h2m1 0h11m1 0h13m1 0h7m4 0h1M1030 915h7m1 0h27m1 0h1m1 0h1M1030 916h1m1 0h1m1 0h4m1 0h21m1 0h6m3 0h2M1030 917h1m1 0h1m2 0h27m1 0h3M1029 918h7m1 0h25m2 0h3m1 0h1M1031 919h1m1 0h28m1 0h4m2 0h2M1030 920h5m1 0h33m2 0h2m1 0h1M1032 921h2m1 0h8m1 0h24M1030 922h9m1 0h26m1 0h2m1 0h1m2 0h2M1030 923h3m2 0h27m1 0h4m2 0h1m1 0h1m1 0h1M1031 924h8m1 0h28m1 0h1M1032 925h35m3 0h2M1031 926h1m1 0h30m1 0h4m3 0h1m3 0h1M1030 927h35m1 0h4m1 0h1m2 0h1M1031 928h5m1 0h29m1 0h2m3 0h1M1029 929h1m1 0h5m1 0h29m2 0h1m1 0h1M1029 930h42M1030 931h3m1 0h31m4 0h1m1 0h1M1031 932h34m1 0h3m1 0h1M1030 933h35m1 0h4M1030 934h2m1 0h33m1 0h3m1 0h1M1030 935h39m2 0h1m2 0h1M1029 936h1m1 0h36m1 0h1m1 0h2M1029 937h3m1 0h35m1 0h2M1030 938h38m1 0h2M1030 939h3m1 0h34m1 0h2M1030 940h42M1030 941h40m1 0h1m3 0h1M1029 942h37m1 0h1m3 0h1M1029 943h4m1 0h36M1030 944h38m1 0h1m1 0h1m1 0h1M1031 945h39M1031 946h36m1 0h3m1 0h1m1 0h1M1031 947h37m1 0h1m2 0h2M1030 948h35m1 0h1m1 0h2m1 0h1m3 0h1M1030 949h36m1 0h3m1 0h4M1029 950h1m1 0h34m1 0h3m1 0h1m1 0h1M1030 951h35m1 0h1m1 0h5M1031 952h40m2 0h1M1029 953h40m3 0h2M1030 954h35m1 0h4m2 0h1M1029 955h38m1 0h3m2 0h1M1030 956h42m1 0h2M1030 957h40m1 0h1m2 0h1M1029 958h37m1 0h1m6 0h1M1030 959h41m1 0h1M1030 960h41m2 0h1M1029 961h37m1 0h2m1 0h3M1030 962h41M1030 963h36m1 0h3M1029 964h40m3 0h1M1030 965h37m1 0h1m1 0h1m1 0h1m1 0h1M1029 966h39m1 0h2m1 0h2M1029 967h39m1 0h2m2 0h1m1 0h1M1029 968h2m1 0h36m1 0h1m1 0h1m3 0h1M1030 969h1m1 0h36m1 0h3m3 0h1M1029 970h1m2 0h37m1 0h4M1029 971h38m2 0h4m1 0h1m1 0h1M1030 972h37m2 0h1m2 0h1m1 0h3M1030 973h36m1 0h1m2 0h2M1030 974h36m1 0h3m1 0h2M1030 975h38m1 0h1M1030 976h34m2 0h5M1029 977h41M1030 978h33m1 0h4m1 0h3M1029 979h38m1 0h1M1030 980h34m2 0h1M1030 981h36m1 0h1m1 0h3M1029 982h38m2 0h3M1030 983h32m1 0h3m2 0h1M1030 984h35m1 0h4M1029 985h34m2 0h2m1 0h3m1 0h1M1029 986h32m1 0h3m1 0h1m6 0h1M1029 987h38m1 0h2m1 0h1m1 0h1M1029 988h2m1 0h33m1 0h1m1 0h3m2 0h1M1030 989h1m1 0h36m1 0h1m1 0h1M1030 990h38m1 0h1m2 0h1M1031 991h31m1 0h2m1 0h1m2 0h1m1 0h1M1029 992h35m1 0h5M1030 993h37m1 0h1M1030 994h36m5 0h1M1030 995h2m1 0h28m1 0h1m1 0h3m1 0h1m1 0h1M1030 996h34m1 0h3m1 0h4M1029 997h35m2 0h1m3 0h1M1029 998h3m1 0h29m1 0h7M1029 999h34m4 0h1m2 0h1M1030 1000h33m3 0h3M1029 1001h3m1 0h27m1 0h4m4 0h3m1 0h1M1029 1002h31m1 0h1m3 0h2m1 0h3M1029 1003h1m1 0h5m1 0h28m4 0h1M1030 1004h5m1 0h25m1 0h1m1 0h2m1 0h2M1029 1005h35m2 0h2M1029 1006h1m1 0h32m1 0h1M1030 1007h30m1 0h2m1 0h1m1 0h3M1030 1008h30m1 0h3M1032 1009h1m1 0h28m3 0h1M1029 1010h1m1 0h27m1 0h1m1 0h6M1030 1011h34m1 0h1m1 0h1M1030 1012h7m1 0h1m1 0h25m1 0h1M1029 1013h6m1 0h1m1 0h24m1 0h2m2 0h1M1029 1014h4m1 0h29m1 0h1M1030 1015h14m1 0h19m1 0h1M1030 1016h1m1 0h9m1 0h1m1 0h8m1 0h13M1029 1017h4m1 0h18m1 0h4m1 0h5m3 0h1M1029 1018h3m1 0h2m1 0h28M1030 1019h9m1 0h9m1 0h4m1 0h3m1 0h1m1 0h2M1031 1020h2m1 0h13m1 0h14M1030 1021h2m1 0h7m1 0h20m1 0h1M1031 1022h4m1 0h24m5 0h1M1029 1023h32m3 0h2M1029 1024h12m1 0h21m2 0h1M1030 1025h1m1 0h14m1 0h7m3 0h2m1 0h3M1030 1026h3m1 0h5m1 0h13m1 0h2m1 0h3m1 0h1M1032 1027h6m1 0h9m2 0h8m4 0h2M1029 1028h4m3 0h3m4 0h7m1 0h9m2 0h2M1029 1029h1m2 0h8m1 0h6m1 0h7m1 0h3m1 0h1m1 0h1M1030 1030h17m1 0h7m1 0h4M1031 1031h17m1 0h6m1 0h5M1030 1032h4m2 0h2m1 0h3m1 0h5m1 0h1m1 0h6m2 0h1"/><path stroke="#3178cc" d="M1047 830h1M1040 831h1m5 0h3M1040 832h10M1040 833h10M1039 834h12M1038 835h14M1037 836h15M1037 837h15M1036 838h16M1035 839h18M1034 840h19M1034 841h19M1033 842h20M1033 843h21M1033 844h21M1033 845h21M1033 846h23M1033 847h24M1033 848h24M1033 849h25M1033 850h25M1033 851h24M1032 852h25M1032 853h25M1032 854h25M1032 855h25M1032 856h24M1032 857h24M1032 858h24M1032 859h24M1032 860h24M1032 861h24M1032 862h25M1032 863h25M1032 864h25M1032 865h24M1032 866h24M1032 867h24M1033 868h22M1033 869h22M1033 870h21M1033 871h20M1033 872h20M1033 873h19M1033 874h19M1033 875h19M1033 876h19M1034 877h18M1034 878h18M1035 879h13m1 0h2M1035 880h12M1036 881h11M1037 882h10M1041 883h6M1042 884h5M1044 885h2M1051 911h2M1050 912h4M1046 913h1m2 0h5M1045 914h11m1 0h1M1044 915h15M1043 916h17M1043 917h17M1044 918h16M1044 919h16M1044 920h16M1044 921h17M1044 922h17M1044 923h17M1043 924h18M1043 925h18M1042 926h20M1041 927h21M1040 928h23M1039 929h24M1039 930h24M1036 931h27M1035 932h28M1035 933h29M1035 934h29M1035 935h29M1035 936h29M1036 937h28M1036 938h28M1035 939h29M1035 940h30M1035 941h30M1035 942h30M1034 943h31M1033 944h32M1033 945h32M1033 946h32M1033 947h32M1033 948h32M1033 949h31M1033 950h31M1033 951h31M1033 952h31M1033 953h32M1033 954h32M1033 955h32M1032 956h33M1032 957h33M1032 958h33M1032 959h33M1031 960h34M1031 961h34M1031 962h33M1031 963h33M1032 964h32M1032 965h33M1032 966h33M1032 967h33M1032 968h33M1032 969h32M1032 970h32M1032 971h32M1032 972h32M1032 973h32M1032 974h31M1032 975h31M1032 976h31M1032 977h31M1032 978h31M1032 979h31M1032 980h30M1032 981h30M1032 982h30M1033 983h29M1033 984h29M1033 985h28M1033 986h28M1033 987h28M1033 988h28M1033 989h28M1033 990h28M1033 991h28M1033 992h28M1034 993h26M1034 994h26M1033 995h27M1033 996h27M1033 997h26M1033 998h26M1033 999h25M1034 1000h24M1035 1001h23M1036 1002h22M1037 1003h21M1039 1004h19M1038 1005h20M1036 1006h22M1036 1007h21M1038 1008h19M1039 1009h18M1039 1010h18M1040 1011h17M1041 1012h16M1042 1013h15M1046 1014h11M1046 1015h10M1046 1016h6M1046 1017h4"/><path stroke="#3c9fdc" d="M1045 834h2M1043 835h6M1042 836h8M1039 837h12M1038 838h13M1037 839h14M1036 840h16M1035 841h17M1035 842h17M1034 843h18M1034 844h19M1034 845h19M1034 846h20M1034 847h21M1034 848h22M1034 849h22M1034 850h22M1034 851h22M1033 852h23M1033 853h22M1033 854h22M1032 855h23M1033 856h21M1033 857h21M1033 858h21M1033 859h21M1033 860h22M1033 861h22M1033 862h22M1033 863h23M1033 864h22M1033 865h22M1033 866h22M1034 867h20M1034 868h19M1034 869h18M1034 870h18M1034 871h17M1034 872h17M1034 873h17M1034 874h16M1035 875h15M1035 876h13M1036 877h10M1036 878h10M1037 879h9M1038 880h7M1041 881h4M1043 882h2M1050 915h4M1050 916h4M1049 917h6M1049 918h9M1049 919h10M1047 920h12M1046 921h14M1045 922h15M1045 923h15M1045 924h15M1045 925h15M1045 926h15M1043 927h18M1042 928h19M1042 929h20M1041 930h21M1041 931h21M1041 932h22M1040 933h23M1040 934h23M1039 935h24M1038 936h25M1038 937h25M1038 938h25M1038 939h26M1038 940h26M1037 941h27M1037 942h27M1037 943h27M1036 944h28M1036 945h28M1035 946h29M1034 947h30M1035 948h29M1035 949h29M1035 950h29M1035 951h28M1035 952h28M1035 953h29M1035 954h29M1035 955h29M1034 956h30M1034 957h30M1033 958h31M1033 959h31M1032 960h32M1032 961h31M1032 962h31M1033 963h30M1033 964h30M1033 965h31M1033 966h31M1033 967h31M1033 968h31M1033 969h30M1033 970h30M1033 971h30M1033 972h30M1033 973h30M1033 974h29M1033 975h29M1033 976h29M1033 977h29M1033 978h29M1033 979h29M1034 980h27M1034 981h27M1034 982h27M1034 983h27M1034 984h27M1034 985h27M1034 986h26M1035 987h25M1034 988h26M1034 989h26M1034 990h26M1034 991h26M1035 992h24M1036 993h23M1036 994h23M1036 995h23M1035 996h23M1034 997h24M1034 998h23M1036 999h21M1037 1000h20M1039 1001h17M1040 1002h16M1041 1003h15M1043 1004h12M1044 1005h10M1045 1006h8M1044 1007h8M1044 1008h8M1045 1009h7M1045 1010h8M1046 1011h7M1048 1012h5M1049 1013h1M1049 1014h1"/><path stroke="#48b7cf" d="M1045 836h2M1043 837h5M1040 838h9M1039 839h10M1038 840h12M1037 841h14M1036 842h15M1036 843h15M1035 844h17M1035 845h17M1035 846h17M1035 847h18M1035 848h18M1035 849h19M1035 850h19M1035 851h19M1035 852h19M1034 853h19M1034 854h19M1034 855h19M1034 856h19M1034 857h18M1034 858h18M1034 859h18M1034 860h19M1033 861h21M1033 862h21M1033 863h21M1034 864h20M1034 865h20M1035 866h18M1035 867h17M1035 868h16M1035 869h15M1036 870h14M1036 871h14M1036 872h14M1036 873h13M1037 874h11M1038 875h8M1039 876h5M1040 877h4M1041 878h2M1052 918h1M1051 919h3M1051 920h6M1050 921h8M1048 922h10M1047 923h12M1047 924h12M1047 925h12M1047 926h12M1046 927h14M1044 928h16M1043 929h18M1043 930h18M1043 931h18M1043 932h18M1043 933h19M1042 934h20M1042 935h20M1041 936h21M1040 937h23M1040 938h23M1040 939h23M1040 940h23M1039 941h24M1039 942h25M1039 943h24M1039 944h24M1038 945h25M1038 946h25M1037 947h26M1037 948h26M1037 949h26M1037 950h26M1037 951h26M1037 952h26M1037 953h26M1037 954h26M1037 955h26M1036 956h27M1036 957h27M1036 958h27M1035 959h28M1034 960h29M1034 961h28M1034 962h28M1034 963h28M1034 964h29M1034 965h29M1034 966h29M1034 967h29M1034 968h29M1034 969h28M1035 970h27M1035 971h27M1035 972h27M1035 973h27M1034 974h27M1035 975h26M1035 976h26M1036 977h25M1036 978h25M1036 979h25M1037 980h24M1036 981h24M1036 982h24M1036 983h24M1036 984h24M1036 985h24M1036 986h24M1036 987h23M1036 988h23M1036 989h23M1036 990h23M1036 991h22M1037 992h21M1037 993h21M1037 994h21M1038 995h19M1039 996h18M1039 997h17M1040 998h15M1041 999h14M1041 1000h14M1043 1001h12M1044 1002h10M1045 1003h8"/><path stroke="#58bd7a" d="M1043 839h3M1041 840h6M1040 841h8M1040 842h9M1038 843h12M1037 844h13M1036 845h15M1036 846h15M1036 847h16M1036 848h16M1035 849h17M1036 850h16M1036 851h16M1036 852h16M1035 853h17M1035 854h17M1035 855h17M1035 856h16M1035 857h16M1035 858h16M1035 859h16M1035 860h16M1034 861h18M1034 862h18M1034 863h18M1035 864h17M1036 865h16M1036 866h16M1037 867h14M1037 868h12M1037 869h12M1038 870h10M1038 871h10M1038 872h10M1038 873h9M1039 874h5M1051 924h4M1050 925h6M1049 926h8M1049 927h8M1048 928h10M1047 929h12M1046 930h13M1045 931h14M1045 932h14M1045 933h15M1045 934h15M1045 935h16M1044 936h17M1044 937h18M1043 938h19M1042 939h20M1041 940h21M1041 941h22M1041 942h22M1041 943h21M1041 944h21M1041 945h21M1041 946h21M1039 947h23M1039 948h23M1039 949h23M1039 950h23M1039 951h23M1039 952h23M1039 953h23M1039 954h23M1039 955h23M1039 956h23M1038 957h24M1037 958h25M1037 959h25M1037 960h25M1037 961h25M1037 962h24M1037 963h25M1037 964h25M1036 965h26M1036 966h26M1036 967h26M1036 968h26M1036 969h25M1037 970h24M1037 971h24M1037 972h24M1037 973h23M1037 974h23M1037 975h23M1037 976h23M1038 977h22M1038 978h22M1038 979h22M1038 980h21M1038 981h21M1038 982h21M1038 983h21M1037 984h22M1037 985h22M1038 986h20M1038 987h20M1039 988h18M1039 989h18M1039 990h17M1039 991h17M1039 992h16M1039 993h16M1039 994h15M1040 995h14M1041 996h13M1042 997h12M1043 998h11M1044 999h4m3 0h2"/><path stroke="#6cc344" d="M1043 843h1M1041 844h4M1040 845h5M1039 846h6M1038 847h8M1037 848h12M1037 849h12M1037 850h13M1037 851h13M1037 852h13M1038 853h11M1038 854h11M1038 855h11M1037 856h12M1037 857h12M1037 858h12M1037 859h12M1037 860h12M1037 861h12M1037 862h13M1037 863h13M1038 864h12M1039 865h10M1039 866h9M1040 867h8M1040 868h7M1040 869h7M1040 870h6M1040 871h6M1041 872h3M1052 929h3M1051 930h5M1050 931h6M1049 932h8M1048 933h10M1048 934h10M1047 935h12M1047 936h12M1047 937h13M1046 938h15M1045 939h16M1044 940h17M1043 941h18M1043 942h18M1043 943h17M1043 944h17M1043 945h17M1043 946h17M1042 947h19M1041 948h20M1041 949h20M1041 950h20M1041 951h20M1041 952h20M1041 953h20M1041 954h20M1041 955h20M1041 956h20M1040 957h21M1040 958h21M1039 959h22M1039 960h21M1039 961h21M1039 962h21M1039 963h21M1040 964h20M1040 965h21M1040 966h21M1040 967h21M1040 968h20M1040 969h20M1040 970h19M1040 971h19M1040 972h19M1040 973h19M1040 974h18M1040 975h18M1039 976h19M1039 977h19M1039 978h19M1040 979h17M1040 980h17M1040 981h16M1040 982h15M1040 983h15M1040 984h14M1040 985h14M1040 986h14M1041 987h13M1041 988h13M1042 989h11M1043 990h1"/><path stroke="#a5cf28" d="M1043 851h4M1043 852h4M1041 853h5M1041 854h5M1040 855h7M1040 856h7M1039 857h8M1039 858h8M1039 859h8M1040 860h7M1040 861h7M1040 862h7M1042 863h4M1043 864h2M1050 934h5M1050 935h6M1049 936h7M1049 937h8M1048 938h10M1048 939h11M1047 940h12M1046 941h13M1046 942h13M1045 943h13M1045 944h13M1045 945h13M1045 946h13M1044 947h15M1043 948h16M1043 949h17M1043 950h17M1042 951h18M1042 952h18M1042 953h18M1042 954h18M1043 955h17M1043 956h17M1042 957h18M1042 958h18M1041 959h18M1041 960h18M1041 961h18M1041 962h18M1042 963h17M1042 964h17M1042 965h17M1042 966h17M1042 967h17M1042 968h16M1042 969h16M1042 970h16M1042 971h16M1042 972h15M1042 973h15M1042 974h15M1042 975h15M1041 976h15M1041 977h15M1041 978h14M1042 979h13M1042 980h12M1043 981h10M1044 982h9M1044 983h8M1045 984h7M1045 985h7M1048 986h4M1049 987h3"/><path stroke="#d8d81f" d="M1050 940h4M1049 941h7M1048 942h8M1048 943h9M1048 944h9M1047 945h10M1047 946h10M1046 947h11M1045 948h12M1045 949h13M1045 950h14M1045 951h14M1045 952h14M1044 953h15M1044 954h15M1044 955h15M1044 956h15M1044 957h14M1043 958h15M1043 959h15M1043 960h15M1043 961h15M1043 962h15M1044 963h14M1044 964h13M1043 965h14M1043 966h14M1043 967h14M1043 968h14M1043 969h14M1043 970h13M1043 971h13M1043 972h13M1043 973h13M1043 974h12M1043 975h12M1044 976h10M1044 977h10M1045 978h8M1045 979h7M1046 980h6M1047 981h4"/><path stroke="#f6c01c" d="M1051 943h3M1050 944h5M1050 945h5M1049 946h6M1049 947h6M1048 948h8M1047 949h10M1047 950h10M1047 951h10M1047 952h11M1047 953h11M1046 954h11M1046 955h11M1046 956h11M1045 957h12M1045 958h12M1045 959h12M1045 960h12M1045 961h12M1045 962h11M1045 963h11M1045 964h11M1045 965h11M1045 966h10M1045 967h10M1045 968h10M1045 969h10M1045 970h10M1045 971h10M1045 972h9M1045 973h9M1045 974h8M1045 975h7M1046 976h6M1046 977h5M1047 978h4M1048 979h2"/><path stroke="#f7981e" d="M1051 948h3M1050 949h5M1049 950h7M1049 951h7M1049 952h7M1048 953h8M1048 954h8M1048 955h8M1047 956h9M1047 957h9M1046 958h9M1046 959h9M1046 960h9M1046 961h9M1046 962h9M1046 963h9M1046 964h8M1046 965h8M1046 966h8M1046 967h8M1046 968h8M1047 969h6M1047 970h6M1047 971h6M1047 972h5M1048 973h3M1048 974h2"/><path stroke="#f46a22" d="M1052 951h1M1052 952h2M1051 953h3M1050 954h4M1049 955h5M1049 956h5M1048 957h6M1048 958h6M1048 959h6M1048 960h6M1048 961h5M1048 962h5M1048 963h5M1048 964h5M1048 965h4M1048 966h4M1048 967h3M1049 968h1"/><path stroke="#fff" d="M1046 831h1M1040 832h1M1036 839h1m15 0h1M1049 843h1M1033 844h1m13 0h1M1051 845h1M1036 847h1m18 0h1M1054 850h1M1035 852h1m5 0h1m14 0h1M1038 858h1M1052 860h1M1044 862h1m1 0h1M1042 865h1m12 0h1M1047 866h1m2 0h1M1055 867h1M1045 869h1M1035 870h1m13 0h1M1050 872h1M1045 873h1M1036 877h1M1045 878h1m2 0h1M1040 879h1M1035 880h1M1047 914h1M1043 916h2M1051 917h1M1045 920h1M1052 921h1m4 0h1M1048 922h2M1053 923h1m6 0h1M1059 924h1M1052 925h1M1057 926h1M1041 928h1m20 0h1M1056 932h1M1037 933h1M1046 934h2m5 0h1M1040 935h1M1038 936h1M1036 937h1m12 0h1M1042 938h1m9 0h1M1051 939h1M1035 940h1m11 0h1m3 0h1m10 0h2M1053 941h1M1036 942h2M1042 943h1m11 0h2M1053 945h1m3 0h1M1063 946h1M1036 947h1m24 0h1M1060 948h1m2 0h1M1052 949h1M1035 950h1M1042 951h1M1038 952h1M1034 954h1m9 0h1m2 0h1m4 0h2M1036 955h1m22 0h1M1048 956h1m1 0h1M1058 958h1M1041 962h1m1 0h1m1 0h1M1045 965h1m18 0h1M1032 966h1M1037 968h1m12 0h1m7 0h1M1060 969h1M1040 971h1M1045 973h1M1038 974h1m6 0h1m16 0h1M1062 976h1M1037 977h1M1033 978h1m12 0h1M1059 979h1M1032 980h1M1056 983h1M1034 984h1m14 0h1M1044 985h1M1035 986h1m6 0h1m8 0h1M1060 987h1M1034 990h1m5 0h1M1054 992h1m4 0h1M1042 993h1M1035 994h1m19 0h1M1059 995h1M1047 996h1M1049 997h1M1042 998h1M1052 999h1M1034 1000h1m1 0h2M1044 1004h1M1042 1005h1M1039 1006h1m14 0h1M1050 1007h1m3 0h1M1043 1008h1m12 0h1M1042 1010h1m8 0h1M1049 1011h1M1053 1013h1M1055 1014h1M1053 1015h1M1047 1016h1m2 0h1M1046 1017h1"/></g>
<path d="M874.5 765.4H1142.85" stroke="#858585" stroke-width="0.9" fill="none"/>
<path d="M1142.45 765.4V1033.4" stroke="#858585" stroke-width="0.95" fill="none"/>
<path d="M874.5 765.4V1033.8M874.1 1033.4H1142.85" stroke="#3a3a3a" stroke-width="0.85" fill="none"/>
<path d="M867.1 1032.3H874.8M875.7 1033.2V1040.6M867.1 979.2H874.8M927.95 1033.2V1040.6M867.1 925.75H874.8M981.4 1033.2V1040.6M867.1 872.3H874.8M1034.85 1033.2V1040.6M867.1 818.85H874.8M1088.3 1033.2V1040.6M867.1 766.7H874.8M1141.15 1033.2V1040.6" stroke="#000" stroke-width="1.6" fill="none"/>
<path d="M869.2 995.29H874.5M911.86 1033.4V1038.7M869.2 941.84H874.5M965.31 1033.4V1038.7M869.2 888.39H874.5M1018.76 1033.4V1038.7M869.2 834.94H874.5M1072.21 1033.4V1038.7M869.2 781.49H874.5M1125.66 1033.4V1038.7" stroke="#000" stroke-width="1.3" fill="none"/>
<path d="M870.8 1016.56H874.5M890.59 1033.4V1037.1M870.8 1007.15H874.5M900 1033.4V1037.1M870.8 1000.47H874.5M906.68 1033.4V1037.1M870.8 991.06H874.5M916.09 1033.4V1037.1M870.8 987.48H874.5M919.67 1033.4V1037.1M870.8 984.38H874.5M922.77 1033.4V1037.1M870.8 981.65H874.5M925.5 1033.4V1037.1M870.8 963.11H874.5M944.04 1033.4V1037.1M870.8 953.7H874.5M953.45 1033.4V1037.1M870.8 947.02H874.5M960.13 1033.4V1037.1M870.8 937.61H874.5M969.54 1033.4V1037.1M870.8 934.03H874.5M973.12 1033.4V1037.1M870.8 930.93H874.5M976.22 1033.4V1037.1M870.8 928.2H874.5M978.95 1033.4V1037.1M870.8 909.66H874.5M997.49 1033.4V1037.1M870.8 900.25H874.5M1006.9 1033.4V1037.1M870.8 893.57H874.5M1013.58 1033.4V1037.1M870.8 884.16H874.5M1022.99 1033.4V1037.1M870.8 880.58H874.5M1026.57 1033.4V1037.1M870.8 877.48H874.5M1029.67 1033.4V1037.1M870.8 874.75H874.5M1032.4 1033.4V1037.1M870.8 856.21H874.5M1050.94 1033.4V1037.1M870.8 846.8H874.5M1060.35 1033.4V1037.1M870.8 840.12H874.5M1067.03 1033.4V1037.1M870.8 830.71H874.5M1076.44 1033.4V1037.1M870.8 827.13H874.5M1080.02 1033.4V1037.1M870.8 824.03H874.5M1083.12 1033.4V1037.1M870.8 821.3H874.5M1085.85 1033.4V1037.1M870.8 802.76H874.5M1104.39 1033.4V1037.1M870.8 793.35H874.5M1113.8 1033.4V1037.1M870.8 786.67H874.5M1120.48 1033.4V1037.1M870.8 777.26H874.5M1129.89 1033.4V1037.1M870.8 773.68H874.5M1133.47 1033.4V1037.1M870.8 770.58H874.5M1136.57 1033.4V1037.1M870.8 767.85H874.5M1139.3 1033.4V1037.1" stroke="#000" stroke-width="1.3" fill="none"/>
<g><text x="851.6" y="1031.5" text-anchor="end">10</text><text x="852.4" y="1017">0</text><text x="879.5" y="1080.45">10</text><text x="900.8" y="1065.85">0</text><text x="851.6" y="991.3" text-anchor="end">10</text><text x="852.4" y="976.7">1</text><text x="918.35" y="1080.45">10</text><text x="939.65" y="1065.85">1</text><text x="851.6" y="937.85" text-anchor="end">10</text><text x="852.4" y="923.25">2</text><text x="971.8" y="1080.45">10</text><text x="993.1" y="1065.85">2</text><text x="851.6" y="884.4" text-anchor="end">10</text><text x="852.4" y="869.8">3</text><text x="1025.25" y="1080.45">10</text><text x="1046.55" y="1065.85">3</text><text x="851.6" y="830.95" text-anchor="end">10</text><text x="852.4" y="816.35">4</text><text x="1078.7" y="1080.45">10</text><text x="1100" y="1065.85">4</text><text x="851.6" y="799.4" text-anchor="end">10</text><text x="852.4" y="785">5</text><text x="1111.5" y="1080.45">10</text><text x="1132.8" y="1065.85">5</text></g>
<text x="1008.12" y="1091.2" text-anchor="middle">FSC-A</text>
<text transform="translate(836 898) rotate(-90)" text-anchor="middle">Dapi</text>
<path d="M969 1033.4V889.3H1086.3V1033.4" fill="none" stroke="#000" stroke-width="1.5"/>
<path d="M1031.5 1032.9H1064.5" stroke="#d8564a" stroke-width="1.3" fill="none"/>
<text x="910" y="840.4">76,0</text>
</g>
<g id="p23">
<g class="d" transform="translate(0 0.5)"><path stroke="#7f90bb" d="M1413 826h1M1390 827h1m9 0h1M1412 829h1m1 0h1M1335 830h1m6 0h1m85 0h1M1300 831h1m72 0h1m2 0h1M1294 832h1m21 0h1m27 0h1m6 0h1m7 0h1m12 0h1m50 0h1M1337 833h1m10 0h1m31 0h1m31 0h1m3 0h1m6 0h1M1319 834h1m2 0h1m54 0h1m6 0h1m29 0h1M1256 835h1m38 0h1m6 0h1m69 0h1m2 0h1m33 0h1m5 0h1M1288 836h1m1 0h1m12 0h1m80 0h1m5 0h1m7 0h1m17 0h1M1268 837h1m141 0h1m5 0h1M1402 838h2m1 0h1m5 0h1m2 0h2m4 0h1m2 0h1m1 0h1M1280 839h1m137 0h1m2 0h1M1244 840h1m24 0h1m3 0h1m2 0h3m136 0h1M1247 841h1m10 0h1m4 0h2m154 0h1m13 0h1m2 0h1M1237 842h1m11 0h1m7 0h1m159 0h1m4 0h1m3 0h1M1247 843h1m2 0h1m172 0h1M1244 844h1m178 0h1M1453 845h1M1238 846h1m185 0h2m5 0h1M1423 847h1m5 0h1M1421 848h1m4 0h1m5 0h1M1427 851h1M1427 853h1m9 0h1M1424 854h1M1431 855h1M1426 856h1m2 0h1M1445 858h1M1427 859h1m4 0h1M1422 860h1M1420 862h1M1236 863h1m182 0h1m4 0h1m6 0h1M1441 864h1M1237 865h1m191 0h1M1416 867h1m3 0h1m5 0h1M1237 869h2m172 0h1m2 0h1M1237 870h1m169 0h1m6 0h1M1236 871h1m175 0h1m4 0h1m7 0h1M1237 873h1m167 0h1M1417 874h1M1404 875h1M1411 876h1M1237 877h1"/><path stroke="#2755ab" d="M1344 833h1m16 0h1M1337 834h1m10 0h1m4 0h3m1 0h2m1 0h1m3 0h1M1310 835h1m8 0h1m5 0h1m1 0h1m1 0h3m2 0h1m1 0h1m3 0h1m2 0h4m2 0h2m3 0h1m5 0h1m1 0h1m5 0h1M1306 836h1m3 0h2m4 0h1m1 0h1m3 0h1m5 0h1m1 0h2m3 0h1m1 0h1m1 0h1m1 0h1m3 0h2m1 0h3m2 0h7m1 0h1m1 0h2m3 0h1M1289 837h1m15 0h1m2 0h1m3 0h2m1 0h1m1 0h1m2 0h2m2 0h2m1 0h3m3 0h4m1 0h8m1 0h2m2 0h1m1 0h2m2 0h1m2 0h1m2 0h5m1 0h1m1 0h2m3 0h1m5 0h1m11 0h1M1288 838h1m4 0h1m5 0h2m6 0h1m1 0h3m1 0h1m1 0h1m1 0h1m3 0h5m2 0h9m1 0h1m1 0h1m1 0h14m2 0h5m1 0h4m2 0h2m1 0h2m3 0h1m1 0h1m2 0h1m1 0h1m1 0h1m1 0h1m1 0h1m3 0h1m1 0h1m2 0h1M1289 839h3m1 0h1m1 0h1m2 0h1m2 0h4m1 0h3m1 0h5m1 0h6m1 0h1m1 0h15m1 0h2m2 0h1m1 0h18m1 0h5m2 0h5m2 0h2m5 0h1m1 0h2m2 0h2m4 0h1m7 0h2M1285 840h1m3 0h1m4 0h1m2 0h4m1 0h2m1 0h3m1 0h7m1 0h9m1 0h17m1 0h2m1 0h7m1 0h2m1 0h16m2 0h3m1 0h5m2 0h3m3 0h4m1 0h2m1 0h1m2 0h1m1 0h1m1 0h1m2 0h2m4 0h1M1276 841h1m3 0h1m1 0h1m1 0h1m1 0h1m1 0h1m1 0h2m1 0h4m1 0h1m1 0h4m1 0h5m1 0h23m1 0h9m1 0h3m1 0h1m1 0h8m1 0h4m1 0h2m1 0h3m1 0h2m2 0h8m1 0h1m1 0h1m2 0h6m1 0h1m1 0h2m4 0h1m4 0h3M1271 842h1m10 0h2m1 0h1m2 0h2m1 0h2m1 0h1m2 0h4m1 0h1m1 0h1m1 0h1m2 0h7m1 0h15m1 0h4m1 0h16m1 0h14m1 0h6m1 0h2m1 0h3m1 0h3m2 0h2m1 0h1m1 0h1m2 0h3m2 0h1m3 0h1m1 0h1m2 0h1M1259 843h1m4 0h1m1 0h1m1 0h1m1 0h1m1 0h2m1 0h1m3 0h1m1 0h1m1 0h29m1 0h5m1 0h8m1 0h36m1 0h14m2 0h4m1 0h3m1 0h2m1 0h7m1 0h1m5 0h3m1 0h1m1 0h1M1254 844h1m3 0h1m3 0h1m5 0h1m2 0h1m1 0h1m2 0h5m1 0h2m1 0h3m1 0h6m1 0h3m1 0h18m2 0h67m1 0h5m1 0h1m1 0h2m2 0h2m1 0h1m5 0h1m2 0h1m5 0h2M1247 845h1m11 0h2m1 0h6m2 0h4m1 0h8m1 0h8m1 0h2m1 0h92m1 0h2m1 0h5m1 0h1m2 0h1m2 0h3m1 0h1m2 0h2m3 0h3m4 0h1M1240 846h1m2 0h2m1 0h2m2 0h2m1 0h1m1 0h1m3 0h2m1 0h1m2 0h8m2 0h2m1 0h3m1 0h5m2 0h4m1 0h10m1 0h89m1 0h1m1 0h4m1 0h6m1 0h3m2 0h1m1 0h2M1242 847h5m7 0h4m1 0h6m1 0h1m1 0h3m1 0h5m1 0h4m1 0h5m1 0h3m1 0h93m1 0h6m2 0h13m1 0h2m9 0h1M1239 848h2m1 0h3m1 0h1m1 0h2m2 0h3m1 0h2m2 0h1m1 0h7m1 0h8m4 0h110m1 0h3m2 0h7m1 0h1m2 0h2m1 0h3M1237 849h2m1 0h3m3 0h1m1 0h1m1 0h1m1 0h2m1 0h2m1 0h1m2 0h4m1 0h6m1 0h3m1 0h4m1 0h4m2 0h5m1 0h1m1 0h96m1 0h1m1 0h2m1 0h5m1 0h1m4 0h3m1 0h4m1 0h1M1238 850h2m1 0h2m5 0h1m4 0h10m1 0h8m1 0h5m1 0h1m1 0h4m1 0h112m1 0h5m1 0h7m1 0h3m2 0h2M1236 851h1m3 0h1m2 0h1m1 0h3m4 0h2m2 0h4m1 0h2m2 0h3m1 0h15m1 0h6m1 0h115m4 0h3m1 0h2m4 0h1M1237 852h3m2 0h3m2 0h3m1 0h2m2 0h10m1 0h16m1 0h110m1 0h1m1 0h12m2 0h2m1 0h6M1242 853h3m5 0h1m3 0h1m3 0h12m1 0h9m1 0h1m1 0h9m1 0h1m1 0h108m1 0h8m3 0h2m1 0h1M1237 854h2m1 0h1m5 0h3m3 0h2m1 0h11m2 0h20m1 0h109m2 0h4m1 0h3m2 0h2m2 0h2m2 0h2m2 0h2M1239 855h2m6 0h3m2 0h2m1 0h8m2 0h3m3 0h12m1 0h5m1 0h120m2 0h1m3 0h6M1236 856h1m1 0h1m7 0h3m1 0h1m5 0h19m2 0h125m1 0h4m1 0h3m2 0h1m1 0h1m1 0h6M1237 857h1m2 0h1m1 0h3m2 0h1m1 0h2m1 0h2m1 0h3m1 0h8m1 0h3m1 0h149M1238 858h1m1 0h1m1 0h1m1 0h1m1 0h1m3 0h4m1 0h5m1 0h7m1 0h8m1 0h16m1 0h107m1 0h4m2 0h1m5 0h1m2 0h1m2 0h3M1237 859h3m1 0h1m5 0h1m1 0h1m1 0h7m1 0h20m1 0h3m1 0h10m1 0h103m2 0h4m1 0h1m1 0h4m1 0h2m1 0h1m1 0h1m2 0h1m2 0h1M1242 860h1m1 0h1m5 0h5m1 0h7m1 0h12m1 0h8m1 0h8m1 0h107m1 0h9m2 0h1M1237 861h1m3 0h1m4 0h3m1 0h4m2 0h9m1 0h27m1 0h112m1 0h1m1 0h1m1 0h3m4 0h1M1238 862h1m2 0h1m1 0h1m3 0h2m1 0h1m1 0h25m1 0h2m1 0h6m1 0h120m1 0h3m1 0h1m1 0h3M1238 863h4m1 0h4m1 0h1m1 0h1m1 0h12m1 0h1m1 0h5m1 0h3m2 0h126m1 0h1m2 0h1m5 0h4M1241 864h1m1 0h1m2 0h1m1 0h1m1 0h2m1 0h3m2 0h9m1 0h2m1 0h118m1 0h1m1 0h3m1 0h7m1 0h3m1 0h2m6 0h1M1239 865h1m1 0h3m3 0h3m1 0h8m1 0h13m1 0h132m3 0h2m1 0h1m2 0h2M1238 866h2m1 0h1m4 0h5m1 0h7m1 0h7m1 0h12m1 0h4m1 0h3m1 0h107m1 0h9m3 0h1m1 0h1m3 0h1M1241 867h2m2 0h1m1 0h3m1 0h4m1 0h8m1 0h3m1 0h3m2 0h9m1 0h108m1 0h9m1 0h2m4 0h3m1 0h1M1244 868h2m1 0h1m1 0h1m1 0h14m1 0h10m1 0h6m1 0h7m1 0h94m1 0h13m3 0h3M1241 869h1m6 0h7m1 0h15m1 0h7m1 0h5m1 0h7m1 0h101m2 0h2m2 0h2m1 0h1M1240 870h1m3 0h4m4 0h1m1 0h2m1 0h2m1 0h1m1 0h1m1 0h6m1 0h1m1 0h26m1 0h13m1 0h1m1 0h7m1 0h19m1 0h8m1 0h1m1 0h1m1 0h1m2 0h2m1 0h23m1 0h16m1 0h2M1239 871h1m1 0h1m1 0h1m1 0h2m2 0h1m1 0h8m1 0h2m1 0h5m4 0h2m1 0h11m1 0h7m1 0h3m1 0h1m1 0h17m1 0h24m1 0h6m1 0h2m1 0h18m1 0h9m1 0h16m1 0h3m3 0h1M1238 872h2m1 0h1m2 0h1m2 0h3m4 0h1m1 0h8m1 0h1m1 0h14m1 0h1m1 0h1m2 0h2m1 0h3m1 0h5m1 0h2m1 0h14m1 0h24m1 0h4m1 0h5m1 0h6m1 0h3m1 0h3m1 0h2m1 0h18m1 0h4m1 0h5m1 0h1M1239 873h4m3 0h1m1 0h1m1 0h4m3 0h1m1 0h13m1 0h1m1 0h6m1 0h12m2 0h11m1 0h9m1 0h9m1 0h4m1 0h2m2 0h3m1 0h12m1 0h7m1 0h3m1 0h11m1 0h8m1 0h1m2 0h5m1 0h2m2 0h2M1240 874h1m6 0h4m3 0h1m1 0h5m1 0h2m2 0h5m1 0h3m1 0h20m1 0h4m1 0h8m2 0h1m1 0h6m1 0h17m1 0h3m1 0h2m1 0h2m2 0h2m1 0h3m3 0h2m1 0h2m3 0h1m1 0h15m1 0h1m1 0h1m1 0h6m3 0h1m3 0h1M1241 875h1m1 0h1m1 0h1m6 0h1m1 0h3m2 0h11m1 0h1m1 0h5m1 0h5m1 0h5m1 0h2m1 0h1m1 0h4m1 0h2m1 0h3m1 0h5m3 0h3m1 0h3m1 0h5m3 0h1m1 0h3m1 0h1m1 0h5m1 0h7m1 0h6m1 0h6m1 0h2m1 0h1m1 0h7m1 0h4m1 0h1m1 0h5m2 0h3m1 0h2m2 0h1M1240 876h2m5 0h1m2 0h2m2 0h1m1 0h1m2 0h6m2 0h1m1 0h6m4 0h1m4 0h2m3 0h3m3 0h6m4 0h4m2 0h1m3 0h2m1 0h1m2 0h7m1 0h8m1 0h1m2 0h1m1 0h2m1 0h6m1 0h3m1 0h1m2 0h1m2 0h1m3 0h4m1 0h4m1 0h2m4 0h1m2 0h1m1 0h1m1 0h4m3 0h4M1250 877h2m2 0h1m2 0h1m1 0h3m2 0h2m6 0h6m1 0h1m1 0h1m1 0h2m4 0h1m3 0h1m1 0h3m3 0h1m2 0h2m2 0h1m1 0h1m1 0h1m1 0h2m6 0h2m8 0h2m3 0h4m6 0h1m4 0h2m5 0h2m2 0h1m2 0h1m4 0h5m7 0h1m1 0h1m1 0h7m2 0h1m1 0h1"/><path stroke="#3178cc" d="M1339 842h3M1323 843h4m10 0h8m5 0h12M1321 844h44m8 0h2M1309 845h4m2 0h3m1 0h61M1306 846h75M1303 847h81M1298 848h87m4 0h2M1297 849h94M1297 850h94M1297 851h95M1296 852h97M1295 853h101M1294 854h103M1287 855h2m1 0h108M1286 856h112M1285 857h114m1 0h2M1285 858h9m1 0h103m2 0h2M1285 859h8m2 0h102M1286 860h6m3 0h102M1288 861h5m2 0h102M1288 862h108M1288 863h102M1288 864h101M1289 865h5m2 0h92M1290 866h3m4 0h89M1299 867h2m3 0h80M1305 868h76M1305 869h5m1 0h11m2 0h26m6 0h14m6 0h2M1316 870h4m6 0h4m4 0h8m2 0h2"/><path stroke="#3c9fdc" d="M1337 844h8m6 0h2m3 0h5M1322 845h4m1 0h38M1320 846h47m4 0h7M1309 847h2m2 0h67M1306 848h75M1305 849h77M1304 850h80M1303 851h82M1299 852h88M1298 853h89M1298 854h93M1298 855h94m2 0h1M1299 856h94m1 0h1M1299 857h94M1298 858h95M1298 859h94M1297 860h90M1297 861h89M1297 862h82m2 0h5M1302 863h76m4 0h4M1304 864h73m5 0h4M1307 865h69m7 0h2M1312 866h64M1313 867h40m5 0h11M1317 868h2m7 0h5m3 0h15m16 0h1M1337 869h4"/><path stroke="#48b7cf" d="M1336 845h11M1323 846h1m3 0h38M1321 847h45m7 0h3M1314 848h54m2 0h8M1312 849h67M1310 850h71M1307 851h75M1305 852h77M1305 853h77M1304 854h78M1302 855h81M1302 856h82M1302 857h82M1301 858h83M1301 859h81M1302 860h77M1303 861h75M1304 862h73M1305 863h71M1310 864h65M1313 865h43m3 0h10M1317 866h35m12 0h3M1326 867h4m7 0h5m2 0h3"/><path stroke="#58bd7a" d="M1340 845h3M1331 846h16M1327 847h28M1321 848h38m2 0h4M1315 849h51m7 0h3M1313 850h56m3 0h4M1312 851h65M1311 852h66M1309 853h69M1309 854h70M1308 855h72M1308 856h72M1308 857h72M1309 858h70M1310 859h67M1310 860h66M1311 861h65M1311 862h59m2 0h3M1313 863h43m4 0h8M1315 864h40m8 0h3M1321 865h17m2 0h7"/><path stroke="#6cc344" d="M1332 847h15M1328 848h22M1323 849h30M1319 850h36M1317 851h43M1316 852h45M1314 853h49m2 0h3M1312 854h57M1311 855h58M1311 856h59M1311 857h59M1312 858h57M1313 859h55M1315 860h42m3 0h5M1316 861h39M1320 862h34M1323 863h25M1326 864h2m4 0h2"/><path stroke="#a5cf28" d="M1331 848h15M1328 849h21M1324 850h27M1321 851h31M1320 852h33M1319 853h35M1319 854h38M1319 855h40M1319 856h40M1319 857h38M1320 858h34M1320 859h33M1321 860h28M1323 861h24M1325 862h11"/><path stroke="#d8d81f" d="M1331 849h14M1329 850h18M1326 851h23M1323 852h27M1322 853h29M1321 854h31M1321 855h31M1321 856h31M1322 857h30M1322 858h27M1323 859h24M1324 860h22M1326 861h8"/><path stroke="#f6c01c" d="M1332 850h12M1329 851h17M1327 852h19M1325 853h22M1324 854h23M1323 855h25M1323 856h25M1323 857h24M1324 858h22M1327 859h18"/><path stroke="#f7981e" d="M1337 851h5M1331 852h13M1329 853h15M1328 854h16M1328 855h17M1328 856h17M1329 857h16M1332 858h8"/><path stroke="#f46a22" d="M1339 852h1M1336 853h5M1332 854h10M1331 855h10M1333 856h7"/><path stroke="#fff" d="M1340 843h1m12 0h1M1321 844h1m27 0h1M1361 845h1m5 0h1M1349 846h1m6 0h1M1333 847h1m13 0h1m19 0h1m8 0h1M1299 849h1m17 0h1m19 0h1m39 0h1m12 0h1M1302 850h1m4 0h2m7 0h1m39 0h1m1 0h1m10 0h1M1297 851h1m75 0h1M1376 852h1M1297 853h1m5 0h1m42 0h1M1381 854h1m2 0h1m3 0h1m6 0h1M1326 855h1m62 0h1m7 0h1M1287 856h1m37 0h1m24 0h1m27 0h1m18 0h1M1298 857h1m9 0h1m8 0h1m27 0h1m19 0h1m12 0h1M1297 858h1m2 0h1m5 0h1m30 0h1m30 0h1m7 0h1m15 0h1M1295 859h1m9 0h1m54 0h1M1316 860h1m16 0h1m24 0h1m7 0h1m22 0h1m5 0h1M1295 861h1m7 0h1m10 0h1m4 0h1M1312 862h1m4 0h1m12 0h1m48 0h1m12 0h1m1 0h1M1292 863h1m1 0h1m8 0h2m17 0h1m57 0h4M1291 864h1m48 0h1m6 0h1M1289 865h1m1 0h1m36 0h1m16 0h1M1304 866h1m1 0h1m1 0h1m47 0h1M1331 867h1m38 0h1m4 0h1M1314 868h1m8 0h2m31 0h1M1308 869h1m12 0h1m8 0h3m35 0h1M1335 870h1m8 0h1"/></g>
<path d="M1235.2 765.4H1503.15" stroke="#858585" stroke-width="0.9" fill="none"/>
<rect x="1502.1" y="765" width="1.9" height="268.8" fill="#bbbbbb"/>
<path d="M1235.2 765.4V1033.8M1234.8 1033.4H1503.15" stroke="#3a3a3a" stroke-width="0.85" fill="none"/>
<path d="M1227.8 1032.3H1235.5M1236.4 1033.2V1040.6M1227.8 979.2H1235.5M1288.65 1033.2V1040.6M1227.8 925.75H1235.5M1342.1 1033.2V1040.6M1227.8 872.3H1235.5M1395.55 1033.2V1040.6M1227.8 818.85H1235.5M1449 1033.2V1040.6M1227.8 766.7H1235.5M1501.85 1033.2V1040.6" stroke="#000" stroke-width="1.6" fill="none"/>
<path d="M1229.9 995.29H1235.2M1272.56 1033.4V1038.7M1229.9 941.84H1235.2M1326.01 1033.4V1038.7M1229.9 888.39H1235.2M1379.46 1033.4V1038.7M1229.9 834.94H1235.2M1432.91 1033.4V1038.7M1229.9 781.49H1235.2M1486.36 1033.4V1038.7" stroke="#000" stroke-width="1.3" fill="none"/>
<path d="M1231.5 1016.56H1235.2M1251.29 1033.4V1037.1M1231.5 1007.15H1235.2M1260.7 1033.4V1037.1M1231.5 1000.47H1235.2M1267.38 1033.4V1037.1M1231.5 991.06H1235.2M1276.79 1033.4V1037.1M1231.5 987.48H1235.2M1280.37 1033.4V1037.1M1231.5 984.38H1235.2M1283.47 1033.4V1037.1M1231.5 981.65H1235.2M1286.2 1033.4V1037.1M1231.5 963.11H1235.2M1304.74 1033.4V1037.1M1231.5 953.7H1235.2M1314.15 1033.4V1037.1M1231.5 947.02H1235.2M1320.83 1033.4V1037.1M1231.5 937.61H1235.2M1330.24 1033.4V1037.1M1231.5 934.03H1235.2M1333.82 1033.4V1037.1M1231.5 930.93H1235.2M1336.92 1033.4V1037.1M1231.5 928.2H1235.2M1339.65 1033.4V1037.1M1231.5 909.66H1235.2M1358.19 1033.4V1037.1M1231.5 900.25H1235.2M1367.6 1033.4V1037.1M1231.5 893.57H1235.2M1374.28 1033.4V1037.1M1231.5 884.16H1235.2M1383.69 1033.4V1037.1M1231.5 880.58H1235.2M1387.27 1033.4V1037.1M1231.5 877.48H1235.2M1390.37 1033.4V1037.1M1231.5 874.75H1235.2M1393.1 1033.4V1037.1M1231.5 856.21H1235.2M1411.64 1033.4V1037.1M1231.5 846.8H1235.2M1421.05 1033.4V1037.1M1231.5 840.12H1235.2M1427.73 1033.4V1037.1M1231.5 830.71H1235.2M1437.14 1033.4V1037.1M1231.5 827.13H1235.2M1440.72 1033.4V1037.1M1231.5 824.03H1235.2M1443.82 1033.4V1037.1M1231.5 821.3H1235.2M1446.55 1033.4V1037.1M1231.5 802.76H1235.2M1465.09 1033.4V1037.1M1231.5 793.35H1235.2M1474.5 1033.4V1037.1M1231.5 786.67H1235.2M1481.18 1033.4V1037.1M1231.5 777.26H1235.2M1490.59 1033.4V1037.1M1231.5 773.68H1235.2M1494.17 1033.4V1037.1M1231.5 770.58H1235.2M1497.27 1033.4V1037.1M1231.5 767.85H1235.2M1500 1033.4V1037.1" stroke="#000" stroke-width="1.3" fill="none"/>
<g><text x="1212.3" y="1031.5" text-anchor="end">10</text><text x="1213.1" y="1017">0</text><text x="1239" y="1080.45">10</text><text x="1260.3" y="1065.85">0</text><text x="1212.3" y="991.3" text-anchor="end">10</text><text x="1213.1" y="976.7">1</text><text x="1277.85" y="1080.45">10</text><text x="1299.15" y="1065.85">1</text><text x="1212.3" y="937.85" text-anchor="end">10</text><text x="1213.1" y="923.25">2</text><text x="1331.3" y="1080.45">10</text><text x="1352.6" y="1065.85">2</text><text x="1212.3" y="884.4" text-anchor="end">10</text><text x="1213.1" y="869.8">3</text><text x="1384.75" y="1080.45">10</text><text x="1406.05" y="1065.85">3</text><text x="1212.3" y="830.95" text-anchor="end">10</text><text x="1213.1" y="816.35">4</text><text x="1438.2" y="1080.45">10</text><text x="1459.5" y="1065.85">4</text><text x="1212.3" y="799.4" text-anchor="end">10</text><text x="1213.1" y="785">5</text><text x="1471" y="1080.45">10</text><text x="1492.3" y="1065.85">5</text></g>
<text x="1367.62" y="1091.2" text-anchor="middle">CD3 CD19 CD20</text>
<text transform="translate(1196.5 898.6) rotate(-90)" text-anchor="middle">FSC-A</text>
<path d="M1235.2 833.8H1350.6V920.4H1235.2" fill="none" stroke="#000" stroke-width="1.5"/>
<text x="1270.8" y="801.8">73,1</text>
</g>
<text class="row" x="-0.6" y="922.6">GBM 2</text>
<g id="p30">
<g class="d" transform="translate(0 0.5)"><path stroke="#7f90bb" d="M411 1165h1M408 1187h1M350 1189h1M400 1195h1m22 0h1M410 1197h1m2 0h1M341 1199h1m24 0h1m40 0h1M412 1200h1M408 1201h1M392 1202h1m13 0h1m2 0h1M397 1203h1M331 1204h1m8 0h1m40 0h1m10 0h1m13 0h1M399 1205h1m5 0h1M400 1206h1M400 1207h1M349 1208h1M356 1209h1m38 0h1M336 1210h1m53 0h1m7 0h1M352 1211h1m19 0h1m17 0h1M395 1212h1M372 1213h1m15 0h1M315 1214h1m39 0h1m15 0h1m20 0h1M359 1215h1m30 0h1M340 1216h1m20 0h1m13 0h1M386 1217h1M327 1218h1M331 1219h1m46 0h1m7 0h1M360 1220h1m11 0h1m5 0h1m5 0h1M343 1221h1m34 0h1M354 1222h1m13 0h1m13 0h1M350 1223h1m2 0h1m21 0h1m1 0h1M330 1224h1m15 0h1m2 0h1M336 1225h1m1 0h1m3 0h1m33 0h1M323 1226h1m10 0h1m2 0h1m5 0h1m1 0h1M334 1228h1m1 0h1m1 0h1m1 0h1m8 0h1m4 0h1m11 0h1M341 1229h1m1 0h1m9 0h1m2 0h1m2 0h1m6 0h1M311 1230h1m21 0h1m30 0h1m5 0h1m49 0h1M309 1231h1m19 0h1m22 0h1m10 0h1m2 0h1M329 1232h1m21 0h2m5 0h1m1 0h1m2 0h1M340 1233h3m4 0h1m10 0h1m2 0h1m56 0h1M298 1234h1m44 0h1m3 0h1m12 0h1M323 1235h1m14 0h1m2 0h1m3 0h1m4 0h1M326 1237h1m6 0h1m1 0h1m8 0h1M320 1238h1m1 0h1m14 0h1m1 0h1m77 0h1m2 0h1M325 1239h1m1 0h1m8 0h1m77 0h1M309 1240h1m16 0h1m87 0h1M327 1241h2M287 1242h1m38 0h1m13 0h1M268 1243h1m25 0h1m1 0h1m26 0h1m8 0h1m1 0h1m1 0h1m77 0h1M320 1244h1m7 0h1m10 0h1M305 1245h2m11 0h1m7 0h1m10 0h1m76 0h1M309 1246h1m2 0h1m4 0h1m10 0h1M303 1247h1m5 0h1m9 0h1m4 0h1m86 0h1M303 1248h1m10 0h1m4 0h1M293 1249h1m20 0h1m5 0h1m1 0h2m5 0h1M294 1250h1m7 0h1m7 0h2m14 0h1M321 1251h1M291 1252h1m9 0h1m7 0h1m5 0h2M303 1253h1m4 0h1m5 0h1m2 0h3m2 0h3M300 1254h1m6 0h1m4 0h1m6 0h1M296 1255h1m25 0h1m79 0h2M298 1256h1m1 0h1m6 0h1m3 0h1m1 0h2m3 0h1M286 1257h1m17 0h1m4 0h3m3 0h1M302 1258h1m1 0h2M290 1259h1m16 0h1M300 1260h1m5 0h1m3 0h1M283 1261h1m10 0h1m6 0h1m1 0h1m6 0h1m91 0h1m1 0h1M268 1262h1m14 0h1m2 0h1m16 0h1M294 1263h1m2 0h1m2 0h1m8 0h1M301 1264h1m117 0h1M260 1265h1m8 0h1m14 0h1m4 0h1m7 0h1m1 0h3m94 0h1m2 0h1m4 0h1M289 1266h1m4 0h1m103 0h1M289 1267h1m14 0h1m92 0h1M289 1268h1m5 0h1m1 0h1m2 0h1M287 1269h1m1 0h1m5 0h1m114 0h1M269 1270h1m25 0h1m2 0h1m4 0h1m1 0h1m89 0h1M293 1271h1m2 0h2m95 0h1M263 1272h1m13 0h1m13 0h1m10 0h1m1 0h1M274 1273h1m1 0h2m4 0h2m17 0h1m89 0h1M288 1274h1m6 0h1m1 0h1m97 0h1m4 0h1M286 1275h1m4 0h1m3 0h1m1 0h1m2 0h1m96 0h1M270 1276h1m3 0h1m3 0h1m6 0h1m2 0h1m3 0h1m5 0h1M281 1277h1m1 0h1m2 0h1m3 0h1m4 0h1m4 0h1M276 1278h1m8 0h1m4 0h2m4 0h1m3 0h1m90 0h1M273 1279h2m2 0h1m8 0h1m3 0h1m1 0h2m95 0h1M255 1280h1m13 0h1m6 0h1m11 0h1m101 0h1M283 1281h2m6 0h1m1 0h1m96 0h1m8 0h1M274 1282h1m11 0h1m104 0h1M280 1283h1m1 0h1m111 0h1M269 1284h1m3 0h1m9 0h1m1 0h1M279 1285h1m1 0h1m3 0h1m2 0h1M386 1286h1M240 1287h1m31 0h1m7 0h1m2 0h1m2 0h1M265 1288h1m17 0h2m4 0h1m97 0h1M390 1289h1M272 1290h2m8 0h1m4 0h1m95 0h1M250 1291h1m23 0h1m12 0h1m98 0h1m12 0h1M247 1292h2m9 0h1m9 0h1m5 0h1m1 0h3m1 0h2m2 0h1m99 0h1M268 1293h2m3 0h1m3 0h1M268 1294h1m2 0h1m7 0h1m2 0h1M256 1295h1m11 0h1m11 0h1m100 0h1m1 0h1m6 0h1M270 1296h2m3 0h1m5 0h1m98 0h1M254 1297h1m2 0h2m7 0h1m4 0h1m2 0h1m5 0h1m100 0h1M257 1298h1m14 0h1m106 0h1M253 1299h1m11 0h1m117 0h1m4 0h1M263 1300h2M269 1301h2m1 0h1M257 1302h1m3 0h1m117 0h1m2 0h1M261 1303h1m9 0h1M252 1304h1m125 0h1m3 0h1M254 1305h1m14 0h1m106 0h1M260 1306h1m8 0h1M252 1307h1m5 0h1m2 0h1m118 0h1M244 1309h1m128 0h1M247 1310h1m14 0h1m108 0h1m3 0h1m1 0h1M249 1311h1m8 0h1m3 0h1m119 0h1M245 1313h1m13 0h1m109 0h1M242 1314h1m3 0h1m6 0h1m3 0h1m3 0h2M244 1315h2m12 0h1m115 0h1M245 1316h1m2 0h1m2 0h1m3 0h2m112 0h1M234 1317h1m1 0h1m6 0h1m1 0h1m3 0h1m2 0h1M245 1318h1m127 0h1M232 1319h1m4 0h1m5 0h1m127 0h1M227 1320h1m23 0h1m1 0h1m113 0h1M238 1321h1m1 0h1m9 0h1m116 0h1m12 0h1M365 1323h1m5 0h1M217 1324h1m13 0h1m3 0h1M223 1325h1m3 0h1m4 0h1m3 0h1M229 1326h1m137 0h1m1 0h1M224 1327h1m1 0h1m136 0h2m1 0h1M226 1328h1m134 0h1M210 1329h1m8 0h1m2 0h1m139 0h1m7 0h1M204 1330h1m12 0h1m2 0h1m2 0h1m142 0h1M214 1331h1m145 0h1M208 1332h1m6 0h1m142 0h1M210 1333h1m1 0h1m5 0h1M215 1334h1M195 1335h1m14 0h2m145 0h1M204 1336h1M355 1337h1M205 1338h1m148 0h1M353 1339h1M200 1341h1m3 0h1m150 0h1M196 1342h1m2 0h1m1 0h1m152 0h1M351 1343h1M186 1344h1m169 0h1M195 1345h1M193 1346h2M192 1347h1m1 0h1m159 0h1M187 1348h1M181 1349h1m6 0h2m159 0h1M184 1350h1m164 0h1M348 1351h1m2 0h1M346 1352h2M177 1353h1m1 0h1m166 0h1m1 0h1M179 1354h1m164 0h1M169 1355h1M177 1357h1M178 1358h1M167 1359h1m5 0h1m4 0h1m164 0h1M169 1361h1m170 0h1M335 1363h1m7 0h1M167 1364h1M167 1365h1m2 0h1m164 0h1M167 1366h1m3 0h1M164 1369h1m3 0h1m161 0h1M170 1370h1m160 0h1M170 1371h2m1 0h1m155 0h1M322 1372h1M321 1373h1m4 0h1M179 1374h1m144 0h1m13 0h1M177 1375h1m4 0h2m135 0h1m1 0h1m19 0h1M175 1376h1m10 0h1m131 0h1m1 0h1m5 0h1M323 1377h1M187 1378h1m4 0h1m137 0h1M178 1379h1m11 0h1m123 0h2M194 1380h1m121 0h1m10 0h1M191 1381h1m4 0h1m113 0h1m3 0h1M198 1382h1M198 1383h1m122 0h1M202 1384h1M215 1385h1M210 1386h1m1 0h1m91 0h1M193 1387h1m5 0h1m5 0h1m1 0h1m2 0h1M209 1388h1m7 0h1m85 0h1m3 0h1m4 0h1M212 1389h1m6 0h1m1 0h1m1 0h1m86 0h1M198 1390h1m13 0h1m5 0h1m2 0h1m79 0h1M220 1391h1m6 0h1M224 1392h1m36 0h1m20 0h1m3 0h1m8 0h1m1 0h2M199 1393h1m25 0h1m4 0h1m21 0h1m9 0h1m11 0h1M227 1394h1m2 0h1m4 0h1m15 0h1m7 0h1m4 0h1m2 0h1m4 0h1m1 0h1m6 0h1m4 0h1M230 1395h1m6 0h1m11 0h1m15 0h2m1 0h1m1 0h2m2 0h1m21 0h1M240 1396h3m13 0h1m11 0h1m10 0h1m2 0h1m6 0h1M212 1397h1m13 0h1m6 0h1m3 0h1m9 0h3m10 0h2m5 0h1m17 0h1M241 1398h1m10 0h1m18 0h1m7 0h1M238 1399h1m38 0h1m6 0h1M232 1400h1m6 0h1m24 0h1M215 1401h1m62 0h1M244 1402h1M268 1403h1m4 0h1m2 0h1M246 1404h1m10 0h1M260 1405h1M273 1406h1M251 1417h1"/><path stroke="#2755ab" d="M422 1197h1m1 0h1M418 1198h1M418 1199h2m1 0h2M419 1200h1m2 0h2M412 1201h1m3 0h3m4 0h2M413 1202h1m1 0h2m1 0h7M413 1203h1m1 0h2m1 0h6M410 1204h1m1 0h3m1 0h9M410 1205h3m1 0h11M408 1206h1m1 0h1m1 0h13M406 1207h1m1 0h1m1 0h13m1 0h1M405 1208h2m1 0h17M402 1209h1m3 0h1m1 0h16M402 1210h2m3 0h18M401 1211h1m2 0h1m1 0h19M396 1212h1m1 0h1m1 0h1m1 0h2m1 0h20M398 1213h2m1 0h1m1 0h22M398 1214h4m1 0h22M393 1215h2m2 0h2m1 0h25M394 1216h2m1 0h27M390 1217h1m6 0h1m1 0h26M393 1218h28m1 0h3M390 1219h1m2 0h32M386 1220h1m4 0h5m1 0h26m1 0h1M388 1221h3m1 0h31M385 1222h3m2 0h1m1 0h30M385 1223h1m1 0h1m1 0h3m1 0h25m1 0h2M384 1224h3m2 0h26m1 0h6M379 1225h1m2 0h1m1 0h16m1 0h19m2 0h2M382 1226h1m1 0h1m1 0h33m2 0h2M380 1227h3m1 0h34m1 0h2M376 1228h2m1 0h1m1 0h35m1 0h1M374 1229h1m2 0h2m1 0h2m1 0h2m1 0h32M375 1230h1m1 0h38m1 0h3M372 1231h1m2 0h2m1 0h2m1 0h34M368 1232h2m3 0h1m2 0h35m1 0h2M366 1233h1m3 0h1m3 0h2m1 0h38m1 0h1M352 1234h2m14 0h1m2 0h43M351 1235h1m3 0h2m11 0h1m1 0h41M350 1236h1m3 0h1m2 0h2m2 0h1m3 0h1m1 0h1m1 0h44m1 0h1M342 1237h1m8 0h1m1 0h1m1 0h1m2 0h1m9 0h2m1 0h41M341 1238h2m8 0h2m4 0h1m1 0h5m1 0h45m3 0h1M343 1239h1m5 0h1m1 0h1m7 0h1m1 0h1m2 0h26m1 0h15m1 0h3m2 0h1M341 1240h3m3 0h1m2 0h2m1 0h1m2 0h2m2 0h2m2 0h47M350 1241h2m3 0h1m1 0h1m3 0h48m1 0h1M342 1242h1m2 0h1m1 0h2m3 0h2m4 0h48m1 0h3M331 1243h1m9 0h2m3 0h1m2 0h2m1 0h1m4 0h2m1 0h32m1 0h13M330 1244h2m1 0h1m7 0h1m1 0h1m3 0h3m3 0h2m2 0h2m1 0h44m1 0h1m1 0h2M331 1245h1m2 0h2m4 0h1m3 0h1m2 0h1m2 0h1m1 0h2m2 0h50M335 1246h1m1 0h1m1 0h1m4 0h1m7 0h3m1 0h46m2 0h1m1 0h1M335 1247h1m4 0h2m1 0h1m2 0h2m1 0h2m2 0h50m2 0h1M331 1248h3m5 0h1m7 0h2m1 0h1m1 0h3m1 0h48m1 0h1M333 1249h1m2 0h1m3 0h1m1 0h1m3 0h1m1 0h1m1 0h7m1 0h37m1 0h4m1 0h1M330 1250h1m2 0h3m4 0h4m2 0h2m1 0h52m4 0h1M329 1251h1m5 0h2m2 0h1m5 0h1m2 0h51m1 0h2m2 0h1M327 1252h4m1 0h1m5 0h4m1 0h1m1 0h57m1 0h1M328 1253h2m2 0h1m2 0h1m2 0h1m1 0h2m1 0h51m1 0h2m1 0h3m1 0h1M320 1254h1m7 0h1m1 0h2m3 0h3m1 0h3m1 0h4m1 0h52M327 1255h1m3 0h8m1 0h1m3 0h49m1 0h5M335 1256h1m1 0h2m2 0h56M322 1257h2m3 0h1m2 0h3m2 0h1m1 0h3m1 0h55m1 0h1M314 1258h1m9 0h2m3 0h2m5 0h1m1 0h2m1 0h52m1 0h1m1 0h1M315 1259h2m4 0h2m3 0h2m2 0h2m1 0h2m1 0h55m1 0h4M315 1260h1m1 0h1m1 0h2m1 0h1m5 0h7m1 0h57m3 0h1M319 1261h1m2 0h1m3 0h1m2 0h64m2 0h1M307 1262h1m7 0h2m2 0h1m5 0h2m2 0h61m1 0h1m2 0h1M305 1263h1m1 0h1m7 0h2m5 0h1m2 0h1m1 0h1m1 0h61m3 0h2M304 1264h2m1 0h1m4 0h1m5 0h1m4 0h2m1 0h3m1 0h64M305 1265h1m7 0h1m1 0h1m1 0h1m2 0h1m2 0h4m1 0h59m1 0h3M306 1266h2m2 0h1m2 0h2m1 0h2m1 0h1m1 0h1m3 0h62m1 0h4M307 1267h2m3 0h3m1 0h2m2 0h3m2 0h65m1 0h1M307 1268h1m1 0h1m4 0h1m1 0h1m1 0h3m1 0h1m1 0h64M310 1269h4m1 0h1m1 0h3m1 0h70M311 1270h1m6 0h1m3 0h2m1 0h61m1 0h3M311 1271h1m2 0h2m2 0h71M310 1272h1m1 0h2m1 0h2m3 0h1m1 0h1m1 0h64M306 1273h2m1 0h1m1 0h4m1 0h1m1 0h1m1 0h2m1 0h66M305 1274h1m4 0h2m1 0h1m1 0h2m2 0h66m1 0h3M307 1275h3m1 0h1m4 0h71m1 0h1M307 1276h3m1 0h1m1 0h68m1 0h4m1 0h1M302 1277h2m1 0h1m1 0h1m3 0h2m2 0h70m1 0h1M307 1278h2m3 0h1m1 0h68m1 0h1m3 0h2M300 1279h1m1 0h2m1 0h1m2 0h1m3 0h1m2 0h1m1 0h69m1 0h1M297 1280h1m8 0h2m2 0h2m1 0h71M295 1281h1m2 0h1m6 0h1m1 0h76M295 1282h1m1 0h1m2 0h2m1 0h4m1 0h74M290 1283h2m3 0h4m2 0h2m1 0h3m1 0h7m1 0h70M289 1284h1m3 0h1m1 0h1m1 0h4m2 0h2m1 0h68m1 0h2m1 0h6M290 1285h1m5 0h1m2 0h1m2 0h1m1 0h76m1 0h3M289 1286h4m1 0h1m1 0h1m1 0h2m1 0h1m1 0h6m1 0h75M293 1287h1m1 0h1m2 0h1m2 0h5m1 0h75M291 1288h1m3 0h1m1 0h1m2 0h1m1 0h79M293 1289h1m2 0h1m1 0h4m2 0h2m1 0h72m1 0h1m1 0h1M292 1290h1m1 0h3m1 0h79m2 0h1M293 1291h1m1 0h4m2 0h77m1 0h1M287 1292h2m3 0h1m4 0h4m1 0h73m5 0h1M285 1293h2m1 0h2m1 0h1m1 0h1m1 0h2m2 0h77M284 1294h1m6 0h2m1 0h1m1 0h79m1 0h1m1 0h1M287 1295h1m3 0h2m2 0h1m1 0h1m1 0h73m1 0h1m1 0h1m1 0h1M285 1296h4m1 0h1m1 0h80m2 0h3M285 1297h1m2 0h1m4 0h78m2 0h3m1 0h1M278 1298h1m5 0h1m1 0h2m4 0h78m1 0h3M276 1299h4m5 0h86m4 0h1m2 0h1M275 1300h1m3 0h1m3 0h1m1 0h1m1 0h3m2 0h80m2 0h1m1 0h2M276 1301h1m1 0h1m3 0h2m1 0h1m1 0h2m1 0h82m4 0h1M276 1302h2m2 0h4m2 0h2m1 0h79m1 0h1m4 0h2M273 1303h1m2 0h5m2 0h84m1 0h4M274 1304h1m2 0h1m3 0h2m1 0h81m1 0h3m1 0h1m2 0h1M273 1305h2m1 0h2m1 0h1m1 0h1m2 0h85m1 0h1m1 0h2M270 1306h1m6 0h1m1 0h1m1 0h87m3 0h1M271 1307h3m3 0h85m1 0h3m1 0h5M269 1308h1m1 0h1m5 0h1m1 0h85m6 0h1M272 1309h1m4 0h91m2 0h2M268 1310h3m3 0h1m1 0h3m1 0h87m2 0h1M269 1311h1m1 0h2m2 0h89m1 0h1m1 0h1M270 1312h8m1 0h89M265 1313h2m2 0h1m1 0h91m1 0h3M266 1314h2m1 0h1m1 0h92m1 0h1M261 1315h1m4 0h1m2 0h1m1 0h89m2 0h2m4 0h1M264 1316h3m1 0h93m3 0h3M260 1317h1m1 0h3m1 0h3m1 0h93m1 0h2m1 0h1M261 1318h1m2 0h1m1 0h96m2 0h2m1 0h1M260 1319h1m3 0h1m1 0h95m1 0h1m2 0h1M243 1320h1m1 0h1m1 0h1m6 0h1m3 0h1m1 0h1m1 0h93m1 0h2m3 0h2M245 1321h1m2 0h2m4 0h1m5 0h1m3 0h93m1 0h2m2 0h1m1 0h1M243 1322h3m9 0h2m2 0h1m2 0h2m1 0h93m1 0h2m1 0h1M241 1323h2m11 0h3m1 0h4m1 0h4m1 0h85m1 0h5m1 0h1m3 0h1M239 1324h1m6 0h4m1 0h1m3 0h1m1 0h1m1 0h99m5 0h1M237 1325h1m3 0h2m3 0h1m1 0h1m2 0h2m2 0h1m2 0h97m1 0h1m1 0h2m3 0h2M235 1326h1m1 0h2m4 0h1m3 0h2m1 0h1m3 0h2m1 0h96m1 0h3m1 0h1m1 0h1m1 0h1M230 1327h2m1 0h2m3 0h2m1 0h3m2 0h2m1 0h2m2 0h1m1 0h2m1 0h97m3 0h1m3 0h1M232 1328h1m8 0h2m1 0h1m5 0h2m1 0h99m1 0h4M228 1329h1m2 0h2m3 0h1m1 0h1m1 0h2m1 0h2m1 0h4m2 0h1m1 0h1m1 0h98m1 0h1m3 0h1M222 1330h1m6 0h3m1 0h3m3 0h1m1 0h1m1 0h1m1 0h2m3 0h4m1 0h99m1 0h2M220 1331h1m1 0h1m3 0h1m1 0h2m1 0h1m2 0h1m4 0h2m2 0h1m1 0h1m1 0h1m1 0h107m1 0h1M221 1332h1m1 0h1m6 0h1m1 0h2m5 0h4m1 0h1m3 0h103m6 0h1M222 1333h1m4 0h1m3 0h1m5 0h2m4 0h1m1 0h108M221 1334h1m1 0h2m1 0h2m1 0h1m1 0h2m1 0h1m2 0h1m2 0h3m1 0h2m2 0h104m1 0h1M214 1335h1m1 0h1m2 0h1m2 0h1m1 0h4m1 0h1m1 0h1m1 0h2m1 0h2m2 0h2m1 0h2m1 0h105m1 0h4M211 1336h2m3 0h2m1 0h2m1 0h1m1 0h1m1 0h9m1 0h2m2 0h2m1 0h107m1 0h1m2 0h1M210 1337h2m4 0h5m1 0h4m1 0h1m1 0h1m2 0h1m1 0h2m1 0h2m1 0h2m2 0h106M210 1338h1m4 0h3m3 0h1m1 0h3m2 0h1m1 0h1m1 0h1m1 0h2m1 0h1m2 0h109M214 1339h1m8 0h1m3 0h1m1 0h4m1 0h2m1 0h3m2 0h104m3 0h1M205 1340h1m3 0h1m2 0h1m3 0h1m6 0h3m1 0h3m2 0h3m2 0h1m1 0h1m1 0h107m1 0h1M205 1341h2m1 0h2m1 0h1m1 0h2m2 0h7m1 0h2m1 0h4m3 0h35m1 0h77m2 0h1M205 1342h1m1 0h1m1 0h1m1 0h2m4 0h1m1 0h4m1 0h3m2 0h1m2 0h3m2 0h2m1 0h107m1 0h1M211 1343h1m1 0h1m1 0h1m1 0h1m1 0h2m2 0h1m4 0h1m2 0h4m1 0h109M197 1344h1m1 0h1m2 0h1m6 0h1m2 0h1m2 0h4m5 0h2m3 0h5m1 0h110m1 0h1M197 1345h2m1 0h3m3 0h2m4 0h4m2 0h1m4 0h1m1 0h4m2 0h5m1 0h106m1 0h3M195 1346h1m3 0h1m2 0h1m4 0h1m5 0h1m3 0h2m2 0h3m1 0h4m1 0h1m1 0h14m1 0h97m2 0h1m1 0h1M197 1347h3m3 0h3m1 0h3m3 0h4m1 0h4m1 0h3m1 0h3m1 0h114m1 0h1M198 1348h3m2 0h1m5 0h1m5 0h1m1 0h5m1 0h119m1 0h1M192 1349h1m6 0h3m3 0h3m3 0h1m2 0h1m1 0h2m1 0h3m3 0h8m2 0h22m1 0h78m1 0h2m1 0h3M187 1350h1m3 0h1m8 0h3m1 0h3m1 0h2m1 0h1m1 0h5m1 0h1m1 0h1m2 0h25m1 0h91m3 0h1M185 1351h2m3 0h1m2 0h1m1 0h1m1 0h1m1 0h1m1 0h1m6 0h1m5 0h1m2 0h2m2 0h2m1 0h5m1 0h107m1 0h3M184 1352h1m1 0h1m3 0h2m1 0h1m1 0h2m2 0h1m2 0h1m2 0h1m1 0h1m1 0h4m3 0h3m2 0h117m2 0h1m3 0h1M182 1353h1m1 0h1m1 0h1m1 0h2m5 0h1m3 0h2m2 0h1m3 0h3m3 0h3m2 0h4m1 0h119m1 0h2M181 1354h2m2 0h1m2 0h1m1 0h2m1 0h2m1 0h3m1 0h3m2 0h6m1 0h1m2 0h1m1 0h1m1 0h1m1 0h115m2 0h1M181 1355h2m4 0h2m1 0h2m4 0h3m1 0h1m1 0h1m3 0h5m2 0h2m1 0h1m1 0h3m1 0h116m2 0h1M182 1356h1m2 0h1m8 0h2m3 0h1m3 0h5m1 0h1m3 0h1m1 0h2m1 0h5m1 0h20m1 0h90m2 0h3M181 1357h1m2 0h2m1 0h2m2 0h1m1 0h1m1 0h3m3 0h2m8 0h2m3 0h12m1 0h106m1 0h2M181 1358h1m4 0h2m1 0h1m1 0h1m3 0h3m1 0h1m4 0h1m1 0h1m4 0h1m2 0h1m1 0h4m1 0h110m1 0h5M179 1359h1m1 0h2m1 0h1m1 0h2m1 0h1m7 0h3m1 0h1m1 0h1m1 0h1m5 0h3m1 0h1m1 0h1m1 0h117M180 1360h1m3 0h1m7 0h1m2 0h2m1 0h1m2 0h2m1 0h1m1 0h4m1 0h1m5 0h114m2 0h1m1 0h2M175 1361h1m5 0h1m2 0h2m2 0h2m2 0h3m1 0h7m3 0h1m2 0h2m1 0h119M173 1362h1m2 0h1m5 0h1m1 0h1m1 0h4m6 0h1m1 0h1m4 0h1m2 0h1m2 0h1m4 0h3m1 0h40m1 0h70m1 0h2M173 1363h4m2 0h3m4 0h1m2 0h1m1 0h3m5 0h1m2 0h2m2 0h1m2 0h1m1 0h2m2 0h4m1 0h108m1 0h1m1 0h1M174 1364h2m2 0h1m5 0h4m1 0h5m2 0h2m2 0h2m4 0h1m2 0h1m1 0h2m5 0h109m1 0h3M174 1365h1m6 0h1m4 0h2m2 0h1m3 0h1m1 0h3m1 0h1m2 0h1m1 0h6m1 0h2m1 0h1m2 0h2m1 0h16m1 0h90m2 0h1M172 1366h1m1 0h1m3 0h3m1 0h1m3 0h4m2 0h1m2 0h2m1 0h2m2 0h3m1 0h2m5 0h1m1 0h1m1 0h1m2 0h2m2 0h99m3 0h1m3 0h1M173 1367h1m1 0h2m2 0h1m2 0h1m3 0h2m1 0h6m1 0h3m1 0h1m1 0h2m2 0h1m1 0h1m3 0h1m2 0h1m2 0h101m1 0h4M172 1368h2m5 0h1m1 0h3m3 0h1m7 0h2m1 0h2m2 0h1m1 0h2m6 0h3m1 0h1m1 0h2m1 0h26m1 0h69m1 0h5m2 0h1M173 1369h1m1 0h2m4 0h4m4 0h1m1 0h2m3 0h1m1 0h1m1 0h1m2 0h3m1 0h1m1 0h2m1 0h2m2 0h2m1 0h3m1 0h96m2 0h2M175 1370h4m1 0h3m1 0h2m1 0h1m1 0h1m3 0h1m1 0h3m3 0h1m1 0h3m1 0h1m2 0h1m2 0h1m2 0h2m1 0h1m4 0h93m1 0h2M176 1371h1m8 0h1m1 0h1m3 0h4m2 0h1m1 0h1m2 0h1m1 0h1m1 0h3m1 0h2m1 0h1m2 0h3m1 0h100m2 0h1M179 1372h1m1 0h1m1 0h1m1 0h1m3 0h2m2 0h1m4 0h1m1 0h1m1 0h1m3 0h1m2 0h2m2 0h5m2 0h3m1 0h4m1 0h82m1 0h5M184 1373h5m5 0h1m2 0h1m1 0h4m3 0h1m1 0h1m1 0h3m1 0h4m1 0h1m2 0h91m1 0h2m2 0h1M183 1374h1m1 0h2m3 0h4m5 0h1m3 0h1m2 0h2m4 0h2m3 0h2m2 0h1m1 0h1m3 0h81m1 0h3m1 0h1m4 0h1M190 1375h1m1 0h1m3 0h1m1 0h3m1 0h1m3 0h5m1 0h1m1 0h11m3 0h1m1 0h78m1 0h2M192 1376h1m1 0h1m1 0h1m2 0h5m6 0h3m1 0h1m2 0h1m1 0h2m3 0h2m1 0h1m2 0h2m1 0h78M195 1377h1m4 0h3m1 0h2m4 0h2m1 0h2m2 0h1m2 0h1m3 0h5m1 0h77m1 0h3m1 0h1M194 1378h1m3 0h2m1 0h2m3 0h1m4 0h4m2 0h2m1 0h1m1 0h3m1 0h3m1 0h75m1 0h3m1 0h1m1 0h1M196 1379h1m3 0h1m1 0h2m1 0h3m1 0h1m3 0h3m1 0h2m1 0h1m1 0h4m1 0h1m1 0h1m3 0h72m1 0h3M202 1380h4m1 0h1m1 0h1m3 0h2m2 0h6m1 0h5m3 0h31m1 0h36m1 0h5m1 0h1M199 1381h1m1 0h1m1 0h1m1 0h4m3 0h2m4 0h1m1 0h2m1 0h2m1 0h1m2 0h1m2 0h1m1 0h2m1 0h2m1 0h60m1 0h1m1 0h2m4 0h1M202 1382h1m2 0h3m3 0h1m6 0h1m2 0h2m2 0h1m1 0h3m2 0h5m1 0h9m1 0h52m1 0h1M204 1383h1m5 0h2m8 0h1m4 0h1m4 0h2m1 0h2m1 0h63m1 0h1m2 0h2M203 1384h1m1 0h3m4 0h1m2 0h3m3 0h4m3 0h1m1 0h1m2 0h1m3 0h5m1 0h47m1 0h9m4 0h1M210 1385h2m4 0h2m1 0h1m3 0h1m1 0h1m4 0h2m1 0h1m1 0h5m1 0h1m2 0h3m1 0h31m1 0h13m1 0h4m1 0h1m1 0h1m2 0h1M218 1386h1m4 0h1m2 0h3m2 0h1m5 0h3m3 0h1m2 0h2m1 0h7m1 0h1m1 0h10m3 0h26m1 0h1m1 0h3M218 1387h1m1 0h1m1 0h1m1 0h1m2 0h1m2 0h2m1 0h1m1 0h1m1 0h1m2 0h2m3 0h4m1 0h1m2 0h4m1 0h14m1 0h11m1 0h10m1 0h2m1 0h1m2 0h1M224 1388h1m2 0h2m1 0h2m3 0h1m1 0h1m4 0h2m4 0h1m1 0h1m2 0h1m3 0h1m1 0h1m1 0h6m1 0h1m1 0h2m1 0h1m1 0h1m1 0h1m1 0h3m2 0h2m1 0h6m1 0h1m4 0h1M225 1389h1m4 0h1m2 0h1m1 0h2m1 0h1m3 0h4m1 0h1m3 0h1m8 0h1m1 0h1m1 0h4m1 0h2m2 0h1m1 0h5m1 0h2m1 0h2m2 0h2m1 0h2m2 0h1M229 1390h1m3 0h1m2 0h4m2 0h2m1 0h1m4 0h1m4 0h4m5 0h1m5 0h1m1 0h1m1 0h1m1 0h2m4 0h1m4 0h3m2 0h1M228 1391h2m2 0h3m4 0h1m1 0h1m4 0h1m4 0h1m4 0h1m4 0h1m4 0h1m1 0h1m1 0h1m1 0h1m6 0h1m13 0h1M233 1392h1m5 0h3m1 0h1m1 0h1m1 0h1m2 0h2m24 0h1m2 0h1m1 0h1M232 1393h1m1 0h1m1 0h1m1 0h1m5 0h1m1 0h1m2 0h1M239 1394h2m1 0h2m2 0h1m24 0h1M247 1395h2m20 0h1"/><path stroke="#3178cc" d="M344 1273h5M342 1274h11M340 1275h18M338 1276h21M337 1277h22M335 1278h24M334 1279h25M332 1280h27M329 1281h30M327 1282h32M326 1283h33M325 1284h34M324 1285h35M323 1286h36M322 1287h37M321 1288h38M319 1289h40M318 1290h42M317 1291h43M316 1292h44M315 1293h44M315 1294h44M314 1295h45M313 1296h45M312 1297h46M310 1298h47M309 1299h48M308 1300h48M307 1301h49M306 1302h50M306 1303h49M305 1304h50M304 1305h50M304 1306h50M303 1307h50M302 1308h51M302 1309h51M301 1310h51M300 1311h52M299 1312h53M299 1313h52M298 1314h53M298 1315h53M297 1316h53M296 1317h54M295 1318h55M293 1319h57M292 1320h58M291 1321h59M290 1322h60M290 1323h60M289 1324h60M288 1325h61M288 1326h61M288 1327h60M287 1328h61M287 1329h60M287 1330h60M288 1331h59M288 1332h58M288 1333h58M287 1334h58M287 1335h58M286 1336h58M286 1337h57M286 1338h56M286 1339h56M286 1340h55M286 1341h54M286 1342h53M286 1343h52M285 1344h52M285 1345h50M284 1346h51M283 1347h51M282 1348h51M281 1349h50M281 1350h48M281 1351h44M280 1352h43M280 1353h40M280 1354h39M280 1355h37M280 1356h36M279 1357h37M279 1358h36M279 1359h35M278 1360h35M278 1361h33M278 1362h32M279 1363h30M279 1364h28M280 1365h24M281 1366h21M281 1367h18M282 1368h14"/><path stroke="#3c9fdc" d="M345 1280h8M337 1281h17M334 1282h21M331 1283h24M330 1284h25M329 1285h26M328 1286h28M327 1287h29M326 1288h30M324 1289h32M323 1290h33M321 1291h35M320 1292h36M319 1293h37M318 1294h37M317 1295h38M317 1296h38M316 1297h39M315 1298h39M314 1299h40M313 1300h40M312 1301h41M311 1302h41M310 1303h42M309 1304h42M308 1305h43M308 1306h43M307 1307h44M306 1308h44M306 1309h44M305 1310h45M304 1311h45M302 1312h47M301 1313h47M301 1314h46M300 1315h47M299 1316h47M298 1317h48M297 1318h50M296 1319h51M295 1320h52M294 1321h53M293 1322h54M292 1323h55M291 1324h56M291 1325h56M290 1326h57M290 1327h57M290 1328h56M290 1329h56M290 1330h56M290 1331h55M290 1332h55M290 1333h54M290 1334h54M290 1335h53M290 1336h53M290 1337h52M289 1338h52M289 1339h51M289 1340h50M289 1341h49M289 1342h48M289 1343h46M289 1344h45M288 1345h35m2 0h8M288 1346h34m3 0h7M287 1347h34m5 0h5M286 1348h34M286 1349h33M285 1350h34M284 1351h34M283 1352h33M283 1353h32M282 1354h32M282 1355h32M282 1356h31M282 1357h31M282 1358h30M282 1359h28M282 1360h27M282 1361h25M283 1362h23M283 1363h20M284 1364h17M285 1365h14M291 1366h5"/><path stroke="#48b7cf" d="M340 1283h4M336 1284h13M333 1285h17M331 1286h20M331 1287h20M330 1288h22M329 1289h23M328 1290h25M326 1291h27M324 1292h29M323 1293h30M322 1294h31M321 1295h32M320 1296h33M319 1297h33M318 1298h34M317 1299h34M316 1300h35M315 1301h36M314 1302h36M313 1303h37M312 1304h37M312 1305h37M311 1306h37M310 1307h38M309 1308h38M308 1309h39M308 1310h39M307 1311h39M306 1312h40M304 1313h41M303 1314h41M302 1315h42M301 1316h42M301 1317h42M300 1318h43M298 1319h45M297 1320h46M296 1321h47M294 1322h44m4 0h1M293 1323h45M293 1324h44M292 1325h45m4 0h3M292 1326h44m3 0h5M292 1327h45m1 0h7M291 1328h53M291 1329h53M291 1330h53M291 1331h53M291 1332h52M291 1333h52M292 1334h50M292 1335h37m2 0h11M292 1336h35m4 0h10M292 1337h34m5 0h9M292 1338h33m6 0h9M292 1339h32m7 0h8M292 1340h31m8 0h6M291 1341h31m10 0h3M291 1342h30M291 1343h29M291 1344h28M291 1345h27M290 1346h28M290 1347h27M289 1348h27M289 1349h26M288 1350h26M287 1351h26M286 1352h27M286 1353h26M285 1354h27M285 1355h26M284 1356h26M284 1357h25M284 1358h24M285 1359h21M285 1360h20M285 1361h18M286 1362h15M288 1363h10M291 1364h5"/><path stroke="#58bd7a" d="M339 1286h6M336 1287h11M334 1288h14M332 1289h17M331 1290h19M330 1291h20M328 1292h23M327 1293h24M325 1294h25M324 1295h26M323 1296h27M322 1297h27M321 1298h28M320 1299h29M319 1300h30M318 1301h31M317 1302h31M316 1303h32M315 1304h32M314 1305h33M313 1306h33M312 1307h33M311 1308h34M311 1309h34M310 1310h34M309 1311h35M308 1312h35M307 1313h35M306 1314h35M305 1315h35M303 1316h36M302 1317h37M301 1318h37M300 1319h37M299 1320h37M297 1321h39M296 1322h39M295 1323h40M294 1324h40M294 1325h40M293 1326h40M293 1327h39M293 1328h38M293 1329h38M293 1330h37M293 1331h36M293 1332h35M293 1333h34m9 0h4M293 1334h33m9 0h5M294 1335h31m10 0h5M294 1336h30m10 0h5M294 1337h29m11 0h4M295 1338h26m14 0h1M295 1339h25M295 1340h24M295 1341h23M295 1342h22M294 1343h19M294 1344h18M294 1345h18M294 1346h18M293 1347h19M293 1348h19M292 1349h20M291 1350h20M291 1351h20M290 1352h20M289 1353h21M288 1354h21M288 1355h20M288 1356h18M288 1357h17M288 1358h16M289 1359h14M290 1360h11M291 1361h6"/><path stroke="#6cc344" d="M337 1292h5M333 1293h10M331 1294h13M330 1295h14M328 1296h16M327 1297h17M325 1298h20M324 1299h20M323 1300h21M322 1301h22M321 1302h22M320 1303h23M319 1304h24M318 1305h24M317 1306h25M316 1307h26M315 1308h26M314 1309h27M313 1310h27M313 1311h26M312 1312h26M311 1313h26M310 1314h26M309 1315h27M308 1316h27M306 1317h28M304 1318h30M303 1319h30M302 1320h31M300 1321h32M299 1322h33M298 1323h33M297 1324h33M296 1325h33M296 1326h33M295 1327h33M295 1328h32M295 1329h31M295 1330h30M295 1331h30M295 1332h29M296 1333h26M296 1334h25M297 1335h23M298 1336h20M298 1337h17M299 1338h14M300 1339h11M301 1340h8M302 1341h5"/><path stroke="#a5cf28" d="M336 1296h2M332 1297h7M330 1298h10M328 1299h12M327 1300h13M326 1301h14M324 1302h16M323 1303h16M322 1304h17M321 1305h18M320 1306h19M319 1307h19M318 1308h20M317 1309h20M316 1310h21M315 1311h21M314 1312h21M313 1313h21M313 1314h21M312 1315h21M311 1316h21M309 1317h23M308 1318h23M306 1319h25M304 1320h26M303 1321h26M301 1322h27M300 1323h28M299 1324h28M298 1325h28M297 1326h29M297 1327h28M297 1328h27M297 1329h26M297 1330h26M297 1331h25M298 1332h22M298 1333h21M299 1334h18M300 1335h15M301 1336h11M304 1337h5"/><path stroke="#d8d81f" d="M330 1301h6M328 1302h8M327 1303h9M326 1304h10M324 1305h12M323 1306h13M322 1307h13M321 1308h14M320 1309h14M319 1310h15M318 1311h15M317 1312h16M316 1313h16M315 1314h16M314 1315h16M313 1316h17M312 1317h17M311 1318h17M309 1319h19M307 1320h20M305 1321h21M304 1322h22M302 1323h23M301 1324h24M300 1325h24M299 1326h25M299 1327h24M299 1328h23M299 1329h22M299 1330h21M299 1331h20M300 1332h18M301 1333h15M302 1334h11M305 1335h5"/><path stroke="#f6c01c" d="M327 1306h5M325 1307h7M324 1308h8M323 1309h8M322 1310h9M321 1311h9M320 1312h10M319 1313h10M318 1314h10M317 1315h11M316 1316h11M314 1317h12M313 1318h13M312 1319h13M310 1320h15M308 1321h16M306 1322h18M305 1323h18M303 1324h20M302 1325h20M301 1326h21M301 1327h20M300 1328h20M300 1329h19M301 1330h17M301 1331h16M302 1332h13M304 1333h8"/><path stroke="#f7981e" d="M323 1313h1M322 1314h3M320 1315h4M319 1316h5M317 1317h6M316 1318h7M315 1319h7M313 1320h9M311 1321h11M309 1322h13M307 1323h14M305 1324h16M304 1325h17M303 1326h17M302 1327h17M302 1328h17M302 1329h16M303 1330h13M303 1331h11M305 1332h6"/><path stroke="#f46a22" d="M314 1321h5M312 1322h7M310 1323h9M308 1324h11M306 1325h13M305 1326h13M304 1327h13M304 1328h13M304 1329h11M305 1330h9M307 1331h3"/><path stroke="#ee4122" d="M311 1324h5M309 1325h7M307 1326h9M306 1327h9M306 1328h8M307 1329h6"/></g>
<path d="M157.55 1150.44H425.9" stroke="#858585" stroke-width="0.9" fill="none"/>
<path d="M425.5 1150.44V1418.44" stroke="#858585" stroke-width="0.95" fill="none"/>
<path d="M157.55 1150.44V1418.84M157.15 1418.44H425.9" stroke="#3a3a3a" stroke-width="0.85" fill="none"/>
<path d="M150.15 1417.34H157.85M158.75 1418.24V1425.64M150.15 1364.24H157.85M211 1418.24V1425.64M150.15 1310.79H157.85M264.45 1418.24V1425.64M150.15 1257.34H157.85M317.9 1418.24V1425.64M150.15 1203.89H157.85M371.35 1418.24V1425.64M150.15 1151.74H157.85M424.2 1418.24V1425.64" stroke="#000" stroke-width="1.6" fill="none"/>
<path d="M152.25 1380.33H157.55M194.91 1418.44V1423.74M152.25 1326.88H157.55M248.36 1418.44V1423.74M152.25 1273.43H157.55M301.81 1418.44V1423.74M152.25 1219.98H157.55M355.26 1418.44V1423.74M152.25 1166.53H157.55M408.71 1418.44V1423.74" stroke="#000" stroke-width="1.3" fill="none"/>
<path d="M153.85 1401.6H157.55M173.64 1418.44V1422.14M153.85 1392.19H157.55M183.05 1418.44V1422.14M153.85 1385.51H157.55M189.73 1418.44V1422.14M153.85 1376.1H157.55M199.14 1418.44V1422.14M153.85 1372.52H157.55M202.72 1418.44V1422.14M153.85 1369.42H157.55M205.82 1418.44V1422.14M153.85 1366.69H157.55M208.55 1418.44V1422.14M153.85 1348.15H157.55M227.09 1418.44V1422.14M153.85 1338.74H157.55M236.5 1418.44V1422.14M153.85 1332.06H157.55M243.18 1418.44V1422.14M153.85 1322.65H157.55M252.59 1418.44V1422.14M153.85 1319.07H157.55M256.17 1418.44V1422.14M153.85 1315.97H157.55M259.27 1418.44V1422.14M153.85 1313.24H157.55M262 1418.44V1422.14M153.85 1294.7H157.55M280.54 1418.44V1422.14M153.85 1285.29H157.55M289.95 1418.44V1422.14M153.85 1278.61H157.55M296.63 1418.44V1422.14M153.85 1269.2H157.55M306.04 1418.44V1422.14M153.85 1265.62H157.55M309.62 1418.44V1422.14M153.85 1262.52H157.55M312.72 1418.44V1422.14M153.85 1259.79H157.55M315.45 1418.44V1422.14M153.85 1241.25H157.55M333.99 1418.44V1422.14M153.85 1231.84H157.55M343.4 1418.44V1422.14M153.85 1225.16H157.55M350.08 1418.44V1422.14M153.85 1215.75H157.55M359.49 1418.44V1422.14M153.85 1212.17H157.55M363.07 1418.44V1422.14M153.85 1209.07H157.55M366.17 1418.44V1422.14M153.85 1206.34H157.55M368.9 1418.44V1422.14M153.85 1187.8H157.55M387.44 1418.44V1422.14M153.85 1178.39H157.55M396.85 1418.44V1422.14M153.85 1171.71H157.55M403.53 1418.44V1422.14M153.85 1162.3H157.55M412.94 1418.44V1422.14M153.85 1158.72H157.55M416.52 1418.44V1422.14M153.85 1155.62H157.55M419.62 1418.44V1422.14M153.85 1152.89H157.55M422.35 1418.44V1422.14" stroke="#000" stroke-width="1.3" fill="none"/>
<g><text x="134.65" y="1416.54" text-anchor="end">10</text><text x="135.45" y="1402.04">0</text><text x="162.55" y="1463.74">10</text><text x="183.85" y="1449.14">0</text><text x="134.65" y="1376.34" text-anchor="end">10</text><text x="135.45" y="1361.74">1</text><text x="201.4" y="1463.74">10</text><text x="222.7" y="1449.14">1</text><text x="134.65" y="1322.89" text-anchor="end">10</text><text x="135.45" y="1308.29">2</text><text x="254.85" y="1463.74">10</text><text x="276.15" y="1449.14">2</text><text x="134.65" y="1269.44" text-anchor="end">10</text><text x="135.45" y="1254.84">3</text><text x="308.3" y="1463.74">10</text><text x="329.6" y="1449.14">3</text><text x="134.65" y="1215.99" text-anchor="end">10</text><text x="135.45" y="1201.39">4</text><text x="361.75" y="1463.74">10</text><text x="383.05" y="1449.14">4</text><text x="134.65" y="1184.44" text-anchor="end">10</text><text x="135.45" y="1170.04">5</text><text x="394.55" y="1463.74">10</text><text x="415.85" y="1449.14">5</text></g>
<text x="291.18" y="1476.04" text-anchor="middle">FSC-A</text>
<text transform="translate(119.85 1283.14) rotate(-90)" text-anchor="middle">SSC-A</text>
<ellipse cx="0" cy="0" rx="28.1" ry="17.0" transform="translate(337.6 1335.7) rotate(-50)" fill="none" stroke="#000" stroke-width="1.5"/>
<text x="163.85" y="1221.84">9,03</text>
</g>
<g id="p31">
<g class="d" transform="translate(0 0.5)"><path stroke="#7f90bb" d="M637 1302h1M598 1305h1M560 1306h1M552 1308h1m40 0h1m19 0h1m138 0h1m2 0h1M755 1309h1m10 0h1M669 1310h1M571 1311h1m18 0h1m37 0h1m14 0h1m6 0h1m70 0h1m19 0h1M633 1312h1m28 0h1m39 0h1m18 0h1m2 0h1m38 0h1M618 1314h1m2 0h1m122 0h1M577 1315h1m92 0h1m20 0h1m2 0h1m42 0h1m24 0h1M643 1316h1M578 1317h1m117 0h1m67 0h1M570 1318h1m7 0h1m26 0h1m17 0h1m9 0h1m16 0h1M574 1319h1m28 0h1m8 0h2m45 0h1m96 0h1M607 1320h1m10 0h1m8 0h1m33 0h1M552 1321h1m8 0h1m14 0h1m7 0h1m1 0h1m7 0h1m2 0h1m7 0h2m14 0h1m33 0h1m82 0h2m14 0h1m14 0h1M562 1322h1m6 0h1m7 0h2m13 0h1m4 0h1m2 0h1m16 0h1m3 0h1m29 0h1m108 0h1M546 1323h1m13 0h1m1 0h1m36 0h1m4 0h1m6 0h1m2 0h1m27 0h1M554 1324h1m22 0h1m44 0h1m19 0h1m114 0h1M570 1325h1m1 0h1m3 0h1m11 0h1m10 0h1m20 0h1m79 0h1M539 1326h1m38 0h2m4 0h1m7 0h1m1 0h1m5 0h1m7 0h2m1 0h1m6 0h1m5 0h1m65 0h1m16 0h1M570 1327h1m10 0h1m3 0h1m10 0h1m2 0h1m5 0h1m17 0h2m5 0h1M549 1328h1m1 0h1m2 0h1m12 0h1m15 0h1m47 0h1m80 0h1m48 0h1M552 1329h1m12 0h1m9 0h1m14 0h1m7 0h1m12 0h1m4 0h1m4 0h2m28 0h1m40 0h1m75 0h1m1 0h1M568 1330h1m6 0h1m13 0h1m11 0h2m9 0h1m13 0h1m28 0h1m13 0h1m68 0h1m11 0h1m6 0h1M562 1331h1m3 0h1m24 0h1m7 0h1m4 0h1m1 0h3m5 0h1m5 0h1m27 0h1m17 0h1m18 0h1m13 0h2m66 0h1M550 1332h1m10 0h1m20 0h3m1 0h1m9 0h1m7 0h1m1 0h1m6 0h1m23 0h1m12 0h1m71 0h1m22 0h1M549 1333h1m11 0h2m6 0h2m3 0h1m21 0h1m9 0h1m8 0h1m1 0h1m34 0h1m21 0h1m32 0h1m16 0h1m34 0h1m2 0h1M565 1334h1m2 0h1m3 0h1m8 0h1m13 0h1m23 0h1m8 0h1m4 0h1m23 0h1m81 0h1m27 0h1M556 1335h1m17 0h1m1 0h1m8 0h1m22 0h2m6 0h1m4 0h1m17 0h1m3 0h1M572 1336h1m1 0h1m5 0h1m34 0h1m1 0h1m2 0h1M555 1337h1m12 0h1m2 0h1m9 0h1m39 0h1m19 0h1m5 0h1m58 0h1m31 0h1M539 1338h1m22 0h1m9 0h1m52 0h1m4 0h1m11 0h1m37 0h1M547 1339h1m2 0h1m1 0h1m2 0h1m20 0h1m39 0h1m7 0h2m3 0h1m22 0h1m108 0h1M523 1340h1m16 0h1m2 0h1m10 0h1m46 0h1m13 0h1m8 0h1m7 0h1m6 0h1m77 0h1m20 0h1m18 0h1M560 1341h1m78 0h1m22 0h1M553 1342h1m75 0h1m22 0h1m19 0h1m24 0h1m21 0h1m48 0h1M540 1343h1m2 0h1m13 0h1m2 0h1m64 0h1m8 0h1m43 0h1m51 0h1M553 1344h1m2 0h1m2 0h1m3 0h1m71 0h2m31 0h1m28 0h1m68 0h1M529 1345h1m33 0h1m73 0h2m33 0h1M529 1346h1m97 0h1m12 0h1m5 0h1M544 1347h2m13 0h1m78 0h2m10 0h1m45 0h1m78 0h1M548 1348h2m8 0h1m120 0h1m22 0h1M547 1349h1m4 0h1m6 0h1m81 0h1m5 0h1m2 0h1M544 1350h1m10 0h1m1 0h1m86 0h2M541 1351h1m94 0h1m1 0h1m10 0h1m15 0h1m49 0h1M552 1352h1m73 0h1m13 0h1m38 0h1m16 0h1M524 1353h1m13 0h1m16 0h1m1 0h1m80 0h1m54 0h1M634 1354h1m3 0h1m5 0h1m23 0h1m100 0h1m2 0h1M536 1355h1m7 0h1m87 0h1m29 0h1M626 1356h1m6 0h1m7 0h1m13 0h1m83 0h1M547 1357h1m4 0h1m95 0h1m62 0h1M526 1358h1m111 0h1m2 0h1m107 0h1M545 1359h1m3 0h1m1 0h1m77 0h1m3 0h1m87 0h1M533 1360h1m99 0h1m7 0h1m126 0h1m10 0h1M531 1361h1m6 0h1m6 0h1m211 0h1M631 1362h1m3 0h1m14 0h1m104 0h1m22 0h2M545 1363h1m141 0h1m80 0h1M549 1364h1m79 0h2m5 0h2m8 0h1m4 0h1m3 0h1m86 0h1m25 0h2m1 0h1m6 0h1M536 1366h1m97 0h2m22 0h1m10 0h1m73 0h1m12 0h1m23 0h1M531 1367h1m15 0h1m89 0h1m9 0h1m12 0h2m1 0h1m58 0h1m30 0h1M536 1368h1m1 0h1m2 0h1m3 0h1m3 0h1m86 0h1m13 0h1m103 0h1M622 1369h1m2 0h1m4 0h1m6 0h1m119 0h1M531 1370h1m6 0h1m85 0h1m9 0h1m4 0h1m5 0h1m91 0h1m2 0h1m26 0h1M622 1371h1m9 0h1m1 0h1m13 0h1m22 0h1m92 0h1m7 0h1M526 1372h1m6 0h2m2 0h1m6 0h1m77 0h1m9 0h1m1 0h1m18 0h1m21 0h1m4 0h1M627 1373h1m8 0h1m52 0h1m39 0h1m52 0h1M527 1374h1m4 0h1m8 0h1m3 0h1m1 0h1m75 0h1m6 0h1m3 0h1m3 0h1m8 0h1m5 0h1m65 0h1m57 0h1M541 1375h1m80 0h1m27 0h1M520 1376h1m15 0h2m5 0h1m2 0h1m90 0h1m136 0h1M520 1377h1m1 0h1m2 0h1m14 0h1m7 0h1m76 0h3m7 0h1m36 0h1m8 0h1m23 0h1m61 0h1M548 1378h1m80 0h1m2 0h1m4 0h1m62 0h1m61 0h1m3 0h1M538 1379h1m83 0h1m3 0h1m1 0h1m9 0h1m130 0h1M627 1380h1m5 0h4m10 0h1m19 0h1m64 0h1m7 0h1m16 0h1M522 1381h1m105 0h1m56 0h1m8 0h1m50 0h1m16 0h1m5 0h1m5 0h1m3 0h1M518 1382h1m159 0h1m20 0h1m17 0h1m18 0h1M653 1383h1m15 0h1m3 0h1m49 0h1M518 1384h1m136 0h1m83 0h1m14 0h1M520 1385h1m125 0h1m3 0h1m28 0h1m4 0h1m1 0h1m6 0h1m9 0h1m1 0h2m7 0h2m10 0h1m2 0h1m8 0h1m3 0h1m17 0h1m1 0h1m12 0h1M732 1386h1m2 0h1m7 0h2m24 0h1M520 1387h1M519 1391h1M521 1392h1M517 1394h1M520 1395h1M517 1397h1M520 1398h2m257 0h1M729 1399h1m18 0h1m11 0h1m15 0h1M696 1400h1m42 0h2m2 0h1m1 0h1m16 0h1m2 0h1m5 0h1m1 0h1M518 1401h1m2 0h1m144 0h1m47 0h1m1 0h1m5 0h1m19 0h1m17 0h1m9 0h1m5 0h1"/><path stroke="#2755ab" d="M601 1331h1M588 1332h1m1 0h2m9 0h1M586 1333h1m3 0h1m1 0h1m7 0h1M588 1334h1m2 0h1m8 0h1m2 0h1m9 0h1M586 1335h1m12 0h1m3 0h1m1 0h1m7 0h2M588 1336h1m1 0h3m1 0h1m1 0h1m2 0h1m5 0h2m3 0h1M586 1337h1m1 0h1m2 0h1m5 0h1m4 0h1m4 0h1m1 0h1M580 1338h1m7 0h1m1 0h4m1 0h1m2 0h1m1 0h1m4 0h1m3 0h1m11 0h1M563 1339h1m1 0h1m5 0h1m10 0h1m5 0h3m4 0h1m8 0h4m1 0h1m9 0h3M572 1340h1m5 0h1m1 0h1m5 0h3m1 0h4m1 0h1m3 0h1m2 0h1m1 0h2m12 0h1m1 0h1M563 1341h4m1 0h1m1 0h1m3 0h1m7 0h3m6 0h2m1 0h1m2 0h1m1 0h1m5 0h2m1 0h3m1 0h2m2 0h1m1 0h1M562 1342h1m1 0h1m1 0h3m1 0h1m2 0h1m2 0h2m2 0h2m1 0h1m4 0h2m3 0h1m1 0h2m2 0h1m6 0h3m1 0h2m1 0h1m1 0h1m6 0h1M569 1343h1m5 0h1m2 0h1m5 0h1m2 0h1m2 0h2m2 0h2m7 0h1m5 0h1m7 0h6M565 1344h1m2 0h1m1 0h1m3 0h1m1 0h1m3 0h1m2 0h1m2 0h3m2 0h2m1 0h1m3 0h3m2 0h1m2 0h1m2 0h1m1 0h1m2 0h2m3 0h1m1 0h1M565 1345h1m1 0h1m2 0h1m2 0h1m7 0h2m3 0h1m1 0h1m4 0h5m1 0h1m2 0h1m9 0h1m1 0h1m6 0h1m2 0h1M576 1346h2m1 0h1m3 0h1m2 0h1m2 0h4m3 0h1m1 0h4m1 0h3m4 0h1m1 0h2m3 0h1m2 0h3m3 0h1M568 1347h1m1 0h1m2 0h5m2 0h4m1 0h2m6 0h2m2 0h2m1 0h2m2 0h1m2 0h1m7 0h2m3 0h1m3 0h2M566 1348h1m1 0h1m1 0h3m6 0h1m2 0h3m1 0h1m2 0h1m2 0h2m2 0h4m1 0h1m1 0h3m3 0h2m1 0h1m2 0h1m4 0h1m3 0h2m4 0h1M566 1349h5m1 0h2m2 0h1m2 0h11m1 0h1m1 0h3m2 0h2m4 0h5m6 0h1m3 0h3m1 0h1m3 0h4m1 0h2M562 1350h4m1 0h1m1 0h1m1 0h2m1 0h1m1 0h6m3 0h2m1 0h2m3 0h3m6 0h2m1 0h2m4 0h2m8 0h1m3 0h1m4 0h1m1 0h1M563 1351h1m4 0h1m2 0h2m2 0h1m1 0h3m1 0h4m1 0h2m1 0h11m2 0h1m1 0h1m3 0h5m2 0h1m2 0h2m1 0h2m8 0h1M565 1352h1m1 0h5m1 0h12m1 0h5m3 0h2m1 0h2m1 0h2m1 0h2m7 0h2m1 0h1m1 0h1m1 0h1m2 0h1m6 0h1m2 0h1M561 1353h1m2 0h2m1 0h12m1 0h4m1 0h8m1 0h3m2 0h1m1 0h3m1 0h3m2 0h1m6 0h1m5 0h1m5 0h1M560 1354h1m1 0h10m1 0h17m1 0h8m2 0h3m3 0h1m1 0h3m3 0h1m1 0h1m5 0h1m4 0h1m1 0h1M559 1355h2m3 0h1m1 0h5m1 0h1m1 0h1m1 0h10m1 0h3m2 0h4m2 0h1m2 0h1m1 0h2m1 0h1m1 0h2m2 0h1m7 0h3m1 0h1M559 1356h1m2 0h4m2 0h3m1 0h7m1 0h19m1 0h2m2 0h2m1 0h1m2 0h3m2 0h2m3 0h1m1 0h2m5 0h1M557 1357h1m1 0h1m1 0h3m1 0h6m2 0h1m1 0h4m1 0h9m1 0h2m1 0h8m1 0h2m3 0h1m1 0h1m1 0h1m2 0h1m6 0h1m6 0h1M557 1358h1m2 0h2m1 0h25m1 0h11m1 0h3m1 0h1m1 0h1m1 0h1m1 0h2m4 0h1m1 0h1m6 0h1M554 1359h1m1 0h2m2 0h2m1 0h5m1 0h1m2 0h5m1 0h1m1 0h7m1 0h1m1 0h4m1 0h1m1 0h10m2 0h3m2 0h1m2 0h1m4 0h1m3 0h1m1 0h1M554 1360h2m2 0h2m1 0h12m1 0h2m1 0h10m1 0h1m1 0h4m2 0h2m1 0h3m2 0h7m2 0h1m3 0h2m3 0h3M553 1361h1m2 0h1m1 0h3m1 0h6m1 0h10m1 0h3m1 0h6m1 0h6m1 0h2m1 0h2m1 0h7m1 0h1m1 0h1m12 0h1M557 1362h8m1 0h2m2 0h8m1 0h7m1 0h15m1 0h7m1 0h1m1 0h2m2 0h1m3 0h2m3 0h1m2 0h1M552 1363h1m1 0h1m2 0h3m1 0h8m1 0h3m2 0h16m1 0h3m2 0h6m1 0h2m1 0h1m6 0h3m2 0h1m3 0h1M553 1364h1m2 0h3m1 0h14m1 0h12m1 0h9m1 0h5m1 0h3m1 0h2m1 0h2m5 0h1m2 0h1m1 0h1m1 0h2m1 0h1M552 1365h1m2 0h7m1 0h4m1 0h6m1 0h13m1 0h6m1 0h5m1 0h6m1 0h1m1 0h4m1 0h1m3 0h2m1 0h1m1 0h2M553 1366h1m1 0h11m1 0h8m1 0h3m1 0h14m1 0h10m1 0h4m1 0h1m2 0h2m1 0h1m5 0h1m3 0h1M556 1367h2m1 0h1m1 0h18m1 0h10m1 0h17m1 0h3m2 0h1m2 0h2m7 0h1M553 1368h1m1 0h2m1 0h3m1 0h16m1 0h31m3 0h1m1 0h1m10 0h1M558 1369h8m1 0h12m1 0h6m1 0h3m2 0h15m2 0h5m14 0h1M551 1370h1m2 0h13m2 0h4m1 0h24m1 0h4m1 0h7m1 0h3m2 0h1m8 0h2m1 0h1M557 1371h6m1 0h2m2 0h13m1 0h12m1 0h12m1 0h3m2 0h1m3 0h1m11 0h1M551 1372h1m1 0h17m1 0h2m1 0h12m1 0h18m1 0h9m13 0h1M551 1373h1m1 0h7m1 0h6m2 0h6m1 0h4m1 0h1m1 0h4m1 0h8m1 0h9m1 0h6m3 0h1m1 0h1M534 1374h1m19 0h1m2 0h23m1 0h11m1 0h18m2 0h1m1 0h4m163 0h2M532 1375h1m20 0h4m1 0h5m1 0h8m1 0h34m1 0h1m5 0h1M533 1376h2m18 0h1m3 0h1m1 0h3m1 0h1m1 0h9m1 0h10m1 0h9m1 0h14m1 0h1m1 0h1m3 0h3m163 0h1M530 1377h3m10 0h1m7 0h2m2 0h10m1 0h3m1 0h8m1 0h14m1 0h15m1 0h2m1 0h1m2 0h2m164 0h2M527 1378h1m15 0h2m7 0h2m1 0h15m1 0h9m1 0h1m1 0h7m1 0h9m1 0h4m1 0h2m1 0h2m1 0h3m2 0h1m1 0h1M525 1379h3m3 0h2m10 0h1m6 0h1m2 0h1m2 0h4m1 0h4m2 0h9m1 0h4m1 0h2m1 0h11m1 0h1m1 0h18M527 1380h1m2 0h2m1 0h3m2 0h1m6 0h1m4 0h1m2 0h2m1 0h4m1 0h5m1 0h9m1 0h33m1 0h1m1 0h1m5 0h1m162 0h2M524 1381h2m4 0h2m1 0h2m5 0h3m3 0h1m1 0h1m1 0h1m1 0h2m1 0h11m1 0h1m2 0h7m1 0h18m1 0h3m1 0h3m1 0h6m1 0h2m2 0h1m7 0h1m157 0h2M526 1382h1m1 0h4m2 0h2m1 0h1m2 0h2m4 0h1m1 0h1m1 0h1m1 0h9m1 0h7m1 0h1m1 0h13m1 0h29m3 0h1m1 0h2m2 0h1m6 0h1m151 0h1M526 1383h2m4 0h3m2 0h5m2 0h1m1 0h1m2 0h3m1 0h2m2 0h8m1 0h1m1 0h1m1 0h17m1 0h3m1 0h2m1 0h4m1 0h8m1 0h3m1 0h3m3 0h3m1 0h1m5 0h1M527 1384h1m4 0h1m1 0h3m2 0h4m1 0h1m5 0h11m1 0h6m1 0h14m1 0h4m1 0h25m1 0h7m2 0h1m2 0h1m2 0h1m1 0h4m1 0h1m144 0h2M524 1385h2m2 0h1m2 0h5m2 0h1m1 0h18m1 0h3m1 0h2m1 0h41m1 0h4m1 0h1m1 0h5m2 0h3m1 0h1m4 0h1m1 0h1m4 0h1m3 0h1m12 0h1m6 0h1m38 0h1m80 0h1M527 1386h2m2 0h10m2 0h5m2 0h4m1 0h7m1 0h50m1 0h11m1 0h1m2 0h2m3 0h1m2 0h1m1 0h2m10 0h2m2 0h1m2 0h1m2 0h3m5 0h2m5 0h1m23 0h2m54 0h1m1 0h2m2 0h1m11 0h1m3 0h1m3 0h1M522 1387h1m1 0h4m1 0h1m2 0h15m2 0h6m2 0h47m1 0h15m2 0h19m5 0h1m1 0h2m4 0h1m2 0h1m3 0h2m1 0h2m2 0h1m1 0h1m2 0h1m5 0h1m1 0h1m1 0h1m7 0h1m6 0h1m2 0h4m3 0h1m1 0h1m3 0h4m10 0h1m3 0h1m4 0h2m9 0h1m2 0h1m3 0h3m2 0h1m3 0h2m1 0h1m1 0h1m6 0h2m5 0h1M521 1388h1m2 0h1m3 0h1m1 0h3m1 0h9m1 0h1m1 0h3m1 0h70m1 0h1m1 0h8m1 0h4m1 0h9m2 0h1m1 0h3m1 0h3m1 0h4m2 0h3m2 0h1m1 0h2m1 0h2m6 0h2m1 0h1m1 0h1m2 0h1m3 0h1m2 0h2m3 0h1m3 0h1m1 0h2m3 0h3m1 0h2m1 0h1m3 0h1m1 0h2m3 0h1m2 0h3m1 0h1m4 0h1m1 0h1m4 0h2m1 0h5m1 0h1m3 0h3m2 0h1m1 0h2m3 0h3m5 0h1M524 1389h2m4 0h7m1 0h10m1 0h4m1 0h62m1 0h28m1 0h5m1 0h4m2 0h1m1 0h4m1 0h1m1 0h2m1 0h1m1 0h2m1 0h3m1 0h4m1 0h3m1 0h1m1 0h3m1 0h1m4 0h2m2 0h1m1 0h1m3 0h1m1 0h1m2 0h8m3 0h2m1 0h3m2 0h1m1 0h1m2 0h1m2 0h1m3 0h1m1 0h4m1 0h3m2 0h3m1 0h4m13 0h1m4 0h1M522 1390h1m2 0h3m1 0h2m1 0h3m1 0h3m1 0h10m1 0h63m1 0h4m1 0h1m1 0h7m1 0h6m1 0h4m1 0h1m2 0h2m1 0h11m2 0h2m1 0h2m4 0h3m2 0h1m1 0h1m1 0h2m2 0h2m1 0h4m3 0h3m1 0h1m1 0h1m2 0h1m1 0h1m1 0h1m2 0h1m1 0h2m1 0h1m1 0h4m2 0h2m1 0h1m1 0h2m1 0h1m1 0h1m2 0h3m1 0h3m1 0h3m1 0h2m1 0h2m1 0h4m6 0h1m2 0h1m3 0h7m1 0h1m3 0h1M528 1391h23m1 0h67m1 0h20m1 0h3m2 0h8m1 0h4m2 0h1m1 0h2m1 0h2m1 0h4m2 0h1m1 0h6m1 0h1m2 0h1m1 0h1m1 0h2m1 0h5m1 0h1m1 0h5m1 0h4m1 0h3m1 0h1m1 0h5m1 0h5m1 0h1m1 0h1m2 0h10m3 0h5m1 0h1m1 0h3m3 0h1m2 0h2m1 0h2m1 0h3m1 0h3m2 0h2M524 1392h2m4 0h95m1 0h15m1 0h5m1 0h4m1 0h3m1 0h5m1 0h5m1 0h1m1 0h5m2 0h3m2 0h1m1 0h1m1 0h2m1 0h1m1 0h4m1 0h2m1 0h8m1 0h1m1 0h1m1 0h3m1 0h1m1 0h5m1 0h3m2 0h3m2 0h1m3 0h3m1 0h4m1 0h3m1 0h4m1 0h4m1 0h1m2 0h2m1 0h1m1 0h2m1 0h4m1 0h1M523 1393h1m1 0h90m1 0h19m1 0h10m3 0h4m1 0h10m1 0h1m1 0h5m1 0h5m1 0h2m1 0h7m1 0h2m1 0h14m1 0h8m1 0h3m1 0h4m1 0h3m1 0h1m1 0h2m3 0h7m1 0h1m1 0h3m3 0h2m3 0h1m2 0h1m1 0h5m2 0h1m1 0h3m3 0h1m3 0h2M523 1394h1m3 0h6m1 0h84m1 0h22m1 0h33m1 0h7m1 0h2m2 0h1m1 0h5m1 0h3m1 0h2m1 0h3m1 0h1m1 0h1m1 0h9m1 0h8m1 0h9m1 0h5m2 0h2m3 0h1m2 0h1m1 0h2m3 0h3m1 0h5m1 0h1m1 0h1m1 0h2m4 0h1M523 1395h2m1 0h1m1 0h6m2 0h79m1 0h23m1 0h5m1 0h4m1 0h10m1 0h9m1 0h1m1 0h5m3 0h5m4 0h1m2 0h1m1 0h5m1 0h2m2 0h4m1 0h3m1 0h6m2 0h1m2 0h1m1 0h1m2 0h5m2 0h5m3 0h2m1 0h4m1 0h3m3 0h1m1 0h3m1 0h1m3 0h2m1 0h1m2 0h2m4 0h2M522 1396h1m3 0h7m1 0h124m2 0h3m1 0h13m1 0h1m3 0h4m2 0h1m1 0h4m1 0h6m1 0h1m1 0h2m2 0h1m1 0h2m1 0h1m3 0h1m2 0h3m1 0h2m2 0h1m2 0h1m2 0h6m3 0h2m4 0h2m2 0h2m5 0h1m2 0h1m1 0h1m4 0h1m2 0h1m3 0h2m3 0h1M523 1397h1m1 0h1m1 0h97m1 0h1m1 0h7m1 0h1m1 0h6m1 0h7m1 0h6m1 0h4m1 0h2m1 0h2m1 0h3m1 0h7m1 0h1m4 0h3m2 0h7m2 0h2m3 0h1m1 0h3m1 0h3m1 0h1m1 0h8m2 0h1m5 0h2m1 0h2m2 0h2m2 0h1m2 0h1m1 0h3m2 0h1m2 0h1m2 0h1m1 0h2m3 0h1m1 0h1m1 0h1m1 0h1m3 0h1M523 1398h2m5 0h69m1 0h8m1 0h14m1 0h21m1 0h3m1 0h1m1 0h1m3 0h3m1 0h3m2 0h1m1 0h2m1 0h1m1 0h8m1 0h2m1 0h3m1 0h5m3 0h1m1 0h3m3 0h1m2 0h2m4 0h3m2 0h1m1 0h3m1 0h2m1 0h1m5 0h1m4 0h3m5 0h1m7 0h2m4 0h2m3 0h4m13 0h2M526 1399h9m1 0h60m1 0h7m1 0h13m1 0h2m1 0h3m1 0h4m1 0h1m3 0h6m1 0h1m2 0h4m1 0h1m2 0h1m6 0h3m1 0h1m2 0h1m1 0h3m1 0h1m1 0h4m1 0h1m3 0h2m1 0h2m2 0h2m9 0h1m1 0h1m1 0h3m2 0h1m2 0h1m4 0h1m3 0h1m11 0h1m1 0h1m8 0h2m16 0h1m1 0h1m16 0h1M525 1400h1m3 0h2m2 0h75m2 0h1m1 0h5m1 0h1m2 0h7m2 0h3m1 0h1m1 0h6m3 0h2m2 0h1m1 0h4m2 0h2m2 0h1m6 0h1m5 0h1m4 0h1m4 0h1m2 0h1m1 0h2m12 0h1m1 0h1m4 0h3m12 0h1M525 1401h1m1 0h1m2 0h26m1 0h11m1 0h12m1 0h1m1 0h5m1 0h9m1 0h4m1 0h2m2 0h4m1 0h3m2 0h1m2 0h1m1 0h1m1 0h6m1 0h2m1 0h3m2 0h1m10 0h1m3 0h1m12 0h2m2 0h1m2 0h1m2 0h1m8 0h1"/><path stroke="#3178cc" d="M576 1385h16M569 1386h32M565 1387h39M562 1388h43M560 1389h46M541 1390h4m12 0h55M539 1391h10m5 0h59M538 1392h75M538 1393h75m25 0h1M538 1394h73m27 0h1M538 1395h69M538 1396h67M540 1397h62M552 1398h47M555 1399h40M561 1400h28M569 1401h11"/><path stroke="#3c9fdc" d="M574 1386h20M568 1387h33M565 1388h38M562 1389h42M560 1390h44M558 1391h47M540 1392h7m9 0h49M540 1393h9m5 0h51M539 1394h11m3 0h51M540 1395h10m3 0h50M542 1396h6m5 0h48M554 1397h45M556 1398h39M560 1399h31M563 1400h21"/><path stroke="#48b7cf" d="M576 1386h12M570 1387h25M567 1388h33M564 1389h37M562 1390h40M560 1391h42M558 1392h44M557 1393h45M556 1394h45M556 1395h44M556 1396h43M557 1397h39M559 1398h33M562 1399h26M567 1400h14"/><path stroke="#58bd7a" d="M573 1387h17M569 1388h26M566 1389h31M564 1390h34M562 1391h37M560 1392h39M559 1393h40M558 1394h41M558 1395h40M558 1396h37M559 1397h34M562 1398h28M565 1399h20M571 1400h7"/><path stroke="#6cc344" d="M573 1388h15M569 1389h24M567 1390h27M565 1391h30M564 1392h31M563 1393h32M562 1394h32M562 1395h31M563 1396h28M564 1397h25M566 1398h19M570 1399h9"/><path stroke="#a5cf28" d="M577 1388h5M572 1389h15M570 1390h20M568 1391h23M566 1392h26M565 1393h27M565 1394h26M565 1395h25M566 1396h22M567 1397h18M569 1398h12"/><path stroke="#d8d81f" d="M575 1389h8M572 1390h15M570 1391h18M568 1392h21M567 1393h22M567 1394h21M567 1395h20M568 1396h17M569 1397h13M575 1398h1"/><path stroke="#f6c01c" d="M574 1390h10M572 1391h14M570 1392h16M569 1393h17M569 1394h17M569 1395h15M570 1396h12M573 1397h6"/><path stroke="#f7981e" d="M577 1390h4M574 1391h9M572 1392h12M571 1393h14M571 1394h13M571 1395h12M573 1396h7"/><path stroke="#f46a22" d="M575 1391h6M573 1392h10M573 1393h10M572 1394h10M573 1395h8M575 1396h2"/><path stroke="#ee4122" d="M575 1392h6M574 1393h7M574 1394h7M575 1395h3"/><path stroke="#fff" d="M570 1386h1M562 1388h1M560 1389h1M557 1392h1M542 1393h1m6 0h1M542 1394h1M554 1395h1M551 1396h1M548 1397h1M556 1398h1m38 0h1M573 1401h1"/></g>
<path d="M516.5 1150.44H784.85" stroke="#858585" stroke-width="0.9" fill="none"/>
<path d="M784.45 1150.44V1418.44" stroke="#858585" stroke-width="0.95" fill="none"/>
<path d="M516.5 1150.44V1418.84M516.1 1418.44H784.85" stroke="#3a3a3a" stroke-width="0.85" fill="none"/>
<path d="M509.1 1417.34H516.8M517.7 1418.24V1425.64M509.1 1364.24H516.8M569.95 1418.24V1425.64M509.1 1310.79H516.8M623.4 1418.24V1425.64M509.1 1257.34H516.8M676.85 1418.24V1425.64M509.1 1203.89H516.8M730.3 1418.24V1425.64M509.1 1151.74H516.8M783.15 1418.24V1425.64" stroke="#000" stroke-width="1.6" fill="none"/>
<path d="M512.8 1404.33H516.5M529.86 1418.44V1422.14M512.8 1390.97H516.5M543.23 1418.44V1422.14M512.8 1377.6H516.5M556.59 1418.44V1422.14M512.8 1350.88H516.5M583.31 1418.44V1422.14M512.8 1337.52H516.5M596.67 1418.44V1422.14M512.8 1324.15H516.5M610.04 1418.44V1422.14M512.8 1297.43H516.5M636.76 1418.44V1422.14M512.8 1284.07H516.5M650.12 1418.44V1422.14M512.8 1270.7H516.5M663.49 1418.44V1422.14M512.8 1243.98H516.5M690.21 1418.44V1422.14M512.8 1230.62H516.5M703.58 1418.44V1422.14M512.8 1217.25H516.5M716.94 1418.44V1422.14M512.8 1190.53H516.5M743.66 1418.44V1422.14M512.8 1177.16H516.5M757.02 1418.44V1422.14M512.8 1163.8H516.5M770.39 1418.44V1422.14" stroke="#000" stroke-width="1.3" fill="none"/>
<g><text x="504.3" y="1416.44" text-anchor="end">0</text><text x="515.7" y="1463.34">0</text><text x="504.3" y="1376.24" text-anchor="end">20K</text><text x="548.75" y="1463.34">20K</text><text x="504.3" y="1322.79" text-anchor="end">40K</text><text x="602.2" y="1463.34">40K</text><text x="504.3" y="1269.34" text-anchor="end">60K</text><text x="655.65" y="1463.34">60K</text><text x="504.3" y="1215.89" text-anchor="end">80K</text><text x="709.1" y="1463.34">80K</text><text x="504.3" y="1169.64" text-anchor="end">100K</text><text x="783.55" y="1463.34" text-anchor="end">100K</text></g>
<text x="650.12" y="1476.04" text-anchor="middle">FSC-W</text>
<text transform="translate(470.8 1283.94) rotate(-90)" text-anchor="middle">SSC-W</text>
<path d="M550.6 1386.14L572.4 1382.24L605.5 1384.04L610 1404.04L573.3 1408.34L550.6 1408.64Z" fill="none" stroke="#000" stroke-width="1.5"/>
<text x="571.5" y="1239.84">86,3</text>
</g>
<g id="p32">
<g class="d" transform="translate(0 0.5)"><path stroke="#7f90bb" d="M1047 1151h1M1067 1163h1M1052 1166h1M1051 1168h1m7 0h1M1049 1169h1M1046 1171h1M1040 1173h1m10 0h1m3 0h2M1058 1175h1M1055 1177h1m3 0h1M1053 1180h1M1055 1181h1M1053 1182h1m3 0h1M1056 1184h1m5 0h1M1047 1185h1m6 0h1M1038 1186h1m6 0h1m11 0h1M1058 1187h1M1041 1188h1m23 0h1M1053 1189h1m7 0h1M1036 1190h1m7 0h2m6 0h1m13 0h1M1047 1191h1m3 0h2m2 0h1M1040 1192h2m3 0h1m9 0h3m1 0h1m9 0h1M1041 1194h1m2 0h1m2 0h1m13 0h1m15 0h1M1034 1195h1m4 0h1m5 0h1m18 0h1M1034 1198h1M1061 1199h1M1061 1201h1m5 0h1M1062 1202h1M1064 1203h1M1067 1204h1m4 0h1m11 0h1M1071 1205h1m3 0h1M1068 1206h1m1 0h2m3 0h1M1067 1207h1m6 0h1M1064 1208h1m7 0h1M1075 1210h1M1075 1211h1M1074 1213h1M1078 1216h1M1075 1217h1m1 0h1M1072 1218h1m6 0h1M1072 1219h1m1 0h1M1071 1222h1M1073 1223h1m1 0h1M1072 1226h1M1076 1227h1M1076 1228h1M1074 1229h1M1083 1230h1M1091 1231h1M1077 1232h1M1072 1233h1M1075 1235h1M1072 1237h1m1 0h1M1082 1239h1M1074 1240h1M1074 1242h1M1074 1244h1M1076 1246h1M1074 1247h1M1072 1248h1M1079 1249h1M1077 1251h1M1080 1252h1M1077 1253h1M1074 1256h1M1074 1257h1M1077 1258h1M1076 1260h1M1077 1262h1M1077 1267h1M1076 1268h1M1075 1272h1M1075 1273h2M1076 1278h2M1076 1280h1M1077 1283h1M1075 1284h1m1 0h1m1 0h1M1078 1285h1M1076 1286h1M1079 1287h1M1075 1288h1m2 0h1M1080 1290h1M1077 1292h1m1 0h1M1080 1293h1M1076 1294h1m4 0h1M1076 1296h1M1076 1297h1M1078 1299h1M1077 1300h1m10 0h1M1078 1304h1M1084 1305h1M1076 1307h1m5 0h1M1075 1310h1m3 0h1M1077 1312h1M1077 1313h1M1075 1315h1m5 0h1M1076 1316h1m2 0h1M1078 1318h1M1075 1319h1M1076 1322h1M1077 1323h1M1077 1325h1m1 0h1M1075 1326h1m3 0h1M1078 1328h2M1074 1329h1M1077 1330h1M1076 1333h1M1077 1334h1M1074 1337h1M1075 1340h1M1075 1341h1M1075 1342h1M1081 1344h1M1078 1346h1M1080 1349h1M1074 1354h1M1074 1357h1m1 0h1M1074 1360h1M1074 1364h2M1075 1365h1M1077 1367h1M1076 1369h1M1076 1370h1M1074 1371h1M1074 1372h1M1081 1373h1M1072 1375h1M1074 1377h1M1073 1379h1M1073 1380h1m7 0h1M1074 1383h1M1073 1384h1M1075 1385h1M1072 1387h1M1072 1388h1M1077 1391h1M1073 1392h1M1071 1398h1M1073 1399h1M1073 1402h1M1075 1403h1M1071 1404h2M1072 1406h1M1069 1408h2M1072 1409h1"/><path stroke="#2755ab" d="M1048 1195h1m1 0h2M1046 1196h1m7 0h1M1037 1197h2m3 0h1m2 0h1m3 0h1m4 0h1M1039 1198h1m2 0h1m1 0h1m1 0h2m2 0h1m1 0h1m1 0h1m2 0h1M1035 1199h1m3 0h1m1 0h1m2 0h2m1 0h2m3 0h1m2 0h1M1037 1200h4m1 0h2m2 0h6m1 0h2m1 0h3M1036 1201h4m1 0h1m2 0h6m1 0h3m2 0h1m2 0h1M1035 1202h21m1 0h2M1033 1203h1m1 0h16m2 0h4M1035 1204h8m1 0h8m1 0h4m2 0h3M1035 1205h1m2 0h9m2 0h3m1 0h6m2 0h2M1034 1206h3m2 0h2m1 0h7m1 0h10M1033 1207h1m2 0h5m1 0h3m1 0h13m1 0h3M1033 1208h4m1 0h4m1 0h2m1 0h5m1 0h6m2 0h1m6 0h3M1032 1209h12m1 0h11m1 0h4m1 0h1m4 0h1m4 0h1M1032 1210h1m1 0h21m1 0h5m1 0h1m4 0h1M1033 1211h6m1 0h5m1 0h9m1 0h3m2 0h2m1 0h1m2 0h1m3 0h1M1032 1212h18m1 0h7m2 0h1m2 0h1m5 0h2M1033 1213h15m1 0h3m1 0h9m4 0h1m2 0h1m1 0h2M1033 1214h6m1 0h14m1 0h4m2 0h2m4 0h1m3 0h3M1033 1215h20m1 0h2m1 0h9m3 0h1m1 0h1M1033 1216h6m1 0h22m1 0h2m1 0h1m1 0h1m3 0h3M1032 1217h7m1 0h13m1 0h9m2 0h3M1032 1218h19m2 0h4m1 0h1m1 0h1m1 0h2m2 0h1M1033 1219h28m1 0h2m2 0h1M1032 1220h2m1 0h21m1 0h5m5 0h1M1033 1221h1m1 0h30m4 0h2M1034 1222h21m2 0h1m1 0h4m2 0h2m2 0h1M1033 1223h1m1 0h34M1033 1224h26m1 0h5M1033 1225h31m1 0h1M1032 1226h3m1 0h21m1 0h5m1 0h1m4 0h1M1033 1227h29m1 0h3m1 0h1m1 0h1M1032 1228h32m5 0h1m2 0h1M1032 1229h35m3 0h1M1034 1230h33M1034 1231h22m1 0h2m1 0h2m1 0h1m2 0h1m1 0h2m1 0h1M1033 1232h29m2 0h2M1032 1233h26m1 0h5m1 0h1m1 0h2M1032 1234h35m2 0h2M1033 1235h28m1 0h5m2 0h2M1033 1236h28m1 0h7m1 0h1M1032 1237h35m2 0h2M1032 1238h1m1 0h27m2 0h6M1032 1239h34m4 0h2M1033 1240h1m1 0h31m2 0h1m3 0h1M1033 1241h28m1 0h6M1032 1242h30m1 0h4m1 0h1M1033 1243h34m1 0h1m2 0h1M1032 1244h33m1 0h2m3 0h1M1032 1245h29m2 0h4m2 0h4M1032 1246h36m1 0h1M1033 1247h31m1 0h2M1033 1248h1m1 0h28m1 0h6M1032 1249h34m1 0h3m2 0h1M1033 1250h30m1 0h7M1033 1251h35M1032 1252h39m2 0h2M1032 1253h1m1 0h28m1 0h6m2 0h1M1032 1254h28m1 0h2m1 0h6m3 0h1M1033 1255h31m1 0h5m1 0h2M1032 1256h35m2 0h1M1033 1257h32m2 0h1m2 0h1M1033 1258h34m3 0h1m1 0h2M1032 1259h36m2 0h1M1032 1260h39m4 0h1M1034 1261h34m2 0h2m1 0h4M1033 1262h34m1 0h1m2 0h2M1032 1263h37M1033 1264h39m3 0h1M1033 1265h35m1 0h3m1 0h2M1034 1266h41M1034 1267h36m1 0h1M1032 1268h34m1 0h3M1032 1269h36m1 0h1m1 0h3M1033 1270h32m1 0h3m1 0h1M1032 1271h32m1 0h5m2 0h2M1033 1272h37m1 0h1M1033 1273h36m1 0h2M1032 1274h34m2 0h1m2 0h2M1032 1275h33m1 0h4m1 0h1m1 0h2M1032 1276h33m1 0h6m1 0h2M1032 1277h33m1 0h3M1032 1278h33m1 0h3m2 0h3M1033 1279h34m1 0h2m2 0h2m1 0h1M1032 1280h38m1 0h1m1 0h2M1033 1281h39m2 0h1M1032 1282h36m1 0h2m3 0h1M1032 1283h34m2 0h2m2 0h1M1032 1284h37m1 0h2m1 0h1M1032 1285h35m1 0h1m1 0h1M1032 1286h34m1 0h4m2 0h1M1033 1287h39M1033 1288h34m1 0h5M1032 1289h40m1 0h2M1032 1290h40m4 0h1M1032 1291h35m1 0h2m1 0h1m1 0h2M1032 1292h34m1 0h3m3 0h2m1 0h1M1032 1293h34m1 0h1m1 0h3M1032 1294h35m1 0h1m4 0h1m1 0h1M1032 1295h39M1032 1296h40M1032 1297h39M1032 1298h39m2 0h1M1032 1299h39m1 0h1m1 0h1M1032 1300h36m2 0h4M1032 1301h41m1 0h1M1032 1302h35m1 0h3m1 0h1M1032 1303h33m1 0h3m3 0h1m3 0h1M1033 1304h37m1 0h1m3 0h2M1032 1305h34m1 0h1m1 0h2m1 0h1m1 0h1M1032 1306h35m1 0h4m1 0h1M1032 1307h39m1 0h1M1032 1308h38m4 0h1M1032 1309h35m1 0h2m1 0h1M1032 1310h41M1032 1311h38m1 0h1M1032 1312h40m3 0h1M1033 1313h36m1 0h1m1 0h2m1 0h2M1032 1314h37m1 0h2M1032 1315h36m1 0h3M1033 1316h34m1 0h2m1 0h1M1032 1317h38m1 0h1M1032 1318h37m3 0h1M1032 1319h40m1 0h1M1033 1320h37m2 0h2M1032 1321h38m1 0h1m1 0h2M1032 1322h36m1 0h2m1 0h2M1032 1323h39m2 0h1M1033 1324h36m1 0h1m1 0h3M1032 1325h35m1 0h3m3 0h1M1032 1326h39m3 0h1M1032 1327h38m1 0h2M1032 1328h34m1 0h3M1033 1329h35m2 0h1m2 0h1M1032 1330h37m1 0h1M1032 1331h38m2 0h1m1 0h1M1032 1332h36m2 0h4M1033 1333h36m1 0h2M1032 1334h40m1 0h1M1032 1335h36m2 0h3M1032 1336h39m2 0h1M1033 1337h36m3 0h1M1032 1338h38M1033 1339h35m1 0h2m1 0h1M1033 1340h38m1 0h1M1032 1341h36m1 0h3M1032 1342h33m1 0h3m2 0h1m1 0h1M1032 1343h36m1 0h1m1 0h1M1032 1344h34m1 0h2M1033 1345h37m1 0h1M1033 1346h37m3 0h2M1033 1347h38m1 0h2M1033 1348h34m2 0h3m1 0h2M1033 1349h34m1 0h2m2 0h1M1032 1350h37m1 0h1M1032 1351h34m3 0h4M1033 1352h33m1 0h2M1032 1353h38m1 0h2M1033 1354h34M1032 1355h36m1 0h4M1032 1356h35m2 0h2m1 0h1M1033 1357h37M1032 1358h35m1 0h4M1032 1359h35m2 0h3M1033 1360h37m1 0h1M1032 1361h1m1 0h33m1 0h2m1 0h2M1032 1362h39M1032 1363h38M1032 1364h37m1 0h1M1032 1365h35m1 0h2m2 0h1M1033 1366h36m2 0h1M1033 1367h37M1032 1368h34m1 0h1m1 0h2m1 0h1M1032 1369h33m2 0h2m1 0h1M1032 1370h34m1 0h4M1033 1371h37m1 0h1M1033 1372h38M1032 1373h38M1032 1374h30m1 0h6M1033 1375h35m1 0h2M1033 1376h31m1 0h3m1 0h2M1033 1377h35m3 0h1M1033 1378h35m3 0h1M1032 1379h34m3 0h1M1032 1380h1m1 0h35M1033 1381h28m1 0h7m1 0h2M1032 1382h33m1 0h3m1 0h3M1032 1383h36m4 0h1M1034 1384h29m1 0h5M1032 1385h37m1 0h1M1032 1386h32m1 0h1m2 0h2M1032 1387h27m1 0h9M1032 1388h3m1 0h22m2 0h8m2 0h1M1032 1389h36m3 0h1M1033 1390h30m1 0h2m1 0h2m2 0h1M1033 1391h23m1 0h1m1 0h3m1 0h4m1 0h1m1 0h1M1033 1392h1m1 0h25m1 0h3m2 0h2m1 0h1m1 0h1M1032 1393h37M1033 1394h33m1 0h1M1032 1395h35m2 0h1M1032 1396h33m1 0h1m3 0h1M1033 1397h2m1 0h20m1 0h4m1 0h8M1032 1398h3m1 0h13m1 0h6m1 0h2m1 0h5m1 0h1m1 0h1m1 0h1M1033 1399h3m1 0h13m1 0h2m1 0h1m1 0h10m2 0h1M1033 1400h4m1 0h12m1 0h7m1 0h4m4 0h2M1033 1401h3m1 0h14m1 0h15M1034 1402h9m1 0h1m1 0h15m1 0h3m1 0h2M1034 1403h4m1 0h7m1 0h3m2 0h8m1 0h7M1033 1404h10m1 0h6m3 0h6m1 0h5m3 0h1M1032 1405h2m1 0h5m1 0h2m1 0h6m1 0h12m1 0h3m2 0h1M1032 1406h3m1 0h17m1 0h10m1 0h1m1 0h1m1 0h1M1033 1407h3m1 0h7m1 0h15m3 0h4M1033 1408h12m1 0h20M1032 1409h11m2 0h1m1 0h12m2 0h5M1033 1410h16m1 0h10m2 0h3M1033 1411h1m1 0h6m1 0h10m1 0h9m1 0h2m1 0h1M1034 1412h6m1 0h10m1 0h5m1 0h5m2 0h1m1 0h1M1033 1413h1m1 0h8m1 0h5m1 0h5m1 0h7m1 0h2M1033 1414h4m1 0h8m1 0h11m1 0h4m1 0h2M1034 1415h16m1 0h2m1 0h6m2 0h2m1 0h1M1033 1416h3m1 0h3m1 0h6m1 0h1m1 0h3m1 0h4m3 0h1m1 0h3M1033 1417h1m1 0h1m1 0h12m2 0h3m2 0h1m1 0h2m1 0h3"/><path stroke="#3178cc" d="M1040 1213h2M1040 1214h3m2 0h4M1040 1215h10M1040 1216h11M1040 1217h11M1039 1218h12M1038 1219h14M1038 1220h15M1037 1221h17M1037 1222h18M1037 1223h20M1036 1224h21M1036 1225h21M1036 1226h20M1036 1227h20M1036 1228h20M1036 1229h20M1035 1230h20M1035 1231h21M1035 1232h21M1035 1233h23M1035 1234h23M1035 1235h23M1035 1236h24M1035 1237h25M1034 1238h27M1034 1239h27M1035 1240h26M1035 1241h26M1035 1242h25M1034 1243h26M1034 1244h26M1034 1245h27M1034 1246h29M1034 1247h29M1035 1248h28M1035 1249h28M1035 1250h28M1035 1251h26M1034 1252h26M1034 1253h26M1034 1254h26M1034 1255h27M1034 1256h28M1034 1257h29M1034 1258h29M1034 1259h29M1034 1260h30M1034 1261h29M1033 1262h30M1033 1263h31M1033 1264h31M1034 1265h30M1034 1266h31M1034 1267h31M1034 1268h30M1034 1269h30M1033 1270h30M1033 1271h30M1033 1272h30M1033 1273h30M1033 1274h31M1033 1275h32M1033 1276h32M1033 1277h32M1033 1278h31M1033 1279h32M1033 1280h33M1033 1281h33M1033 1282h33M1033 1283h33M1033 1284h33M1033 1285h32M1033 1286h32M1033 1287h32M1033 1288h32M1033 1289h33M1033 1290h32M1033 1291h32M1033 1292h32M1033 1293h33M1033 1294h33M1033 1295h34M1033 1296h34M1033 1297h34M1033 1298h33M1033 1299h33M1033 1300h33M1033 1301h32M1033 1302h32M1033 1303h32M1033 1304h32M1033 1305h33M1033 1306h33M1033 1307h33M1033 1308h34M1033 1309h34M1033 1310h34M1033 1311h34M1033 1312h34M1033 1313h34M1033 1314h34M1033 1315h33M1034 1316h32M1034 1317h32M1034 1318h32M1034 1319h32M1033 1320h33M1033 1321h34M1033 1322h34M1033 1323h34M1033 1324h34M1033 1325h34M1033 1326h34M1033 1327h34M1033 1328h33M1033 1329h33M1033 1330h33M1033 1331h33M1033 1332h33M1033 1333h33M1033 1334h33M1033 1335h32M1033 1336h32M1033 1337h32M1033 1338h32M1033 1339h32M1033 1340h32M1033 1341h32M1033 1342h32M1033 1343h32M1033 1344h32M1033 1345h33M1033 1346h33M1033 1347h33M1033 1348h33M1034 1349h32M1034 1350h32M1034 1351h32M1034 1352h31M1034 1353h30M1034 1354h30M1034 1355h30M1034 1356h30M1034 1357h30M1033 1358h31M1033 1359h31M1034 1360h30M1034 1361h31M1034 1362h31M1033 1363h32M1033 1364h31M1034 1365h29M1034 1366h28M1034 1367h28M1034 1368h29M1034 1369h29M1034 1370h29M1034 1371h28M1034 1372h28M1034 1373h27M1034 1374h27M1034 1375h28M1034 1376h28M1034 1377h28M1034 1378h25M1035 1379h23M1035 1380h23M1035 1381h24M1035 1382h27M1036 1383h26M1036 1384h25M1037 1385h24M1036 1386h21M1037 1387h19M1037 1388h18M1037 1389h17M1037 1390h17M1037 1391h17M1036 1392h18M1035 1393h18M1035 1394h18M1036 1395h15M1036 1396h14M1037 1397h12M1037 1398h11M1039 1399h7M1039 1400h6M1039 1401h5M1039 1402h4M1040 1403h2M1039 1408h2"/><path stroke="#3c9fdc" d="M1046 1216h2M1045 1217h4M1044 1218h6M1044 1219h6M1044 1220h6M1044 1221h7M1043 1222h9M1039 1223h13M1038 1224h15M1038 1225h15M1038 1226h15M1038 1227h15M1038 1228h15M1039 1229h14M1038 1230h16M1037 1231h17M1036 1232h18M1036 1233h18M1037 1234h18M1037 1235h19M1037 1236h19M1036 1237h20M1036 1238h20M1035 1239h20M1036 1240h19M1036 1241h20M1036 1242h20M1035 1243h22M1035 1244h22M1035 1245h22M1035 1246h22M1035 1247h22M1035 1248h23M1035 1249h23M1035 1250h23M1035 1251h23M1035 1252h23M1035 1253h23M1035 1254h24M1035 1255h24M1035 1256h25M1035 1257h25M1035 1258h26M1035 1259h26M1034 1260h27M1034 1261h27M1034 1262h27M1034 1263h28M1034 1264h28M1034 1265h29M1034 1266h29M1034 1267h29M1034 1268h28M1034 1269h28M1034 1270h27M1034 1271h27M1034 1272h27M1034 1273h28M1034 1274h28M1034 1275h28M1034 1276h29M1034 1277h28M1034 1278h28M1034 1279h28M1034 1280h29M1033 1281h30M1033 1282h31M1033 1283h31M1033 1284h31M1033 1285h31M1033 1286h31M1033 1287h31M1033 1288h31M1033 1289h31M1033 1290h31M1033 1291h31M1033 1292h30M1033 1293h30M1033 1294h31M1033 1295h31M1033 1296h31M1033 1297h32M1033 1298h32M1033 1299h31M1033 1300h31M1033 1301h30M1033 1302h30M1033 1303h30M1033 1304h31M1034 1305h30M1034 1306h30M1034 1307h30M1034 1308h31M1034 1309h31M1034 1310h32M1034 1311h32M1034 1312h32M1034 1313h31M1034 1314h31M1034 1315h31M1034 1316h30M1034 1317h30M1034 1318h31M1034 1319h31M1034 1320h31M1034 1321h31M1034 1322h32M1034 1323h32M1034 1324h32M1034 1325h32M1034 1326h32M1034 1327h32M1034 1328h31M1034 1329h31M1034 1330h31M1034 1331h31M1034 1332h31M1034 1333h31M1034 1334h31M1034 1335h30M1034 1336h30M1034 1337h30M1034 1338h30M1034 1339h30M1034 1340h30M1034 1341h30M1034 1342h30M1034 1343h30M1034 1344h30M1034 1345h30M1034 1346h31M1034 1347h31M1034 1348h31M1034 1349h31M1034 1350h31M1034 1351h30M1034 1352h29M1034 1353h28M1035 1354h27M1035 1355h27M1035 1356h27M1034 1357h28M1034 1358h28M1034 1359h28M1034 1360h29M1034 1361h29M1034 1362h28M1034 1363h27M1034 1364h27M1034 1365h26M1035 1366h25M1035 1367h24M1035 1368h24M1035 1369h24M1035 1370h24M1035 1371h24M1035 1372h23M1035 1373h23M1035 1374h23M1035 1375h23M1035 1376h23M1035 1377h23M1035 1378h22M1036 1379h21M1036 1380h20M1037 1381h19M1037 1382h20M1038 1383h19M1040 1384h17M1042 1385h13M1042 1386h12M1042 1387h8M1042 1388h6M1042 1389h5M1042 1390h5M1042 1391h4"/><path stroke="#48b7cf" d="M1046 1219h1M1045 1224h2M1043 1225h4M1042 1226h5M1041 1227h7M1040 1228h10M1040 1229h11M1040 1230h12M1039 1231h14M1038 1232h15M1038 1233h15M1038 1234h15M1038 1235h15M1038 1236h16M1038 1237h16M1037 1238h17M1037 1239h17M1037 1240h16M1037 1241h17M1037 1242h18M1036 1243h19M1036 1244h19M1036 1245h19M1036 1246h19M1036 1247h18M1036 1248h18M1036 1249h19M1036 1250h20M1036 1251h20M1036 1252h20M1036 1253h21M1036 1254h21M1036 1255h22M1036 1256h22M1036 1257h23M1036 1258h23M1035 1259h24M1035 1260h24M1035 1261h24M1034 1262h25M1034 1263h25M1035 1264h24M1035 1265h25M1035 1266h25M1035 1267h25M1035 1268h25M1035 1269h25M1035 1270h25M1034 1271h26M1034 1272h26M1034 1273h26M1034 1274h27M1034 1275h27M1034 1276h27M1034 1277h27M1034 1278h27M1034 1279h27M1034 1280h27M1034 1281h27M1034 1282h27M1034 1283h28M1034 1284h28M1034 1285h29M1034 1286h29M1034 1287h29M1034 1288h29M1034 1289h29M1034 1290h29M1034 1291h29M1034 1292h28M1034 1293h28M1034 1294h28M1034 1295h28M1034 1296h28M1034 1297h28M1034 1298h28M1034 1299h28M1034 1300h28M1034 1301h27M1034 1302h28M1034 1303h28M1034 1304h28M1034 1305h29M1034 1306h29M1034 1307h29M1034 1308h29M1034 1309h29M1034 1310h30M1034 1311h30M1034 1312h30M1034 1313h30M1034 1314h29M1035 1315h28M1035 1316h27M1035 1317h27M1035 1318h28M1035 1319h28M1035 1320h28M1035 1321h28M1035 1322h29M1035 1323h29M1035 1324h29M1035 1325h29M1035 1326h29M1035 1327h29M1035 1328h29M1035 1329h29M1035 1330h29M1035 1331h29M1035 1332h29M1035 1333h29M1035 1334h28M1035 1335h28M1035 1336h28M1035 1337h27M1034 1338h29M1034 1339h29M1034 1340h29M1034 1341h29M1034 1342h29M1034 1343h29M1034 1344h29M1034 1345h29M1034 1346h29M1034 1347h30M1034 1348h30M1035 1349h29M1035 1350h28M1035 1351h27M1035 1352h27M1035 1353h26M1035 1354h26M1036 1355h25M1036 1356h25M1035 1357h26M1035 1358h26M1035 1359h26M1035 1360h26M1035 1361h25M1035 1362h25M1035 1363h25M1035 1364h24M1035 1365h24M1036 1366h23M1036 1367h22M1036 1368h22M1036 1369h21M1035 1370h22M1036 1371h21M1036 1372h21M1036 1373h20M1036 1374h20M1036 1375h20M1036 1376h20M1036 1377h20M1036 1378h20M1037 1379h18M1038 1380h16M1039 1381h6m4 0h5M1040 1382h4m7 0h3M1051 1383h4M1053 1384h1M1045 1385h1"/><path stroke="#58bd7a" d="M1045 1231h4M1045 1232h4M1045 1233h3M1045 1234h2M1043 1235h5M1041 1236h8M1040 1237h10M1040 1238h10M1039 1239h11M1040 1240h9M1040 1241h9M1040 1242h10M1039 1243h13M1038 1244h15M1038 1245h15M1038 1246h15M1038 1247h15M1038 1248h15M1038 1249h15M1038 1250h16M1037 1251h17M1037 1252h17M1037 1253h18M1037 1254h18M1037 1255h18M1037 1256h19M1037 1257h19M1037 1258h20M1036 1259h21M1036 1260h21M1035 1261h22M1035 1262h22M1035 1263h22M1035 1264h22M1036 1265h21M1036 1266h21M1036 1267h21M1036 1268h21M1035 1269h22M1035 1270h23M1035 1271h23M1035 1272h23M1035 1273h24M1035 1274h24M1035 1275h23M1035 1276h23M1035 1277h24M1035 1278h24M1035 1279h24M1034 1280h26M1034 1281h26M1034 1282h25M1034 1283h25M1034 1284h25M1034 1285h25M1034 1286h26M1034 1287h26M1034 1288h26M1034 1289h26M1034 1290h27M1034 1291h27M1034 1292h27M1034 1293h27M1034 1294h27M1035 1295h25M1035 1296h25M1035 1297h25M1035 1298h24M1035 1299h24M1034 1300h25M1034 1301h25M1034 1302h25M1034 1303h26M1035 1304h25M1035 1305h25M1035 1306h25M1035 1307h25M1035 1308h26M1035 1309h26M1035 1310h27M1035 1311h27M1035 1312h27M1035 1313h27M1035 1314h26M1035 1315h26M1036 1316h25M1036 1317h25M1036 1318h25M1036 1319h25M1036 1320h26M1035 1321h27M1036 1322h26M1036 1323h26M1036 1324h26M1036 1325h26M1036 1326h26M1036 1327h26M1036 1328h26M1035 1329h27M1036 1330h26M1036 1331h26M1036 1332h26M1036 1333h26M1036 1334h26M1036 1335h26M1036 1336h25M1035 1337h26M1035 1338h26M1035 1339h27M1035 1340h27M1035 1341h27M1035 1342h27M1035 1343h27M1035 1344h27M1035 1345h27M1035 1346h27M1035 1347h27M1035 1348h27M1036 1349h26M1036 1350h25M1036 1351h25M1036 1352h24M1036 1353h24M1036 1354h24M1037 1355h23M1037 1356h23M1037 1357h23M1037 1358h23M1037 1359h22M1037 1360h22M1036 1361h23M1036 1362h23M1036 1363h22M1036 1364h22M1037 1365h20M1037 1366h20M1037 1367h19M1037 1368h19M1037 1369h19M1037 1370h19M1038 1371h18M1039 1372h16M1040 1373h15M1041 1374h13M1042 1375h12M1043 1376h11M1045 1377h9M1047 1378h5"/><path stroke="#6cc344" d="M1044 1241h2M1044 1242h2M1044 1243h3M1044 1244h4M1044 1245h5M1043 1246h7M1042 1247h8M1041 1248h9M1041 1249h9M1041 1250h10M1041 1251h10M1041 1252h11M1040 1253h12M1040 1254h12M1039 1255h13M1039 1256h14M1039 1257h14M1039 1258h15M1038 1259h16M1038 1260h17M1037 1261h18M1037 1262h18M1037 1263h18M1037 1264h18M1037 1265h18M1037 1266h17M1037 1267h17M1037 1268h18M1037 1269h18M1037 1270h18M1037 1271h18M1036 1272h19M1036 1273h19M1036 1274h20M1036 1275h19M1036 1276h19M1036 1277h19M1036 1278h19M1036 1279h20M1035 1280h22M1035 1281h22M1035 1282h22M1035 1283h22M1035 1284h22M1035 1285h22M1035 1286h22M1035 1287h22M1036 1288h21M1036 1289h21M1036 1290h21M1036 1291h21M1036 1292h21M1036 1293h21M1036 1294h21M1036 1295h21M1036 1296h21M1036 1297h21M1036 1298h21M1036 1299h20M1036 1300h20M1036 1301h20M1036 1302h20M1036 1303h21M1037 1304h20M1037 1305h20M1037 1306h20M1037 1307h20M1037 1308h20M1037 1309h20M1037 1310h19M1037 1311h19M1037 1312h19M1037 1313h20M1037 1314h21M1038 1315h20M1038 1316h20M1038 1317h21M1038 1318h21M1038 1319h21M1038 1320h22M1038 1321h22M1038 1322h22M1038 1323h22M1038 1324h22M1039 1325h21M1039 1326h21M1039 1327h21M1038 1328h22M1038 1329h22M1038 1330h22M1038 1331h22M1038 1332h22M1038 1333h22M1038 1334h22M1038 1335h22M1038 1336h22M1038 1337h22M1038 1338h22M1038 1339h22M1038 1340h22M1038 1341h22M1038 1342h22M1037 1343h23M1037 1344h23M1037 1345h23M1037 1346h22M1037 1347h22M1037 1348h22M1037 1349h22M1037 1350h22M1037 1351h22M1038 1352h21M1038 1353h20M1038 1354h20M1039 1355h19M1039 1356h19M1039 1357h19M1039 1358h19M1039 1359h19M1039 1360h19M1039 1361h18M1039 1362h18M1039 1363h17M1039 1364h16M1040 1365h15M1040 1366h14M1040 1367h13M1040 1368h13M1041 1369h12M1042 1370h12M1043 1371h10M1044 1372h8M1045 1373h5M1046 1374h2"/><path stroke="#a5cf28" d="M1046 1252h2M1045 1253h4M1042 1254h8M1041 1255h9M1041 1256h10M1041 1257h10M1041 1258h10M1041 1259h10M1041 1260h10M1041 1261h11M1040 1262h12M1040 1263h12M1039 1264h13M1039 1265h13M1039 1266h13M1039 1267h14M1038 1268h15M1038 1269h15M1038 1270h15M1038 1271h15M1038 1272h15M1038 1273h15M1037 1274h16M1037 1275h16M1037 1276h16M1037 1277h16M1037 1278h16M1037 1279h16M1037 1280h17M1037 1281h17M1037 1282h17M1037 1283h17M1037 1284h17M1037 1285h17M1037 1286h18M1037 1287h18M1037 1288h17M1037 1289h17M1037 1290h17M1037 1291h16M1037 1292h16M1038 1293h15M1038 1294h15M1038 1295h15M1038 1296h16M1038 1297h16M1038 1298h15M1038 1299h15M1038 1300h15M1038 1301h15M1039 1302h14M1039 1303h14M1040 1304h14M1040 1305h14M1040 1306h14M1041 1307h13M1041 1308h13M1041 1309h13M1041 1310h13M1041 1311h13M1041 1312h13M1041 1313h13M1041 1314h13M1041 1315h14M1041 1316h14M1041 1317h15M1041 1318h15M1041 1319h15M1041 1320h16M1041 1321h17M1041 1322h17M1041 1323h17M1041 1324h17M1041 1325h17M1041 1326h17M1041 1327h18M1041 1328h18M1041 1329h18M1040 1330h19M1040 1331h19M1040 1332h19M1040 1333h19M1040 1334h19M1040 1335h19M1040 1336h19M1040 1337h19M1040 1338h19M1040 1339h19M1040 1340h19M1040 1341h18M1040 1342h18M1040 1343h18M1040 1344h18M1040 1345h18M1040 1346h18M1040 1347h18M1040 1348h18M1039 1349h19M1039 1350h18M1039 1351h18M1040 1352h17M1040 1353h17M1040 1354h17M1041 1355h16M1041 1356h15M1041 1357h15M1041 1358h15M1041 1359h15M1041 1360h14M1041 1361h14M1041 1362h13M1042 1363h12M1042 1364h11M1042 1365h10M1042 1366h9M1043 1367h7M1044 1368h6M1046 1369h3"/><path stroke="#d8d81f" d="M1047 1256h1M1046 1257h2M1045 1258h4M1044 1259h5M1043 1260h6M1043 1261h6M1043 1262h6M1043 1263h6M1042 1264h8M1042 1265h8M1042 1266h9M1041 1267h10M1041 1268h10M1041 1269h10M1040 1270h11M1040 1271h11M1040 1272h11M1039 1273h12M1039 1274h12M1039 1275h12M1039 1276h12M1039 1277h12M1039 1278h12M1039 1279h12M1039 1280h12M1039 1281h12M1039 1282h12M1039 1283h12M1039 1284h13M1039 1285h13M1039 1286h13M1039 1287h13M1040 1288h12M1040 1289h12M1040 1290h11M1040 1291h11M1040 1292h11M1040 1293h10M1040 1294h10M1040 1295h9M1040 1296h9M1041 1297h8M1041 1298h9M1041 1299h9M1041 1300h9M1041 1301h9M1041 1302h9M1041 1303h10M1042 1304h8M1043 1305h6M1047 1310h3M1045 1311h5M1045 1312h4M1045 1313h4M1046 1314h4M1046 1315h5M1046 1316h6M1046 1317h6M1045 1318h7M1044 1319h9M1044 1320h9M1044 1321h10M1044 1322h11M1043 1323h12M1043 1324h12M1043 1325h13M1043 1326h13M1043 1327h14M1043 1328h14M1043 1329h14M1043 1330h14M1042 1331h15M1042 1332h15M1042 1333h15M1042 1334h15M1042 1335h15M1042 1336h15M1041 1337h16M1041 1338h16M1041 1339h16M1041 1340h16M1041 1341h16M1041 1342h16M1041 1343h16M1041 1344h16M1041 1345h16M1041 1346h16M1041 1347h15M1041 1348h15M1041 1349h15M1041 1350h15M1041 1351h15M1042 1352h13M1042 1353h13M1042 1354h13M1042 1355h13M1043 1356h11M1043 1357h11M1043 1358h10M1043 1359h10M1044 1360h8M1044 1361h8M1044 1362h8M1044 1363h7M1044 1364h6M1044 1365h5M1046 1366h2"/><path stroke="#f6c01c" d="M1045 1265h1M1044 1266h4M1044 1267h5M1044 1268h5M1044 1269h6M1045 1270h5M1044 1271h5M1044 1272h5M1043 1273h5M1042 1274h7M1041 1275h8M1041 1276h9M1041 1277h9M1041 1278h9M1041 1279h9M1041 1280h9M1041 1281h8M1041 1282h8M1041 1283h8M1041 1284h8M1041 1285h8M1042 1286h6M1042 1287h6M1043 1288h5M1043 1289h5M1043 1290h5M1043 1291h5M1042 1292h6M1042 1293h4M1043 1294h3M1044 1295h2M1049 1323h2M1048 1324h4M1047 1325h6M1046 1326h8M1045 1327h9M1045 1328h10M1045 1329h10M1045 1330h11M1045 1331h11M1044 1332h12M1044 1333h12M1044 1334h12M1044 1335h12M1043 1336h13M1043 1337h13M1042 1338h14M1042 1339h14M1042 1340h14M1043 1341h13M1043 1342h13M1043 1343h13M1043 1344h13M1043 1345h13M1043 1346h13M1043 1347h12M1043 1348h12M1043 1349h12M1043 1350h12M1043 1351h11M1043 1352h11M1044 1353h10M1044 1354h9M1044 1355h9M1044 1356h8M1045 1357h7M1045 1358h6M1045 1359h5M1045 1360h4M1046 1361h3M1046 1362h2"/><path stroke="#f7981e" d="M1044 1277h2M1043 1278h3M1043 1279h4M1043 1280h4M1043 1281h3M1044 1282h2M1048 1328h2M1048 1329h4M1048 1330h5M1047 1331h7M1047 1332h7M1047 1333h7M1046 1334h8M1046 1335h8M1046 1336h8M1045 1337h9M1044 1338h11M1044 1339h11M1044 1340h10M1044 1341h10M1044 1342h10M1044 1343h10M1044 1344h10M1044 1345h10M1044 1346h10M1044 1347h10M1044 1348h10M1044 1349h9M1045 1350h8M1045 1351h8M1045 1352h7M1046 1353h5M1046 1354h5M1046 1355h4M1046 1356h4M1046 1357h3"/><path stroke="#f46a22" d="M1049 1333h1M1049 1334h2M1048 1335h3M1048 1336h3M1047 1337h4M1047 1338h5M1047 1339h5M1047 1340h6M1046 1341h7M1046 1342h6M1046 1343h6M1046 1344h6M1046 1345h6M1046 1346h6M1046 1347h6M1047 1348h5M1048 1349h3M1049 1350h1"/><path stroke="#fff" d="M1046 1215h2M1043 1216h3M1043 1219h1m7 0h1M1041 1221h1M1039 1223h1M1039 1224h1M1051 1227h1M1055 1228h1M1038 1229h1M1054 1230h1M1043 1231h1M1038 1232h1M1036 1233h1M1036 1234h1M1050 1236h1m5 0h1M1042 1237h1m12 0h1M1044 1238h1m12 0h2M1053 1239h1m4 0h1M1043 1241h1M1048 1243h1M1057 1244h1M1035 1245h1m19 0h1M1037 1246h1m3 0h1M1039 1247h1m4 0h1m5 0h1M1051 1248h1M1046 1249h1m12 0h1M1037 1251h1M1045 1255h1M1047 1256h1M1040 1257h1m13 0h1M1048 1258h1M1035 1259h1m23 0h1M1034 1260h1M1034 1261h1M1039 1263h1m22 0h1M1062 1264h2M1039 1266h1m1 0h1m11 0h1m2 0h1M1041 1269h1M1048 1271h1m11 0h1M1048 1272h1m10 0h1M1053 1273h1M1035 1274h1m9 0h1M1038 1277h1M1057 1278h1M1044 1279h1m12 0h1m5 0h2M1039 1280h1m9 0h1m11 0h1M1061 1282h1M1053 1284h1M1049 1285h1m6 0h1M1041 1287h1m3 0h2m17 0h1M1044 1288h1M1035 1290h1M1036 1291h1m3 0h1M1050 1292h1m10 0h1M1063 1294h1M1057 1296h1m4 0h1M1057 1298h1M1051 1299h1m3 0h1m7 0h1M1051 1300h1M1063 1301h1M1048 1302h1m5 0h1M1036 1303h1M1054 1304h1M1056 1305h2m4 0h1M1050 1306h1M1048 1307h1M1056 1308h1M1042 1312h1m22 0h1M1035 1314h1m21 0h1M1050 1316h1m14 0h1M1059 1317h1M1049 1318h1m1 0h1m11 0h1M1034 1319h1m8 0h1M1034 1320h1m14 0h1m5 0h1m4 0h1M1044 1321h1M1035 1322h1m5 0h1M1050 1323h1M1066 1324h1M1062 1325h1m1 0h1M1063 1326h1M1040 1328h1m1 0h1m19 0h1M1043 1329h1M1045 1330h1M1041 1331h1m15 0h1M1033 1332h1m31 0h1M1033 1335h1M1033 1337h2M1057 1338h1M1033 1339h1M1060 1340h1M1045 1341h1m4 0h1M1040 1343h1m9 0h1m13 0h1M1043 1344h1m1 0h1m4 0h1m1 0h1M1065 1345h1M1046 1346h1m10 0h1m3 0h1M1034 1347h1m3 0h1m26 0h1M1039 1348h1m18 0h1m4 0h1M1038 1349h1m21 0h1M1036 1350h1M1063 1352h1M1056 1353h1M1052 1354h1M1037 1356h1m21 0h1M1037 1357h1m10 0h1M1036 1360h1m7 0h1M1060 1361h1M1059 1362h1M1038 1363h1M1035 1364h1M1061 1365h1M1040 1366h1m16 0h1m3 0h1M1060 1367h1M1060 1370h1M1035 1371h1m12 0h1m12 0h1M1036 1372h1m16 0h1M1034 1373h1m9 0h1m2 0h1M1058 1375h1M1047 1376h1M1043 1377h1M1053 1378h2M1047 1379h1M1056 1380h1M1053 1381h1M1036 1382h1m3 0h1m12 0h1M1059 1383h1M1056 1384h1M1037 1385h2m4 0h1m2 0h1M1054 1386h1M1043 1387h1m3 0h1M1047 1391h1M1045 1393h1M1039 1395h1M1048 1396h1M1037 1398h1M1040 1399h1m3 0h1M1040 1403h1"/></g>
<path d="M874.5 1150.44H1142.85" stroke="#858585" stroke-width="0.9" fill="none"/>
<path d="M1142.45 1150.44V1418.44" stroke="#858585" stroke-width="0.95" fill="none"/>
<path d="M874.5 1150.44V1418.84M874.1 1418.44H1142.85" stroke="#3a3a3a" stroke-width="0.85" fill="none"/>
<path d="M867.1 1417.34H874.8M875.7 1418.24V1425.64M867.1 1364.24H874.8M927.95 1418.24V1425.64M867.1 1310.79H874.8M981.4 1418.24V1425.64M867.1 1257.34H874.8M1034.85 1418.24V1425.64M867.1 1203.89H874.8M1088.3 1418.24V1425.64M867.1 1151.74H874.8M1141.15 1418.24V1425.64" stroke="#000" stroke-width="1.6" fill="none"/>
<path d="M869.2 1380.33H874.5M911.86 1418.44V1423.74M869.2 1326.88H874.5M965.31 1418.44V1423.74M869.2 1273.43H874.5M1018.76 1418.44V1423.74M869.2 1219.98H874.5M1072.21 1418.44V1423.74M869.2 1166.53H874.5M1125.66 1418.44V1423.74" stroke="#000" stroke-width="1.3" fill="none"/>
<path d="M870.8 1401.6H874.5M890.59 1418.44V1422.14M870.8 1392.19H874.5M900 1418.44V1422.14M870.8 1385.51H874.5M906.68 1418.44V1422.14M870.8 1376.1H874.5M916.09 1418.44V1422.14M870.8 1372.52H874.5M919.67 1418.44V1422.14M870.8 1369.42H874.5M922.77 1418.44V1422.14M870.8 1366.69H874.5M925.5 1418.44V1422.14M870.8 1348.15H874.5M944.04 1418.44V1422.14M870.8 1338.74H874.5M953.45 1418.44V1422.14M870.8 1332.06H874.5M960.13 1418.44V1422.14M870.8 1322.65H874.5M969.54 1418.44V1422.14M870.8 1319.07H874.5M973.12 1418.44V1422.14M870.8 1315.97H874.5M976.22 1418.44V1422.14M870.8 1313.24H874.5M978.95 1418.44V1422.14M870.8 1294.7H874.5M997.49 1418.44V1422.14M870.8 1285.29H874.5M1006.9 1418.44V1422.14M870.8 1278.61H874.5M1013.58 1418.44V1422.14M870.8 1269.2H874.5M1022.99 1418.44V1422.14M870.8 1265.62H874.5M1026.57 1418.44V1422.14M870.8 1262.52H874.5M1029.67 1418.44V1422.14M870.8 1259.79H874.5M1032.4 1418.44V1422.14M870.8 1241.25H874.5M1050.94 1418.44V1422.14M870.8 1231.84H874.5M1060.35 1418.44V1422.14M870.8 1225.16H874.5M1067.03 1418.44V1422.14M870.8 1215.75H874.5M1076.44 1418.44V1422.14M870.8 1212.17H874.5M1080.02 1418.44V1422.14M870.8 1209.07H874.5M1083.12 1418.44V1422.14M870.8 1206.34H874.5M1085.85 1418.44V1422.14M870.8 1187.8H874.5M1104.39 1418.44V1422.14M870.8 1178.39H874.5M1113.8 1418.44V1422.14M870.8 1171.71H874.5M1120.48 1418.44V1422.14M870.8 1162.3H874.5M1129.89 1418.44V1422.14M870.8 1158.72H874.5M1133.47 1418.44V1422.14M870.8 1155.62H874.5M1136.57 1418.44V1422.14M870.8 1152.89H874.5M1139.3 1418.44V1422.14" stroke="#000" stroke-width="1.3" fill="none"/>
<g><text x="851.6" y="1416.54" text-anchor="end">10</text><text x="852.4" y="1402.04">0</text><text x="879.5" y="1463.74">10</text><text x="900.8" y="1449.14">0</text><text x="851.6" y="1376.34" text-anchor="end">10</text><text x="852.4" y="1361.74">1</text><text x="918.35" y="1463.74">10</text><text x="939.65" y="1449.14">1</text><text x="851.6" y="1322.89" text-anchor="end">10</text><text x="852.4" y="1308.29">2</text><text x="971.8" y="1463.74">10</text><text x="993.1" y="1449.14">2</text><text x="851.6" y="1269.44" text-anchor="end">10</text><text x="852.4" y="1254.84">3</text><text x="1025.25" y="1463.74">10</text><text x="1046.55" y="1449.14">3</text><text x="851.6" y="1215.99" text-anchor="end">10</text><text x="852.4" y="1201.39">4</text><text x="1078.7" y="1463.74">10</text><text x="1100" y="1449.14">4</text><text x="851.6" y="1184.44" text-anchor="end">10</text><text x="852.4" y="1170.04">5</text><text x="1111.5" y="1463.74">10</text><text x="1132.8" y="1449.14">5</text></g>
<text x="1008.12" y="1476.04" text-anchor="middle">FSC-A</text>
<text transform="translate(836 1283.04) rotate(-90)" text-anchor="middle">Dapi</text>
<path d="M969 1418.44V1273.34H1086.3V1418.44" fill="none" stroke="#000" stroke-width="1.5"/>
<path d="M1032.5 1417.94H1060.5" stroke="#d8564a" stroke-width="1.3" fill="none"/>
<text x="910" y="1225.44">81,0</text>
</g>
<g id="p33">
<g class="d" transform="translate(0 0.5)"><path stroke="#7f90bb" d="M1370 1211h1M1427 1212h1m25 0h1M1330 1213h1m14 0h1m79 0h1M1313 1214h1m47 0h1m13 0h1M1364 1215h1m13 0h1m44 0h1M1323 1216h1m2 0h1m9 0h1m4 0h1m37 0h1m7 0h1m46 0h1m10 0h1M1417 1217h1M1257 1218h1m41 0h1m116 0h1m4 0h1m8 0h1m5 0h1M1286 1219h1m2 0h1m110 0h1m12 0h2m5 0h2m13 0h1M1244 1220h2m8 0h1m26 0h2m133 0h1m3 0h1m2 0h2m3 0h1M1248 1221h1m2 0h1m24 0h1m130 0h1m7 0h1m14 0h1m4 0h1M1250 1222h1m11 0h1m151 0h1m3 0h1m5 0h1m5 0h1M1420 1223h2m2 0h1m4 0h1m9 0h1m7 0h1M1239 1224h1m190 0h1m11 0h1m11 0h1M1238 1225h1M1432 1226h1M1433 1228h1M1433 1229h2m1 0h1M1437 1230h1m4 0h1M1435 1231h1m3 0h1M1435 1232h1m1 0h3m2 0h1M1435 1233h1m5 0h1M1440 1234h1M1440 1235h1M1442 1236h1M1438 1237h1M1440 1238h1M1441 1239h1M1441 1240h1M1237 1241h1m202 0h1M1434 1242h1M1443 1243h1M1442 1244h1m5 0h1M1438 1245h1M1435 1246h1m1 0h1M1435 1247h1m3 0h1M1431 1252h1M1427 1253h1m2 0h1m2 0h1M1236 1254h1m191 0h1m9 0h2m5 0h1M1420 1255h1m15 0h1M1422 1256h2m4 0h1m7 0h1M1424 1257h1m1 0h1M1246 1259h1m171 0h2"/><path stroke="#2755ab" d="M1353 1215h1M1351 1216h3m4 0h1m1 0h1m2 0h2m3 0h1m1 0h1M1311 1217h2m8 0h1m1 0h1m11 0h1m16 0h1m1 0h1m6 0h1m5 0h1m3 0h1m1 0h1M1304 1218h1m2 0h3m1 0h1m5 0h1m1 0h2m1 0h1m2 0h1m1 0h1m1 0h1m2 0h2m1 0h1m4 0h2m1 0h2m1 0h3m1 0h3m3 0h2m1 0h4m2 0h3m2 0h1m2 0h1m1 0h3m4 0h1m6 0h2M1300 1219h1m4 0h1m3 0h1m3 0h2m2 0h2m2 0h3m4 0h1m4 0h4m6 0h3m1 0h2m1 0h1m1 0h9m1 0h3m1 0h3m1 0h11m1 0h2m2 0h1m2 0h1M1287 1220h1m2 0h2m1 0h4m1 0h1m3 0h1m1 0h3m2 0h1m1 0h3m1 0h1m1 0h1m1 0h1m1 0h1m1 0h2m1 0h2m1 0h4m1 0h2m2 0h2m1 0h2m1 0h5m1 0h2m2 0h2m1 0h2m1 0h22m2 0h2m3 0h1m1 0h1m6 0h1M1283 1221h1m1 0h3m3 0h2m2 0h2m2 0h1m1 0h4m1 0h6m2 0h4m1 0h3m1 0h4m1 0h3m1 0h3m1 0h4m2 0h3m1 0h11m2 0h4m1 0h7m1 0h2m1 0h8m1 0h1m2 0h3m1 0h3m3 0h4m1 0h1M1242 1222h1m3 0h1m9 0h2m12 0h1m13 0h3m2 0h1m2 0h1m1 0h3m2 0h6m1 0h3m1 0h3m1 0h5m2 0h11m1 0h7m1 0h7m1 0h3m1 0h6m1 0h22m1 0h4m1 0h6m1 0h1m1 0h2m1 0h1m6 0h1M1243 1223h1m2 0h1m1 0h1m5 0h1m3 0h1m7 0h1m4 0h1m3 0h1m4 0h10m2 0h3m1 0h2m1 0h10m1 0h1m1 0h2m1 0h6m2 0h10m1 0h8m2 0h4m1 0h4m1 0h21m1 0h4m2 0h2m1 0h10m1 0h6m5 0h1m1 0h2m3 0h1M1242 1224h1m4 0h1m1 0h3m3 0h1m3 0h1m6 0h1m1 0h1m1 0h1m1 0h1m5 0h5m2 0h4m1 0h4m1 0h2m1 0h7m1 0h25m1 0h5m1 0h3m1 0h10m1 0h25m1 0h7m2 0h1m1 0h5m1 0h6m1 0h2m1 0h1m2 0h3m7 0h1m8 0h1M1241 1225h2m2 0h2m8 0h1m3 0h1m1 0h4m1 0h2m2 0h2m1 0h4m1 0h2m1 0h2m1 0h1m1 0h16m1 0h2m1 0h5m1 0h4m1 0h16m1 0h9m1 0h10m1 0h1m2 0h4m1 0h5m1 0h25m2 0h7m2 0h3m1 0h1m1 0h1m1 0h2m2 0h1m3 0h1m4 0h3M1239 1226h1m2 0h4m4 0h3m2 0h5m3 0h7m1 0h2m1 0h6m1 0h2m1 0h11m1 0h33m1 0h42m1 0h11m1 0h10m1 0h1m1 0h3m1 0h3m4 0h2m1 0h1m1 0h1m2 0h2m2 0h1m2 0h1m2 0h1M1238 1227h2m1 0h1m1 0h1m5 0h5m1 0h7m1 0h8m1 0h1m1 0h3m1 0h3m1 0h6m1 0h3m1 0h1m1 0h7m2 0h1m1 0h18m1 0h30m1 0h3m1 0h10m1 0h21m1 0h6m2 0h5m1 0h1m1 0h4m1 0h2m1 0h2m1 0h1m1 0h1m3 0h1M1241 1228h2m1 0h1m1 0h2m2 0h1m2 0h2m1 0h2m1 0h17m1 0h15m1 0h2m1 0h80m1 0h9m1 0h5m1 0h2m1 0h8m1 0h2m1 0h6m2 0h2m5 0h1m4 0h1M1236 1229h2m2 0h3m7 0h1m2 0h4m2 0h2m1 0h2m1 0h2m1 0h23m1 0h94m1 0h25m1 0h5m4 0h1m1 0h3m2 0h1M1237 1230h2m1 0h2m1 0h1m1 0h2m1 0h1m3 0h2m1 0h1m1 0h1m2 0h4m2 0h13m1 0h3m1 0h3m1 0h2m1 0h8m1 0h5m1 0h86m1 0h1m2 0h6m1 0h11m2 0h1m1 0h3m1 0h4M1237 1231h1m1 0h1m2 0h2m1 0h2m3 0h1m2 0h2m2 0h3m1 0h3m1 0h6m1 0h5m1 0h7m1 0h6m1 0h9m1 0h108m1 0h2m1 0h1m1 0h1m1 0h1m1 0h3m1 0h5M1237 1232h1m1 0h2m4 0h1m5 0h3m1 0h18m1 0h8m2 0h3m1 0h4m3 0h119m1 0h1m1 0h5m2 0h2m1 0h2m1 0h2M1237 1233h1m2 0h2m3 0h3m1 0h3m2 0h154m1 0h5m1 0h4m1 0h3m1 0h2m1 0h1m1 0h1m2 0h1M1238 1234h1m1 0h1m1 0h2m1 0h2m1 0h2m1 0h2m1 0h2m1 0h36m1 0h129m1 0h3m5 0h2M1238 1235h2m2 0h1m1 0h5m1 0h3m2 0h2m2 0h1m1 0h7m1 0h7m1 0h133m1 0h7m4 0h2m1 0h1m2 0h3M1241 1236h2m1 0h3m1 0h5m1 0h8m1 0h6m1 0h145m1 0h3m1 0h1m1 0h2m1 0h5m1 0h1m1 0h2M1238 1237h2m1 0h1m1 0h1m1 0h4m2 0h1m1 0h5m1 0h21m1 0h129m1 0h11m2 0h1m3 0h1m3 0h2m1 0h1M1239 1238h1m4 0h2m1 0h1m1 0h4m1 0h6m1 0h2m1 0h15m1 0h138m1 0h2m1 0h4m1 0h2m2 0h1m2 0h2M1240 1239h2m3 0h2m1 0h2m1 0h1m1 0h12m1 0h15m1 0h145m1 0h3m1 0h1M1239 1240h1m1 0h1m3 0h4m1 0h3m1 0h6m1 0h7m1 0h2m1 0h147m1 0h7m2 0h1m1 0h1m1 0h2M1239 1241h1m2 0h1m2 0h1m1 0h6m1 0h11m2 0h149m1 0h4m1 0h5m1 0h2m1 0h1M1243 1242h2m1 0h5m1 0h1m1 0h5m1 0h2m1 0h6m1 0h137m1 0h2m1 0h9m1 0h2m5 0h1m2 0h1M1239 1243h1m1 0h1m1 0h1m2 0h4m1 0h3m1 0h14m1 0h140m1 0h10m1 0h1m1 0h5m1 0h1M1239 1244h2m2 0h1m3 0h3m1 0h21m1 0h1m1 0h132m1 0h1m1 0h2m1 0h8m1 0h10M1242 1245h2m1 0h9m1 0h2m1 0h4m1 0h146m1 0h6m1 0h2m2 0h2m1 0h1m2 0h2m1 0h1m1 0h2M1238 1246h1m7 0h1m1 0h7m1 0h1m1 0h1m1 0h2m1 0h16m1 0h146m1 0h1m3 0h2M1238 1247h1m3 0h3m1 0h1m1 0h1m1 0h3m1 0h26m1 0h2m1 0h136m6 0h3m1 0h2M1236 1248h1m2 0h1m3 0h13m1 0h7m1 0h142m1 0h4m1 0h5m1 0h2m1 0h2M1237 1249h1m2 0h5m3 0h1m1 0h1m1 0h9m1 0h4m1 0h2m1 0h5m1 0h7m1 0h133m1 0h6m1 0h1m1 0h2M1237 1250h2m1 0h1m1 0h1m2 0h4m1 0h8m2 0h2m1 0h11m1 0h2m1 0h4m1 0h123m1 0h14m1 0h4M1236 1251h2m5 0h6m1 0h6m1 0h13m1 0h7m2 0h127m1 0h2m1 0h8m2 0h1M1238 1252h1m3 0h2m1 0h1m1 0h4m1 0h1m1 0h17m1 0h1m1 0h9m1 0h4m1 0h128m1 0h2m2 0h1M1237 1253h1m1 0h2m1 0h1m5 0h1m2 0h5m1 0h9m1 0h9m1 0h3m1 0h9m1 0h4m1 0h97m1 0h9m1 0h7m1 0h5m6 0h1M1241 1254h3m5 0h6m1 0h8m2 0h6m1 0h9m1 0h1m1 0h3m1 0h8m1 0h80m1 0h9m1 0h22m1 0h4m2 0h1m2 0h1M1240 1255h6m2 0h5m2 0h8m1 0h7m1 0h116m1 0h5m1 0h16m1 0h5M1238 1256h6m2 0h1m2 0h8m1 0h9m1 0h6m1 0h2m1 0h6m1 0h78m1 0h13m2 0h5m1 0h7m1 0h5m1 0h15m1 0h1M1241 1257h1m1 0h1m1 0h1m1 0h3m1 0h1m1 0h4m1 0h5m1 0h6m1 0h1m1 0h2m1 0h2m1 0h4m1 0h23m1 0h18m1 0h5m1 0h2m1 0h8m1 0h9m1 0h10m1 0h5m3 0h14m1 0h10m1 0h1m1 0h3m1 0h2m1 0h6m1 0h2M1240 1258h1m1 0h1m1 0h1m4 0h14m1 0h3m1 0h2m1 0h1m2 0h1m2 0h1m1 0h10m2 0h4m2 0h5m1 0h9m1 0h6m1 0h15m1 0h2m1 0h10m1 0h11m2 0h6m2 0h18m1 0h2m2 0h11m2 0h6m4 0h1M1258 1259h1m1 0h1m14 0h1m2 0h3m1 0h2m1 0h3m4 0h1m1 0h1m2 0h1m2 0h6m2 0h5m2 0h2m2 0h6m2 0h2m1 0h1m1 0h2m1 0h6m3 0h1m1 0h4m1 0h1m1 0h2m2 0h7m3 0h2m2 0h3m1 0h2m1 0h2m1 0h2m2 0h2m1 0h5m1 0h4m1 0h2m1 0h1m3 0h2m1 0h3m1 0h2"/><path stroke="#3178cc" d="M1333 1227h6m1 0h15m17 0h3M1320 1228h4m6 0h27m7 0h11M1318 1229h59m3 0h4M1306 1230h5m5 0h69M1306 1231h80m8 0h3M1305 1232h94M1289 1233h2m7 0h5m1 0h96M1289 1234h3m5 0h104M1290 1235h3m3 0h107M1290 1236h116M1290 1237h117M1285 1238h122M1276 1239h1m8 0h122M1275 1240h3m6 0h123M1275 1241h4m3 0h124M1277 1242h129M1278 1243h129M1281 1244h126M1283 1245h125M1283 1246h124M1284 1247h123M1284 1248h121M1284 1249h121M1286 1250h119M1290 1251h110m2 0h2M1291 1252h106M1301 1253h91M1305 1254h73m4 0h6M1309 1255h66M1325 1256h2m8 0h7m11 0h2"/><path stroke="#3c9fdc" d="M1335 1229h15m3 0h2M1329 1230h32m4 0h4M1318 1231h52m4 0h3m4 0h1M1309 1232h1m5 0h68M1308 1233h76m5 0h3M1307 1234h78m2 0h5M1300 1235h2m4 0h87M1300 1236h94M1299 1237h96m6 0h2M1297 1238h100m3 0h3M1296 1239h101m3 0h3M1290 1240h108m3 0h2M1290 1241h108m3 0h2M1289 1242h109m3 0h3M1289 1243h109M1289 1244h109M1289 1245h110M1288 1246h111M1288 1247h112M1289 1248h111M1291 1249h108M1294 1250h103M1302 1251h90M1304 1252h75m3 0h8M1307 1253h70M1314 1254h43m4 0h2m4 0h8M1335 1255h3"/><path stroke="#48b7cf" d="M1346 1230h3M1329 1231h23m2 0h4m1 0h2M1320 1232h49M1316 1233h61M1314 1234h69M1310 1235h73m6 0h2M1309 1236h76m1 0h5M1306 1237h86M1305 1238h88M1304 1239h88M1300 1240h92M1299 1241h93M1298 1242h97M1299 1243h96M1299 1244h97M1291 1245h2m7 0h96M1291 1246h3m6 0h97M1292 1247h3m6 0h96M1301 1248h96M1302 1249h90m2 0h1M1308 1250h72m5 0h1M1308 1251h70M1309 1252h3m2 0h49m4 0h9M1316 1253h1m3 0h36M1333 1254h5"/><path stroke="#58bd7a" d="M1329 1232h23M1322 1233h42M1318 1234h51M1314 1235h63M1312 1236h69M1311 1237h71M1309 1238h79M1307 1239h81M1306 1240h82M1305 1241h83M1305 1242h84M1305 1243h84M1306 1244h84M1306 1245h84M1306 1246h80M1308 1247h76M1309 1248h72M1310 1249h69M1313 1250h50m10 0h4M1319 1251h38M1321 1252h28m1 0h4M1333 1253h4"/><path stroke="#6cc344" d="M1334 1233h2m3 0h8M1325 1234h32M1322 1235h39M1320 1236h42M1314 1237h54M1313 1238h57M1311 1239h61M1310 1240h64M1309 1241h67M1309 1242h67M1310 1243h67M1311 1244h66M1313 1245h58m1 0h6M1313 1246h56m4 0h5M1314 1247h54m6 0h2M1315 1248h44M1319 1249h37M1322 1250h32M1329 1251h13"/><path stroke="#a5cf28" d="M1327 1235h21M1324 1236h32M1322 1237h36M1320 1238h39M1318 1239h42M1316 1240h45M1315 1241h46M1315 1242h46M1315 1243h46M1316 1244h44M1316 1245h43M1318 1246h40M1320 1247h36M1322 1248h31M1326 1249h23M1333 1250h6"/><path stroke="#d8d81f" d="M1331 1236h15M1326 1237h22M1323 1238h30M1321 1239h34M1320 1240h35M1319 1241h37M1318 1242h38M1319 1243h36M1320 1244h34M1322 1245h31M1323 1246h29M1326 1247h23M1328 1248h17"/><path stroke="#f6c01c" d="M1332 1237h5m1 0h5M1328 1238h20M1324 1239h26M1322 1240h29M1321 1241h31M1321 1242h31M1322 1243h29M1323 1244h28M1325 1245h24M1327 1246h20M1329 1247h16"/><path stroke="#f7981e" d="M1339 1238h3M1330 1239h16M1326 1240h22M1324 1241h24M1324 1242h24M1325 1243h22M1327 1244h19M1328 1245h17M1333 1246h11"/><path stroke="#f46a22" d="M1334 1240h10M1330 1241h15M1329 1242h16M1329 1243h16M1332 1244h12"/><path stroke="#fff" d="M1337 1227h1m12 0h1M1332 1228h1m3 0h1m13 0h1M1318 1229h1m36 0h1m5 0h1m6 0h1m6 0h1M1363 1230h1M1306 1231h1m11 0h1M1306 1232h1m65 0h1m3 0h1m2 0h1m15 0h1M1301 1233h1m9 0h1m20 0h1m16 0h1m5 0h1m35 0h1m1 0h2M1297 1234h1m70 0h1m28 0h1M1304 1235h1m8 0h1m16 0h1m52 0h2M1383 1236h1M1320 1237h1m50 0h1M1298 1238h1m14 0h1M1308 1239h1m19 0h1m45 0h1m20 0h2M1286 1240h1m27 0h1m4 0h1m65 0h1M1285 1241h1m20 0h1m72 0h1m6 0h1M1284 1242h1m6 0h1m43 0h1m1 0h1m11 0h1M1306 1243h1m21 0h1m45 0h1m29 0h1M1282 1244h1m13 0h1m43 0h1m11 0h1m5 0h1m21 0h1m4 0h1m13 0h1M1306 1245h1m64 0h1m28 0h1M1290 1246h1m14 0h2m5 0h1m9 0h1m79 0h1M1320 1247h1m18 0h1m13 0h1m16 0h1m11 0h1m15 0h1M1308 1248h1m10 0h1m16 0h1m21 0h1m5 0h1M1367 1249h1m7 0h2m4 0h1m8 0h1m12 0h1M1295 1250h1m34 0h1m15 0h1m25 0h1m7 0h1m12 0h1m5 0h2M1291 1251h1m6 0h1m21 0h1m25 0h1m14 0h1m17 0h1m9 0h1m3 0h1M1322 1252h1m41 0h1m8 0h2m1 0h1m6 0h1m10 0h1M1341 1253h1m33 0h1m6 0h1M1312 1254h1m21 0h1m21 0h1m26 0h1M1312 1255h2m1 0h1m15 0h1m1 0h1"/></g>
<path d="M1235.2 1150.44H1503.15" stroke="#858585" stroke-width="0.9" fill="none"/>
<rect x="1502.1" y="1150.04" width="1.9" height="268.8" fill="#bbbbbb"/>
<path d="M1235.2 1150.44V1418.84M1234.8 1418.44H1503.15" stroke="#3a3a3a" stroke-width="0.85" fill="none"/>
<path d="M1227.8 1417.34H1235.5M1236.4 1418.24V1425.64M1227.8 1364.24H1235.5M1288.65 1418.24V1425.64M1227.8 1310.79H1235.5M1342.1 1418.24V1425.64M1227.8 1257.34H1235.5M1395.55 1418.24V1425.64M1227.8 1203.89H1235.5M1449 1418.24V1425.64M1227.8 1151.74H1235.5M1501.85 1418.24V1425.64" stroke="#000" stroke-width="1.6" fill="none"/>
<path d="M1229.9 1380.33H1235.2M1272.56 1418.44V1423.74M1229.9 1326.88H1235.2M1326.01 1418.44V1423.74M1229.9 1273.43H1235.2M1379.46 1418.44V1423.74M1229.9 1219.98H1235.2M1432.91 1418.44V1423.74M1229.9 1166.53H1235.2M1486.36 1418.44V1423.74" stroke="#000" stroke-width="1.3" fill="none"/>
<path d="M1231.5 1401.6H1235.2M1251.29 1418.44V1422.14M1231.5 1392.19H1235.2M1260.7 1418.44V1422.14M1231.5 1385.51H1235.2M1267.38 1418.44V1422.14M1231.5 1376.1H1235.2M1276.79 1418.44V1422.14M1231.5 1372.52H1235.2M1280.37 1418.44V1422.14M1231.5 1369.42H1235.2M1283.47 1418.44V1422.14M1231.5 1366.69H1235.2M1286.2 1418.44V1422.14M1231.5 1348.15H1235.2M1304.74 1418.44V1422.14M1231.5 1338.74H1235.2M1314.15 1418.44V1422.14M1231.5 1332.06H1235.2M1320.83 1418.44V1422.14M1231.5 1322.65H1235.2M1330.24 1418.44V1422.14M1231.5 1319.07H1235.2M1333.82 1418.44V1422.14M1231.5 1315.97H1235.2M1336.92 1418.44V1422.14M1231.5 1313.24H1235.2M1339.65 1418.44V1422.14M1231.5 1294.7H1235.2M1358.19 1418.44V1422.14M1231.5 1285.29H1235.2M1367.6 1418.44V1422.14M1231.5 1278.61H1235.2M1374.28 1418.44V1422.14M1231.5 1269.2H1235.2M1383.69 1418.44V1422.14M1231.5 1265.62H1235.2M1387.27 1418.44V1422.14M1231.5 1262.52H1235.2M1390.37 1418.44V1422.14M1231.5 1259.79H1235.2M1393.1 1418.44V1422.14M1231.5 1241.25H1235.2M1411.64 1418.44V1422.14M1231.5 1231.84H1235.2M1421.05 1418.44V1422.14M1231.5 1225.16H1235.2M1427.73 1418.44V1422.14M1231.5 1215.75H1235.2M1437.14 1418.44V1422.14M1231.5 1212.17H1235.2M1440.72 1418.44V1422.14M1231.5 1209.07H1235.2M1443.82 1418.44V1422.14M1231.5 1206.34H1235.2M1446.55 1418.44V1422.14M1231.5 1187.8H1235.2M1465.09 1418.44V1422.14M1231.5 1178.39H1235.2M1474.5 1418.44V1422.14M1231.5 1171.71H1235.2M1481.18 1418.44V1422.14M1231.5 1162.3H1235.2M1490.59 1418.44V1422.14M1231.5 1158.72H1235.2M1494.17 1418.44V1422.14M1231.5 1155.62H1235.2M1497.27 1418.44V1422.14M1231.5 1152.89H1235.2M1500 1418.44V1422.14" stroke="#000" stroke-width="1.3" fill="none"/>
<g><text x="1212.3" y="1416.54" text-anchor="end">10</text><text x="1213.1" y="1402.04">0</text><text x="1239" y="1463.74">10</text><text x="1260.3" y="1449.14">0</text><text x="1212.3" y="1376.34" text-anchor="end">10</text><text x="1213.1" y="1361.74">1</text><text x="1277.85" y="1463.74">10</text><text x="1299.15" y="1449.14">1</text><text x="1212.3" y="1322.89" text-anchor="end">10</text><text x="1213.1" y="1308.29">2</text><text x="1331.3" y="1463.74">10</text><text x="1352.6" y="1449.14">2</text><text x="1212.3" y="1269.44" text-anchor="end">10</text><text x="1213.1" y="1254.84">3</text><text x="1384.75" y="1463.74">10</text><text x="1406.05" y="1449.14">3</text><text x="1212.3" y="1215.99" text-anchor="end">10</text><text x="1213.1" y="1201.39">4</text><text x="1438.2" y="1463.74">10</text><text x="1459.5" y="1449.14">4</text><text x="1212.3" y="1184.44" text-anchor="end">10</text><text x="1213.1" y="1170.04">5</text><text x="1471" y="1463.74">10</text><text x="1492.3" y="1449.14">5</text></g>
<text x="1367.62" y="1476.04" text-anchor="middle">CD3 CD19 CD20</text>
<text transform="translate(1196.5 1283.64) rotate(-90)" text-anchor="middle">FSC-A</text>
<path d="M1235.2 1218.84H1350.6V1305.44H1235.2" fill="none" stroke="#000" stroke-width="1.5"/>
<text x="1270.8" y="1186.84">65,2</text>
</g>
<text class="row" x="-0.6" y="1295.5">GBM 4</text>
</svg></body></html>
